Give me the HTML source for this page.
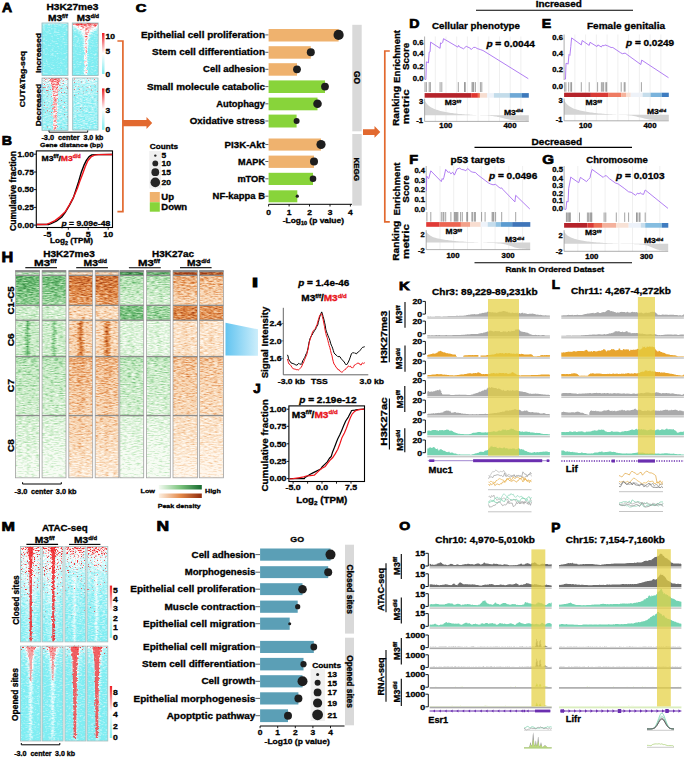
<!DOCTYPE html>
<html><head><meta charset="utf-8"><style>
html,body{margin:0;padding:0;background:#fff;}
svg{display:block;}
text{font-family:"Liberation Sans",sans-serif;font-weight:bold;stroke:#000;stroke-width:0.3px;}
</style></head><body>
<svg width="685" height="758" viewBox="0 0 685 758">
<defs>
<filter id="fRC" x="0" y="0" width="1" height="1" color-interpolation-filters="sRGB">
 <feTurbulence type="fractalNoise" baseFrequency="0.35 0.9" numOctaves="2" seed="3" result="n"/>
 <feColorMatrix in="n" type="matrix" values="1 0 0 0 0 1 0 0 0 0 1 0 0 0 0 0 0 0 0 1" result="ng"/>
 <feComposite in="SourceGraphic" in2="ng" operator="arithmetic" k1="0" k2="1" k3="0.9" k4="-0.45" result="v"/>
 <feComponentTransfer in="v">
  <feFuncR type="table" tableValues="0.51 1 0.94"/>
  <feFuncG type="table" tableValues="0.92 1 0.13"/>
  <feFuncB type="table" tableValues="0.94 1 0.15"/>
 </feComponentTransfer>
 <feGaussianBlur stdDeviation="0.45"/>
 <feComposite in2="SourceGraphic" operator="in"/>
</filter>
<filter id="fRCa" x="0" y="0" width="1" height="1" color-interpolation-filters="sRGB">
 <feTurbulence type="fractalNoise" baseFrequency="0.35 0.9" numOctaves="2" seed="4" result="n"/>
 <feColorMatrix in="n" type="matrix" values="1 0 0 0 0 1 0 0 0 0 1 0 0 0 0 0 0 0 0 1" result="ng"/>
 <feComposite in="SourceGraphic" in2="ng" operator="arithmetic" k1="0" k2="1" k3="0.75" k4="-0.41" result="v"/>
 <feComponentTransfer in="v">
  <feFuncR type="table" tableValues="0.50 1 0.94"/>
  <feFuncG type="table" tableValues="0.93 1 0.13"/>
  <feFuncB type="table" tableValues="0.95 1 0.15"/>
 </feComponentTransfer>
 <feGaussianBlur stdDeviation="0.45"/>
 <feComposite in2="SourceGraphic" operator="in"/>
</filter>
<filter id="fG" x="0" y="0" width="1" height="1" color-interpolation-filters="sRGB">
 <feTurbulence type="fractalNoise" baseFrequency="0.22 0.9" numOctaves="2" seed="5" result="n"/>
 <feColorMatrix in="n" type="matrix" values="1 0 0 0 0 1 0 0 0 0 1 0 0 0 0 0 0 0 0 1" result="ng"/>
 <feComposite in="SourceGraphic" in2="ng" operator="arithmetic" k1="0" k2="1" k3="0.9" k4="-0.45" result="v"/>
 <feComponentTransfer in="v">
  <feFuncR type="table" tableValues="0.97 0.76 0.42 0.14"/>
  <feFuncG type="table" tableValues="0.99 0.91 0.73 0.47"/>
  <feFuncB type="table" tableValues="0.96 0.75 0.45 0.20"/>
 </feComponentTransfer>
 <feGaussianBlur stdDeviation="0.3"/>
 <feComposite in2="SourceGraphic" operator="in"/>
</filter>
<filter id="fO" x="0" y="0" width="1" height="1" color-interpolation-filters="sRGB">
 <feTurbulence type="fractalNoise" baseFrequency="0.22 0.9" numOctaves="2" seed="9" result="n"/>
 <feColorMatrix in="n" type="matrix" values="1 0 0 0 0 1 0 0 0 0 1 0 0 0 0 0 0 0 0 1" result="ng"/>
 <feComposite in="SourceGraphic" in2="ng" operator="arithmetic" k1="0" k2="1" k3="0.9" k4="-0.45" result="v"/>
 <feComponentTransfer in="v">
  <feFuncR type="table" tableValues="1.0 0.97 0.87 0.62"/>
  <feFuncG type="table" tableValues="0.97 0.83 0.52 0.22"/>
  <feFuncB type="table" tableValues="0.93 0.69 0.26 0.06"/>
 </feComponentTransfer>
 <feGaussianBlur stdDeviation="0.3"/>
 <feComposite in2="SourceGraphic" operator="in"/>
</filter>
<filter id="blur1"><feGaussianBlur stdDeviation="1"/></filter>
<filter id="spk" x="0" y="0" width="1" height="1" color-interpolation-filters="sRGB">
 <feTurbulence type="fractalNoise" baseFrequency="0.7 0.95" numOctaves="1" seed="21" result="n"/>
 <feColorMatrix in="n" type="matrix" values="1 0 0 0 0 1 0 0 0 0 1 0 0 0 0 0 0 0 0 1" result="ng"/>
 <feComposite in="SourceGraphic" in2="ng" operator="arithmetic" k1="0" k2="1" k3="1.6" k4="-0.8" result="v"/>
 <feColorMatrix in="v" type="matrix" values="0 0 0 0 0.93 0 0 0 0 0.2 0 0 0 0 0.22 5 0 0 0 -3.3"/>
 <feGaussianBlur stdDeviation="0.3"/>
 <feComposite in2="SourceGraphic" operator="in"/>
</filter>
<filter id="rag" x="-0.2" y="-0.05" width="1.4" height="1.1" color-interpolation-filters="sRGB">
 <feTurbulence type="fractalNoise" baseFrequency="0.7 0.5" numOctaves="1" seed="11" result="t"/>
 <feDisplacementMap in="SourceGraphic" in2="t" scale="3.5" xChannelSelector="R" yChannelSelector="G" result="d"/>
 <feGaussianBlur in="d" stdDeviation="0.35"/>
</filter>
<filter id="blur2"><feGaussianBlur stdDeviation="2"/></filter>
<linearGradient id="cbRC" x1="0" y1="0" x2="0" y2="1"><stop offset="0" stop-color="#ee1c22"/><stop offset="0.5" stop-color="#ffffff"/><stop offset="1" stop-color="#80ebef"/></linearGradient>
<linearGradient id="cbG" x1="0" y1="0" x2="1" y2="0"><stop offset="0" stop-color="#f4fbf2"/><stop offset="0.5" stop-color="#7cc47e"/><stop offset="1" stop-color="#16692e"/></linearGradient>
<linearGradient id="cbO" x1="0" y1="0" x2="1" y2="0"><stop offset="0" stop-color="#fdf0e2"/><stop offset="0.5" stop-color="#e48a4a"/><stop offset="1" stop-color="#8e2a0c"/></linearGradient>
</defs>
<text transform="translate(1.90 12.05) scale(1.076 1)" x="0" y="0" font-size="13.04" style="stroke-width:0.75px">A</text>
<text transform="translate(1.72 145.25) scale(1.047 1)" x="0" y="0" font-size="13.62" style="stroke-width:0.75px">B</text>
<text transform="translate(135.66 12.33) scale(1.269 1)" x="0" y="0" font-size="11.55" style="stroke-width:0.75px">C</text>
<text transform="translate(409.33 27.85) scale(1.135 1)" x="0" y="0" font-size="12.46" style="stroke-width:0.75px">D</text>
<text transform="translate(541.73 28.35) scale(1.098 1)" x="0" y="0" font-size="12.90" style="stroke-width:0.75px">E</text>
<text transform="translate(409.31 164.05) scale(1.100 1)" x="0" y="0" font-size="13.19" style="stroke-width:0.75px">F</text>
<text transform="translate(542.25 164.02) scale(1.129 1)" x="0" y="0" font-size="13.38" style="stroke-width:0.75px">G</text>
<text transform="translate(1.59 262.35) scale(1.134 1)" x="0" y="0" font-size="14.35" style="stroke-width:0.75px">H</text>
<text transform="translate(251.63 286.95) scale(1.740 1)" x="0" y="0" font-size="13.48" style="stroke-width:0.75px">I</text>
<text transform="translate(253.15 393.12) scale(1.060 1)" x="0" y="0" font-size="12.71" style="stroke-width:0.75px">J</text>
<text transform="translate(399.08 289.65) scale(1.317 1)" x="0" y="0" font-size="11.30" style="stroke-width:0.75px">K</text>
<text transform="translate(551.78 289.45) scale(1.039 1)" x="0" y="0" font-size="12.90" style="stroke-width:0.75px">L</text>
<text transform="translate(1.60 530.85) scale(1.211 1)" x="0" y="0" font-size="13.33" style="stroke-width:0.75px">M</text>
<text transform="translate(156.52 530.85) scale(1.255 1)" x="0" y="0" font-size="13.91" style="stroke-width:0.75px">N</text>
<text transform="translate(399.19 529.73) scale(1.192 1)" x="0" y="0" font-size="11.83" style="stroke-width:0.75px">O</text>
<text transform="translate(551.36 532.25) scale(1.111 1)" x="0" y="0" font-size="12.32" style="stroke-width:0.75px">P</text>
<text x="265.0" y="38.0" font-size="8.70" text-anchor="end" fill="#000" textLength="124.0" lengthAdjust="spacingAndGlyphs">Epithelial cell proliferation</text>
<line x1="265.3" y1="34.9" x2="268.6" y2="34.9" stroke="#333" stroke-width="0.8"/>
<rect x="268.6" y="29.0" width="70.0" height="12.5" fill="#efb26e"/>
<circle cx="338.6" cy="34.9" r="5.1" fill="#1e1e1e"/>
<text x="265.0" y="55.4" font-size="8.70" text-anchor="end" fill="#000" textLength="113.0" lengthAdjust="spacingAndGlyphs">Stem cell differentiation</text>
<line x1="265.3" y1="52.3" x2="268.6" y2="52.3" stroke="#333" stroke-width="0.8"/>
<rect x="268.6" y="46.2" width="42.2" height="12.5" fill="#efb26e"/>
<circle cx="310.8" cy="52.3" r="4.0" fill="#1e1e1e"/>
<text x="265.0" y="72.4" font-size="8.70" text-anchor="end" fill="#000" textLength="61.9" lengthAdjust="spacingAndGlyphs">Cell adhesion</text>
<line x1="265.3" y1="69.3" x2="268.6" y2="69.3" stroke="#333" stroke-width="0.8"/>
<rect x="268.6" y="63.2" width="28.4" height="12.5" fill="#efb26e"/>
<circle cx="297.0" cy="69.3" r="3.9" fill="#1e1e1e"/>
<text x="265.0" y="89.7" font-size="8.70" text-anchor="end" fill="#000" textLength="118.1" lengthAdjust="spacingAndGlyphs">Small molecule catabolic</text>
<line x1="265.3" y1="86.6" x2="268.6" y2="86.6" stroke="#333" stroke-width="0.8"/>
<rect x="268.6" y="80.4" width="56.4" height="12.6" fill="#88d43a"/>
<circle cx="325.0" cy="86.6" r="3.9" fill="#1e1e1e"/>
<text x="265.0" y="106.9" font-size="8.70" text-anchor="end" fill="#000" textLength="48.8" lengthAdjust="spacingAndGlyphs">Autophagy</text>
<line x1="265.3" y1="103.8" x2="268.6" y2="103.8" stroke="#333" stroke-width="0.8"/>
<rect x="268.6" y="97.6" width="48.9" height="12.7" fill="#88d43a"/>
<circle cx="317.5" cy="103.8" r="4.3" fill="#1e1e1e"/>
<text x="265.0" y="124.1" font-size="8.70" text-anchor="end" fill="#000" textLength="75.2" lengthAdjust="spacingAndGlyphs">Oxidative stress</text>
<line x1="265.3" y1="121.0" x2="268.6" y2="121.0" stroke="#333" stroke-width="0.8"/>
<rect x="268.6" y="114.6" width="28.0" height="12.9" fill="#88d43a"/>
<circle cx="296.6" cy="121.0" r="3.0" fill="#1e1e1e"/>
<text x="265.0" y="147.6" font-size="8.70" text-anchor="end" fill="#000" textLength="40.4" lengthAdjust="spacingAndGlyphs">PI3K-Akt</text>
<line x1="265.3" y1="144.5" x2="268.6" y2="144.5" stroke="#333" stroke-width="0.8"/>
<rect x="268.6" y="138.5" width="52.4" height="12.1" fill="#efb26e"/>
<circle cx="321.0" cy="144.5" r="4.6" fill="#1e1e1e"/>
<text x="265.0" y="164.6" font-size="8.70" text-anchor="end" fill="#000" textLength="26.9" lengthAdjust="spacingAndGlyphs">MAPK</text>
<line x1="265.3" y1="161.5" x2="268.6" y2="161.5" stroke="#333" stroke-width="0.8"/>
<rect x="268.6" y="155.6" width="45.4" height="12.3" fill="#efb26e"/>
<circle cx="314.0" cy="161.5" r="4.0" fill="#1e1e1e"/>
<text x="265.0" y="181.9" font-size="8.70" text-anchor="end" fill="#000" textLength="27.6" lengthAdjust="spacingAndGlyphs">mTOR</text>
<line x1="265.3" y1="178.8" x2="268.6" y2="178.8" stroke="#333" stroke-width="0.8"/>
<rect x="268.6" y="172.8" width="44.4" height="12.2" fill="#88d43a"/>
<circle cx="313.0" cy="178.8" r="3.3" fill="#1e1e1e"/>
<text x="265.0" y="199.3" font-size="8.70" text-anchor="end" fill="#000" textLength="52.4" lengthAdjust="spacingAndGlyphs">NF-kappa B</text>
<line x1="265.3" y1="196.2" x2="268.6" y2="196.2" stroke="#333" stroke-width="0.8"/>
<rect x="268.6" y="190.3" width="28.7" height="12.0" fill="#88d43a"/>
<circle cx="297.3" cy="196.2" r="1.6" fill="#1e1e1e"/>
<rect x="352.3" y="24.8" width="9.4" height="106.5" fill="#d9d9d9"/>
<rect x="352.3" y="134.0" width="9.4" height="71.6" fill="#d9d9d9"/>
<text x="356.8" y="80.7" font-size="8.50" text-anchor="middle" fill="#000" textLength="13.2" lengthAdjust="spacingAndGlyphs" transform="rotate(90 356.8 77.6)">GO</text>
<text x="356.8" y="172.1" font-size="8.00" text-anchor="middle" fill="#000" textLength="23.6" lengthAdjust="spacingAndGlyphs" transform="rotate(90 356.8 169.2)">KEGG</text>
<line x1="268.6" y1="204.3" x2="352.0" y2="204.3" stroke="#000" stroke-width="1"/>
<line x1="268.6" y1="204.3" x2="268.6" y2="206.5" stroke="#000" stroke-width="0.9"/>
<text x="268.6" y="215.1" font-size="7.39" text-anchor="middle" fill="#000" textLength="4.7" lengthAdjust="spacingAndGlyphs">0</text>
<line x1="289.1" y1="204.3" x2="289.1" y2="206.5" stroke="#000" stroke-width="0.9"/>
<text x="289.1" y="215.1" font-size="7.39" text-anchor="middle" fill="#000" textLength="4.7" lengthAdjust="spacingAndGlyphs">1</text>
<line x1="309.5" y1="204.3" x2="309.5" y2="206.5" stroke="#000" stroke-width="0.9"/>
<text x="309.5" y="215.1" font-size="7.39" text-anchor="middle" fill="#000" textLength="4.7" lengthAdjust="spacingAndGlyphs">2</text>
<line x1="330.0" y1="204.3" x2="330.0" y2="206.5" stroke="#000" stroke-width="0.9"/>
<text x="330.0" y="215.1" font-size="7.39" text-anchor="middle" fill="#000" textLength="4.7" lengthAdjust="spacingAndGlyphs">3</text>
<line x1="350.4" y1="204.3" x2="350.4" y2="206.5" stroke="#000" stroke-width="0.9"/>
<text x="350.4" y="215.1" font-size="7.39" text-anchor="middle" fill="#000" textLength="4.7" lengthAdjust="spacingAndGlyphs">4</text>
<text x="282.7" y="222.8" font-size="7.22" text-anchor="start" textLength="61.3" lengthAdjust="spacingAndGlyphs">-Log<tspan font-size="4.69" dy="1.80">10</tspan><tspan dy="-1.80"> (p value)</tspan></text>
<text x="149.8" y="149.1" font-size="7.13" text-anchor="start" fill="#000" textLength="28.2" lengthAdjust="spacingAndGlyphs">Counts</text>
<rect x="149.3" y="151.0" width="11.7" height="37.5" fill="#f0f0f0"/>
<circle cx="155.3" cy="155.6" r="1.2" fill="#262626"/>
<text x="161.6" y="158.3" font-size="7.39" text-anchor="start" fill="#000" textLength="4.7" lengthAdjust="spacingAndGlyphs">5</text>
<circle cx="155.3" cy="163.4" r="2.9" fill="#262626"/>
<text x="161.6" y="166.1" font-size="7.39" text-anchor="start" fill="#000" textLength="9.5" lengthAdjust="spacingAndGlyphs">10</text>
<circle cx="155.3" cy="172.2" r="3.9" fill="#262626"/>
<text x="161.6" y="174.9" font-size="7.39" text-anchor="start" fill="#000" textLength="9.5" lengthAdjust="spacingAndGlyphs">15</text>
<circle cx="155.3" cy="182.4" r="4.8" fill="#262626"/>
<text x="161.6" y="185.1" font-size="7.39" text-anchor="start" fill="#000" textLength="9.5" lengthAdjust="spacingAndGlyphs">20</text>
<rect x="149.8" y="192.0" width="10.0" height="10.0" fill="#efb26e"/>
<text x="161.3" y="200.3" font-size="8.26" text-anchor="start" fill="#000" textLength="12.7" lengthAdjust="spacingAndGlyphs">Up</text>
<rect x="149.8" y="202.2" width="10.0" height="9.5" fill="#88d43a"/>
<text x="161.3" y="210.2" font-size="8.26" text-anchor="start" fill="#000" textLength="25.9" lengthAdjust="spacingAndGlyphs">Down</text>
<text x="255.3" y="557.7" font-size="8.70" text-anchor="end" fill="#000" textLength="63.7" lengthAdjust="spacingAndGlyphs">Cell adhesion</text>
<line x1="255.4" y1="554.6" x2="260.1" y2="554.6" stroke="#333" stroke-width="0.8"/>
<rect x="260.1" y="548.5" width="70.4" height="12.2" fill="#5b9fb6"/>
<circle cx="330.5" cy="554.6" r="5.0" fill="#1e1e1e"/>
<text x="255.3" y="575.3" font-size="8.70" text-anchor="end" fill="#000" textLength="70.6" lengthAdjust="spacingAndGlyphs">Morphogenesis</text>
<line x1="255.4" y1="572.2" x2="260.1" y2="572.2" stroke="#333" stroke-width="0.8"/>
<rect x="260.1" y="566.2" width="68.1" height="11.9" fill="#5b9fb6"/>
<circle cx="328.2" cy="572.2" r="4.0" fill="#1e1e1e"/>
<text x="255.3" y="592.3" font-size="8.70" text-anchor="end" fill="#000" textLength="125.0" lengthAdjust="spacingAndGlyphs">Epithelial cell proliferation</text>
<line x1="255.4" y1="589.2" x2="260.1" y2="589.2" stroke="#333" stroke-width="0.8"/>
<rect x="260.1" y="583.2" width="42.4" height="11.9" fill="#5b9fb6"/>
<circle cx="302.5" cy="589.2" r="4.3" fill="#1e1e1e"/>
<text x="255.3" y="609.8" font-size="8.70" text-anchor="end" fill="#000" textLength="90.8" lengthAdjust="spacingAndGlyphs">Muscle contraction</text>
<line x1="255.4" y1="606.7" x2="260.1" y2="606.7" stroke="#333" stroke-width="0.8"/>
<rect x="260.1" y="600.6" width="37.6" height="12.2" fill="#5b9fb6"/>
<circle cx="297.7" cy="606.7" r="2.6" fill="#1e1e1e"/>
<text x="255.3" y="626.8" font-size="8.70" text-anchor="end" fill="#000" textLength="112.2" lengthAdjust="spacingAndGlyphs">Epithelial cell migration</text>
<line x1="255.4" y1="623.7" x2="260.1" y2="623.7" stroke="#333" stroke-width="0.8"/>
<rect x="260.1" y="617.6" width="29.6" height="12.2" fill="#5b9fb6"/>
<circle cx="289.7" cy="623.7" r="1.5" fill="#1e1e1e"/>
<text x="255.3" y="650.1" font-size="8.70" text-anchor="end" fill="#000" textLength="112.2" lengthAdjust="spacingAndGlyphs">Epithelial cell migration</text>
<line x1="255.4" y1="647.0" x2="260.1" y2="647.0" stroke="#333" stroke-width="0.8"/>
<rect x="260.1" y="640.9" width="53.7" height="12.1" fill="#5b9fb6"/>
<circle cx="313.8" cy="647.0" r="3.4" fill="#1e1e1e"/>
<text x="255.3" y="667.3" font-size="8.70" text-anchor="end" fill="#000" textLength="113.3" lengthAdjust="spacingAndGlyphs">Stem cell differentiation</text>
<line x1="255.4" y1="664.2" x2="260.1" y2="664.2" stroke="#333" stroke-width="0.8"/>
<rect x="260.1" y="657.9" width="43.4" height="12.5" fill="#5b9fb6"/>
<circle cx="303.5" cy="664.2" r="3.1" fill="#1e1e1e"/>
<text x="255.3" y="684.4" font-size="8.70" text-anchor="end" fill="#000" textLength="53.9" lengthAdjust="spacingAndGlyphs">Cell growth</text>
<line x1="255.4" y1="681.3" x2="260.1" y2="681.3" stroke="#333" stroke-width="0.8"/>
<rect x="260.1" y="675.2" width="42.4" height="12.2" fill="#5b9fb6"/>
<circle cx="302.5" cy="681.3" r="5.0" fill="#1e1e1e"/>
<text x="255.3" y="701.5" font-size="8.70" text-anchor="end" fill="#000" textLength="121.7" lengthAdjust="spacingAndGlyphs">Epithelial morphogenesis</text>
<line x1="255.4" y1="698.4" x2="260.1" y2="698.4" stroke="#333" stroke-width="0.8"/>
<rect x="260.1" y="692.3" width="38.3" height="12.2" fill="#5b9fb6"/>
<circle cx="298.4" cy="698.4" r="4.0" fill="#1e1e1e"/>
<text x="255.3" y="718.8" font-size="8.70" text-anchor="end" fill="#000" textLength="88.6" lengthAdjust="spacingAndGlyphs">Apoptptic pathway</text>
<line x1="255.4" y1="715.7" x2="260.1" y2="715.7" stroke="#333" stroke-width="0.8"/>
<rect x="260.1" y="709.3" width="27.9" height="12.8" fill="#5b9fb6"/>
<circle cx="288.0" cy="715.7" r="4.0" fill="#1e1e1e"/>
<text x="297.2" y="541.7" font-size="7.65" text-anchor="middle" fill="#000" textLength="13.7" lengthAdjust="spacingAndGlyphs">GO</text>
<rect x="345.0" y="544.7" width="9.0" height="88.9" fill="#d9d9d9"/>
<rect x="345.0" y="637.7" width="9.0" height="87.6" fill="#d9d9d9"/>
<text x="349.5" y="592.2" font-size="8.40" text-anchor="middle" fill="#000" textLength="49.5" lengthAdjust="spacingAndGlyphs" transform="rotate(90 349.5 589.2)">Closed sites</text>
<text x="349.5" y="684.5" font-size="8.40" text-anchor="middle" fill="#000" textLength="52.7" lengthAdjust="spacingAndGlyphs" transform="rotate(90 349.5 681.5)">Opened sites</text>
<line x1="260.1" y1="726.0" x2="344.5" y2="726.0" stroke="#000" stroke-width="1"/>
<line x1="260.1" y1="726.0" x2="260.1" y2="728.2" stroke="#000" stroke-width="0.9"/>
<text x="260.1" y="734.5" font-size="7.39" text-anchor="middle" fill="#000" textLength="4.7" lengthAdjust="spacingAndGlyphs">0</text>
<line x1="277.7" y1="726.0" x2="277.7" y2="728.2" stroke="#000" stroke-width="0.9"/>
<text x="277.7" y="734.5" font-size="7.39" text-anchor="middle" fill="#000" textLength="4.7" lengthAdjust="spacingAndGlyphs">1</text>
<line x1="295.3" y1="726.0" x2="295.3" y2="728.2" stroke="#000" stroke-width="0.9"/>
<text x="295.3" y="734.5" font-size="7.39" text-anchor="middle" fill="#000" textLength="4.7" lengthAdjust="spacingAndGlyphs">2</text>
<line x1="312.9" y1="726.0" x2="312.9" y2="728.2" stroke="#000" stroke-width="0.9"/>
<text x="312.9" y="734.5" font-size="7.39" text-anchor="middle" fill="#000" textLength="4.7" lengthAdjust="spacingAndGlyphs">3</text>
<line x1="330.5" y1="726.0" x2="330.5" y2="728.2" stroke="#000" stroke-width="0.9"/>
<text x="330.5" y="734.5" font-size="7.39" text-anchor="middle" fill="#000" textLength="4.7" lengthAdjust="spacingAndGlyphs">4</text>
<text x="264.6" y="743.7" font-size="7.39" text-anchor="start" fill="#000" textLength="65.2" lengthAdjust="spacingAndGlyphs">-Log10 (p value)</text>
<rect x="310.6" y="668.8" width="14.4" height="52.2" fill="#f0f0f0"/>
<text x="312.2" y="667.6" font-size="7.30" text-anchor="start" fill="#000" textLength="28.9" lengthAdjust="spacingAndGlyphs">Counts</text>
<circle cx="317.6" cy="674.6" r="1.5" fill="#1e1e1e"/>
<text x="327.4" y="677.3" font-size="7.39" text-anchor="start" fill="#000" textLength="9.5" lengthAdjust="spacingAndGlyphs">13</text>
<circle cx="317.6" cy="682.8" r="3.0" fill="#1e1e1e"/>
<text x="327.4" y="685.5" font-size="7.39" text-anchor="start" fill="#000" textLength="9.5" lengthAdjust="spacingAndGlyphs">15</text>
<circle cx="317.6" cy="692.4" r="3.9" fill="#1e1e1e"/>
<text x="327.4" y="695.1" font-size="7.39" text-anchor="start" fill="#000" textLength="9.5" lengthAdjust="spacingAndGlyphs">17</text>
<circle cx="317.6" cy="703.0" r="4.6" fill="#1e1e1e"/>
<text x="327.4" y="705.7" font-size="7.39" text-anchor="start" fill="#000" textLength="9.5" lengthAdjust="spacingAndGlyphs">19</text>
<circle cx="317.6" cy="714.8" r="5.4" fill="#1e1e1e"/>
<text x="327.4" y="717.5" font-size="7.39" text-anchor="start" fill="#000" textLength="9.5" lengthAdjust="spacingAndGlyphs">21</text>
<rect x="36.3" y="150.9" width="76.2" height="76.6" fill="none" stroke="#000" stroke-width="1.1"/>
<line x1="34.0" y1="154.2" x2="36.3" y2="154.2" stroke="#000" stroke-width="0.9"/>
<text x="33.8" y="157.0" font-size="7.65" text-anchor="end" fill="#000" textLength="16.2" lengthAdjust="spacingAndGlyphs">1.00</text>
<line x1="34.0" y1="172.0" x2="36.3" y2="172.0" stroke="#000" stroke-width="0.9"/>
<text x="33.8" y="174.8" font-size="7.65" text-anchor="end" fill="#000" textLength="16.2" lengthAdjust="spacingAndGlyphs">0.75</text>
<line x1="34.0" y1="189.6" x2="36.3" y2="189.6" stroke="#000" stroke-width="0.9"/>
<text x="33.8" y="192.4" font-size="7.65" text-anchor="end" fill="#000" textLength="16.2" lengthAdjust="spacingAndGlyphs">0.50</text>
<line x1="34.0" y1="207.4" x2="36.3" y2="207.4" stroke="#000" stroke-width="0.9"/>
<text x="33.8" y="210.2" font-size="7.65" text-anchor="end" fill="#000" textLength="16.2" lengthAdjust="spacingAndGlyphs">0.25</text>
<line x1="34.0" y1="225.1" x2="36.3" y2="225.1" stroke="#000" stroke-width="0.9"/>
<text x="33.8" y="227.9" font-size="7.65" text-anchor="end" fill="#000" textLength="16.2" lengthAdjust="spacingAndGlyphs">0.00</text>
<line x1="47.4" y1="227.5" x2="47.4" y2="229.7" stroke="#000" stroke-width="0.9"/>
<text x="47.4" y="237.0" font-size="7.65" text-anchor="middle" fill="#000" textLength="7.8" lengthAdjust="spacingAndGlyphs">-5</text>
<line x1="68.3" y1="227.5" x2="68.3" y2="229.7" stroke="#000" stroke-width="0.9"/>
<text x="68.3" y="237.0" font-size="7.65" text-anchor="middle" fill="#000" textLength="4.9" lengthAdjust="spacingAndGlyphs">0</text>
<line x1="88.2" y1="227.5" x2="88.2" y2="229.7" stroke="#000" stroke-width="0.9"/>
<text x="88.2" y="237.0" font-size="7.65" text-anchor="middle" fill="#000" textLength="4.9" lengthAdjust="spacingAndGlyphs">5</text>
<line x1="108.2" y1="227.5" x2="108.2" y2="229.7" stroke="#000" stroke-width="0.9"/>
<text x="108.2" y="237.0" font-size="7.65" text-anchor="middle" fill="#000" textLength="9.8" lengthAdjust="spacingAndGlyphs">10</text>
<text x="50.0" y="243.1" font-size="7.22" text-anchor="start" textLength="43.0" lengthAdjust="spacingAndGlyphs">Log<tspan font-size="4.69" dy="1.80">2</tspan><tspan dy="-1.80"> (TPM)</tspan></text>
<text x="12.9" y="194.1" font-size="8.60" text-anchor="middle" fill="#000" textLength="80.0" lengthAdjust="spacingAndGlyphs" transform="rotate(-90 12.9 191.0)">Cumulative fraction</text>
<path d="M36.8,224.5 L48.4,224.5 L51.0,223.6 L56.3,221.2 L61.5,217.3 L65.5,212.0 L69.4,205.4 L73.4,197.6 L76.0,189.7 L78.6,181.8 L81.2,172.6 L83.9,165.4 L86.5,160.1 L89.1,156.6 L91.8,154.9 L95.7,154.6 L112.1,154.5" stroke="#000" stroke-width="1.4" fill="none" stroke-linejoin="round"/>
<path d="M36.8,224.5 L47.1,224.2 L49.7,223.2 L55.0,220.6 L60.2,216.6 L65.5,211.4 L69.4,204.8 L73.4,197.6 L77.3,188.4 L79.9,181.1 L82.6,173.9 L85.2,166.7 L87.8,160.8 L91.1,156.8 L94.4,155.1 L98.3,154.6 L112.1,154.5" stroke="#f0141b" stroke-width="1.4" fill="none" stroke-linejoin="round"/>
<text x="41.6" y="161.0" font-size="7.83" textLength="39.0" lengthAdjust="spacingAndGlyphs">M3<tspan font-size="4.70" dy="-2.97">f/f</tspan><tspan dy="2.97">/</tspan><tspan fill="#e8141b" stroke="#e8141b">M3</tspan><tspan font-size="4.70" dy="-2.97" fill="#e8141b" stroke="#e8141b">d/d</tspan></text>
<text x="61.5" y="225.9" font-size="7.39" text-anchor="start" textLength="48.7" lengthAdjust="spacingAndGlyphs"><tspan font-style="italic">p</tspan> = 9.09e-48</text>
<line x1="283.3" y1="307.8" x2="283.3" y2="374.8" stroke="#555" stroke-width="0.9"/>
<line x1="283.3" y1="374.8" x2="368.3" y2="374.8" stroke="#555" stroke-width="0.9"/>
<line x1="281.3" y1="323.5" x2="283.3" y2="323.5" stroke="#555" stroke-width="0.8"/>
<text x="281.5" y="326.2" font-size="7.48" text-anchor="end" fill="#000" textLength="12.0" lengthAdjust="spacingAndGlyphs">2.4</text>
<line x1="281.3" y1="340.9" x2="283.3" y2="340.9" stroke="#555" stroke-width="0.8"/>
<text x="281.5" y="343.6" font-size="7.48" text-anchor="end" fill="#000" textLength="12.0" lengthAdjust="spacingAndGlyphs">2.0</text>
<line x1="281.3" y1="358.3" x2="283.3" y2="358.3" stroke="#555" stroke-width="0.8"/>
<text x="281.5" y="361.0" font-size="7.48" text-anchor="end" fill="#000" textLength="12.0" lengthAdjust="spacingAndGlyphs">1.6</text>
<text x="277.8" y="383.7" font-size="7.48" text-anchor="start" fill="#000" textLength="27.2" lengthAdjust="spacingAndGlyphs">-3.0 kb</text>
<text x="319.4" y="383.7" font-size="7.48" text-anchor="middle" fill="#000" textLength="16.7" lengthAdjust="spacingAndGlyphs">TSS</text>
<text x="359.6" y="383.7" font-size="7.48" text-anchor="start" fill="#000" textLength="24.4" lengthAdjust="spacingAndGlyphs">3.0 kb</text>
<text x="264.5" y="346.0" font-size="9.70" text-anchor="middle" fill="#000" textLength="71.7" lengthAdjust="spacingAndGlyphs" transform="rotate(-90 264.5 342.5)">Signal Intensity</text>
<text x="298.2" y="286.4" font-size="8.70" text-anchor="start" textLength="51.1" lengthAdjust="spacingAndGlyphs"><tspan font-style="italic">p</tspan> = 1.4e-46</text>
<text x="301.3" y="301.1" font-size="8.70" textLength="45.4" lengthAdjust="spacingAndGlyphs">M3<tspan font-size="5.22" dy="-3.30">f/f</tspan><tspan dy="3.30">/</tspan><tspan fill="#e8141b" stroke="#e8141b">M3</tspan><tspan font-size="5.22" dy="-3.30" fill="#e8141b" stroke="#e8141b">d/d</tspan></text>
<path d="M287.4,354.8 L288.0,356.0 L288.5,358.7 L289.0,359.9 L289.7,361.3 L290.4,361.6 L291.1,363.0 L292.1,363.3 L293.1,363.6 L294.2,364.0 L295.2,364.6 L296.2,365.1 L297.2,365.0 L297.9,364.0 L298.6,363.4 L299.3,363.6 L299.9,364.3 L300.6,364.1 L301.3,364.4 L302.0,363.3 L302.7,360.7 L303.4,359.9 L304.0,358.5 L304.7,357.5 L305.4,355.8 L306.1,353.8 L306.8,353.1 L307.4,350.7 L308.1,347.9 L308.8,343.3 L309.5,340.5 L310.2,338.1 L310.8,337.2 L311.5,335.4 L312.2,335.0 L312.9,333.2 L313.6,332.3 L314.3,330.9 L314.9,330.2 L315.6,329.3 L316.3,327.2 L317.0,326.2 L317.7,325.2 L318.3,322.4 L319.0,319.7 L319.7,317.0 L320.4,314.9 L321.1,313.2 L321.7,311.9 L322.4,313.9 L323.1,316.6 L323.8,319.0 L324.5,322.2 L325.2,325.2 L325.8,329.3 L326.5,331.8 L327.2,333.4 L327.9,335.4 L328.6,337.3 L329.2,338.4 L329.9,340.5 L330.6,343.2 L331.3,345.1 L332.0,346.6 L332.6,348.2 L333.3,350.5 L334.0,352.8 L335.0,354.1 L336.1,355.1 L337.1,355.8 L338.1,356.8 L339.1,356.4 L340.1,356.9 L341.2,358.7 L342.2,359.8 L343.2,360.9 L344.2,362.0 L345.3,363.8 L346.3,365.0 L347.3,363.9 L348.3,362.1 L349.3,359.9 L350.0,357.9 L350.7,356.0 L351.4,353.8 L352.4,352.8 L353.4,352.8 L354.4,352.8 L355.1,353.5 L355.8,353.3 L356.5,353.8 L357.2,352.7 L357.9,352.5 L358.5,351.7 L359.2,351.4 L359.9,350.6 L360.6,349.7 L361.3,348.7 L361.9,348.0 L362.6,347.3 L363.3,347.1 L364.0,347.2 L364.7,346.6" stroke="#000" stroke-width="1.0" fill="none" stroke-linejoin="round"/>
<path d="M287.4,358.9 L288.0,361.2 L288.5,362.9 L289.0,364.0 L290.1,364.6 L291.1,365.9 L292.1,367.7 L293.1,368.6 L294.2,369.0 L295.2,369.1 L296.2,369.7 L297.2,369.5 L298.2,370.1 L299.3,369.3 L300.3,368.2 L301.3,367.1 L302.0,365.8 L302.7,363.9 L303.4,363.0 L304.0,361.2 L304.7,359.4 L305.4,357.9 L306.1,356.1 L306.8,354.5 L307.4,351.7 L308.1,349.0 L308.8,345.0 L309.5,341.5 L310.2,339.4 L310.8,337.1 L311.5,335.4 L312.2,333.0 L312.9,331.3 L313.6,330.3 L314.3,329.6 L314.9,328.7 L315.6,328.2 L316.3,326.0 L317.0,324.7 L317.7,322.1 L318.3,319.9 L319.0,317.7 L319.7,315.4 L320.4,314.5 L321.1,313.8 L321.7,313.9 L322.4,316.8 L323.1,319.6 L323.8,323.1 L324.5,326.6 L325.2,330.6 L325.8,333.4 L326.5,336.0 L327.2,337.7 L327.9,340.5 L328.6,343.4 L329.2,345.7 L329.9,347.7 L330.6,350.7 L331.3,353.7 L332.0,355.8 L332.6,358.9 L333.3,361.7 L334.0,364.0 L335.0,365.2 L336.1,367.4 L337.1,368.1 L338.1,369.8 L339.1,369.7 L340.1,371.2 L340.8,371.9 L341.5,372.1 L342.2,372.2 L342.9,371.5 L343.5,370.9 L344.2,370.1 L344.9,369.4 L345.6,369.4 L346.3,368.1 L347.0,367.4 L347.6,367.2 L348.3,366.1 L349.0,365.9 L349.7,366.6 L350.4,366.1 L351.0,367.3 L351.7,367.4 L352.4,368.1 L353.1,367.2 L353.8,366.6 L354.4,365.0 L355.1,365.0 L355.8,364.3 L356.5,364.0 L357.2,363.3 L357.9,363.1 L358.5,363.0 L359.2,364.0 L359.9,363.9 L360.6,365.0 L361.3,364.9 L361.9,363.3 L362.6,363.0 L363.3,363.6 L364.0,362.7 L364.7,363.0" stroke="#f0141b" stroke-width="1.0" fill="none" stroke-linejoin="round"/>
<rect x="288.9" y="405.9" width="75.6" height="75.6" fill="none" stroke="#000" stroke-width="1.1"/>
<line x1="286.7" y1="409.2" x2="288.9" y2="409.2" stroke="#000" stroke-width="0.9"/>
<text x="286.5" y="412.0" font-size="7.65" text-anchor="end" fill="#000" textLength="17.1" lengthAdjust="spacingAndGlyphs">1.00</text>
<line x1="286.7" y1="426.3" x2="288.9" y2="426.3" stroke="#000" stroke-width="0.9"/>
<text x="286.5" y="429.1" font-size="7.65" text-anchor="end" fill="#000" textLength="17.1" lengthAdjust="spacingAndGlyphs">0.75</text>
<line x1="286.7" y1="443.8" x2="288.9" y2="443.8" stroke="#000" stroke-width="0.9"/>
<text x="286.5" y="446.6" font-size="7.65" text-anchor="end" fill="#000" textLength="17.1" lengthAdjust="spacingAndGlyphs">0.50</text>
<line x1="286.7" y1="461.4" x2="288.9" y2="461.4" stroke="#000" stroke-width="0.9"/>
<text x="286.5" y="464.2" font-size="7.65" text-anchor="end" fill="#000" textLength="17.1" lengthAdjust="spacingAndGlyphs">0.25</text>
<line x1="286.7" y1="478.6" x2="288.9" y2="478.6" stroke="#000" stroke-width="0.9"/>
<text x="286.5" y="481.4" font-size="7.65" text-anchor="end" fill="#000" textLength="17.1" lengthAdjust="spacingAndGlyphs">0.00</text>
<line x1="293.1" y1="481.5" x2="293.1" y2="483.7" stroke="#000" stroke-width="0.9"/>
<line x1="307.6" y1="481.5" x2="307.6" y2="483.7" stroke="#000" stroke-width="0.9"/>
<line x1="322.0" y1="481.5" x2="322.0" y2="483.7" stroke="#000" stroke-width="0.9"/>
<line x1="336.5" y1="481.5" x2="336.5" y2="483.7" stroke="#000" stroke-width="0.9"/>
<line x1="351.0" y1="481.5" x2="351.0" y2="483.7" stroke="#000" stroke-width="0.9"/>
<text x="293.1" y="490.1" font-size="7.65" text-anchor="middle" fill="#000" textLength="15.2" lengthAdjust="spacingAndGlyphs">-5.0</text>
<text x="322.0" y="490.1" font-size="7.65" text-anchor="middle" fill="#000" textLength="12.2" lengthAdjust="spacingAndGlyphs">0.0</text>
<text x="351.0" y="490.1" font-size="7.65" text-anchor="middle" fill="#000" textLength="12.2" lengthAdjust="spacingAndGlyphs">7.5</text>
<text x="296.2" y="502.7" font-size="8.52" text-anchor="start" textLength="51.1" lengthAdjust="spacingAndGlyphs">Log<tspan font-size="5.54" dy="2.13">2</tspan><tspan dy="-2.13"> (TPM)</tspan></text>
<text x="264.5" y="449.0" font-size="9.90" text-anchor="middle" fill="#000" textLength="92.4" lengthAdjust="spacingAndGlyphs" transform="rotate(-90 264.5 445.4)">Cumulative fraction</text>
<text x="299.3" y="402.5" font-size="8.70" text-anchor="start" textLength="57.2" lengthAdjust="spacingAndGlyphs"><tspan font-style="italic">p</tspan> = 2.19e-12</text>
<text x="291.8" y="417.5" font-size="8.70" textLength="45.8" lengthAdjust="spacingAndGlyphs">M3<tspan font-size="5.22" dy="-3.30">f/f</tspan><tspan dy="3.30">/</tspan><tspan fill="#e8141b" stroke="#e8141b">M3</tspan><tspan font-size="5.22" dy="-3.30" fill="#e8141b" stroke="#e8141b">d/d</tspan></text>
<path d="M289.5,478.6 L304.3,478.6 L305.0,477.5 L307.6,476.0 L310.2,474.2 L312.9,472.9 L315.5,471.6 L318.1,470.3 L320.7,469.0 L322.0,467.0 L324.7,464.4 L327.3,461.8 L329.3,458.5 L331.2,456.5 L332.6,451.9 L334.5,447.3 L336.5,442.0 L337.8,438.8 L339.8,434.8 L341.8,430.2 L343.7,425.6 L345.7,421.0 L348.3,417.1 L351.0,411.8 L351.6,410.5 L354.9,410.2 L357.5,409.6 L364.1,409.2" stroke="#000" stroke-width="1.2" fill="none" stroke-linejoin="round"/>
<path d="M289.5,478.8 L293.1,478.6 L298.4,477.8 L303.7,476.9 L306.3,476.0 L310.2,475.6 L314.2,475.2 L316.8,472.9 L319.4,470.3 L322.0,468.3 L325.3,466.4 L327.3,463.7 L329.9,460.4 L332.6,457.8 L335.2,453.9 L337.8,449.3 L339.8,444.0 L341.8,438.1 L344.4,432.9 L346.4,428.3 L348.3,423.0 L350.3,417.7 L352.3,413.8 L354.2,411.8 L356.2,410.5 L358.8,409.6 L364.1,409.2" stroke="#f0141b" stroke-width="1.2" fill="none" stroke-linejoin="round"/>
<line x1="435.3" y1="36.5" x2="435.3" y2="121.4" stroke="#e4e4e4" stroke-width="0.6"/>
<line x1="446.0" y1="36.5" x2="446.0" y2="121.4" stroke="#e4e4e4" stroke-width="0.6"/>
<line x1="456.7" y1="36.5" x2="456.7" y2="121.4" stroke="#e4e4e4" stroke-width="0.6"/>
<line x1="467.4" y1="36.5" x2="467.4" y2="121.4" stroke="#e4e4e4" stroke-width="0.6"/>
<line x1="478.1" y1="36.5" x2="478.1" y2="121.4" stroke="#e4e4e4" stroke-width="0.6"/>
<line x1="488.8" y1="36.5" x2="488.8" y2="121.4" stroke="#e4e4e4" stroke-width="0.6"/>
<line x1="499.5" y1="36.5" x2="499.5" y2="121.4" stroke="#e4e4e4" stroke-width="0.6"/>
<line x1="510.2" y1="36.5" x2="510.2" y2="121.4" stroke="#e4e4e4" stroke-width="0.6"/>
<line x1="520.9" y1="36.5" x2="520.9" y2="121.4" stroke="#e4e4e4" stroke-width="0.6"/>
<line x1="424.6" y1="36.5" x2="424.6" y2="79.5" stroke="#999" stroke-width="0.8"/>
<text x="423.4" y="44.5" font-size="6.61" text-anchor="end" fill="#000" textLength="10.6" lengthAdjust="spacingAndGlyphs">0.6</text>
<text x="423.4" y="56.4" font-size="6.61" text-anchor="end" fill="#000" textLength="10.6" lengthAdjust="spacingAndGlyphs">0.4</text>
<text x="423.4" y="68.6" font-size="6.61" text-anchor="end" fill="#000" textLength="10.6" lengthAdjust="spacingAndGlyphs">0.2</text>
<text x="423.4" y="81.0" font-size="6.61" text-anchor="end" fill="#000" textLength="10.6" lengthAdjust="spacingAndGlyphs">0.0</text>
<path d="M425.0,79.5 L425.9,79.5 L426.4,61.9 L427.6,62.2 L428.4,63.1 L429.2,52.1 L430.1,51.8 L430.6,42.1 L440.1,48.3 L440.5,42.9 L441.8,43.4 L442.7,42.4 L443.5,38.7 L457.8,47.1 L458.6,45.4 L459.4,46.8 L463.6,48.8 L466.2,46.3 L470.4,48.3 L471.2,49.6 L473.4,47.4 L475.4,47.4 L477.1,48.5 L480.4,49.6 L483.0,50.5 L528.3,78.7" stroke="#a86ff0" stroke-width="0.9" fill="none" stroke-linejoin="round"/>
<line x1="425.0" y1="82.1" x2="425.0" y2="92.0" stroke="#3a3a3a" stroke-width="0.55" stroke-opacity="0.85"/>
<line x1="426.4" y1="82.1" x2="426.4" y2="92.0" stroke="#3a3a3a" stroke-width="0.55" stroke-opacity="0.85"/>
<line x1="429.2" y1="82.1" x2="429.2" y2="92.0" stroke="#3a3a3a" stroke-width="0.55" stroke-opacity="0.85"/>
<line x1="430.4" y1="82.1" x2="430.4" y2="92.0" stroke="#3a3a3a" stroke-width="0.55" stroke-opacity="0.85"/>
<line x1="440.1" y1="82.1" x2="440.1" y2="92.0" stroke="#3a3a3a" stroke-width="0.55" stroke-opacity="0.85"/>
<line x1="441.8" y1="82.1" x2="441.8" y2="92.0" stroke="#3a3a3a" stroke-width="0.55" stroke-opacity="0.85"/>
<line x1="458.3" y1="82.1" x2="458.3" y2="92.0" stroke="#3a3a3a" stroke-width="0.55" stroke-opacity="0.85"/>
<line x1="464.5" y1="82.1" x2="464.5" y2="92.0" stroke="#3a3a3a" stroke-width="0.55" stroke-opacity="0.85"/>
<line x1="465.3" y1="82.1" x2="465.3" y2="92.0" stroke="#3a3a3a" stroke-width="0.55" stroke-opacity="0.85"/>
<line x1="472.0" y1="82.1" x2="472.0" y2="92.0" stroke="#3a3a3a" stroke-width="0.55" stroke-opacity="0.85"/>
<line x1="472.9" y1="82.1" x2="472.9" y2="92.0" stroke="#3a3a3a" stroke-width="0.55" stroke-opacity="0.85"/>
<line x1="473.7" y1="82.1" x2="473.7" y2="92.0" stroke="#3a3a3a" stroke-width="0.55" stroke-opacity="0.85"/>
<line x1="475.4" y1="82.1" x2="475.4" y2="92.0" stroke="#3a3a3a" stroke-width="0.55" stroke-opacity="0.85"/>
<line x1="480.4" y1="82.1" x2="480.4" y2="92.0" stroke="#3a3a3a" stroke-width="0.55" stroke-opacity="0.85"/>
<line x1="481.8" y1="82.1" x2="481.8" y2="92.0" stroke="#3a3a3a" stroke-width="0.55" stroke-opacity="0.85"/>
<rect x="424.6" y="93.1" width="46.6" height="4.6" fill="#b5232a"/>
<rect x="471.2" y="93.1" width="6.7" height="4.6" fill="#e0352f"/>
<rect x="477.9" y="93.1" width="2.0" height="4.6" fill="#ee6a4a"/>
<rect x="479.9" y="93.1" width="7.3" height="4.6" fill="#f7ddd0"/>
<rect x="487.1" y="93.1" width="6.8" height="4.6" fill="#eef3fa"/>
<rect x="493.9" y="93.1" width="16.0" height="4.6" fill="#c3dcea"/>
<rect x="509.8" y="93.1" width="12.2" height="4.6" fill="#6fa9d6"/>
<rect x="522.0" y="93.1" width="6.8" height="4.6" fill="#3c78bb"/>
<path d="M424.6,115.3 L424.6,100.2 L425.9,102.5 L427.2,104.2 L428.5,105.5 L429.8,106.6 L431.2,107.4 L432.5,108.1 L433.8,108.7 L435.1,109.3 L436.4,109.7 L437.7,110.1 L439.0,110.5 L440.3,110.9 L441.6,111.2 L442.9,111.5 L444.2,111.7 L445.6,112.0 L446.9,112.2 L448.2,112.5 L449.5,112.7 L450.8,112.9 L452.1,113.1 L453.4,113.3 L454.7,113.4 L456.0,113.6 L457.4,113.7 L458.7,113.9 L460.0,114.0 L461.3,114.1 L462.6,114.2 L463.9,114.3 L465.2,114.4 L466.5,114.5 L467.8,114.6 L469.1,114.6 L470.4,114.7 L471.8,114.8 L473.1,114.9 L474.4,115.0 L475.7,115.1 L477.0,115.3 L478.3,115.3 L479.6,115.3 L480.9,115.4 L482.2,115.4 L483.5,115.5 L484.8,115.5 L486.1,115.6 L487.4,115.6 L488.7,115.7 L489.9,115.8 L491.2,115.9 L492.5,116.0 L493.8,116.2 L495.1,116.4 L496.4,116.6 L497.7,116.9 L499.0,117.1 L500.3,117.4 L501.6,117.8 L502.9,118.1 L504.2,118.4 L505.5,118.8 L506.8,119.1 L508.1,119.3 L509.4,119.6 L510.7,119.8 L512.0,120.0 L513.3,120.2 L514.6,120.3 L515.8,120.4 L517.1,120.5 L518.4,120.6 L519.7,120.6 L521.0,120.7 L522.3,120.7 L523.6,120.8 L524.9,120.8 L526.2,120.9 L527.5,120.9 L528.8,120.9 L528.8,115.3Z" fill="#d4d4d4"/>
<line x1="424.6" y1="98.7" x2="424.6" y2="121.4" stroke="#999" stroke-width="0.8"/>
<line x1="424.6" y1="121.4" x2="528.8" y2="121.4" stroke="#999" stroke-width="0.8"/>
<text x="423.1" y="104.3" font-size="6.61" text-anchor="end" fill="#000" textLength="4.2" lengthAdjust="spacingAndGlyphs">3</text>
<text x="423.1" y="122.6" font-size="6.61" text-anchor="end" fill="#000" textLength="6.8" lengthAdjust="spacingAndGlyphs">-1</text>
<text x="445.8" y="128.4" font-size="6.78" text-anchor="middle" fill="#000" textLength="13.0" lengthAdjust="spacingAndGlyphs">100</text>
<text x="510.0" y="128.4" font-size="6.78" text-anchor="middle" fill="#000" textLength="13.0" lengthAdjust="spacingAndGlyphs">400</text>
<text x="444.8" y="105.3" font-size="7.30" text-anchor="start" fill="#000" textLength="16.4" lengthAdjust="spacingAndGlyphs">M3<tspan font-size="4.24" dy="-2.34" fill="#000">f/f</tspan></text>
<text x="503.9" y="114.6" font-size="7.30" text-anchor="start" fill="#000" textLength="19.2" lengthAdjust="spacingAndGlyphs">M3<tspan font-size="4.24" dy="-2.34" fill="#000">d/d</tspan></text>
<text x="432.0" y="29.1" font-size="8.70" text-anchor="start" fill="#000" textLength="88.0" lengthAdjust="spacingAndGlyphs">Cellular phenotype</text>
<text x="486.4" y="47.2" font-size="8.70" text-anchor="start" textLength="48.6" lengthAdjust="spacingAndGlyphs"><tspan font-style="italic">p</tspan> = 0.0044</text>
<line x1="574.9" y1="34.5" x2="574.9" y2="120.8" stroke="#e4e4e4" stroke-width="0.6"/>
<line x1="585.6" y1="34.5" x2="585.6" y2="120.8" stroke="#e4e4e4" stroke-width="0.6"/>
<line x1="596.4" y1="34.5" x2="596.4" y2="120.8" stroke="#e4e4e4" stroke-width="0.6"/>
<line x1="607.1" y1="34.5" x2="607.1" y2="120.8" stroke="#e4e4e4" stroke-width="0.6"/>
<line x1="617.9" y1="34.5" x2="617.9" y2="120.8" stroke="#e4e4e4" stroke-width="0.6"/>
<line x1="628.6" y1="34.5" x2="628.6" y2="120.8" stroke="#e4e4e4" stroke-width="0.6"/>
<line x1="639.4" y1="34.5" x2="639.4" y2="120.8" stroke="#e4e4e4" stroke-width="0.6"/>
<line x1="650.1" y1="34.5" x2="650.1" y2="120.8" stroke="#e4e4e4" stroke-width="0.6"/>
<line x1="660.9" y1="34.5" x2="660.9" y2="120.8" stroke="#e4e4e4" stroke-width="0.6"/>
<line x1="564.1" y1="34.5" x2="564.1" y2="80.0" stroke="#999" stroke-width="0.8"/>
<text x="562.9" y="40.3" font-size="6.61" text-anchor="end" fill="#000" textLength="10.6" lengthAdjust="spacingAndGlyphs">0.6</text>
<text x="562.9" y="56.1" font-size="6.61" text-anchor="end" fill="#000" textLength="10.6" lengthAdjust="spacingAndGlyphs">0.4</text>
<text x="562.9" y="72.3" font-size="6.61" text-anchor="end" fill="#000" textLength="10.6" lengthAdjust="spacingAndGlyphs">0.2</text>
<text x="562.9" y="88.8" font-size="6.61" text-anchor="end" fill="#000" textLength="10.6" lengthAdjust="spacingAndGlyphs">0.0</text>
<path d="M564.6,79.1 L565.5,79.1 L566.0,63.3 L567.3,63.6 L568.1,64.2 L569.0,54.5 L569.9,55.4 L570.8,46.6 L571.6,37.9 L581.3,44.9 L582.2,40.5 L589.2,45.4 L590.0,42.3 L597.0,46.6 L597.9,44.9 L601.4,47.0 L602.3,45.4 L604.1,45.8 L604.9,44.9 L607.6,45.8 L609.3,46.6 L611.1,47.5 L612.8,47.5 L620.7,52.8 L622.4,53.7 L625.1,53.1 L640.8,64.5 L641.7,60.1 L668.5,77.7" stroke="#a86ff0" stroke-width="0.9" fill="none" stroke-linejoin="round"/>
<line x1="564.6" y1="82.2" x2="564.6" y2="91.7" stroke="#3a3a3a" stroke-width="0.55" stroke-opacity="0.85"/>
<line x1="565.9" y1="82.2" x2="565.9" y2="91.7" stroke="#3a3a3a" stroke-width="0.55" stroke-opacity="0.85"/>
<line x1="568.7" y1="82.2" x2="568.7" y2="91.7" stroke="#3a3a3a" stroke-width="0.55" stroke-opacity="0.85"/>
<line x1="570.8" y1="82.2" x2="570.8" y2="91.7" stroke="#3a3a3a" stroke-width="0.55" stroke-opacity="0.85"/>
<line x1="571.6" y1="82.2" x2="571.6" y2="91.7" stroke="#3a3a3a" stroke-width="0.55" stroke-opacity="0.85"/>
<line x1="581.3" y1="82.2" x2="581.3" y2="91.7" stroke="#3a3a3a" stroke-width="0.55" stroke-opacity="0.85"/>
<line x1="589.2" y1="82.2" x2="589.2" y2="91.7" stroke="#3a3a3a" stroke-width="0.55" stroke-opacity="0.85"/>
<line x1="597.6" y1="82.2" x2="597.6" y2="91.7" stroke="#3a3a3a" stroke-width="0.55" stroke-opacity="0.85"/>
<line x1="601.4" y1="82.2" x2="601.4" y2="91.7" stroke="#3a3a3a" stroke-width="0.55" stroke-opacity="0.85"/>
<line x1="602.7" y1="82.2" x2="602.7" y2="91.7" stroke="#3a3a3a" stroke-width="0.55" stroke-opacity="0.85"/>
<line x1="603.7" y1="82.2" x2="603.7" y2="91.7" stroke="#3a3a3a" stroke-width="0.55" stroke-opacity="0.85"/>
<line x1="605.8" y1="82.2" x2="605.8" y2="91.7" stroke="#3a3a3a" stroke-width="0.55" stroke-opacity="0.85"/>
<line x1="606.7" y1="82.2" x2="606.7" y2="91.7" stroke="#3a3a3a" stroke-width="0.55" stroke-opacity="0.85"/>
<line x1="621.2" y1="82.2" x2="621.2" y2="91.7" stroke="#3a3a3a" stroke-width="0.55" stroke-opacity="0.85"/>
<line x1="624.2" y1="82.2" x2="624.2" y2="91.7" stroke="#3a3a3a" stroke-width="0.55" stroke-opacity="0.85"/>
<line x1="625.1" y1="82.2" x2="625.1" y2="91.7" stroke="#3a3a3a" stroke-width="0.55" stroke-opacity="0.85"/>
<line x1="641.4" y1="82.2" x2="641.4" y2="91.7" stroke="#3a3a3a" stroke-width="0.55" stroke-opacity="0.85"/>
<rect x="564.1" y="92.7" width="26.8" height="4.3" fill="#b5232a"/>
<rect x="590.9" y="92.7" width="17.3" height="4.3" fill="#d93a35"/>
<rect x="608.1" y="92.7" width="13.2" height="4.3" fill="#ef7b62"/>
<rect x="621.2" y="92.7" width="4.8" height="4.3" fill="#f6b39c"/>
<rect x="626.0" y="92.7" width="4.8" height="4.3" fill="#f9e0d4"/>
<rect x="630.7" y="92.7" width="11.9" height="4.3" fill="#eef2f8"/>
<rect x="642.6" y="92.7" width="7.9" height="4.3" fill="#c6ddeb"/>
<rect x="650.5" y="92.7" width="11.4" height="4.3" fill="#7ab3dc"/>
<rect x="661.9" y="92.7" width="6.9" height="4.3" fill="#3e7cc0"/>
<path d="M564.1,114.8 L564.1,100.0 L565.4,102.2 L566.7,103.9 L568.1,105.2 L569.4,106.2 L570.7,107.1 L572.0,107.8 L573.4,108.4 L574.7,108.9 L576.0,109.3 L577.3,109.7 L578.6,110.1 L580.0,110.4 L581.3,110.8 L582.6,111.0 L583.9,111.3 L585.3,111.6 L586.6,111.8 L587.9,112.0 L589.2,112.2 L590.5,112.4 L591.9,112.6 L593.2,112.8 L594.5,113.0 L595.8,113.1 L597.2,113.3 L598.5,113.4 L599.8,113.5 L601.1,113.6 L602.5,113.7 L603.8,113.8 L605.1,113.9 L606.4,114.0 L607.7,114.1 L609.1,114.2 L610.4,114.2 L611.7,114.3 L613.0,114.4 L614.4,114.5 L615.7,114.6 L617.0,114.8 L618.3,114.8 L619.6,114.9 L620.9,114.9 L622.2,114.9 L623.5,115.0 L624.8,115.1 L626.1,115.1 L627.4,115.2 L628.7,115.3 L630.0,115.5 L631.2,115.6 L632.5,115.8 L633.8,116.0 L635.1,116.3 L636.4,116.6 L637.7,116.9 L639.0,117.2 L640.3,117.5 L641.6,117.8 L642.9,118.1 L644.2,118.4 L645.5,118.7 L646.8,119.0 L648.1,119.2 L649.4,119.4 L650.7,119.5 L652.0,119.7 L653.3,119.8 L654.6,119.9 L655.8,119.9 L657.1,120.0 L658.4,120.1 L659.7,120.1 L661.0,120.1 L662.3,120.2 L663.6,120.2 L664.9,120.2 L666.2,120.3 L667.5,120.3 L668.8,120.3 L668.8,114.8Z" fill="#d4d4d4"/>
<line x1="564.1" y1="98.5" x2="564.1" y2="120.8" stroke="#999" stroke-width="0.8"/>
<line x1="564.1" y1="120.8" x2="668.8" y2="120.8" stroke="#999" stroke-width="0.8"/>
<text x="562.6" y="103.3" font-size="6.61" text-anchor="end" fill="#000" textLength="4.2" lengthAdjust="spacingAndGlyphs">3</text>
<text x="562.6" y="122.2" font-size="6.61" text-anchor="end" fill="#000" textLength="6.8" lengthAdjust="spacingAndGlyphs">-1</text>
<text x="585.5" y="127.9" font-size="6.78" text-anchor="middle" fill="#000" textLength="13.0" lengthAdjust="spacingAndGlyphs">100</text>
<text x="650.0" y="127.9" font-size="6.78" text-anchor="middle" fill="#000" textLength="13.0" lengthAdjust="spacingAndGlyphs">400</text>
<text x="585.5" y="105.0" font-size="7.30" text-anchor="start" fill="#000" textLength="16.4" lengthAdjust="spacingAndGlyphs">M3<tspan font-size="4.24" dy="-2.34" fill="#000">f/f</tspan></text>
<text x="647.0" y="113.9" font-size="7.30" text-anchor="start" fill="#000" textLength="19.2" lengthAdjust="spacingAndGlyphs">M3<tspan font-size="4.24" dy="-2.34" fill="#000">d/d</tspan></text>
<text x="587.0" y="28.5" font-size="8.70" text-anchor="start" fill="#000" textLength="78.0" lengthAdjust="spacingAndGlyphs">Female genitalia</text>
<text x="626.0" y="46.2" font-size="8.70" text-anchor="start" textLength="48.1" lengthAdjust="spacingAndGlyphs"><tspan font-style="italic">p</tspan> = 0.0249</text>
<line x1="440.0" y1="166.0" x2="440.0" y2="249.6" stroke="#e4e4e4" stroke-width="0.6"/>
<line x1="453.7" y1="166.0" x2="453.7" y2="249.6" stroke="#e4e4e4" stroke-width="0.6"/>
<line x1="467.5" y1="166.0" x2="467.5" y2="249.6" stroke="#e4e4e4" stroke-width="0.6"/>
<line x1="481.3" y1="166.0" x2="481.3" y2="249.6" stroke="#e4e4e4" stroke-width="0.6"/>
<line x1="495.1" y1="166.0" x2="495.1" y2="249.6" stroke="#e4e4e4" stroke-width="0.6"/>
<line x1="508.8" y1="166.0" x2="508.8" y2="249.6" stroke="#e4e4e4" stroke-width="0.6"/>
<line x1="522.6" y1="166.0" x2="522.6" y2="249.6" stroke="#e4e4e4" stroke-width="0.6"/>
<line x1="426.2" y1="166.0" x2="426.2" y2="210.0" stroke="#999" stroke-width="0.8"/>
<text x="425.0" y="173.2" font-size="6.61" text-anchor="end" fill="#000" textLength="10.6" lengthAdjust="spacingAndGlyphs">0.4</text>
<text x="425.0" y="182.8" font-size="6.61" text-anchor="end" fill="#000" textLength="10.6" lengthAdjust="spacingAndGlyphs">0.3</text>
<text x="425.0" y="192.4" font-size="6.61" text-anchor="end" fill="#000" textLength="10.6" lengthAdjust="spacingAndGlyphs">0.2</text>
<text x="425.0" y="202.1" font-size="6.61" text-anchor="end" fill="#000" textLength="10.6" lengthAdjust="spacingAndGlyphs">0.1</text>
<text x="425.0" y="211.7" font-size="6.61" text-anchor="end" fill="#000" textLength="10.6" lengthAdjust="spacingAndGlyphs">0.0</text>
<path d="M426.4,190.9 L426.7,176.0 L427.6,177.8 L428.7,178.6 L430.8,170.8 L441.3,181.6 L442.2,178.6 L443.0,179.5 L443.9,177.4 L445.7,169.4 L448.3,172.5 L449.2,171.6 L450.9,173.9 L452.7,172.2 L454.4,175.1 L457.0,169.0 L459.7,168.1 L461.4,169.4 L464.1,169.9 L465.8,170.8 L467.6,168.5 L471.1,171.6 L472.8,172.2 L475.4,172.5 L478.1,175.1 L485.1,180.4 L488.6,183.0 L490.3,183.9 L493.0,184.8 L495.6,184.4 L499.1,187.4 L500.8,188.3 L501.7,187.9 L502.6,189.2 L514.9,201.9 L515.7,195.3 L529.8,209.0" stroke="#a86ff0" stroke-width="0.9" fill="none" stroke-linejoin="round"/>
<line x1="426.9" y1="212.0" x2="426.9" y2="221.6" stroke="#3a3a3a" stroke-width="0.55" stroke-opacity="0.85"/>
<line x1="430.8" y1="212.0" x2="430.8" y2="221.6" stroke="#3a3a3a" stroke-width="0.55" stroke-opacity="0.85"/>
<line x1="441.3" y1="212.0" x2="441.3" y2="221.6" stroke="#3a3a3a" stroke-width="0.55" stroke-opacity="0.85"/>
<line x1="443.0" y1="212.0" x2="443.0" y2="221.6" stroke="#3a3a3a" stroke-width="0.55" stroke-opacity="0.85"/>
<line x1="443.9" y1="212.0" x2="443.9" y2="221.6" stroke="#3a3a3a" stroke-width="0.55" stroke-opacity="0.85"/>
<line x1="445.7" y1="212.0" x2="445.7" y2="221.6" stroke="#3a3a3a" stroke-width="0.55" stroke-opacity="0.85"/>
<line x1="450.9" y1="212.0" x2="450.9" y2="221.6" stroke="#3a3a3a" stroke-width="0.55" stroke-opacity="0.85"/>
<line x1="454.4" y1="212.0" x2="454.4" y2="221.6" stroke="#3a3a3a" stroke-width="0.55" stroke-opacity="0.85"/>
<line x1="455.3" y1="212.0" x2="455.3" y2="221.6" stroke="#3a3a3a" stroke-width="0.55" stroke-opacity="0.85"/>
<line x1="456.2" y1="212.0" x2="456.2" y2="221.6" stroke="#3a3a3a" stroke-width="0.55" stroke-opacity="0.85"/>
<line x1="457.0" y1="212.0" x2="457.0" y2="221.6" stroke="#3a3a3a" stroke-width="0.55" stroke-opacity="0.85"/>
<line x1="457.9" y1="212.0" x2="457.9" y2="221.6" stroke="#3a3a3a" stroke-width="0.55" stroke-opacity="0.85"/>
<line x1="460.6" y1="212.0" x2="460.6" y2="221.6" stroke="#3a3a3a" stroke-width="0.55" stroke-opacity="0.85"/>
<line x1="462.3" y1="212.0" x2="462.3" y2="221.6" stroke="#3a3a3a" stroke-width="0.55" stroke-opacity="0.85"/>
<line x1="466.7" y1="212.0" x2="466.7" y2="221.6" stroke="#3a3a3a" stroke-width="0.55" stroke-opacity="0.85"/>
<line x1="467.6" y1="212.0" x2="467.6" y2="221.6" stroke="#3a3a3a" stroke-width="0.55" stroke-opacity="0.85"/>
<line x1="471.9" y1="212.0" x2="471.9" y2="221.6" stroke="#3a3a3a" stroke-width="0.55" stroke-opacity="0.85"/>
<line x1="472.8" y1="212.0" x2="472.8" y2="221.6" stroke="#3a3a3a" stroke-width="0.55" stroke-opacity="0.85"/>
<line x1="474.6" y1="212.0" x2="474.6" y2="221.6" stroke="#3a3a3a" stroke-width="0.55" stroke-opacity="0.85"/>
<line x1="475.4" y1="212.0" x2="475.4" y2="221.6" stroke="#3a3a3a" stroke-width="0.55" stroke-opacity="0.85"/>
<line x1="481.6" y1="212.0" x2="481.6" y2="221.6" stroke="#3a3a3a" stroke-width="0.55" stroke-opacity="0.85"/>
<line x1="485.1" y1="212.0" x2="485.1" y2="221.6" stroke="#3a3a3a" stroke-width="0.55" stroke-opacity="0.85"/>
<line x1="492.1" y1="212.0" x2="492.1" y2="221.6" stroke="#3a3a3a" stroke-width="0.55" stroke-opacity="0.85"/>
<line x1="493.0" y1="212.0" x2="493.0" y2="221.6" stroke="#3a3a3a" stroke-width="0.55" stroke-opacity="0.85"/>
<line x1="493.8" y1="212.0" x2="493.8" y2="221.6" stroke="#3a3a3a" stroke-width="0.55" stroke-opacity="0.85"/>
<line x1="495.6" y1="212.0" x2="495.6" y2="221.6" stroke="#3a3a3a" stroke-width="0.55" stroke-opacity="0.85"/>
<line x1="501.7" y1="212.0" x2="501.7" y2="221.6" stroke="#3a3a3a" stroke-width="0.55" stroke-opacity="0.85"/>
<line x1="515.7" y1="212.0" x2="515.7" y2="221.6" stroke="#3a3a3a" stroke-width="0.55" stroke-opacity="0.85"/>
<rect x="426.2" y="222.1" width="13.4" height="4.7" fill="#e03a36"/>
<rect x="439.5" y="222.1" width="21.4" height="4.7" fill="#ec6450"/>
<rect x="460.9" y="222.1" width="9.4" height="4.7" fill="#f2a08a"/>
<rect x="470.2" y="222.1" width="10.6" height="4.7" fill="#f8ddd0"/>
<rect x="480.7" y="222.1" width="7.0" height="4.7" fill="#eef3fa"/>
<rect x="487.7" y="222.1" width="8.0" height="4.7" fill="#c4dcec"/>
<rect x="495.6" y="222.1" width="5.2" height="4.7" fill="#91c2e2"/>
<rect x="500.8" y="222.1" width="11.5" height="4.7" fill="#5b9bd0"/>
<rect x="512.2" y="222.1" width="18.1" height="4.7" fill="#3f75b9"/>
<path d="M426.2,242.5 L426.2,231.7 L427.5,233.3 L428.8,234.6 L430.1,235.5 L431.5,236.3 L432.8,236.9 L434.1,237.4 L435.4,237.8 L436.7,238.2 L438.0,238.5 L439.4,238.8 L440.7,239.1 L442.0,239.3 L443.3,239.5 L444.6,239.8 L445.9,240.0 L447.2,240.1 L448.6,240.3 L449.9,240.5 L451.2,240.6 L452.5,240.8 L453.8,240.9 L455.1,241.0 L456.4,241.2 L457.8,241.3 L459.1,241.4 L460.4,241.5 L461.7,241.6 L463.0,241.6 L464.3,241.7 L465.6,241.8 L467.0,241.9 L468.3,241.9 L469.6,242.0 L470.9,242.0 L472.2,242.1 L473.5,242.1 L474.9,242.2 L476.2,242.3 L477.5,242.3 L478.8,242.5 L480.1,242.5 L481.4,242.6 L482.7,242.6 L483.9,242.7 L485.2,242.8 L486.5,242.8 L487.8,242.9 L489.1,242.9 L490.4,243.0 L491.7,243.0 L492.9,243.1 L494.2,243.1 L495.5,243.2 L496.8,243.3 L498.1,243.4 L499.4,243.5 L500.6,243.6 L501.9,243.8 L503.2,244.0 L504.5,244.2 L505.8,244.5 L507.1,244.9 L508.4,245.3 L509.6,245.7 L510.9,246.1 L512.2,246.6 L513.5,247.0 L514.8,247.4 L516.1,247.7 L517.4,248.0 L518.6,248.2 L519.9,248.4 L521.2,248.5 L522.5,248.6 L523.8,248.7 L525.1,248.8 L526.3,248.9 L527.6,249.0 L528.9,249.0 L530.2,249.1 L530.2,242.5Z" fill="#d4d4d4"/>
<line x1="426.2" y1="230.2" x2="426.2" y2="249.6" stroke="#999" stroke-width="0.8"/>
<line x1="426.2" y1="249.6" x2="530.2" y2="249.6" stroke="#999" stroke-width="0.8"/>
<text x="424.7" y="236.6" font-size="6.61" text-anchor="end" fill="#000" textLength="4.2" lengthAdjust="spacingAndGlyphs">2</text>
<text x="424.7" y="252.7" font-size="6.61" text-anchor="end" fill="#000" textLength="6.8" lengthAdjust="spacingAndGlyphs">-2</text>
<text x="453.0" y="258.0" font-size="6.78" text-anchor="middle" fill="#000" textLength="13.0" lengthAdjust="spacingAndGlyphs">100</text>
<text x="508.1" y="258.0" font-size="6.78" text-anchor="middle" fill="#000" textLength="13.0" lengthAdjust="spacingAndGlyphs">300</text>
<text x="445.6" y="234.3" font-size="7.30" text-anchor="start" fill="#000" textLength="16.4" lengthAdjust="spacingAndGlyphs">M3<tspan font-size="4.24" dy="-2.34" fill="#000">f/f</tspan></text>
<text x="505.0" y="242.2" font-size="7.30" text-anchor="start" fill="#000" textLength="19.2" lengthAdjust="spacingAndGlyphs">M3<tspan font-size="4.24" dy="-2.34" fill="#000">d/d</tspan></text>
<text x="450.6" y="162.8" font-size="8.70" text-anchor="start" fill="#000" textLength="54.4" lengthAdjust="spacingAndGlyphs">p53 targets</text>
<text x="489.0" y="178.7" font-size="8.70" text-anchor="start" textLength="48.3" lengthAdjust="spacingAndGlyphs"><tspan font-style="italic">p</tspan> = 0.0496</text>
<line x1="577.8" y1="166.0" x2="577.8" y2="251.3" stroke="#e4e4e4" stroke-width="0.6"/>
<line x1="591.4" y1="166.0" x2="591.4" y2="251.3" stroke="#e4e4e4" stroke-width="0.6"/>
<line x1="605.1" y1="166.0" x2="605.1" y2="251.3" stroke="#e4e4e4" stroke-width="0.6"/>
<line x1="618.8" y1="166.0" x2="618.8" y2="251.3" stroke="#e4e4e4" stroke-width="0.6"/>
<line x1="632.5" y1="166.0" x2="632.5" y2="251.3" stroke="#e4e4e4" stroke-width="0.6"/>
<line x1="646.1" y1="166.0" x2="646.1" y2="251.3" stroke="#e4e4e4" stroke-width="0.6"/>
<line x1="659.8" y1="166.0" x2="659.8" y2="251.3" stroke="#e4e4e4" stroke-width="0.6"/>
<line x1="564.1" y1="166.0" x2="564.1" y2="209.5" stroke="#999" stroke-width="0.8"/>
<text x="562.9" y="172.3" font-size="6.61" text-anchor="end" fill="#000" textLength="10.6" lengthAdjust="spacingAndGlyphs">0.5</text>
<text x="562.9" y="180.5" font-size="6.61" text-anchor="end" fill="#000" textLength="10.6" lengthAdjust="spacingAndGlyphs">0.4</text>
<text x="562.9" y="188.1" font-size="6.61" text-anchor="end" fill="#000" textLength="10.6" lengthAdjust="spacingAndGlyphs">0.3</text>
<text x="562.9" y="195.6" font-size="6.61" text-anchor="end" fill="#000" textLength="10.6" lengthAdjust="spacingAndGlyphs">0.2</text>
<text x="562.9" y="203.3" font-size="6.61" text-anchor="end" fill="#000" textLength="10.6" lengthAdjust="spacingAndGlyphs">0.1</text>
<text x="562.9" y="210.8" font-size="6.61" text-anchor="end" fill="#000" textLength="10.6" lengthAdjust="spacingAndGlyphs">0.0</text>
<path d="M564.6,209.3 L566.0,209.3 L566.7,201.4 L568.1,201.9 L568.7,188.3 L569.9,182.1 L570.8,176.9 L571.6,177.8 L578.7,182.7 L580.4,177.4 L582.2,178.6 L586.5,181.6 L588.3,179.5 L590.0,177.8 L590.9,173.4 L592.1,169.4 L603.2,177.4 L604.9,175.7 L606.7,176.0 L609.3,178.6 L615.4,183.0 L618.1,183.9 L624.2,188.3 L628.6,191.8 L631.2,192.3 L635.6,195.3 L636.5,194.4 L637.3,193.2 L639.1,193.9 L640.0,192.7 L641.7,193.9 L643.5,194.4 L645.2,190.0 L668.0,208.4" stroke="#a86ff0" stroke-width="0.9" fill="none" stroke-linejoin="round"/>
<line x1="566.4" y1="212.5" x2="566.4" y2="221.9" stroke="#3a3a3a" stroke-width="0.55" stroke-opacity="0.85"/>
<line x1="567.3" y1="212.5" x2="567.3" y2="221.9" stroke="#3a3a3a" stroke-width="0.55" stroke-opacity="0.85"/>
<line x1="568.7" y1="212.5" x2="568.7" y2="221.9" stroke="#3a3a3a" stroke-width="0.55" stroke-opacity="0.85"/>
<line x1="569.4" y1="212.5" x2="569.4" y2="221.9" stroke="#3a3a3a" stroke-width="0.55" stroke-opacity="0.85"/>
<line x1="570.4" y1="212.5" x2="570.4" y2="221.9" stroke="#3a3a3a" stroke-width="0.55" stroke-opacity="0.85"/>
<line x1="579.5" y1="212.5" x2="579.5" y2="221.9" stroke="#3a3a3a" stroke-width="0.55" stroke-opacity="0.85"/>
<line x1="587.4" y1="212.5" x2="587.4" y2="221.9" stroke="#3a3a3a" stroke-width="0.55" stroke-opacity="0.85"/>
<line x1="588.6" y1="212.5" x2="588.6" y2="221.9" stroke="#3a3a3a" stroke-width="0.55" stroke-opacity="0.85"/>
<line x1="590.0" y1="212.5" x2="590.0" y2="221.9" stroke="#3a3a3a" stroke-width="0.55" stroke-opacity="0.85"/>
<line x1="590.9" y1="212.5" x2="590.9" y2="221.9" stroke="#3a3a3a" stroke-width="0.55" stroke-opacity="0.85"/>
<line x1="591.8" y1="212.5" x2="591.8" y2="221.9" stroke="#3a3a3a" stroke-width="0.55" stroke-opacity="0.85"/>
<line x1="604.1" y1="212.5" x2="604.1" y2="221.9" stroke="#3a3a3a" stroke-width="0.55" stroke-opacity="0.85"/>
<line x1="605.8" y1="212.5" x2="605.8" y2="221.9" stroke="#3a3a3a" stroke-width="0.55" stroke-opacity="0.85"/>
<line x1="616.3" y1="212.5" x2="616.3" y2="221.9" stroke="#3a3a3a" stroke-width="0.55" stroke-opacity="0.85"/>
<line x1="624.7" y1="212.5" x2="624.7" y2="221.9" stroke="#3a3a3a" stroke-width="0.55" stroke-opacity="0.85"/>
<line x1="628.6" y1="212.5" x2="628.6" y2="221.9" stroke="#3a3a3a" stroke-width="0.55" stroke-opacity="0.85"/>
<line x1="636.5" y1="212.5" x2="636.5" y2="221.9" stroke="#3a3a3a" stroke-width="0.55" stroke-opacity="0.85"/>
<line x1="637.3" y1="212.5" x2="637.3" y2="221.9" stroke="#3a3a3a" stroke-width="0.55" stroke-opacity="0.85"/>
<line x1="639.1" y1="212.5" x2="639.1" y2="221.9" stroke="#3a3a3a" stroke-width="0.55" stroke-opacity="0.85"/>
<line x1="640.0" y1="212.5" x2="640.0" y2="221.9" stroke="#3a3a3a" stroke-width="0.55" stroke-opacity="0.85"/>
<line x1="645.2" y1="212.5" x2="645.2" y2="221.9" stroke="#3a3a3a" stroke-width="0.55" stroke-opacity="0.85"/>
<rect x="564.1" y="223.0" width="23.3" height="4.7" fill="#b5232a"/>
<rect x="587.4" y="223.0" width="6.5" height="4.7" fill="#d93a35"/>
<rect x="593.9" y="223.0" width="8.2" height="4.7" fill="#ec6f55"/>
<rect x="602.0" y="223.0" width="14.1" height="4.7" fill="#f4b19c"/>
<rect x="616.0" y="223.0" width="12.7" height="4.7" fill="#f8e2d6"/>
<rect x="628.6" y="223.0" width="12.2" height="4.7" fill="#edf2fa"/>
<rect x="640.8" y="223.0" width="4.5" height="4.7" fill="#c7ddec"/>
<rect x="645.2" y="223.0" width="16.7" height="4.7" fill="#85bde0"/>
<rect x="661.9" y="223.0" width="6.4" height="4.7" fill="#3f7cc0"/>
<path d="M564.1,243.8 L564.1,231.7 L565.5,233.5 L566.8,234.9 L568.2,236.0 L569.6,236.8 L570.9,237.5 L572.3,238.1 L573.7,238.5 L575.0,239.0 L576.4,239.3 L577.8,239.7 L579.1,240.0 L580.5,240.2 L581.9,240.5 L583.2,240.7 L584.6,240.9 L586.0,241.2 L587.3,241.4 L588.7,241.5 L590.1,241.7 L591.5,241.9 L592.8,242.0 L594.2,242.2 L595.6,242.3 L596.9,242.4 L598.3,242.5 L599.7,242.6 L601.0,242.7 L602.4,242.8 L603.8,242.9 L605.1,243.0 L606.5,243.1 L607.9,243.2 L609.2,243.2 L610.6,243.3 L612.0,243.3 L613.3,243.4 L614.7,243.5 L616.1,243.5 L617.4,243.6 L618.8,243.8 L620.0,243.8 L621.3,243.9 L622.5,243.9 L623.7,243.9 L625.0,243.9 L626.2,244.0 L627.4,244.0 L628.7,244.0 L629.9,244.0 L631.1,244.1 L632.4,244.1 L633.6,244.1 L634.9,244.2 L636.1,244.2 L637.3,244.3 L638.6,244.3 L639.8,244.4 L641.0,244.5 L642.3,244.6 L643.5,244.8 L644.7,245.0 L646.0,245.2 L647.2,245.5 L648.4,245.9 L649.7,246.4 L650.9,246.9 L652.1,247.4 L653.4,248.0 L654.6,248.5 L655.9,249.0 L657.1,249.4 L658.3,249.7 L659.6,250.0 L660.8,250.2 L662.0,250.4 L663.3,250.5 L664.5,250.6 L665.7,250.7 L667.0,250.7 L668.2,250.8 L668.2,243.8Z" fill="#d4d4d4"/>
<line x1="564.1" y1="230.2" x2="564.1" y2="251.3" stroke="#999" stroke-width="0.8"/>
<line x1="564.1" y1="251.3" x2="668.2" y2="251.3" stroke="#999" stroke-width="0.8"/>
<text x="562.6" y="238.2" font-size="6.61" text-anchor="end" fill="#000" textLength="4.2" lengthAdjust="spacingAndGlyphs">2</text>
<text x="562.6" y="253.9" font-size="6.61" text-anchor="end" fill="#000" textLength="6.8" lengthAdjust="spacingAndGlyphs">-2</text>
<text x="591.8" y="258.7" font-size="6.78" text-anchor="middle" fill="#000" textLength="13.0" lengthAdjust="spacingAndGlyphs">100</text>
<text x="646.5" y="258.7" font-size="6.78" text-anchor="middle" fill="#000" textLength="13.0" lengthAdjust="spacingAndGlyphs">300</text>
<text x="585.0" y="235.3" font-size="7.30" text-anchor="start" fill="#000" textLength="16.4" lengthAdjust="spacingAndGlyphs">M3<tspan font-size="4.24" dy="-2.34" fill="#000">f/f</tspan></text>
<text x="644.0" y="243.3" font-size="7.30" text-anchor="start" fill="#000" textLength="19.2" lengthAdjust="spacingAndGlyphs">M3<tspan font-size="4.24" dy="-2.34" fill="#000">d/d</tspan></text>
<text x="586.3" y="162.6" font-size="8.70" text-anchor="start" fill="#000" textLength="61.4" lengthAdjust="spacingAndGlyphs">Chromosome</text>
<text x="616.0" y="179.4" font-size="8.70" text-anchor="start" textLength="48.6" lengthAdjust="spacingAndGlyphs"><tspan font-style="italic">p</tspan> = 0.0103</text>
<text x="396.2" y="59.9" font-size="9.80" text-anchor="middle" fill="#000" textLength="53.0" lengthAdjust="spacingAndGlyphs" transform="rotate(-90 396.2 56.4)">Enrichment</text>
<text x="405.8" y="59.9" font-size="9.80" text-anchor="middle" fill="#000" textLength="27.3" lengthAdjust="spacingAndGlyphs" transform="rotate(-90 405.8 56.4)">Score</text>
<text x="396.2" y="192.5" font-size="9.80" text-anchor="middle" fill="#000" textLength="53.0" lengthAdjust="spacingAndGlyphs" transform="rotate(-90 396.2 189.0)">Enrichment</text>
<text x="405.8" y="192.5" font-size="9.80" text-anchor="middle" fill="#000" textLength="27.3" lengthAdjust="spacingAndGlyphs" transform="rotate(-90 405.8 189.0)">Score</text>
<text x="395.9" y="109.5" font-size="9.80" text-anchor="middle" fill="#000" textLength="40.0" lengthAdjust="spacingAndGlyphs" transform="rotate(-90 395.9 106.0)">Ranking</text>
<text x="405.8" y="110.3" font-size="9.80" text-anchor="middle" fill="#000" textLength="34.8" lengthAdjust="spacingAndGlyphs" transform="rotate(-90 405.8 106.8)">metric</text>
<text x="395.9" y="244.2" font-size="9.80" text-anchor="middle" fill="#000" textLength="40.0" lengthAdjust="spacingAndGlyphs" transform="rotate(-90 395.9 240.7)">Ranking</text>
<text x="405.8" y="245.0" font-size="9.80" text-anchor="middle" fill="#000" textLength="34.8" lengthAdjust="spacingAndGlyphs" transform="rotate(-90 405.8 241.5)">metric</text>
<text x="558.8" y="7.4" font-size="8.70" text-anchor="middle" fill="#000" textLength="46.3" lengthAdjust="spacingAndGlyphs">Increased</text>
<line x1="476.0" y1="10.2" x2="633.0" y2="10.2" stroke="#000" stroke-width="1.1"/>
<text x="556.9" y="144.5" font-size="8.70" text-anchor="middle" fill="#000" textLength="50.6" lengthAdjust="spacingAndGlyphs">Decreased</text>
<line x1="474.5" y1="147.4" x2="632.0" y2="147.4" stroke="#000" stroke-width="1.1"/>
<line x1="474.5" y1="262.8" x2="632.0" y2="262.8" stroke="#000" stroke-width="1.1"/>
<text x="554.8" y="271.7" font-size="7.48" text-anchor="middle" fill="#000" textLength="98.8" lengthAdjust="spacingAndGlyphs">Rank in Ordered Dataset</text>
<path d="M389.8,51 L384.8,51 L384.8,221.8 L389.8,221.8" stroke="#e2692f" stroke-width="1.7" fill="none"/>
<path d="M117.4,41 L122.9,41 L122.9,211.7 L117.4,211.7" stroke="#e2692f" stroke-width="1.7" fill="none"/>
<path d="M122.9,120.0 L146.5,120.0 L146.5,117.0 L152.2,122.9 L146.5,129.1 L146.5,126.2 L122.9,126.2Z" fill="#e2692f"/>
<path d="M363.0,129.2 L374.5,129.2 L374.5,126.1 L380.3,131.9 L374.5,137.8 L374.5,134.9 L363.0,134.9Z" fill="#e2692f"/>
<path d="M427.3,316.7 L427.3,316.3 L428.0,316.3 L428.0,316.3 L428.7,316.3 L428.7,316.4 L429.4,316.4 L429.4,316.4 L430.1,316.4 L430.1,316.3 L430.8,316.3 L430.8,316.4 L431.5,316.4 L431.5,316.4 L432.2,316.4 L432.2,316.4 L432.9,316.4 L432.9,316.4 L433.6,316.4 L433.6,316.4 L434.3,316.4 L434.3,316.4 L435.0,316.4 L435.0,316.3 L435.7,316.3 L435.7,316.3 L436.4,316.3 L436.4,316.3 L437.1,316.3 L437.1,316.3 L437.8,316.3 L437.8,316.3 L438.5,316.3 L438.5,316.3 L439.2,316.3 L439.2,316.3 L439.9,316.3 L439.9,316.3 L440.6,316.3 L440.6,316.4 L441.3,316.4 L441.3,316.4 L442.0,316.4 L442.0,316.4 L442.7,316.4 L442.7,316.3 L443.4,316.3 L443.4,316.3 L444.1,316.3 L444.1,316.2 L444.8,316.2 L444.8,316.2 L445.5,316.2 L445.5,316.2 L446.2,316.2 L446.2,316.2 L446.9,316.2 L446.9,316.2 L447.6,316.2 L447.6,316.1 L448.3,316.1 L448.3,316.1 L449.0,316.1 L449.0,316.1 L449.7,316.1 L449.7,316.1 L450.4,316.1 L450.4,316.0 L451.1,316.0 L451.1,316.0 L451.8,316.0 L451.8,315.9 L452.5,315.9 L452.5,315.9 L453.2,315.9 L453.2,315.9 L453.9,315.9 L453.9,316.0 L454.6,316.0 L454.6,316.0 L455.3,316.0 L455.3,315.9 L456.0,315.9 L456.0,315.8 L456.7,315.8 L456.7,315.8 L457.4,315.8 L457.4,315.8 L458.1,315.8 L458.1,315.9 L458.8,315.9 L458.8,315.8 L459.5,315.8 L459.5,315.8 L460.2,315.8 L460.2,315.8 L460.9,315.8 L460.9,315.7 L461.6,315.7 L461.6,315.7 L462.3,315.7 L462.3,315.7 L463.0,315.7 L463.0,315.7 L463.7,315.7 L463.7,315.6 L464.4,315.6 L464.4,315.5 L465.1,315.5 L465.1,315.4 L465.8,315.4 L465.8,315.3 L466.5,315.3 L466.5,315.1 L467.2,315.1 L467.2,314.9 L467.9,314.9 L467.9,314.7 L468.6,314.7 L468.6,314.7 L469.3,314.7 L469.3,314.8 L470.0,314.8 L470.0,314.6 L470.7,314.6 L470.7,314.6 L471.4,314.6 L471.4,314.3 L472.1,314.3 L472.1,314.3 L472.8,314.3 L472.8,314.2 L473.5,314.2 L473.5,314.2 L474.2,314.2 L474.2,314.1 L474.9,314.1 L474.9,314.2 L475.6,314.2 L475.6,314.4 L476.3,314.4 L476.3,314.2 L477.0,314.2 L477.0,314.2 L477.7,314.2 L477.7,314.2 L478.4,314.2 L478.4,313.9 L479.1,313.9 L479.1,313.4 L479.8,313.4 L479.8,313.4 L480.5,313.4 L480.5,313.4 L481.2,313.4 L481.2,313.2 L481.9,313.2 L481.9,312.9 L482.6,312.9 L482.6,312.7 L483.3,312.7 L483.3,312.9 L484.0,312.9 L484.0,312.8 L484.7,312.8 L484.7,312.4 L485.4,312.4 L485.4,312.6 L486.1,312.6 L486.1,312.4 L486.8,312.4 L486.8,311.9 L487.5,311.9 L487.5,311.4 L488.2,311.4 L488.2,311.7 L488.9,311.7 L488.9,311.9 L489.6,311.9 L489.6,312.0 L490.3,312.0 L490.3,312.3 L491.0,312.3 L491.0,312.2 L491.7,312.2 L491.7,312.4 L492.4,312.4 L492.4,312.1 L493.1,312.1 L493.1,312.4 L493.8,312.4 L493.8,312.5 L494.5,312.5 L494.5,312.5 L495.2,312.5 L495.2,312.4 L495.9,312.4 L495.9,313.0 L496.6,313.0 L496.6,312.5 L497.3,312.5 L497.3,312.4 L498.0,312.4 L498.0,312.2 L498.7,312.2 L498.7,311.8 L499.4,311.8 L499.4,311.8 L500.1,311.8 L500.1,311.7 L500.8,311.7 L500.8,311.8 L501.5,311.8 L501.5,311.5 L502.2,311.5 L502.2,311.2 L502.9,311.2 L502.9,310.9 L503.6,310.9 L503.6,311.0 L504.3,311.0 L504.3,311.3 L505.0,311.3 L505.0,311.2 L505.7,311.2 L505.7,311.7 L506.4,311.7 L506.4,311.7 L507.1,311.7 L507.1,311.8 L507.8,311.8 L507.8,312.5 L508.5,312.5 L508.5,312.4 L509.2,312.4 L509.2,312.6 L509.9,312.6 L509.9,312.8 L510.6,312.8 L510.6,313.2 L511.3,313.2 L511.3,312.8 L512.0,312.8 L512.0,312.4 L512.7,312.4 L512.7,312.7 L513.4,312.7 L513.4,312.9 L514.1,312.9 L514.1,313.0 L514.8,313.0 L514.8,313.1 L515.5,313.1 L515.5,312.8 L516.2,312.8 L516.2,313.0 L516.9,313.0 L516.9,312.6 L517.6,312.6 L517.6,313.2 L518.3,313.2 L518.3,313.6 L519.0,313.6 L519.0,313.1 L519.7,313.1 L519.7,313.2 L520.4,313.2 L520.4,313.6 L521.1,313.6 L521.1,312.9 L521.8,312.9 L521.8,312.8 L522.5,312.8 L522.5,312.8 L523.2,312.8 L523.2,313.5 L523.9,313.5 L523.9,313.3 L524.6,313.3 L524.6,313.3 L525.3,313.3 L525.3,313.4 L526.0,313.4 L526.0,313.5 L526.7,313.5 L526.7,313.9 L527.4,313.9 L527.4,314.1 L528.1,314.1 L528.1,313.9 L528.8,313.9 L528.8,313.7 L529.5,313.7 L529.5,313.7 L530.2,313.7 L530.2,313.7 L530.9,313.7 L530.9,313.7 L531.6,313.7 L531.6,313.8 L532.3,313.8 L532.3,313.5 L533.0,313.5 L533.0,313.7 L533.7,313.7 L533.7,314.1 L534.4,314.1 L534.4,314.1 L535.1,314.1 L535.1,314.3 L535.8,314.3 L535.8,314.5 L536.5,314.5 L536.5,314.7 L537.2,314.7 L537.2,314.6 L537.9,314.6 L537.9,314.7 L538.6,314.7 L538.6,314.8 L539.3,314.8 L539.3,314.9 L540.0,314.9 L540.0,314.8 L540.7,314.8 L540.7,314.9 L541.4,314.9 L541.4,315.0 L542.1,315.0 L542.1,315.2 L542.8,315.2 L542.8,315.4 L543.5,315.4 L543.5,315.2 L544.2,315.2 L544.2,315.4 L544.9,315.4 L544.9,315.3 L545.6,315.3 L545.6,315.3 L546.3,315.3 L546.3,315.4 L547.0,315.4 L547.0,315.4 L547.7,315.4 L547.7,315.5 L548.4,315.5 L548.4,315.5 L549.1,315.5 L549.1,315.6 L549.8,315.6 L549.8,315.8 L549.9,315.8 L549.9,316.7Z" fill="#a9a9aa"/>
<rect x="427.3" y="317.2" width="122.6" height="1.6" fill="#c9c9c9"/>
<path d="M427.3,336.4 L427.3,335.3 L428.0,335.3 L428.0,335.3 L428.7,335.3 L428.7,335.2 L429.4,335.2 L429.4,335.3 L430.1,335.3 L430.1,335.4 L430.8,335.4 L430.8,335.3 L431.5,335.3 L431.5,335.3 L432.2,335.3 L432.2,335.2 L432.9,335.2 L432.9,335.3 L433.6,335.3 L433.6,335.4 L434.3,335.4 L434.3,335.3 L435.0,335.3 L435.0,335.3 L435.7,335.3 L435.7,335.1 L436.4,335.1 L436.4,335.1 L437.1,335.1 L437.1,335.2 L437.8,335.2 L437.8,335.2 L438.5,335.2 L438.5,335.0 L439.2,335.0 L439.2,335.1 L439.9,335.1 L439.9,335.2 L440.6,335.2 L440.6,335.3 L441.3,335.3 L441.3,335.3 L442.0,335.3 L442.0,335.3 L442.7,335.3 L442.7,335.3 L443.4,335.3 L443.4,335.3 L444.1,335.3 L444.1,335.3 L444.8,335.3 L444.8,335.2 L445.5,335.2 L445.5,335.1 L446.2,335.1 L446.2,335.1 L446.9,335.1 L446.9,335.3 L447.6,335.3 L447.6,335.2 L448.3,335.2 L448.3,335.3 L449.0,335.3 L449.0,335.3 L449.7,335.3 L449.7,335.3 L450.4,335.3 L450.4,335.3 L451.1,335.3 L451.1,335.3 L451.8,335.3 L451.8,335.2 L452.5,335.2 L452.5,334.9 L453.2,334.9 L453.2,334.9 L453.9,334.9 L453.9,334.9 L454.6,334.9 L454.6,335.0 L455.3,335.0 L455.3,335.0 L456.0,335.0 L456.0,335.0 L456.7,335.0 L456.7,335.0 L457.4,335.0 L457.4,334.9 L458.1,334.9 L458.1,334.9 L458.8,334.9 L458.8,335.0 L459.5,335.0 L459.5,334.9 L460.2,334.9 L460.2,335.0 L460.9,335.0 L460.9,334.8 L461.6,334.8 L461.6,334.9 L462.3,334.9 L462.3,334.8 L463.0,334.8 L463.0,334.8 L463.7,334.8 L463.7,334.7 L464.4,334.7 L464.4,334.7 L465.1,334.7 L465.1,334.6 L465.8,334.6 L465.8,334.6 L466.5,334.6 L466.5,334.4 L467.2,334.4 L467.2,334.3 L467.9,334.3 L467.9,334.3 L468.6,334.3 L468.6,334.4 L469.3,334.4 L469.3,334.3 L470.0,334.3 L470.0,334.2 L470.7,334.2 L470.7,334.0 L471.4,334.0 L471.4,334.1 L472.1,334.1 L472.1,334.0 L472.8,334.0 L472.8,333.9 L473.5,333.9 L473.5,333.9 L474.2,333.9 L474.2,333.9 L474.9,333.9 L474.9,333.9 L475.6,333.9 L475.6,333.9 L476.3,333.9 L476.3,334.1 L477.0,334.1 L477.0,334.0 L477.7,334.0 L477.7,333.9 L478.4,333.9 L478.4,333.6 L479.1,333.6 L479.1,333.4 L479.8,333.4 L479.8,333.3 L480.5,333.3 L480.5,333.2 L481.2,333.2 L481.2,333.1 L481.9,333.1 L481.9,333.2 L482.6,333.2 L482.6,332.9 L483.3,332.9 L483.3,332.5 L484.0,332.5 L484.0,332.5 L484.7,332.5 L484.7,332.6 L485.4,332.6 L485.4,332.0 L486.1,332.0 L486.1,331.9 L486.8,331.9 L486.8,331.6 L487.5,331.6 L487.5,331.4 L488.2,331.4 L488.2,331.7 L488.9,331.7 L488.9,330.9 L489.6,330.9 L489.6,330.4 L490.3,330.4 L490.3,330.7 L491.0,330.7 L491.0,330.7 L491.7,330.7 L491.7,330.9 L492.4,330.9 L492.4,331.3 L493.1,331.3 L493.1,331.5 L493.8,331.5 L493.8,331.4 L494.5,331.4 L494.5,331.1 L495.2,331.1 L495.2,331.0 L495.9,331.0 L495.9,331.2 L496.6,331.2 L496.6,330.9 L497.3,330.9 L497.3,331.3 L498.0,331.3 L498.0,331.2 L498.7,331.2 L498.7,331.0 L499.4,331.0 L499.4,331.2 L500.1,331.2 L500.1,331.9 L500.8,331.9 L500.8,332.1 L501.5,332.1 L501.5,331.9 L502.2,331.9 L502.2,331.7 L502.9,331.7 L502.9,331.2 L503.6,331.2 L503.6,331.6 L504.3,331.6 L504.3,331.6 L505.0,331.6 L505.0,331.4 L505.7,331.4 L505.7,331.5 L506.4,331.5 L506.4,332.3 L507.1,332.3 L507.1,331.9 L507.8,331.9 L507.8,331.1 L508.5,331.1 L508.5,331.0 L509.2,331.0 L509.2,331.4 L509.9,331.4 L509.9,331.6 L510.6,331.6 L510.6,331.5 L511.3,331.5 L511.3,330.8 L512.0,330.8 L512.0,330.9 L512.7,330.9 L512.7,331.0 L513.4,331.0 L513.4,330.7 L514.1,330.7 L514.1,331.0 L514.8,331.0 L514.8,329.8 L515.5,329.8 L515.5,329.6 L516.2,329.6 L516.2,329.4 L516.9,329.4 L516.9,329.4 L517.6,329.4 L517.6,329.2 L518.3,329.2 L518.3,329.4 L519.0,329.4 L519.0,329.8 L519.7,329.8 L519.7,330.8 L520.4,330.8 L520.4,331.3 L521.1,331.3 L521.1,331.6 L521.8,331.6 L521.8,331.8 L522.5,331.8 L522.5,331.7 L523.2,331.7 L523.2,332.0 L523.9,332.0 L523.9,331.9 L524.6,331.9 L524.6,332.1 L525.3,332.1 L525.3,332.4 L526.0,332.4 L526.0,332.6 L526.7,332.6 L526.7,332.7 L527.4,332.7 L527.4,332.7 L528.1,332.7 L528.1,333.2 L528.8,333.2 L528.8,333.6 L529.5,333.6 L529.5,334.2 L530.2,334.2 L530.2,334.3 L530.9,334.3 L530.9,334.5 L531.6,334.5 L531.6,334.8 L532.3,334.8 L532.3,334.9 L533.0,334.9 L533.0,335.0 L533.7,335.0 L533.7,335.0 L534.4,335.0 L534.4,335.0 L535.1,335.0 L535.1,334.8 L535.8,334.8 L535.8,334.9 L536.5,334.9 L536.5,335.0 L537.2,335.0 L537.2,335.2 L537.9,335.2 L537.9,335.1 L538.6,335.1 L538.6,335.1 L539.3,335.1 L539.3,335.3 L540.0,335.3 L540.0,335.2 L540.7,335.2 L540.7,335.4 L541.4,335.4 L541.4,335.1 L542.1,335.1 L542.1,335.0 L542.8,335.0 L542.8,335.1 L543.5,335.1 L543.5,335.1 L544.2,335.1 L544.2,335.3 L544.9,335.3 L544.9,335.4 L545.6,335.4 L545.6,335.5 L546.3,335.5 L546.3,335.4 L547.0,335.4 L547.0,335.6 L547.7,335.6 L547.7,335.6 L548.4,335.6 L548.4,335.5 L549.1,335.5 L549.1,335.4 L549.8,335.4 L549.8,335.5 L549.9,335.5 L549.9,336.4Z" fill="#a9a9aa"/>
<rect x="427.3" y="336.9" width="122.6" height="1.6" fill="#c9c9c9"/>
<path d="M427.3,356.7 L427.3,355.0 L428.0,355.0 L428.0,354.8 L428.7,354.8 L428.7,354.6 L429.4,354.6 L429.4,354.5 L430.1,354.5 L430.1,354.2 L430.8,354.2 L430.8,354.0 L431.5,354.0 L431.5,354.0 L432.2,354.0 L432.2,353.5 L432.9,353.5 L432.9,353.5 L433.6,353.5 L433.6,353.6 L434.3,353.6 L434.3,353.7 L435.0,353.7 L435.0,353.6 L435.7,353.6 L435.7,353.2 L436.4,353.2 L436.4,352.8 L437.1,352.8 L437.1,352.4 L437.8,352.4 L437.8,351.8 L438.5,351.8 L438.5,351.3 L439.2,351.3 L439.2,351.2 L439.9,351.2 L439.9,350.8 L440.6,350.8 L440.6,351.0 L441.3,351.0 L441.3,351.6 L442.0,351.6 L442.0,351.7 L442.7,351.7 L442.7,352.1 L443.4,352.1 L443.4,352.4 L444.1,352.4 L444.1,352.2 L444.8,352.2 L444.8,352.4 L445.5,352.4 L445.5,352.9 L446.2,352.9 L446.2,353.2 L446.9,353.2 L446.9,353.0 L447.6,353.0 L447.6,353.4 L448.3,353.4 L448.3,353.5 L449.0,353.5 L449.0,353.6 L449.7,353.6 L449.7,353.7 L450.4,353.7 L450.4,353.8 L451.1,353.8 L451.1,354.0 L451.8,354.0 L451.8,354.3 L452.5,354.3 L452.5,354.4 L453.2,354.4 L453.2,354.5 L453.9,354.5 L453.9,354.5 L454.6,354.5 L454.6,354.4 L455.3,354.4 L455.3,354.7 L456.0,354.7 L456.0,356.0 L456.7,356.0 L456.7,356.7 L457.4,356.7 L457.4,356.7 L458.1,356.7 L458.1,356.7 L458.8,356.7 L458.8,356.7 L459.5,356.7 L459.5,356.7 L460.2,356.7 L460.2,356.7 L460.9,356.7 L460.9,356.7 L461.6,356.7 L461.6,356.7 L462.3,356.7 L462.3,356.7 L463.0,356.7 L463.0,356.3 L463.7,356.3 L463.7,355.2 L464.4,355.2 L464.4,355.4 L465.1,355.4 L465.1,355.3 L465.8,355.3 L465.8,355.2 L466.5,355.2 L466.5,355.3 L467.2,355.3 L467.2,355.2 L467.9,355.2 L467.9,355.1 L468.6,355.1 L468.6,355.2 L469.3,355.2 L469.3,355.1 L470.0,355.1 L470.0,355.1 L470.7,355.1 L470.7,355.2 L471.4,355.2 L471.4,355.1 L472.1,355.1 L472.1,355.1 L472.8,355.1 L472.8,355.0 L473.5,355.0 L473.5,355.2 L474.2,355.2 L474.2,355.1 L474.9,355.1 L474.9,355.0 L475.6,355.0 L475.6,355.0 L476.3,355.0 L476.3,355.0 L477.0,355.0 L477.0,354.9 L477.7,354.9 L477.7,354.9 L478.4,354.9 L478.4,356.7 L479.1,356.7 L479.1,356.7 L479.8,356.7 L479.8,356.7 L480.5,356.7 L480.5,355.6 L481.2,355.6 L481.2,355.5 L481.9,355.5 L481.9,355.5 L482.6,355.5 L482.6,355.4 L483.3,355.4 L483.3,355.6 L484.0,355.6 L484.0,355.5 L484.7,355.5 L484.7,355.6 L485.4,355.6 L485.4,355.5 L486.1,355.5 L486.1,355.3 L486.8,355.3 L486.8,355.1 L487.5,355.1 L487.5,355.1 L488.2,355.1 L488.2,355.0 L488.9,355.0 L488.9,354.9 L489.6,354.9 L489.6,355.1 L490.3,355.1 L490.3,354.8 L491.0,354.8 L491.0,354.7 L491.7,354.7 L491.7,354.6 L492.4,354.6 L492.4,354.6 L493.1,354.6 L493.1,354.5 L493.8,354.5 L493.8,354.4 L494.5,354.4 L494.5,354.0 L495.2,354.0 L495.2,353.9 L495.9,353.9 L495.9,353.2 L496.6,353.2 L496.6,353.4 L497.3,353.4 L497.3,353.4 L498.0,353.4 L498.0,353.4 L498.7,353.4 L498.7,353.5 L499.4,353.5 L499.4,353.1 L500.1,353.1 L500.1,353.0 L500.8,353.0 L500.8,353.2 L501.5,353.2 L501.5,353.2 L502.2,353.2 L502.2,353.0 L502.9,353.0 L502.9,353.4 L503.6,353.4 L503.6,353.4 L504.3,353.4 L504.3,353.4 L505.0,353.4 L505.0,352.9 L505.7,352.9 L505.7,353.0 L506.4,353.0 L506.4,353.2 L507.1,353.2 L507.1,353.4 L507.8,353.4 L507.8,353.0 L508.5,353.0 L508.5,353.3 L509.2,353.3 L509.2,352.9 L509.9,352.9 L509.9,353.4 L510.6,353.4 L510.6,353.5 L511.3,353.5 L511.3,353.6 L512.0,353.6 L512.0,353.7 L512.7,353.7 L512.7,353.7 L513.4,353.7 L513.4,353.6 L514.1,353.6 L514.1,353.7 L514.8,353.7 L514.8,354.0 L515.5,354.0 L515.5,353.7 L516.2,353.7 L516.2,353.4 L516.9,353.4 L516.9,353.7 L517.6,353.7 L517.6,353.6 L518.3,353.6 L518.3,354.2 L519.0,354.2 L519.0,353.9 L519.7,353.9 L519.7,354.1 L520.4,354.1 L520.4,354.2 L521.1,354.2 L521.1,353.7 L521.8,353.7 L521.8,354.0 L522.5,354.0 L522.5,354.0 L523.2,354.0 L523.2,354.2 L523.9,354.2 L523.9,354.5 L524.6,354.5 L524.6,354.6 L525.3,354.6 L525.3,354.5 L526.0,354.5 L526.0,354.6 L526.7,354.6 L526.7,354.6 L527.4,354.6 L527.4,354.4 L528.1,354.4 L528.1,354.4 L528.8,354.4 L528.8,354.6 L529.5,354.6 L529.5,354.3 L530.2,354.3 L530.2,354.3 L530.9,354.3 L530.9,354.2 L531.6,354.2 L531.6,354.7 L532.3,354.7 L532.3,355.2 L533.0,355.2 L533.0,356.0 L533.7,356.0 L533.7,356.2 L534.4,356.2 L534.4,356.2 L535.1,356.2 L535.1,356.2 L535.8,356.2 L535.8,356.2 L536.5,356.2 L536.5,356.2 L537.2,356.2 L537.2,356.1 L537.9,356.1 L537.9,356.1 L538.6,356.1 L538.6,356.1 L539.3,356.1 L539.3,356.0 L540.0,356.0 L540.0,355.6 L540.7,355.6 L540.7,355.2 L541.4,355.2 L541.4,355.1 L542.1,355.1 L542.1,355.1 L542.8,355.1 L542.8,355.2 L543.5,355.2 L543.5,355.2 L544.2,355.2 L544.2,355.1 L544.9,355.1 L544.9,355.2 L545.6,355.2 L545.6,355.1 L546.3,355.1 L546.3,355.1 L547.0,355.1 L547.0,355.1 L547.7,355.1 L547.7,355.2 L548.4,355.2 L548.4,355.0 L549.1,355.0 L549.1,355.1 L549.8,355.1 L549.8,355.2 L549.9,355.2 L549.9,356.7Z" fill="#e8a52e"/>
<rect x="427.3" y="357.2" width="122.6" height="1.6" fill="#c9c9c9"/>
<path d="M427.3,376.4 L427.3,375.3 L428.0,375.3 L428.0,375.1 L428.7,375.1 L428.7,375.1 L429.4,375.1 L429.4,375.1 L430.1,375.1 L430.1,375.0 L430.8,375.0 L430.8,374.8 L431.5,374.8 L431.5,374.7 L432.2,374.7 L432.2,374.5 L432.9,374.5 L432.9,374.5 L433.6,374.5 L433.6,374.5 L434.3,374.5 L434.3,374.5 L435.0,374.5 L435.0,374.4 L435.7,374.4 L435.7,374.3 L436.4,374.3 L436.4,374.1 L437.1,374.1 L437.1,374.0 L437.8,374.0 L437.8,374.3 L438.5,374.3 L438.5,374.2 L439.2,374.2 L439.2,374.3 L439.9,374.3 L439.9,374.2 L440.6,374.2 L440.6,374.1 L441.3,374.1 L441.3,374.2 L442.0,374.2 L442.0,374.5 L442.7,374.5 L442.7,374.5 L443.4,374.5 L443.4,374.7 L444.1,374.7 L444.1,374.6 L444.8,374.6 L444.8,374.7 L445.5,374.7 L445.5,374.8 L446.2,374.8 L446.2,374.7 L446.9,374.7 L446.9,375.0 L447.6,375.0 L447.6,375.0 L448.3,375.0 L448.3,375.1 L449.0,375.1 L449.0,375.2 L449.7,375.2 L449.7,375.3 L450.4,375.3 L450.4,375.2 L451.1,375.2 L451.1,375.3 L451.8,375.3 L451.8,375.3 L452.5,375.3 L452.5,375.3 L453.2,375.3 L453.2,375.5 L453.9,375.5 L453.9,375.4 L454.6,375.4 L454.6,375.3 L455.3,375.3 L455.3,375.3 L456.0,375.3 L456.0,375.3 L456.7,375.3 L456.7,375.1 L457.4,375.1 L457.4,374.9 L458.1,374.9 L458.1,374.9 L458.8,374.9 L458.8,374.8 L459.5,374.8 L459.5,374.7 L460.2,374.7 L460.2,374.5 L460.9,374.5 L460.9,374.5 L461.6,374.5 L461.6,374.3 L462.3,374.3 L462.3,374.4 L463.0,374.4 L463.0,374.4 L463.7,374.4 L463.7,374.2 L464.4,374.2 L464.4,374.0 L465.1,374.0 L465.1,374.0 L465.8,374.0 L465.8,373.9 L466.5,373.9 L466.5,373.8 L467.2,373.8 L467.2,373.6 L467.9,373.6 L467.9,373.4 L468.6,373.4 L468.6,373.3 L469.3,373.3 L469.3,373.2 L470.0,373.2 L470.0,373.3 L470.7,373.3 L470.7,373.3 L471.4,373.3 L471.4,373.7 L472.1,373.7 L472.1,373.4 L472.8,373.4 L472.8,373.2 L473.5,373.2 L473.5,372.9 L474.2,372.9 L474.2,373.2 L474.9,373.2 L474.9,373.1 L475.6,373.1 L475.6,373.0 L476.3,373.0 L476.3,373.2 L477.0,373.2 L477.0,372.7 L477.7,372.7 L477.7,372.2 L478.4,372.2 L478.4,372.6 L479.1,372.6 L479.1,372.8 L479.8,372.8 L479.8,372.9 L480.5,372.9 L480.5,373.6 L481.2,373.6 L481.2,373.9 L481.9,373.9 L481.9,374.2 L482.6,374.2 L482.6,373.9 L483.3,373.9 L483.3,374.1 L484.0,374.1 L484.0,374.2 L484.7,374.2 L484.7,374.1 L485.4,374.1 L485.4,373.9 L486.1,373.9 L486.1,374.1 L486.8,374.1 L486.8,374.1 L487.5,374.1 L487.5,374.2 L488.2,374.2 L488.2,373.8 L488.9,373.8 L488.9,373.9 L489.6,373.9 L489.6,373.7 L490.3,373.7 L490.3,373.5 L491.0,373.5 L491.0,373.2 L491.7,373.2 L491.7,373.2 L492.4,373.2 L492.4,373.2 L493.1,373.2 L493.1,373.0 L493.8,373.0 L493.8,373.1 L494.5,373.1 L494.5,373.4 L495.2,373.4 L495.2,373.5 L495.9,373.5 L495.9,373.3 L496.6,373.3 L496.6,373.3 L497.3,373.3 L497.3,373.4 L498.0,373.4 L498.0,373.4 L498.7,373.4 L498.7,372.8 L499.4,372.8 L499.4,373.0 L500.1,373.0 L500.1,373.0 L500.8,373.0 L500.8,373.0 L501.5,373.0 L501.5,373.2 L502.2,373.2 L502.2,373.0 L502.9,373.0 L502.9,373.0 L503.6,373.0 L503.6,373.0 L504.3,373.0 L504.3,373.4 L505.0,373.4 L505.0,373.2 L505.7,373.2 L505.7,373.1 L506.4,373.1 L506.4,373.2 L507.1,373.2 L507.1,373.8 L507.8,373.8 L507.8,373.7 L508.5,373.7 L508.5,373.9 L509.2,373.9 L509.2,373.6 L509.9,373.6 L509.9,373.4 L510.6,373.4 L510.6,373.2 L511.3,373.2 L511.3,372.6 L512.0,372.6 L512.0,372.3 L512.7,372.3 L512.7,372.1 L513.4,372.1 L513.4,372.9 L514.1,372.9 L514.1,373.3 L514.8,373.3 L514.8,373.5 L515.5,373.5 L515.5,373.9 L516.2,373.9 L516.2,374.5 L516.9,374.5 L516.9,374.7 L517.6,374.7 L517.6,375.0 L518.3,375.0 L518.3,375.1 L519.0,375.1 L519.0,375.2 L519.7,375.2 L519.7,375.4 L520.4,375.4 L520.4,375.4 L521.1,375.4 L521.1,375.3 L521.8,375.3 L521.8,375.3 L522.5,375.3 L522.5,375.2 L523.2,375.2 L523.2,375.2 L523.9,375.2 L523.9,375.2 L524.6,375.2 L524.6,375.2 L525.3,375.2 L525.3,375.2 L526.0,375.2 L526.0,375.2 L526.7,375.2 L526.7,375.3 L527.4,375.3 L527.4,375.3 L528.1,375.3 L528.1,375.3 L528.8,375.3 L528.8,375.2 L529.5,375.2 L529.5,375.2 L530.2,375.2 L530.2,375.2 L530.9,375.2 L530.9,375.1 L531.6,375.1 L531.6,375.1 L532.3,375.1 L532.3,375.1 L533.0,375.1 L533.0,375.1 L533.7,375.1 L533.7,375.1 L534.4,375.1 L534.4,375.0 L535.1,375.0 L535.1,374.9 L535.8,374.9 L535.8,374.9 L536.5,374.9 L536.5,375.0 L537.2,375.0 L537.2,374.9 L537.9,374.9 L537.9,374.7 L538.6,374.7 L538.6,374.9 L539.3,374.9 L539.3,374.8 L540.0,374.8 L540.0,374.7 L540.7,374.7 L540.7,374.6 L541.4,374.6 L541.4,374.5 L542.1,374.5 L542.1,374.6 L542.8,374.6 L542.8,374.5 L543.5,374.5 L543.5,374.5 L544.2,374.5 L544.2,374.6 L544.9,374.6 L544.9,374.5 L545.6,374.5 L545.6,374.5 L546.3,374.5 L546.3,374.5 L547.0,374.5 L547.0,374.5 L547.7,374.5 L547.7,374.6 L548.4,374.6 L548.4,374.6 L549.1,374.6 L549.1,374.7 L549.8,374.7 L549.8,374.4 L549.9,374.4 L549.9,376.4Z" fill="#e8a52e"/>
<rect x="427.3" y="376.9" width="122.6" height="1.6" fill="#c9c9c9"/>
<path d="M427.3,395.9 L427.3,391.4 L428.0,391.4 L428.0,391.1 L428.7,391.1 L428.7,391.5 L429.4,391.5 L429.4,392.0 L430.1,392.0 L430.1,391.8 L430.8,391.8 L430.8,391.4 L431.5,391.4 L431.5,391.4 L432.2,391.4 L432.2,391.7 L432.9,391.7 L432.9,391.6 L433.6,391.6 L433.6,391.0 L434.3,391.0 L434.3,391.3 L435.0,391.3 L435.0,390.8 L435.7,390.8 L435.7,390.6 L436.4,390.6 L436.4,390.4 L437.1,390.4 L437.1,390.1 L437.8,390.1 L437.8,390.3 L438.5,390.3 L438.5,390.3 L439.2,390.3 L439.2,389.6 L439.9,389.6 L439.9,389.8 L440.6,389.8 L440.6,391.0 L441.3,391.0 L441.3,392.9 L442.0,392.9 L442.0,394.3 L442.7,394.3 L442.7,394.4 L443.4,394.4 L443.4,394.4 L444.1,394.4 L444.1,394.4 L444.8,394.4 L444.8,394.4 L445.5,394.4 L445.5,394.5 L446.2,394.5 L446.2,394.5 L446.9,394.5 L446.9,394.5 L447.6,394.5 L447.6,394.6 L448.3,394.6 L448.3,394.6 L449.0,394.6 L449.0,394.6 L449.7,394.6 L449.7,394.8 L450.4,394.8 L450.4,394.9 L451.1,394.9 L451.1,394.9 L451.8,394.9 L451.8,394.9 L452.5,394.9 L452.5,394.9 L453.2,394.9 L453.2,394.9 L453.9,394.9 L453.9,394.9 L454.6,394.9 L454.6,394.8 L455.3,394.8 L455.3,394.7 L456.0,394.7 L456.0,394.8 L456.7,394.8 L456.7,394.8 L457.4,394.8 L457.4,394.7 L458.1,394.7 L458.1,394.7 L458.8,394.7 L458.8,394.6 L459.5,394.6 L459.5,394.7 L460.2,394.7 L460.2,394.7 L460.9,394.7 L460.9,394.7 L461.6,394.7 L461.6,394.7 L462.3,394.7 L462.3,394.7 L463.0,394.7 L463.0,394.7 L463.7,394.7 L463.7,394.7 L464.4,394.7 L464.4,394.8 L465.1,394.8 L465.1,394.8 L465.8,394.8 L465.8,394.8 L466.5,394.8 L466.5,394.9 L467.2,394.9 L467.2,394.9 L467.9,394.9 L467.9,394.9 L468.6,394.9 L468.6,394.9 L469.3,394.9 L469.3,394.9 L470.0,394.9 L470.0,394.9 L470.7,394.9 L470.7,394.8 L471.4,394.8 L471.4,394.6 L472.1,394.6 L472.1,394.5 L472.8,394.5 L472.8,394.2 L473.5,394.2 L473.5,393.7 L474.2,393.7 L474.2,393.8 L474.9,393.8 L474.9,393.5 L475.6,393.5 L475.6,393.2 L476.3,393.2 L476.3,393.0 L477.0,393.0 L477.0,393.0 L477.7,393.0 L477.7,392.4 L478.4,392.4 L478.4,392.2 L479.1,392.2 L479.1,391.7 L479.8,391.7 L479.8,391.7 L480.5,391.7 L480.5,391.7 L481.2,391.7 L481.2,391.1 L481.9,391.1 L481.9,390.8 L482.6,390.8 L482.6,390.6 L483.3,390.6 L483.3,390.4 L484.0,390.4 L484.0,389.8 L484.7,389.8 L484.7,389.8 L485.4,389.8 L485.4,389.8 L486.1,389.8 L486.1,389.4 L486.8,389.4 L486.8,388.5 L487.5,388.5 L487.5,387.8 L488.2,387.8 L488.2,387.8 L488.9,387.8 L488.9,387.3 L489.6,387.3 L489.6,387.6 L490.3,387.6 L490.3,388.0 L491.0,388.0 L491.0,387.0 L491.7,387.0 L491.7,387.6 L492.4,387.6 L492.4,387.6 L493.1,387.6 L493.1,387.7 L493.8,387.7 L493.8,387.9 L494.5,387.9 L494.5,388.1 L495.2,388.1 L495.2,388.1 L495.9,388.1 L495.9,388.1 L496.6,388.1 L496.6,388.7 L497.3,388.7 L497.3,388.9 L498.0,388.9 L498.0,388.5 L498.7,388.5 L498.7,388.5 L499.4,388.5 L499.4,389.0 L500.1,389.0 L500.1,389.2 L500.8,389.2 L500.8,389.8 L501.5,389.8 L501.5,390.3 L502.2,390.3 L502.2,390.5 L502.9,390.5 L502.9,389.8 L503.6,389.8 L503.6,390.2 L504.3,390.2 L504.3,390.9 L505.0,390.9 L505.0,390.8 L505.7,390.8 L505.7,391.0 L506.4,391.0 L506.4,390.6 L507.1,390.6 L507.1,390.1 L507.8,390.1 L507.8,390.3 L508.5,390.3 L508.5,390.4 L509.2,390.4 L509.2,390.7 L509.9,390.7 L509.9,390.3 L510.6,390.3 L510.6,390.7 L511.3,390.7 L511.3,390.7 L512.0,390.7 L512.0,390.0 L512.7,390.0 L512.7,390.5 L513.4,390.5 L513.4,390.5 L514.1,390.5 L514.1,390.7 L514.8,390.7 L514.8,390.6 L515.5,390.6 L515.5,390.6 L516.2,390.6 L516.2,390.3 L516.9,390.3 L516.9,390.3 L517.6,390.3 L517.6,390.4 L518.3,390.4 L518.3,391.0 L519.0,391.0 L519.0,390.9 L519.7,390.9 L519.7,391.5 L520.4,391.5 L520.4,391.3 L521.1,391.3 L521.1,391.5 L521.8,391.5 L521.8,391.4 L522.5,391.4 L522.5,391.7 L523.2,391.7 L523.2,391.9 L523.9,391.9 L523.9,392.0 L524.6,392.0 L524.6,392.1 L525.3,392.1 L525.3,392.3 L526.0,392.3 L526.0,392.6 L526.7,392.6 L526.7,392.8 L527.4,392.8 L527.4,393.0 L528.1,393.0 L528.1,393.3 L528.8,393.3 L528.8,393.5 L529.5,393.5 L529.5,393.8 L530.2,393.8 L530.2,393.5 L530.9,393.5 L530.9,393.7 L531.6,393.7 L531.6,393.9 L532.3,393.9 L532.3,393.8 L533.0,393.8 L533.0,393.8 L533.7,393.8 L533.7,393.8 L534.4,393.8 L534.4,393.7 L535.1,393.7 L535.1,393.6 L535.8,393.6 L535.8,393.8 L536.5,393.8 L536.5,393.7 L537.2,393.7 L537.2,393.8 L537.9,393.8 L537.9,393.8 L538.6,393.8 L538.6,394.0 L539.3,394.0 L539.3,393.9 L540.0,393.9 L540.0,393.9 L540.7,393.9 L540.7,394.3 L541.4,394.3 L541.4,394.2 L542.1,394.2 L542.1,394.2 L542.8,394.2 L542.8,394.4 L543.5,394.4 L543.5,394.4 L544.2,394.4 L544.2,394.5 L544.9,394.5 L544.9,394.6 L545.6,394.6 L545.6,394.7 L546.3,394.7 L546.3,394.7 L547.0,394.7 L547.0,394.7 L547.7,394.7 L547.7,394.8 L548.4,394.8 L548.4,394.8 L549.1,394.8 L549.1,395.0 L549.8,395.0 L549.8,395.0 L549.9,395.0 L549.9,395.9Z" fill="#a9a9aa"/>
<rect x="427.3" y="396.4" width="122.6" height="1.6" fill="#c9c9c9"/>
<path d="M427.3,415.4 L427.3,413.9 L428.0,413.9 L428.0,413.8 L428.7,413.8 L428.7,413.8 L429.4,413.8 L429.4,413.8 L430.1,413.8 L430.1,413.7 L430.8,413.7 L430.8,413.6 L431.5,413.6 L431.5,413.4 L432.2,413.4 L432.2,413.5 L432.9,413.5 L432.9,413.1 L433.6,413.1 L433.6,413.5 L434.3,413.5 L434.3,413.4 L435.0,413.4 L435.0,413.2 L435.7,413.2 L435.7,413.1 L436.4,413.1 L436.4,413.2 L437.1,413.2 L437.1,413.1 L437.8,413.1 L437.8,412.9 L438.5,412.9 L438.5,412.7 L439.2,412.7 L439.2,412.9 L439.9,412.9 L439.9,412.8 L440.6,412.8 L440.6,412.8 L441.3,412.8 L441.3,412.5 L442.0,412.5 L442.0,412.6 L442.7,412.6 L442.7,412.2 L443.4,412.2 L443.4,411.6 L444.1,411.6 L444.1,411.3 L444.8,411.3 L444.8,410.9 L445.5,410.9 L445.5,410.8 L446.2,410.8 L446.2,410.5 L446.9,410.5 L446.9,410.7 L447.6,410.7 L447.6,410.5 L448.3,410.5 L448.3,410.7 L449.0,410.7 L449.0,411.2 L449.7,411.2 L449.7,410.7 L450.4,410.7 L450.4,411.8 L451.1,411.8 L451.1,412.7 L451.8,412.7 L451.8,412.7 L452.5,412.7 L452.5,412.5 L453.2,412.5 L453.2,412.5 L453.9,412.5 L453.9,412.3 L454.6,412.3 L454.6,412.0 L455.3,412.0 L455.3,412.3 L456.0,412.3 L456.0,412.7 L456.7,412.7 L456.7,412.8 L457.4,412.8 L457.4,412.7 L458.1,412.7 L458.1,412.7 L458.8,412.7 L458.8,412.9 L459.5,412.9 L459.5,413.0 L460.2,413.0 L460.2,413.1 L460.9,413.1 L460.9,413.4 L461.6,413.4 L461.6,413.4 L462.3,413.4 L462.3,413.6 L463.0,413.6 L463.0,413.7 L463.7,413.7 L463.7,413.8 L464.4,413.8 L464.4,413.8 L465.1,413.8 L465.1,413.8 L465.8,413.8 L465.8,413.9 L466.5,413.9 L466.5,414.0 L467.2,414.0 L467.2,414.0 L467.9,414.0 L467.9,414.1 L468.6,414.1 L468.6,414.3 L469.3,414.3 L469.3,414.2 L470.0,414.2 L470.0,414.2 L470.7,414.2 L470.7,414.2 L471.4,414.2 L471.4,414.2 L472.1,414.2 L472.1,414.1 L472.8,414.1 L472.8,414.2 L473.5,414.2 L473.5,414.2 L474.2,414.2 L474.2,414.2 L474.9,414.2 L474.9,414.2 L475.6,414.2 L475.6,414.2 L476.3,414.2 L476.3,414.1 L477.0,414.1 L477.0,414.2 L477.7,414.2 L477.7,414.2 L478.4,414.2 L478.4,414.2 L479.1,414.2 L479.1,414.0 L479.8,414.0 L479.8,413.9 L480.5,413.9 L480.5,413.9 L481.2,413.9 L481.2,413.9 L481.9,413.9 L481.9,414.0 L482.6,414.0 L482.6,414.0 L483.3,414.0 L483.3,414.0 L484.0,414.0 L484.0,414.0 L484.7,414.0 L484.7,413.8 L485.4,413.8 L485.4,413.7 L486.1,413.7 L486.1,413.9 L486.8,413.9 L486.8,413.9 L487.5,413.9 L487.5,413.9 L488.2,413.9 L488.2,413.9 L488.9,413.9 L488.9,413.8 L489.6,413.8 L489.6,413.8 L490.3,413.8 L490.3,413.6 L491.0,413.6 L491.0,413.5 L491.7,413.5 L491.7,413.5 L492.4,413.5 L492.4,413.2 L493.1,413.2 L493.1,413.2 L493.8,413.2 L493.8,413.0 L494.5,413.0 L494.5,413.0 L495.2,413.0 L495.2,413.1 L495.9,413.1 L495.9,413.0 L496.6,413.0 L496.6,413.0 L497.3,413.0 L497.3,412.6 L498.0,412.6 L498.0,412.8 L498.7,412.8 L498.7,412.3 L499.4,412.3 L499.4,412.5 L500.1,412.5 L500.1,412.0 L500.8,412.0 L500.8,411.9 L501.5,411.9 L501.5,411.9 L502.2,411.9 L502.2,411.6 L502.9,411.6 L502.9,411.7 L503.6,411.7 L503.6,411.5 L504.3,411.5 L504.3,411.4 L505.0,411.4 L505.0,410.5 L505.7,410.5 L505.7,410.9 L506.4,410.9 L506.4,410.3 L507.1,410.3 L507.1,410.4 L507.8,410.4 L507.8,410.7 L508.5,410.7 L508.5,410.7 L509.2,410.7 L509.2,410.2 L509.9,410.2 L509.9,410.3 L510.6,410.3 L510.6,410.5 L511.3,410.5 L511.3,410.1 L512.0,410.1 L512.0,410.0 L512.7,410.0 L512.7,409.5 L513.4,409.5 L513.4,409.9 L514.1,409.9 L514.1,409.3 L514.8,409.3 L514.8,409.0 L515.5,409.0 L515.5,409.5 L516.2,409.5 L516.2,409.8 L516.9,409.8 L516.9,409.7 L517.6,409.7 L517.6,409.9 L518.3,409.9 L518.3,409.8 L519.0,409.8 L519.0,409.7 L519.7,409.7 L519.7,410.0 L520.4,410.0 L520.4,410.5 L521.1,410.5 L521.1,411.3 L521.8,411.3 L521.8,411.1 L522.5,411.1 L522.5,411.5 L523.2,411.5 L523.2,411.0 L523.9,411.0 L523.9,410.6 L524.6,410.6 L524.6,410.7 L525.3,410.7 L525.3,410.7 L526.0,410.7 L526.0,410.6 L526.7,410.6 L526.7,410.6 L527.4,410.6 L527.4,411.2 L528.1,411.2 L528.1,411.7 L528.8,411.7 L528.8,411.9 L529.5,411.9 L529.5,411.9 L530.2,411.9 L530.2,412.2 L530.9,412.2 L530.9,412.2 L531.6,412.2 L531.6,411.9 L532.3,411.9 L532.3,412.1 L533.0,412.1 L533.0,412.2 L533.7,412.2 L533.7,412.5 L534.4,412.5 L534.4,412.6 L535.1,412.6 L535.1,412.5 L535.8,412.5 L535.8,412.4 L536.5,412.4 L536.5,412.5 L537.2,412.5 L537.2,412.8 L537.9,412.8 L537.9,412.6 L538.6,412.6 L538.6,413.1 L539.3,413.1 L539.3,413.2 L540.0,413.2 L540.0,413.4 L540.7,413.4 L540.7,413.4 L541.4,413.4 L541.4,413.4 L542.1,413.4 L542.1,413.5 L542.8,413.5 L542.8,413.2 L543.5,413.2 L543.5,413.1 L544.2,413.1 L544.2,413.3 L544.9,413.3 L544.9,413.5 L545.6,413.5 L545.6,413.9 L546.3,413.9 L546.3,413.9 L547.0,413.9 L547.0,413.9 L547.7,413.9 L547.7,414.0 L548.4,414.0 L548.4,414.1 L549.1,414.1 L549.1,414.2 L549.8,414.2 L549.8,414.4 L549.9,414.4 L549.9,415.4Z" fill="#a9a9aa"/>
<rect x="427.3" y="415.9" width="122.6" height="1.6" fill="#c9c9c9"/>
<path d="M427.3,435.3 L427.3,430.8 L428.0,430.8 L428.0,430.4 L428.7,430.4 L428.7,430.7 L429.4,430.7 L429.4,430.5 L430.1,430.5 L430.1,430.9 L430.8,430.9 L430.8,430.5 L431.5,430.5 L431.5,430.5 L432.2,430.5 L432.2,430.0 L432.9,430.0 L432.9,429.9 L433.6,429.9 L433.6,430.0 L434.3,430.0 L434.3,430.1 L435.0,430.1 L435.0,430.0 L435.7,430.0 L435.7,430.1 L436.4,430.1 L436.4,430.4 L437.1,430.4 L437.1,430.2 L437.8,430.2 L437.8,431.0 L438.5,431.0 L438.5,430.8 L439.2,430.8 L439.2,430.0 L439.9,430.0 L439.9,429.9 L440.6,429.9 L440.6,430.4 L441.3,430.4 L441.3,430.0 L442.0,430.0 L442.0,429.9 L442.7,429.9 L442.7,430.2 L443.4,430.2 L443.4,430.4 L444.1,430.4 L444.1,430.2 L444.8,430.2 L444.8,429.9 L445.5,429.9 L445.5,430.0 L446.2,430.0 L446.2,429.4 L446.9,429.4 L446.9,429.8 L447.6,429.8 L447.6,429.5 L448.3,429.5 L448.3,430.1 L449.0,430.1 L449.0,430.7 L449.7,430.7 L449.7,430.6 L450.4,430.6 L450.4,430.7 L451.1,430.7 L451.1,430.4 L451.8,430.4 L451.8,430.9 L452.5,430.9 L452.5,431.2 L453.2,431.2 L453.2,431.9 L453.9,431.9 L453.9,432.2 L454.6,432.2 L454.6,432.4 L455.3,432.4 L455.3,432.8 L456.0,432.8 L456.0,433.0 L456.7,433.0 L456.7,433.3 L457.4,433.3 L457.4,433.6 L458.1,433.6 L458.1,433.7 L458.8,433.7 L458.8,433.8 L459.5,433.8 L459.5,433.8 L460.2,433.8 L460.2,433.9 L460.9,433.9 L460.9,433.9 L461.6,433.9 L461.6,434.0 L462.3,434.0 L462.3,434.0 L463.0,434.0 L463.0,434.1 L463.7,434.1 L463.7,434.2 L464.4,434.2 L464.4,434.3 L465.1,434.3 L465.1,434.2 L465.8,434.2 L465.8,434.2 L466.5,434.2 L466.5,434.3 L467.2,434.3 L467.2,434.2 L467.9,434.2 L467.9,434.3 L468.6,434.3 L468.6,434.3 L469.3,434.3 L469.3,434.1 L470.0,434.1 L470.0,434.0 L470.7,434.0 L470.7,433.8 L471.4,433.8 L471.4,433.4 L472.1,433.4 L472.1,433.0 L472.8,433.0 L472.8,432.8 L473.5,432.8 L473.5,432.8 L474.2,432.8 L474.2,432.8 L474.9,432.8 L474.9,432.7 L475.6,432.7 L475.6,432.5 L476.3,432.5 L476.3,432.4 L477.0,432.4 L477.0,432.3 L477.7,432.3 L477.7,432.0 L478.4,432.0 L478.4,432.0 L479.1,432.0 L479.1,432.0 L479.8,432.0 L479.8,432.1 L480.5,432.1 L480.5,432.2 L481.2,432.2 L481.2,432.6 L481.9,432.6 L481.9,432.5 L482.6,432.5 L482.6,432.5 L483.3,432.5 L483.3,432.5 L484.0,432.5 L484.0,432.5 L484.7,432.5 L484.7,432.3 L485.4,432.3 L485.4,432.2 L486.1,432.2 L486.1,432.6 L486.8,432.6 L486.8,432.5 L487.5,432.5 L487.5,432.2 L488.2,432.2 L488.2,432.0 L488.9,432.0 L488.9,431.9 L489.6,431.9 L489.6,431.8 L490.3,431.8 L490.3,432.0 L491.0,432.0 L491.0,431.8 L491.7,431.8 L491.7,431.7 L492.4,431.7 L492.4,431.5 L493.1,431.5 L493.1,431.3 L493.8,431.3 L493.8,431.2 L494.5,431.2 L494.5,431.4 L495.2,431.4 L495.2,431.8 L495.9,431.8 L495.9,431.7 L496.6,431.7 L496.6,431.4 L497.3,431.4 L497.3,431.2 L498.0,431.2 L498.0,430.7 L498.7,430.7 L498.7,430.5 L499.4,430.5 L499.4,430.4 L500.1,430.4 L500.1,430.9 L500.8,430.9 L500.8,430.5 L501.5,430.5 L501.5,430.4 L502.2,430.4 L502.2,429.6 L502.9,429.6 L502.9,429.5 L503.6,429.5 L503.6,429.8 L504.3,429.8 L504.3,429.8 L505.0,429.8 L505.0,429.6 L505.7,429.6 L505.7,429.9 L506.4,429.9 L506.4,430.4 L507.1,430.4 L507.1,430.0 L507.8,430.0 L507.8,430.1 L508.5,430.1 L508.5,430.0 L509.2,430.0 L509.2,429.5 L509.9,429.5 L509.9,429.2 L510.6,429.2 L510.6,428.6 L511.3,428.6 L511.3,428.7 L512.0,428.7 L512.0,428.9 L512.7,428.9 L512.7,428.8 L513.4,428.8 L513.4,429.2 L514.1,429.2 L514.1,429.9 L514.8,429.9 L514.8,430.1 L515.5,430.1 L515.5,430.7 L516.2,430.7 L516.2,430.6 L516.9,430.6 L516.9,431.1 L517.6,431.1 L517.6,431.2 L518.3,431.2 L518.3,430.9 L519.0,430.9 L519.0,430.9 L519.7,430.9 L519.7,431.3 L520.4,431.3 L520.4,431.7 L521.1,431.7 L521.1,431.8 L521.8,431.8 L521.8,431.5 L522.5,431.5 L522.5,431.4 L523.2,431.4 L523.2,431.9 L523.9,431.9 L523.9,431.7 L524.6,431.7 L524.6,431.7 L525.3,431.7 L525.3,431.6 L526.0,431.6 L526.0,431.4 L526.7,431.4 L526.7,431.8 L527.4,431.8 L527.4,431.8 L528.1,431.8 L528.1,431.9 L528.8,431.9 L528.8,431.8 L529.5,431.8 L529.5,432.0 L530.2,432.0 L530.2,432.4 L530.9,432.4 L530.9,432.5 L531.6,432.5 L531.6,432.3 L532.3,432.3 L532.3,432.5 L533.0,432.5 L533.0,432.6 L533.7,432.6 L533.7,432.7 L534.4,432.7 L534.4,432.8 L535.1,432.8 L535.1,432.9 L535.8,432.9 L535.8,433.0 L536.5,433.0 L536.5,432.8 L537.2,432.8 L537.2,433.0 L537.9,433.0 L537.9,433.1 L538.6,433.1 L538.6,433.0 L539.3,433.0 L539.3,433.0 L540.0,433.0 L540.0,433.3 L540.7,433.3 L540.7,433.5 L541.4,433.5 L541.4,433.7 L542.1,433.7 L542.1,433.7 L542.8,433.7 L542.8,434.0 L543.5,434.0 L543.5,434.1 L544.2,434.1 L544.2,434.1 L544.9,434.1 L544.9,434.0 L545.6,434.0 L545.6,434.1 L546.3,434.1 L546.3,434.1 L547.0,434.1 L547.0,434.1 L547.7,434.1 L547.7,434.2 L548.4,434.2 L548.4,434.2 L549.1,434.2 L549.1,434.2 L549.8,434.2 L549.8,434.5 L549.9,434.5 L549.9,435.3Z" fill="#74d3b2"/>
<rect x="427.3" y="435.8" width="122.6" height="1.6" fill="#c9c9c9"/>
<path d="M427.3,455.3 L427.3,448.6 L428.0,448.6 L428.0,448.4 L428.7,448.4 L428.7,447.7 L429.4,447.7 L429.4,447.6 L430.1,447.6 L430.1,447.3 L430.8,447.3 L430.8,448.0 L431.5,448.0 L431.5,447.8 L432.2,447.8 L432.2,447.7 L432.9,447.7 L432.9,447.0 L433.6,447.0 L433.6,447.3 L434.3,447.3 L434.3,447.6 L435.0,447.6 L435.0,448.3 L435.7,448.3 L435.7,449.0 L436.4,449.0 L436.4,449.1 L437.1,449.1 L437.1,448.6 L437.8,448.6 L437.8,449.7 L438.5,449.7 L438.5,450.8 L439.2,450.8 L439.2,449.8 L439.9,449.8 L439.9,449.3 L440.6,449.3 L440.6,449.3 L441.3,449.3 L441.3,449.5 L442.0,449.5 L442.0,450.0 L442.7,450.0 L442.7,450.3 L443.4,450.3 L443.4,450.9 L444.1,450.9 L444.1,450.8 L444.8,450.8 L444.8,451.0 L445.5,451.0 L445.5,451.7 L446.2,451.7 L446.2,451.9 L446.9,451.9 L446.9,452.0 L447.6,452.0 L447.6,452.2 L448.3,452.2 L448.3,451.8 L449.0,451.8 L449.0,451.8 L449.7,451.8 L449.7,452.7 L450.4,452.7 L450.4,452.7 L451.1,452.7 L451.1,452.6 L451.8,452.6 L451.8,452.6 L452.5,452.6 L452.5,452.8 L453.2,452.8 L453.2,453.3 L453.9,453.3 L453.9,453.4 L454.6,453.4 L454.6,453.6 L455.3,453.6 L455.3,453.6 L456.0,453.6 L456.0,453.8 L456.7,453.8 L456.7,454.2 L457.4,454.2 L457.4,454.2 L458.1,454.2 L458.1,454.4 L458.8,454.4 L458.8,454.3 L459.5,454.3 L459.5,454.3 L460.2,454.3 L460.2,454.4 L460.9,454.4 L460.9,454.6 L461.6,454.6 L461.6,454.6 L462.3,454.6 L462.3,454.6 L463.0,454.6 L463.0,454.6 L463.7,454.6 L463.7,454.6 L464.4,454.6 L464.4,454.5 L465.1,454.5 L465.1,454.5 L465.8,454.5 L465.8,454.5 L466.5,454.5 L466.5,454.6 L467.2,454.6 L467.2,454.6 L467.9,454.6 L467.9,454.6 L468.6,454.6 L468.6,454.6 L469.3,454.6 L469.3,454.6 L470.0,454.6 L470.0,454.7 L470.7,454.7 L470.7,454.7 L471.4,454.7 L471.4,454.4 L472.1,454.4 L472.1,454.3 L472.8,454.3 L472.8,454.2 L473.5,454.2 L473.5,453.9 L474.2,453.9 L474.2,453.7 L474.9,453.7 L474.9,453.6 L475.6,453.6 L475.6,453.3 L476.3,453.3 L476.3,453.2 L477.0,453.2 L477.0,452.9 L477.7,452.9 L477.7,452.7 L478.4,452.7 L478.4,452.7 L479.1,452.7 L479.1,452.1 L479.8,452.1 L479.8,451.8 L480.5,451.8 L480.5,451.7 L481.2,451.7 L481.2,451.7 L481.9,451.7 L481.9,451.9 L482.6,451.9 L482.6,451.8 L483.3,451.8 L483.3,451.9 L484.0,451.9 L484.0,451.3 L484.7,451.3 L484.7,450.7 L485.4,450.7 L485.4,450.6 L486.1,450.6 L486.1,450.6 L486.8,450.6 L486.8,450.2 L487.5,450.2 L487.5,450.0 L488.2,450.0 L488.2,449.1 L488.9,449.1 L488.9,448.3 L489.6,448.3 L489.6,447.4 L490.3,447.4 L490.3,446.5 L491.0,446.5 L491.0,446.5 L491.7,446.5 L491.7,445.7 L492.4,445.7 L492.4,447.1 L493.1,447.1 L493.1,446.9 L493.8,446.9 L493.8,447.0 L494.5,447.0 L494.5,446.8 L495.2,446.8 L495.2,446.9 L495.9,446.9 L495.9,446.8 L496.6,446.8 L496.6,447.9 L497.3,447.9 L497.3,448.0 L498.0,448.0 L498.0,448.2 L498.7,448.2 L498.7,447.8 L499.4,447.8 L499.4,447.6 L500.1,447.6 L500.1,447.8 L500.8,447.8 L500.8,448.0 L501.5,448.0 L501.5,448.3 L502.2,448.3 L502.2,448.2 L502.9,448.2 L502.9,447.8 L503.6,447.8 L503.6,447.4 L504.3,447.4 L504.3,447.6 L505.0,447.6 L505.0,448.2 L505.7,448.2 L505.7,448.5 L506.4,448.5 L506.4,448.0 L507.1,448.0 L507.1,448.5 L507.8,448.5 L507.8,448.6 L508.5,448.6 L508.5,449.6 L509.2,449.6 L509.2,448.8 L509.9,448.8 L509.9,448.6 L510.6,448.6 L510.6,448.9 L511.3,448.9 L511.3,448.8 L512.0,448.8 L512.0,448.4 L512.7,448.4 L512.7,448.5 L513.4,448.5 L513.4,448.4 L514.1,448.4 L514.1,448.4 L514.8,448.4 L514.8,449.0 L515.5,449.0 L515.5,449.7 L516.2,449.7 L516.2,449.0 L516.9,449.0 L516.9,449.2 L517.6,449.2 L517.6,448.6 L518.3,448.6 L518.3,448.1 L519.0,448.1 L519.0,448.6 L519.7,448.6 L519.7,449.1 L520.4,449.1 L520.4,449.5 L521.1,449.5 L521.1,449.0 L521.8,449.0 L521.8,449.3 L522.5,449.3 L522.5,449.7 L523.2,449.7 L523.2,449.6 L523.9,449.6 L523.9,450.3 L524.6,450.3 L524.6,450.7 L525.3,450.7 L525.3,451.0 L526.0,451.0 L526.0,451.1 L526.7,451.1 L526.7,451.6 L527.4,451.6 L527.4,451.9 L528.1,451.9 L528.1,451.9 L528.8,451.9 L528.8,452.2 L529.5,452.2 L529.5,452.5 L530.2,452.5 L530.2,452.5 L530.9,452.5 L530.9,452.8 L531.6,452.8 L531.6,452.8 L532.3,452.8 L532.3,452.5 L533.0,452.5 L533.0,452.5 L533.7,452.5 L533.7,452.1 L534.4,452.1 L534.4,452.1 L535.1,452.1 L535.1,452.4 L535.8,452.4 L535.8,452.3 L536.5,452.3 L536.5,452.2 L537.2,452.2 L537.2,452.0 L537.9,452.0 L537.9,452.3 L538.6,452.3 L538.6,452.3 L539.3,452.3 L539.3,452.0 L540.0,452.0 L540.0,451.9 L540.7,451.9 L540.7,451.7 L541.4,451.7 L541.4,451.9 L542.1,451.9 L542.1,451.7 L542.8,451.7 L542.8,451.7 L543.5,451.7 L543.5,451.4 L544.2,451.4 L544.2,451.7 L544.9,451.7 L544.9,451.4 L545.6,451.4 L545.6,451.4 L546.3,451.4 L546.3,451.4 L547.0,451.4 L547.0,451.6 L547.7,451.6 L547.7,451.9 L548.4,451.9 L548.4,452.1 L549.1,452.1 L549.1,451.9 L549.8,451.9 L549.8,452.0 L549.9,452.0 L549.9,455.3Z" fill="#74d3b2"/>
<rect x="427.3" y="455.8" width="122.6" height="1.6" fill="#c9c9c9"/>
<path d="M561.3,316.7 L561.3,315.5 L562.0,315.5 L562.0,315.4 L562.7,315.4 L562.7,315.3 L563.4,315.3 L563.4,315.3 L564.1,315.3 L564.1,315.2 L564.8,315.2 L564.8,315.2 L565.5,315.2 L565.5,315.3 L566.2,315.3 L566.2,315.2 L566.9,315.2 L566.9,315.1 L567.6,315.1 L567.6,315.1 L568.3,315.1 L568.3,314.8 L569.0,314.8 L569.0,314.9 L569.7,314.9 L569.7,315.0 L570.4,315.0 L570.4,315.0 L571.1,315.0 L571.1,314.9 L571.8,314.9 L571.8,314.8 L572.5,314.8 L572.5,315.0 L573.2,315.0 L573.2,315.2 L573.9,315.2 L573.9,315.0 L574.6,315.0 L574.6,315.0 L575.3,315.0 L575.3,315.0 L576.0,315.0 L576.0,315.0 L576.7,315.0 L576.7,314.8 L577.4,314.8 L577.4,314.8 L578.1,314.8 L578.1,314.9 L578.8,314.9 L578.8,315.1 L579.5,315.1 L579.5,315.1 L580.2,315.1 L580.2,315.0 L580.9,315.0 L580.9,315.1 L581.6,315.1 L581.6,315.1 L582.3,315.1 L582.3,314.8 L583.0,314.8 L583.0,314.5 L583.7,314.5 L583.7,314.5 L584.4,314.5 L584.4,314.0 L585.1,314.0 L585.1,313.9 L585.8,313.9 L585.8,313.9 L586.5,313.9 L586.5,313.7 L587.2,313.7 L587.2,313.6 L587.9,313.6 L587.9,313.7 L588.6,313.7 L588.6,313.3 L589.3,313.3 L589.3,313.5 L590.0,313.5 L590.0,313.2 L590.7,313.2 L590.7,313.3 L591.4,313.3 L591.4,313.0 L592.1,313.0 L592.1,312.9 L592.8,312.9 L592.8,312.7 L593.5,312.7 L593.5,313.2 L594.2,313.2 L594.2,313.2 L594.9,313.2 L594.9,312.9 L595.6,312.9 L595.6,313.0 L596.3,313.0 L596.3,312.5 L597.0,312.5 L597.0,312.3 L597.7,312.3 L597.7,312.2 L598.4,312.2 L598.4,312.4 L599.1,312.4 L599.1,313.1 L599.8,313.1 L599.8,312.9 L600.5,312.9 L600.5,312.9 L601.2,312.9 L601.2,312.4 L601.9,312.4 L601.9,312.2 L602.6,312.2 L602.6,312.3 L603.3,312.3 L603.3,312.1 L604.0,312.1 L604.0,312.3 L604.7,312.3 L604.7,312.1 L605.4,312.1 L605.4,311.6 L606.1,311.6 L606.1,311.0 L606.8,311.0 L606.8,310.2 L607.5,310.2 L607.5,310.3 L608.2,310.3 L608.2,310.0 L608.9,310.0 L608.9,310.1 L609.6,310.1 L609.6,310.8 L610.3,310.8 L610.3,311.2 L611.0,311.2 L611.0,311.1 L611.7,311.1 L611.7,311.3 L612.4,311.3 L612.4,311.6 L613.1,311.6 L613.1,311.4 L613.8,311.4 L613.8,311.9 L614.5,311.9 L614.5,312.0 L615.2,312.0 L615.2,312.3 L615.9,312.3 L615.9,312.8 L616.6,312.8 L616.6,312.7 L617.3,312.7 L617.3,312.3 L618.0,312.3 L618.0,312.5 L618.7,312.5 L618.7,312.7 L619.4,312.7 L619.4,312.3 L620.1,312.3 L620.1,312.1 L620.8,312.1 L620.8,312.0 L621.5,312.0 L621.5,311.8 L622.2,311.8 L622.2,311.9 L622.9,311.9 L622.9,312.0 L623.6,312.0 L623.6,311.9 L624.3,311.9 L624.3,312.0 L625.0,312.0 L625.0,312.5 L625.7,312.5 L625.7,312.2 L626.4,312.2 L626.4,312.2 L627.1,312.2 L627.1,311.8 L627.8,311.8 L627.8,312.0 L628.5,312.0 L628.5,312.7 L629.2,312.7 L629.2,312.6 L629.9,312.6 L629.9,312.7 L630.6,312.7 L630.6,312.2 L631.3,312.2 L631.3,312.0 L632.0,312.0 L632.0,311.8 L632.7,311.8 L632.7,312.1 L633.4,312.1 L633.4,312.2 L634.1,312.2 L634.1,311.9 L634.8,311.9 L634.8,312.3 L635.5,312.3 L635.5,312.3 L636.2,312.3 L636.2,312.1 L636.9,312.1 L636.9,312.4 L637.6,312.4 L637.6,312.5 L638.3,312.5 L638.3,313.2 L639.0,313.2 L639.0,312.7 L639.7,312.7 L639.7,313.0 L640.4,313.0 L640.4,312.6 L641.1,312.6 L641.1,312.5 L641.8,312.5 L641.8,312.9 L642.5,312.9 L642.5,313.2 L643.2,313.2 L643.2,313.4 L643.9,313.4 L643.9,313.3 L644.6,313.3 L644.6,312.8 L645.3,312.8 L645.3,312.8 L646.0,312.8 L646.0,312.6 L646.7,312.6 L646.7,313.0 L647.4,313.0 L647.4,312.7 L648.1,312.7 L648.1,312.7 L648.8,312.7 L648.8,312.7 L649.5,312.7 L649.5,312.5 L650.2,312.5 L650.2,312.0 L650.9,312.0 L650.9,311.9 L651.6,311.9 L651.6,311.7 L652.3,311.7 L652.3,311.8 L653.0,311.8 L653.0,311.9 L653.7,311.9 L653.7,311.8 L654.4,311.8 L654.4,311.7 L655.1,311.7 L655.1,312.4 L655.8,312.4 L655.8,313.0 L656.5,313.0 L656.5,313.7 L657.2,313.7 L657.2,314.4 L657.9,314.4 L657.9,314.7 L658.6,314.7 L658.6,314.9 L659.3,314.9 L659.3,314.8 L660.0,314.8 L660.0,314.9 L660.7,314.9 L660.7,314.9 L661.4,314.9 L661.4,314.7 L662.1,314.7 L662.1,314.6 L662.8,314.6 L662.8,314.6 L663.5,314.6 L663.5,314.7 L664.2,314.7 L664.2,314.8 L664.9,314.8 L664.9,314.7 L665.6,314.7 L665.6,314.6 L666.3,314.6 L666.3,314.7 L667.0,314.7 L667.0,314.8 L667.7,314.8 L667.7,314.8 L668.4,314.8 L668.4,314.9 L669.1,314.9 L669.1,314.8 L669.8,314.8 L669.8,314.7 L670.5,314.7 L670.5,314.8 L671.2,314.8 L671.2,314.7 L671.9,314.7 L671.9,314.8 L672.6,314.8 L672.6,314.8 L673.3,314.8 L673.3,314.7 L674.0,314.7 L674.0,315.0 L674.7,315.0 L674.7,315.0 L675.4,315.0 L675.4,315.1 L676.1,315.1 L676.1,315.1 L676.8,315.1 L676.8,315.1 L677.5,315.1 L677.5,315.2 L678.2,315.2 L678.2,315.4 L678.9,315.4 L678.9,315.2 L679.6,315.2 L679.6,315.2 L680.3,315.2 L680.3,315.3 L681.0,315.3 L681.0,315.4 L681.7,315.4 L681.7,315.5 L682.4,315.5 L682.4,315.0 L683.1,315.0 L683.1,314.4 L683.8,314.4 L683.8,314.1 L683.9,314.1 L683.9,316.7Z" fill="#a9a9aa"/>
<rect x="561.3" y="317.2" width="122.6" height="1.6" fill="#c9c9c9"/>
<path d="M561.3,336.4 L561.3,335.7 L562.0,335.7 L562.0,335.7 L562.7,335.7 L562.7,335.8 L563.4,335.8 L563.4,335.7 L564.1,335.7 L564.1,335.7 L564.8,335.7 L564.8,335.7 L565.5,335.7 L565.5,335.7 L566.2,335.7 L566.2,335.6 L566.9,335.6 L566.9,335.6 L567.6,335.6 L567.6,335.5 L568.3,335.5 L568.3,335.6 L569.0,335.6 L569.0,335.6 L569.7,335.6 L569.7,335.6 L570.4,335.6 L570.4,335.6 L571.1,335.6 L571.1,335.8 L571.8,335.8 L571.8,335.6 L572.5,335.6 L572.5,335.6 L573.2,335.6 L573.2,335.6 L573.9,335.6 L573.9,335.5 L574.6,335.5 L574.6,335.6 L575.3,335.6 L575.3,335.5 L576.0,335.5 L576.0,335.5 L576.7,335.5 L576.7,335.6 L577.4,335.6 L577.4,335.5 L578.1,335.5 L578.1,335.5 L578.8,335.5 L578.8,335.4 L579.5,335.4 L579.5,335.5 L580.2,335.5 L580.2,335.5 L580.9,335.5 L580.9,335.3 L581.6,335.3 L581.6,335.3 L582.3,335.3 L582.3,335.3 L583.0,335.3 L583.0,335.2 L583.7,335.2 L583.7,335.1 L584.4,335.1 L584.4,335.2 L585.1,335.2 L585.1,335.0 L585.8,335.0 L585.8,335.0 L586.5,335.0 L586.5,334.9 L587.2,334.9 L587.2,334.9 L587.9,334.9 L587.9,334.9 L588.6,334.9 L588.6,334.7 L589.3,334.7 L589.3,334.7 L590.0,334.7 L590.0,334.7 L590.7,334.7 L590.7,334.7 L591.4,334.7 L591.4,334.8 L592.1,334.8 L592.1,334.6 L592.8,334.6 L592.8,334.6 L593.5,334.6 L593.5,334.6 L594.2,334.6 L594.2,334.5 L594.9,334.5 L594.9,334.6 L595.6,334.6 L595.6,334.8 L596.3,334.8 L596.3,334.4 L597.0,334.4 L597.0,334.5 L597.7,334.5 L597.7,334.2 L598.4,334.2 L598.4,334.3 L599.1,334.3 L599.1,334.3 L599.8,334.3 L599.8,334.3 L600.5,334.3 L600.5,334.4 L601.2,334.4 L601.2,334.5 L601.9,334.5 L601.9,334.5 L602.6,334.5 L602.6,334.5 L603.3,334.5 L603.3,334.3 L604.0,334.3 L604.0,334.0 L604.7,334.0 L604.7,334.2 L605.4,334.2 L605.4,334.4 L606.1,334.4 L606.1,334.2 L606.8,334.2 L606.8,334.1 L607.5,334.1 L607.5,333.9 L608.2,333.9 L608.2,333.8 L608.9,333.8 L608.9,333.5 L609.6,333.5 L609.6,333.3 L610.3,333.3 L610.3,333.4 L611.0,333.4 L611.0,333.0 L611.7,333.0 L611.7,333.2 L612.4,333.2 L612.4,332.7 L613.1,332.7 L613.1,332.5 L613.8,332.5 L613.8,332.3 L614.5,332.3 L614.5,331.6 L615.2,331.6 L615.2,331.2 L615.9,331.2 L615.9,331.2 L616.6,331.2 L616.6,331.3 L617.3,331.3 L617.3,331.6 L618.0,331.6 L618.0,331.3 L618.7,331.3 L618.7,331.2 L619.4,331.2 L619.4,331.6 L620.1,331.6 L620.1,332.1 L620.8,332.1 L620.8,332.0 L621.5,332.0 L621.5,332.0 L622.2,332.0 L622.2,331.6 L622.9,331.6 L622.9,332.0 L623.6,332.0 L623.6,332.2 L624.3,332.2 L624.3,331.9 L625.0,331.9 L625.0,331.8 L625.7,331.8 L625.7,331.4 L626.4,331.4 L626.4,331.1 L627.1,331.1 L627.1,331.5 L627.8,331.5 L627.8,332.4 L628.5,332.4 L628.5,332.3 L629.2,332.3 L629.2,332.6 L629.9,332.6 L629.9,332.5 L630.6,332.5 L630.6,333.3 L631.3,333.3 L631.3,333.2 L632.0,333.2 L632.0,333.1 L632.7,333.1 L632.7,333.2 L633.4,333.2 L633.4,333.1 L634.1,333.1 L634.1,333.1 L634.8,333.1 L634.8,333.2 L635.5,333.2 L635.5,333.0 L636.2,333.0 L636.2,333.0 L636.9,333.0 L636.9,333.0 L637.6,333.0 L637.6,333.2 L638.3,333.2 L638.3,333.4 L639.0,333.4 L639.0,333.4 L639.7,333.4 L639.7,333.5 L640.4,333.5 L640.4,333.7 L641.1,333.7 L641.1,333.7 L641.8,333.7 L641.8,333.6 L642.5,333.6 L642.5,333.7 L643.2,333.7 L643.2,334.0 L643.9,334.0 L643.9,333.9 L644.6,333.9 L644.6,334.0 L645.3,334.0 L645.3,334.3 L646.0,334.3 L646.0,334.3 L646.7,334.3 L646.7,334.4 L647.4,334.4 L647.4,334.3 L648.1,334.3 L648.1,334.3 L648.8,334.3 L648.8,334.2 L649.5,334.2 L649.5,334.0 L650.2,334.0 L650.2,333.9 L650.9,333.9 L650.9,334.0 L651.6,334.0 L651.6,334.4 L652.3,334.4 L652.3,334.4 L653.0,334.4 L653.0,334.5 L653.7,334.5 L653.7,334.3 L654.4,334.3 L654.4,334.1 L655.1,334.1 L655.1,334.3 L655.8,334.3 L655.8,334.5 L656.5,334.5 L656.5,334.7 L657.2,334.7 L657.2,335.0 L657.9,335.0 L657.9,335.2 L658.6,335.2 L658.6,335.1 L659.3,335.1 L659.3,335.1 L660.0,335.1 L660.0,335.2 L660.7,335.2 L660.7,335.1 L661.4,335.1 L661.4,334.9 L662.1,334.9 L662.1,334.9 L662.8,334.9 L662.8,335.0 L663.5,335.0 L663.5,334.8 L664.2,334.8 L664.2,334.7 L664.9,334.7 L664.9,334.6 L665.6,334.6 L665.6,334.7 L666.3,334.7 L666.3,334.6 L667.0,334.6 L667.0,334.4 L667.7,334.4 L667.7,334.5 L668.4,334.5 L668.4,334.5 L669.1,334.5 L669.1,334.5 L669.8,334.5 L669.8,334.6 L670.5,334.6 L670.5,334.6 L671.2,334.6 L671.2,334.5 L671.9,334.5 L671.9,334.7 L672.6,334.7 L672.6,334.5 L673.3,334.5 L673.3,334.7 L674.0,334.7 L674.0,334.5 L674.7,334.5 L674.7,334.5 L675.4,334.5 L675.4,334.5 L676.1,334.5 L676.1,334.6 L676.8,334.6 L676.8,334.7 L677.5,334.7 L677.5,335.0 L678.2,335.0 L678.2,334.9 L678.9,334.9 L678.9,334.8 L679.6,334.8 L679.6,334.7 L680.3,334.7 L680.3,334.6 L681.0,334.6 L681.0,334.6 L681.7,334.6 L681.7,334.6 L682.4,334.6 L682.4,334.5 L683.1,334.5 L683.1,334.5 L683.8,334.5 L683.8,334.6 L683.9,334.6 L683.9,336.4Z" fill="#a9a9aa"/>
<rect x="561.3" y="336.9" width="122.6" height="1.6" fill="#c9c9c9"/>
<path d="M561.3,356.7 L561.3,352.6 L562.0,352.6 L562.0,352.5 L562.7,352.5 L562.7,352.7 L563.4,352.7 L563.4,352.1 L564.1,352.1 L564.1,352.5 L564.8,352.5 L564.8,352.5 L565.5,352.5 L565.5,352.1 L566.2,352.1 L566.2,351.9 L566.9,351.9 L566.9,351.8 L567.6,351.8 L567.6,352.1 L568.3,352.1 L568.3,351.5 L569.0,351.5 L569.0,351.8 L569.7,351.8 L569.7,351.8 L570.4,351.8 L570.4,351.8 L571.1,351.8 L571.1,351.8 L571.8,351.8 L571.8,351.9 L572.5,351.9 L572.5,351.3 L573.2,351.3 L573.2,351.3 L573.9,351.3 L573.9,351.0 L574.6,351.0 L574.6,351.6 L575.3,351.6 L575.3,351.4 L576.0,351.4 L576.0,351.4 L576.7,351.4 L576.7,351.2 L577.4,351.2 L577.4,351.1 L578.1,351.1 L578.1,350.9 L578.8,350.9 L578.8,351.0 L579.5,351.0 L579.5,351.0 L580.2,351.0 L580.2,351.0 L580.9,351.0 L580.9,350.9 L581.6,350.9 L581.6,350.9 L582.3,350.9 L582.3,351.1 L583.0,351.1 L583.0,350.9 L583.7,350.9 L583.7,351.2 L584.4,351.2 L584.4,350.4 L585.1,350.4 L585.1,350.2 L585.8,350.2 L585.8,349.8 L586.5,349.8 L586.5,350.1 L587.2,350.1 L587.2,350.8 L587.9,350.8 L587.9,351.4 L588.6,351.4 L588.6,351.5 L589.3,351.5 L589.3,351.6 L590.0,351.6 L590.0,351.5 L590.7,351.5 L590.7,351.5 L591.4,351.5 L591.4,351.1 L592.1,351.1 L592.1,351.9 L592.8,351.9 L592.8,351.0 L593.5,351.0 L593.5,351.0 L594.2,351.0 L594.2,350.9 L594.9,350.9 L594.9,351.5 L595.6,351.5 L595.6,351.2 L596.3,351.2 L596.3,351.6 L597.0,351.6 L597.0,351.2 L597.7,351.2 L597.7,350.9 L598.4,350.9 L598.4,350.8 L599.1,350.8 L599.1,350.8 L599.8,350.8 L599.8,350.8 L600.5,350.8 L600.5,350.9 L601.2,350.9 L601.2,350.3 L601.9,350.3 L601.9,350.2 L602.6,350.2 L602.6,350.1 L603.3,350.1 L603.3,349.0 L604.0,349.0 L604.0,349.2 L604.7,349.2 L604.7,349.7 L605.4,349.7 L605.4,350.6 L606.1,350.6 L606.1,351.4 L606.8,351.4 L606.8,350.9 L607.5,350.9 L607.5,350.1 L608.2,350.1 L608.2,350.4 L608.9,350.4 L608.9,350.6 L609.6,350.6 L609.6,350.3 L610.3,350.3 L610.3,349.9 L611.0,349.9 L611.0,349.2 L611.7,349.2 L611.7,349.1 L612.4,349.1 L612.4,349.4 L613.1,349.4 L613.1,349.0 L613.8,349.0 L613.8,349.5 L614.5,349.5 L614.5,350.1 L615.2,350.1 L615.2,350.4 L615.9,350.4 L615.9,350.3 L616.6,350.3 L616.6,350.2 L617.3,350.2 L617.3,350.0 L618.0,350.0 L618.0,349.8 L618.7,349.8 L618.7,348.5 L619.4,348.5 L619.4,348.5 L620.1,348.5 L620.1,349.7 L620.8,349.7 L620.8,350.3 L621.5,350.3 L621.5,350.0 L622.2,350.0 L622.2,350.2 L622.9,350.2 L622.9,349.0 L623.6,349.0 L623.6,349.3 L624.3,349.3 L624.3,349.5 L625.0,349.5 L625.0,349.4 L625.7,349.4 L625.7,349.6 L626.4,349.6 L626.4,349.3 L627.1,349.3 L627.1,349.5 L627.8,349.5 L627.8,349.3 L628.5,349.3 L628.5,349.7 L629.2,349.7 L629.2,350.9 L629.9,350.9 L629.9,350.3 L630.6,350.3 L630.6,349.4 L631.3,349.4 L631.3,349.9 L632.0,349.9 L632.0,350.1 L632.7,350.1 L632.7,349.6 L633.4,349.6 L633.4,349.8 L634.1,349.8 L634.1,349.7 L634.8,349.7 L634.8,349.8 L635.5,349.8 L635.5,349.5 L636.2,349.5 L636.2,349.6 L636.9,349.6 L636.9,348.7 L637.6,348.7 L637.6,349.0 L638.3,349.0 L638.3,349.1 L639.0,349.1 L639.0,349.7 L639.7,349.7 L639.7,349.3 L640.4,349.3 L640.4,349.5 L641.1,349.5 L641.1,348.8 L641.8,348.8 L641.8,348.2 L642.5,348.2 L642.5,346.6 L643.2,346.6 L643.2,347.2 L643.9,347.2 L643.9,347.0 L644.6,347.0 L644.6,346.4 L645.3,346.4 L645.3,347.9 L646.0,347.9 L646.0,347.4 L646.7,347.4 L646.7,346.4 L647.4,346.4 L647.4,346.7 L648.1,346.7 L648.1,347.0 L648.8,347.0 L648.8,346.5 L649.5,346.5 L649.5,346.6 L650.2,346.6 L650.2,346.8 L650.9,346.8 L650.9,346.5 L651.6,346.5 L651.6,347.3 L652.3,347.3 L652.3,346.4 L653.0,346.4 L653.0,347.0 L653.7,347.0 L653.7,347.2 L654.4,347.2 L654.4,347.6 L655.1,347.6 L655.1,349.2 L655.8,349.2 L655.8,350.2 L656.5,350.2 L656.5,350.8 L657.2,350.8 L657.2,351.4 L657.9,351.4 L657.9,351.5 L658.6,351.5 L658.6,350.8 L659.3,350.8 L659.3,351.0 L660.0,351.0 L660.0,351.5 L660.7,351.5 L660.7,352.0 L661.4,352.0 L661.4,351.9 L662.1,351.9 L662.1,352.5 L662.8,352.5 L662.8,352.8 L663.5,352.8 L663.5,352.7 L664.2,352.7 L664.2,353.1 L664.9,353.1 L664.9,353.4 L665.6,353.4 L665.6,353.7 L666.3,353.7 L666.3,354.2 L667.0,354.2 L667.0,354.3 L667.7,354.3 L667.7,354.3 L668.4,354.3 L668.4,354.4 L669.1,354.4 L669.1,354.5 L669.8,354.5 L669.8,354.9 L670.5,354.9 L670.5,355.0 L671.2,355.0 L671.2,354.9 L671.9,354.9 L671.9,355.1 L672.6,355.1 L672.6,355.2 L673.3,355.2 L673.3,355.2 L674.0,355.2 L674.0,355.2 L674.7,355.2 L674.7,355.3 L675.4,355.3 L675.4,355.4 L676.1,355.4 L676.1,355.7 L676.8,355.7 L676.8,356.0 L677.5,356.0 L677.5,356.2 L678.2,356.2 L678.2,356.2 L678.9,356.2 L678.9,356.2 L679.6,356.2 L679.6,356.2 L680.3,356.2 L680.3,356.2 L681.0,356.2 L681.0,356.2 L681.7,356.2 L681.7,356.2 L682.4,356.2 L682.4,356.2 L683.1,356.2 L683.1,356.2 L683.8,356.2 L683.8,356.2 L683.9,356.2 L683.9,356.7Z" fill="#e8a52e"/>
<rect x="561.3" y="357.2" width="122.6" height="1.6" fill="#c9c9c9"/>
<path d="M561.3,376.4 L561.3,374.0 L562.0,374.0 L562.0,374.0 L562.7,374.0 L562.7,373.9 L563.4,373.9 L563.4,373.9 L564.1,373.9 L564.1,374.0 L564.8,374.0 L564.8,374.2 L565.5,374.2 L565.5,373.9 L566.2,373.9 L566.2,373.9 L566.9,373.9 L566.9,373.9 L567.6,373.9 L567.6,374.0 L568.3,374.0 L568.3,374.3 L569.0,374.3 L569.0,374.1 L569.7,374.1 L569.7,374.1 L570.4,374.1 L570.4,374.0 L571.1,374.0 L571.1,373.5 L571.8,373.5 L571.8,373.6 L572.5,373.6 L572.5,373.5 L573.2,373.5 L573.2,373.3 L573.9,373.3 L573.9,373.3 L574.6,373.3 L574.6,373.3 L575.3,373.3 L575.3,373.5 L576.0,373.5 L576.0,373.6 L576.7,373.6 L576.7,373.9 L577.4,373.9 L577.4,374.3 L578.1,374.3 L578.1,374.9 L578.8,374.9 L578.8,375.8 L579.5,375.8 L579.5,375.8 L580.2,375.8 L580.2,375.8 L580.9,375.8 L580.9,375.7 L581.6,375.7 L581.6,375.6 L582.3,375.6 L582.3,375.7 L583.0,375.7 L583.0,375.7 L583.7,375.7 L583.7,375.6 L584.4,375.6 L584.4,375.7 L585.1,375.7 L585.1,375.7 L585.8,375.7 L585.8,375.7 L586.5,375.7 L586.5,375.7 L587.2,375.7 L587.2,375.7 L587.9,375.7 L587.9,375.3 L588.6,375.3 L588.6,374.6 L589.3,374.6 L589.3,374.0 L590.0,374.0 L590.0,373.5 L590.7,373.5 L590.7,373.5 L591.4,373.5 L591.4,373.5 L592.1,373.5 L592.1,373.2 L592.8,373.2 L592.8,373.3 L593.5,373.3 L593.5,373.4 L594.2,373.4 L594.2,373.7 L594.9,373.7 L594.9,373.7 L595.6,373.7 L595.6,373.6 L596.3,373.6 L596.3,373.6 L597.0,373.6 L597.0,373.5 L597.7,373.5 L597.7,373.5 L598.4,373.5 L598.4,373.5 L599.1,373.5 L599.1,373.5 L599.8,373.5 L599.8,373.5 L600.5,373.5 L600.5,373.7 L601.2,373.7 L601.2,373.8 L601.9,373.8 L601.9,374.0 L602.6,374.0 L602.6,373.9 L603.3,373.9 L603.3,374.1 L604.0,374.1 L604.0,374.1 L604.7,374.1 L604.7,374.0 L605.4,374.0 L605.4,373.9 L606.1,373.9 L606.1,374.0 L606.8,374.0 L606.8,373.9 L607.5,373.9 L607.5,373.8 L608.2,373.8 L608.2,373.9 L608.9,373.9 L608.9,373.8 L609.6,373.8 L609.6,373.8 L610.3,373.8 L610.3,373.9 L611.0,373.9 L611.0,373.9 L611.7,373.9 L611.7,374.0 L612.4,374.0 L612.4,373.5 L613.1,373.5 L613.1,373.6 L613.8,373.6 L613.8,373.7 L614.5,373.7 L614.5,373.9 L615.2,373.9 L615.2,373.8 L615.9,373.8 L615.9,373.7 L616.6,373.7 L616.6,373.6 L617.3,373.6 L617.3,373.8 L618.0,373.8 L618.0,373.9 L618.7,373.9 L618.7,374.0 L619.4,374.0 L619.4,373.8 L620.1,373.8 L620.1,373.9 L620.8,373.9 L620.8,373.8 L621.5,373.8 L621.5,373.4 L622.2,373.4 L622.2,373.7 L622.9,373.7 L622.9,373.7 L623.6,373.7 L623.6,373.6 L624.3,373.6 L624.3,373.9 L625.0,373.9 L625.0,373.6 L625.7,373.6 L625.7,373.6 L626.4,373.6 L626.4,373.5 L627.1,373.5 L627.1,373.3 L627.8,373.3 L627.8,373.1 L628.5,373.1 L628.5,373.3 L629.2,373.3 L629.2,373.4 L629.9,373.4 L629.9,373.6 L630.6,373.6 L630.6,373.8 L631.3,373.8 L631.3,373.3 L632.0,373.3 L632.0,373.4 L632.7,373.4 L632.7,373.7 L633.4,373.7 L633.4,373.5 L634.1,373.5 L634.1,373.1 L634.8,373.1 L634.8,373.3 L635.5,373.3 L635.5,373.3 L636.2,373.3 L636.2,373.4 L636.9,373.4 L636.9,373.5 L637.6,373.5 L637.6,373.1 L638.3,373.1 L638.3,373.0 L639.0,373.0 L639.0,372.9 L639.7,372.9 L639.7,372.4 L640.4,372.4 L640.4,372.0 L641.1,372.0 L641.1,371.9 L641.8,371.9 L641.8,371.5 L642.5,371.5 L642.5,371.7 L643.2,371.7 L643.2,371.7 L643.9,371.7 L643.9,371.4 L644.6,371.4 L644.6,370.8 L645.3,370.8 L645.3,370.3 L646.0,370.3 L646.0,370.4 L646.7,370.4 L646.7,370.6 L647.4,370.6 L647.4,371.2 L648.1,371.2 L648.1,370.9 L648.8,370.9 L648.8,371.1 L649.5,371.1 L649.5,370.5 L650.2,370.5 L650.2,370.7 L650.9,370.7 L650.9,371.5 L651.6,371.5 L651.6,371.2 L652.3,371.2 L652.3,371.2 L653.0,371.2 L653.0,371.5 L653.7,371.5 L653.7,371.4 L654.4,371.4 L654.4,371.5 L655.1,371.5 L655.1,371.4 L655.8,371.4 L655.8,372.0 L656.5,372.0 L656.5,372.0 L657.2,372.0 L657.2,371.9 L657.9,371.9 L657.9,372.3 L658.6,372.3 L658.6,371.9 L659.3,371.9 L659.3,372.1 L660.0,372.1 L660.0,372.7 L660.7,372.7 L660.7,372.3 L661.4,372.3 L661.4,372.5 L662.1,372.5 L662.1,372.5 L662.8,372.5 L662.8,372.7 L663.5,372.7 L663.5,372.3 L664.2,372.3 L664.2,372.5 L664.9,372.5 L664.9,372.8 L665.6,372.8 L665.6,373.1 L666.3,373.1 L666.3,373.0 L667.0,373.0 L667.0,373.0 L667.7,373.0 L667.7,373.3 L668.4,373.3 L668.4,373.3 L669.1,373.3 L669.1,373.6 L669.8,373.6 L669.8,373.7 L670.5,373.7 L670.5,373.7 L671.2,373.7 L671.2,373.8 L671.9,373.8 L671.9,373.9 L672.6,373.9 L672.6,374.1 L673.3,374.1 L673.3,374.3 L674.0,374.3 L674.0,374.4 L674.7,374.4 L674.7,374.5 L675.4,374.5 L675.4,374.8 L676.1,374.8 L676.1,375.0 L676.8,375.0 L676.8,375.0 L677.5,375.0 L677.5,375.1 L678.2,375.1 L678.2,375.2 L678.9,375.2 L678.9,375.2 L679.6,375.2 L679.6,375.3 L680.3,375.3 L680.3,375.5 L681.0,375.5 L681.0,375.6 L681.7,375.6 L681.7,375.7 L682.4,375.7 L682.4,375.3 L683.1,375.3 L683.1,374.8 L683.8,374.8 L683.8,374.5 L683.9,374.5 L683.9,376.4Z" fill="#e8a52e"/>
<rect x="561.3" y="376.9" width="122.6" height="1.6" fill="#c9c9c9"/>
<path d="M561.3,395.9 L561.3,393.4 L562.0,393.4 L562.0,393.3 L562.7,393.3 L562.7,393.1 L563.4,393.1 L563.4,393.1 L564.1,393.1 L564.1,392.9 L564.8,392.9 L564.8,393.0 L565.5,393.0 L565.5,393.0 L566.2,393.0 L566.2,393.0 L566.9,393.0 L566.9,392.9 L567.6,392.9 L567.6,393.2 L568.3,393.2 L568.3,392.9 L569.0,392.9 L569.0,393.0 L569.7,393.0 L569.7,392.9 L570.4,392.9 L570.4,392.9 L571.1,392.9 L571.1,393.2 L571.8,393.2 L571.8,393.4 L572.5,393.4 L572.5,393.3 L573.2,393.3 L573.2,393.4 L573.9,393.4 L573.9,393.5 L574.6,393.5 L574.6,393.6 L575.3,393.6 L575.3,393.5 L576.0,393.5 L576.0,393.6 L576.7,393.6 L576.7,393.9 L577.4,393.9 L577.4,393.9 L578.1,393.9 L578.1,393.8 L578.8,393.8 L578.8,393.8 L579.5,393.8 L579.5,393.6 L580.2,393.6 L580.2,393.8 L580.9,393.8 L580.9,393.8 L581.6,393.8 L581.6,393.6 L582.3,393.6 L582.3,393.6 L583.0,393.6 L583.0,393.5 L583.7,393.5 L583.7,393.4 L584.4,393.4 L584.4,393.4 L585.1,393.4 L585.1,393.3 L585.8,393.3 L585.8,393.5 L586.5,393.5 L586.5,393.2 L587.2,393.2 L587.2,393.3 L587.9,393.3 L587.9,393.3 L588.6,393.3 L588.6,393.2 L589.3,393.2 L589.3,393.1 L590.0,393.1 L590.0,393.1 L590.7,393.1 L590.7,393.3 L591.4,393.3 L591.4,393.5 L592.1,393.5 L592.1,393.3 L592.8,393.3 L592.8,393.2 L593.5,393.2 L593.5,393.0 L594.2,393.0 L594.2,392.9 L594.9,392.9 L594.9,393.1 L595.6,393.1 L595.6,393.1 L596.3,393.1 L596.3,392.8 L597.0,392.8 L597.0,393.0 L597.7,393.0 L597.7,393.2 L598.4,393.2 L598.4,392.9 L599.1,392.9 L599.1,393.0 L599.8,393.0 L599.8,392.9 L600.5,392.9 L600.5,393.2 L601.2,393.2 L601.2,393.4 L601.9,393.4 L601.9,393.3 L602.6,393.3 L602.6,393.3 L603.3,393.3 L603.3,393.2 L604.0,393.2 L604.0,393.1 L604.7,393.1 L604.7,393.1 L605.4,393.1 L605.4,393.4 L606.1,393.4 L606.1,393.2 L606.8,393.2 L606.8,393.1 L607.5,393.1 L607.5,393.1 L608.2,393.1 L608.2,393.2 L608.9,393.2 L608.9,393.6 L609.6,393.6 L609.6,393.5 L610.3,393.5 L610.3,393.3 L611.0,393.3 L611.0,393.5 L611.7,393.5 L611.7,393.4 L612.4,393.4 L612.4,393.5 L613.1,393.5 L613.1,393.3 L613.8,393.3 L613.8,393.0 L614.5,393.0 L614.5,393.2 L615.2,393.2 L615.2,393.3 L615.9,393.3 L615.9,393.5 L616.6,393.5 L616.6,393.3 L617.3,393.3 L617.3,393.2 L618.0,393.2 L618.0,393.3 L618.7,393.3 L618.7,393.3 L619.4,393.3 L619.4,393.5 L620.1,393.5 L620.1,393.6 L620.8,393.6 L620.8,393.5 L621.5,393.5 L621.5,393.7 L622.2,393.7 L622.2,393.6 L622.9,393.6 L622.9,393.6 L623.6,393.6 L623.6,393.3 L624.3,393.3 L624.3,393.4 L625.0,393.4 L625.0,393.8 L625.7,393.8 L625.7,393.7 L626.4,393.7 L626.4,393.6 L627.1,393.6 L627.1,393.6 L627.8,393.6 L627.8,393.7 L628.5,393.7 L628.5,393.6 L629.2,393.6 L629.2,393.8 L629.9,393.8 L629.9,393.9 L630.6,393.9 L630.6,393.7 L631.3,393.7 L631.3,393.9 L632.0,393.9 L632.0,393.7 L632.7,393.7 L632.7,393.5 L633.4,393.5 L633.4,393.5 L634.1,393.5 L634.1,393.6 L634.8,393.6 L634.8,393.7 L635.5,393.7 L635.5,393.9 L636.2,393.9 L636.2,393.8 L636.9,393.8 L636.9,393.7 L637.6,393.7 L637.6,393.6 L638.3,393.6 L638.3,393.3 L639.0,393.3 L639.0,393.4 L639.7,393.4 L639.7,393.2 L640.4,393.2 L640.4,393.1 L641.1,393.1 L641.1,393.1 L641.8,393.1 L641.8,393.1 L642.5,393.1 L642.5,393.2 L643.2,393.2 L643.2,393.2 L643.9,393.2 L643.9,393.1 L644.6,393.1 L644.6,393.0 L645.3,393.0 L645.3,392.5 L646.0,392.5 L646.0,392.5 L646.7,392.5 L646.7,392.5 L647.4,392.5 L647.4,392.5 L648.1,392.5 L648.1,392.6 L648.8,392.6 L648.8,392.7 L649.5,392.7 L649.5,392.8 L650.2,392.8 L650.2,393.1 L650.9,393.1 L650.9,393.2 L651.6,393.2 L651.6,392.9 L652.3,392.9 L652.3,393.1 L653.0,393.1 L653.0,393.0 L653.7,393.0 L653.7,393.0 L654.4,393.0 L654.4,392.9 L655.1,392.9 L655.1,392.5 L655.8,392.5 L655.8,392.3 L656.5,392.3 L656.5,392.3 L657.2,392.3 L657.2,392.5 L657.9,392.5 L657.9,392.6 L658.6,392.6 L658.6,392.8 L659.3,392.8 L659.3,392.9 L660.0,392.9 L660.0,393.0 L660.7,393.0 L660.7,393.4 L661.4,393.4 L661.4,393.4 L662.1,393.4 L662.1,392.9 L662.8,392.9 L662.8,393.3 L663.5,393.3 L663.5,393.1 L664.2,393.1 L664.2,393.3 L664.9,393.3 L664.9,393.2 L665.6,393.2 L665.6,392.9 L666.3,392.9 L666.3,393.0 L667.0,393.0 L667.0,393.2 L667.7,393.2 L667.7,393.3 L668.4,393.3 L668.4,393.3 L669.1,393.3 L669.1,393.2 L669.8,393.2 L669.8,393.7 L670.5,393.7 L670.5,393.4 L671.2,393.4 L671.2,393.4 L671.9,393.4 L671.9,393.2 L672.6,393.2 L672.6,393.5 L673.3,393.5 L673.3,393.6 L674.0,393.6 L674.0,393.7 L674.7,393.7 L674.7,393.9 L675.4,393.9 L675.4,393.9 L676.1,393.9 L676.1,394.1 L676.8,394.1 L676.8,394.2 L677.5,394.2 L677.5,394.2 L678.2,394.2 L678.2,394.2 L678.9,394.2 L678.9,394.3 L679.6,394.3 L679.6,394.4 L680.3,394.4 L680.3,394.6 L681.0,394.6 L681.0,394.8 L681.7,394.8 L681.7,394.9 L682.4,394.9 L682.4,394.4 L683.1,394.4 L683.1,393.9 L683.8,393.9 L683.8,393.4 L683.9,393.4 L683.9,395.9Z" fill="#a9a9aa"/>
<rect x="561.3" y="396.4" width="122.6" height="1.6" fill="#c9c9c9"/>
<path d="M561.3,415.4 L561.3,412.2 L562.0,412.2 L562.0,412.1 L562.7,412.1 L562.7,411.9 L563.4,411.9 L563.4,411.5 L564.1,411.5 L564.1,412.0 L564.8,412.0 L564.8,412.1 L565.5,412.1 L565.5,412.3 L566.2,412.3 L566.2,412.3 L566.9,412.3 L566.9,412.3 L567.6,412.3 L567.6,412.5 L568.3,412.5 L568.3,412.4 L569.0,412.4 L569.0,412.6 L569.7,412.6 L569.7,412.4 L570.4,412.4 L570.4,412.5 L571.1,412.5 L571.1,412.3 L571.8,412.3 L571.8,412.2 L572.5,412.2 L572.5,412.2 L573.2,412.2 L573.2,412.3 L573.9,412.3 L573.9,412.4 L574.6,412.4 L574.6,412.6 L575.3,412.6 L575.3,412.1 L576.0,412.1 L576.0,412.0 L576.7,412.0 L576.7,411.6 L577.4,411.6 L577.4,411.7 L578.1,411.7 L578.1,411.7 L578.8,411.7 L578.8,411.9 L579.5,411.9 L579.5,412.2 L580.2,412.2 L580.2,412.7 L580.9,412.7 L580.9,412.7 L581.6,412.7 L581.6,412.7 L582.3,412.7 L582.3,412.8 L583.0,412.8 L583.0,412.9 L583.7,412.9 L583.7,413.4 L584.4,413.4 L584.4,413.9 L585.1,413.9 L585.1,414.0 L585.8,414.0 L585.8,414.1 L586.5,414.1 L586.5,414.4 L587.2,414.4 L587.2,414.6 L587.9,414.6 L587.9,414.8 L588.6,414.8 L588.6,414.9 L589.3,414.9 L589.3,412.3 L590.0,412.3 L590.0,410.9 L590.7,410.9 L590.7,410.6 L591.4,410.6 L591.4,410.4 L592.1,410.4 L592.1,410.9 L592.8,410.9 L592.8,410.7 L593.5,410.7 L593.5,411.0 L594.2,411.0 L594.2,411.0 L594.9,411.0 L594.9,410.8 L595.6,410.8 L595.6,410.8 L596.3,410.8 L596.3,411.3 L597.0,411.3 L597.0,411.1 L597.7,411.1 L597.7,411.5 L598.4,411.5 L598.4,411.1 L599.1,411.1 L599.1,411.6 L599.8,411.6 L599.8,411.6 L600.5,411.6 L600.5,411.5 L601.2,411.5 L601.2,411.6 L601.9,411.6 L601.9,411.3 L602.6,411.3 L602.6,411.1 L603.3,411.1 L603.3,410.5 L604.0,410.5 L604.0,410.4 L604.7,410.4 L604.7,410.2 L605.4,410.2 L605.4,410.7 L606.1,410.7 L606.1,410.4 L606.8,410.4 L606.8,410.2 L607.5,410.2 L607.5,409.9 L608.2,409.9 L608.2,409.7 L608.9,409.7 L608.9,410.2 L609.6,410.2 L609.6,410.8 L610.3,410.8 L610.3,411.0 L611.0,411.0 L611.0,411.1 L611.7,411.1 L611.7,410.6 L612.4,410.6 L612.4,411.2 L613.1,411.2 L613.1,411.1 L613.8,411.1 L613.8,410.7 L614.5,410.7 L614.5,410.7 L615.2,410.7 L615.2,411.2 L615.9,411.2 L615.9,411.3 L616.6,411.3 L616.6,411.0 L617.3,411.0 L617.3,410.7 L618.0,410.7 L618.0,410.7 L618.7,410.7 L618.7,410.6 L619.4,410.6 L619.4,410.2 L620.1,410.2 L620.1,410.4 L620.8,410.4 L620.8,409.8 L621.5,409.8 L621.5,410.3 L622.2,410.3 L622.2,409.8 L622.9,409.8 L622.9,410.5 L623.6,410.5 L623.6,410.1 L624.3,410.1 L624.3,410.2 L625.0,410.2 L625.0,410.8 L625.7,410.8 L625.7,410.7 L626.4,410.7 L626.4,410.5 L627.1,410.5 L627.1,410.3 L627.8,410.3 L627.8,410.3 L628.5,410.3 L628.5,410.4 L629.2,410.4 L629.2,410.5 L629.9,410.5 L629.9,410.4 L630.6,410.4 L630.6,410.0 L631.3,410.0 L631.3,409.9 L632.0,409.9 L632.0,409.8 L632.7,409.8 L632.7,409.9 L633.4,409.9 L633.4,409.5 L634.1,409.5 L634.1,408.9 L634.8,408.9 L634.8,408.4 L635.5,408.4 L635.5,409.3 L636.2,409.3 L636.2,409.8 L636.9,409.8 L636.9,410.2 L637.6,410.2 L637.6,410.3 L638.3,410.3 L638.3,409.6 L639.0,409.6 L639.0,409.8 L639.7,409.8 L639.7,409.8 L640.4,409.8 L640.4,410.0 L641.1,410.0 L641.1,410.6 L641.8,410.6 L641.8,410.9 L642.5,410.9 L642.5,410.9 L643.2,410.9 L643.2,411.0 L643.9,411.0 L643.9,410.8 L644.6,410.8 L644.6,410.8 L645.3,410.8 L645.3,410.7 L646.0,410.7 L646.0,411.1 L646.7,411.1 L646.7,410.5 L647.4,410.5 L647.4,410.2 L648.1,410.2 L648.1,410.4 L648.8,410.4 L648.8,410.5 L649.5,410.5 L649.5,410.7 L650.2,410.7 L650.2,411.3 L650.9,411.3 L650.9,410.8 L651.6,410.8 L651.6,410.8 L652.3,410.8 L652.3,410.3 L653.0,410.3 L653.0,409.7 L653.7,409.7 L653.7,410.3 L654.4,410.3 L654.4,410.7 L655.1,410.7 L655.1,410.4 L655.8,410.4 L655.8,410.6 L656.5,410.6 L656.5,410.8 L657.2,410.8 L657.2,410.8 L657.9,410.8 L657.9,410.6 L658.6,410.6 L658.6,411.0 L659.3,411.0 L659.3,410.8 L660.0,410.8 L660.0,410.4 L660.7,410.4 L660.7,410.6 L661.4,410.6 L661.4,410.7 L662.1,410.7 L662.1,410.5 L662.8,410.5 L662.8,410.2 L663.5,410.2 L663.5,410.0 L664.2,410.0 L664.2,410.0 L664.9,410.0 L664.9,409.6 L665.6,409.6 L665.6,410.1 L666.3,410.1 L666.3,409.7 L667.0,409.7 L667.0,409.7 L667.7,409.7 L667.7,410.1 L668.4,410.1 L668.4,410.7 L669.1,410.7 L669.1,410.2 L669.8,410.2 L669.8,410.2 L670.5,410.2 L670.5,410.2 L671.2,410.2 L671.2,409.8 L671.9,409.8 L671.9,410.2 L672.6,410.2 L672.6,410.1 L673.3,410.1 L673.3,410.0 L674.0,410.0 L674.0,409.7 L674.7,409.7 L674.7,409.9 L675.4,409.9 L675.4,409.5 L676.1,409.5 L676.1,410.0 L676.8,410.0 L676.8,410.3 L677.5,410.3 L677.5,410.6 L678.2,410.6 L678.2,411.0 L678.9,411.0 L678.9,410.5 L679.6,410.5 L679.6,410.5 L680.3,410.5 L680.3,410.6 L681.0,410.6 L681.0,410.7 L681.7,410.7 L681.7,410.7 L682.4,410.7 L682.4,411.2 L683.1,411.2 L683.1,411.3 L683.8,411.3 L683.8,411.1 L683.9,411.1 L683.9,415.4Z" fill="#a9a9aa"/>
<rect x="561.3" y="415.9" width="122.6" height="1.6" fill="#c9c9c9"/>
<path d="M561.3,435.3 L561.3,432.0 L562.0,432.0 L562.0,432.1 L562.7,432.1 L562.7,432.0 L563.4,432.0 L563.4,431.9 L564.1,431.9 L564.1,431.9 L564.8,431.9 L564.8,432.2 L565.5,432.2 L565.5,432.1 L566.2,432.1 L566.2,432.1 L566.9,432.1 L566.9,432.1 L567.6,432.1 L567.6,432.0 L568.3,432.0 L568.3,431.9 L569.0,431.9 L569.0,431.6 L569.7,431.6 L569.7,431.5 L570.4,431.5 L570.4,431.5 L571.1,431.5 L571.1,431.8 L571.8,431.8 L571.8,432.0 L572.5,432.0 L572.5,431.9 L573.2,431.9 L573.2,431.5 L573.9,431.5 L573.9,431.5 L574.6,431.5 L574.6,431.6 L575.3,431.6 L575.3,431.5 L576.0,431.5 L576.0,431.9 L576.7,431.9 L576.7,431.9 L577.4,431.9 L577.4,431.7 L578.1,431.7 L578.1,431.5 L578.8,431.5 L578.8,431.5 L579.5,431.5 L579.5,431.5 L580.2,431.5 L580.2,431.4 L580.9,431.4 L580.9,431.3 L581.6,431.3 L581.6,431.6 L582.3,431.6 L582.3,431.4 L583.0,431.4 L583.0,431.8 L583.7,431.8 L583.7,432.3 L584.4,432.3 L584.4,432.3 L585.1,432.3 L585.1,432.3 L585.8,432.3 L585.8,431.8 L586.5,431.8 L586.5,431.6 L587.2,431.6 L587.2,431.8 L587.9,431.8 L587.9,431.5 L588.6,431.5 L588.6,431.7 L589.3,431.7 L589.3,431.6 L590.0,431.6 L590.0,431.6 L590.7,431.6 L590.7,431.4 L591.4,431.4 L591.4,431.0 L592.1,431.0 L592.1,430.8 L592.8,430.8 L592.8,430.7 L593.5,430.7 L593.5,430.4 L594.2,430.4 L594.2,430.3 L594.9,430.3 L594.9,430.5 L595.6,430.5 L595.6,430.6 L596.3,430.6 L596.3,430.7 L597.0,430.7 L597.0,430.4 L597.7,430.4 L597.7,430.3 L598.4,430.3 L598.4,429.5 L599.1,429.5 L599.1,429.8 L599.8,429.8 L599.8,430.1 L600.5,430.1 L600.5,429.7 L601.2,429.7 L601.2,429.4 L601.9,429.4 L601.9,429.7 L602.6,429.7 L602.6,429.8 L603.3,429.8 L603.3,429.8 L604.0,429.8 L604.0,430.3 L604.7,430.3 L604.7,431.1 L605.4,431.1 L605.4,431.5 L606.1,431.5 L606.1,431.5 L606.8,431.5 L606.8,432.1 L607.5,432.1 L607.5,432.1 L608.2,432.1 L608.2,432.0 L608.9,432.0 L608.9,432.1 L609.6,432.1 L609.6,431.9 L610.3,431.9 L610.3,431.7 L611.0,431.7 L611.0,431.3 L611.7,431.3 L611.7,431.3 L612.4,431.3 L612.4,431.5 L613.1,431.5 L613.1,431.7 L613.8,431.7 L613.8,431.9 L614.5,431.9 L614.5,431.6 L615.2,431.6 L615.2,431.8 L615.9,431.8 L615.9,431.8 L616.6,431.8 L616.6,431.6 L617.3,431.6 L617.3,431.7 L618.0,431.7 L618.0,431.8 L618.7,431.8 L618.7,432.1 L619.4,432.1 L619.4,432.2 L620.1,432.2 L620.1,432.2 L620.8,432.2 L620.8,431.9 L621.5,431.9 L621.5,431.5 L622.2,431.5 L622.2,431.5 L622.9,431.5 L622.9,431.4 L623.6,431.4 L623.6,431.4 L624.3,431.4 L624.3,431.1 L625.0,431.1 L625.0,431.0 L625.7,431.0 L625.7,431.0 L626.4,431.0 L626.4,431.3 L627.1,431.3 L627.1,431.1 L627.8,431.1 L627.8,430.9 L628.5,430.9 L628.5,430.5 L629.2,430.5 L629.2,430.5 L629.9,430.5 L629.9,429.9 L630.6,429.9 L630.6,430.0 L631.3,430.0 L631.3,429.6 L632.0,429.6 L632.0,429.6 L632.7,429.6 L632.7,429.8 L633.4,429.8 L633.4,430.1 L634.1,430.1 L634.1,430.0 L634.8,430.0 L634.8,429.4 L635.5,429.4 L635.5,429.0 L636.2,429.0 L636.2,428.8 L636.9,428.8 L636.9,429.7 L637.6,429.7 L637.6,429.2 L638.3,429.2 L638.3,429.0 L639.0,429.0 L639.0,429.3 L639.7,429.3 L639.7,429.6 L640.4,429.6 L640.4,429.6 L641.1,429.6 L641.1,428.9 L641.8,428.9 L641.8,429.5 L642.5,429.5 L642.5,429.7 L643.2,429.7 L643.2,429.2 L643.9,429.2 L643.9,429.5 L644.6,429.5 L644.6,429.7 L645.3,429.7 L645.3,429.7 L646.0,429.7 L646.0,430.2 L646.7,430.2 L646.7,430.1 L647.4,430.1 L647.4,430.5 L648.1,430.5 L648.1,430.1 L648.8,430.1 L648.8,430.1 L649.5,430.1 L649.5,429.4 L650.2,429.4 L650.2,429.5 L650.9,429.5 L650.9,429.3 L651.6,429.3 L651.6,430.0 L652.3,430.0 L652.3,430.1 L653.0,430.1 L653.0,430.1 L653.7,430.1 L653.7,429.7 L654.4,429.7 L654.4,430.4 L655.1,430.4 L655.1,430.2 L655.8,430.2 L655.8,430.0 L656.5,430.0 L656.5,429.6 L657.2,429.6 L657.2,429.4 L657.9,429.4 L657.9,429.5 L658.6,429.5 L658.6,429.8 L659.3,429.8 L659.3,430.2 L660.0,430.2 L660.0,430.0 L660.7,430.0 L660.7,430.0 L661.4,430.0 L661.4,429.1 L662.1,429.1 L662.1,429.4 L662.8,429.4 L662.8,429.3 L663.5,429.3 L663.5,429.9 L664.2,429.9 L664.2,429.8 L664.9,429.8 L664.9,429.6 L665.6,429.6 L665.6,429.1 L666.3,429.1 L666.3,428.5 L667.0,428.5 L667.0,428.7 L667.7,428.7 L667.7,429.4 L668.4,429.4 L668.4,429.2 L669.1,429.2 L669.1,429.2 L669.8,429.2 L669.8,429.1 L670.5,429.1 L670.5,429.5 L671.2,429.5 L671.2,429.2 L671.9,429.2 L671.9,429.4 L672.6,429.4 L672.6,429.3 L673.3,429.3 L673.3,429.3 L674.0,429.3 L674.0,429.9 L674.7,429.9 L674.7,430.6 L675.4,430.6 L675.4,430.8 L676.1,430.8 L676.1,431.6 L676.8,431.6 L676.8,432.4 L677.5,432.4 L677.5,432.8 L678.2,432.8 L678.2,432.5 L678.9,432.5 L678.9,432.3 L679.6,432.3 L679.6,432.1 L680.3,432.1 L680.3,431.8 L681.0,431.8 L681.0,431.8 L681.7,431.8 L681.7,432.1 L682.4,432.1 L682.4,431.8 L683.1,431.8 L683.1,431.5 L683.8,431.5 L683.8,431.5 L683.9,431.5 L683.9,435.3Z" fill="#74d3b2"/>
<rect x="561.3" y="435.8" width="122.6" height="1.6" fill="#c9c9c9"/>
<path d="M561.3,455.3 L561.3,450.5 L562.0,450.5 L562.0,450.6 L562.7,450.6 L562.7,450.6 L563.4,450.6 L563.4,450.5 L564.1,450.5 L564.1,450.9 L564.8,450.9 L564.8,451.5 L565.5,451.5 L565.5,451.7 L566.2,451.7 L566.2,451.6 L566.9,451.6 L566.9,451.3 L567.6,451.3 L567.6,451.4 L568.3,451.4 L568.3,451.8 L569.0,451.8 L569.0,451.4 L569.7,451.4 L569.7,451.9 L570.4,451.9 L570.4,452.0 L571.1,452.0 L571.1,452.1 L571.8,452.1 L571.8,452.0 L572.5,452.0 L572.5,451.8 L573.2,451.8 L573.2,452.2 L573.9,452.2 L573.9,452.2 L574.6,452.2 L574.6,452.2 L575.3,452.2 L575.3,452.4 L576.0,452.4 L576.0,452.5 L576.7,452.5 L576.7,452.4 L577.4,452.4 L577.4,452.7 L578.1,452.7 L578.1,452.9 L578.8,452.9 L578.8,452.9 L579.5,452.9 L579.5,452.9 L580.2,452.9 L580.2,452.9 L580.9,452.9 L580.9,452.6 L581.6,452.6 L581.6,452.6 L582.3,452.6 L582.3,452.7 L583.0,452.7 L583.0,452.9 L583.7,452.9 L583.7,452.9 L584.4,452.9 L584.4,453.1 L585.1,453.1 L585.1,453.0 L585.8,453.0 L585.8,453.0 L586.5,453.0 L586.5,453.4 L587.2,453.4 L587.2,453.6 L587.9,453.6 L587.9,453.6 L588.6,453.6 L588.6,453.6 L589.3,453.6 L589.3,453.6 L590.0,453.6 L590.0,453.6 L590.7,453.6 L590.7,453.4 L591.4,453.4 L591.4,453.3 L592.1,453.3 L592.1,453.4 L592.8,453.4 L592.8,453.3 L593.5,453.3 L593.5,453.0 L594.2,453.0 L594.2,452.6 L594.9,452.6 L594.9,452.5 L595.6,452.5 L595.6,452.5 L596.3,452.5 L596.3,452.6 L597.0,452.6 L597.0,452.6 L597.7,452.6 L597.7,452.4 L598.4,452.4 L598.4,452.1 L599.1,452.1 L599.1,451.8 L599.8,451.8 L599.8,451.9 L600.5,451.9 L600.5,451.7 L601.2,451.7 L601.2,451.6 L601.9,451.6 L601.9,451.6 L602.6,451.6 L602.6,452.2 L603.3,452.2 L603.3,452.2 L604.0,452.2 L604.0,452.2 L604.7,452.2 L604.7,451.9 L605.4,451.9 L605.4,452.0 L606.1,452.0 L606.1,451.9 L606.8,451.9 L606.8,451.9 L607.5,451.9 L607.5,451.7 L608.2,451.7 L608.2,451.7 L608.9,451.7 L608.9,451.6 L609.6,451.6 L609.6,451.5 L610.3,451.5 L610.3,451.6 L611.0,451.6 L611.0,451.7 L611.7,451.7 L611.7,451.9 L612.4,451.9 L612.4,452.1 L613.1,452.1 L613.1,451.8 L613.8,451.8 L613.8,452.1 L614.5,452.1 L614.5,452.1 L615.2,452.1 L615.2,452.3 L615.9,452.3 L615.9,452.5 L616.6,452.5 L616.6,453.1 L617.3,453.1 L617.3,452.8 L618.0,452.8 L618.0,453.0 L618.7,453.0 L618.7,453.2 L619.4,453.2 L619.4,452.9 L620.1,452.9 L620.1,453.3 L620.8,453.3 L620.8,453.3 L621.5,453.3 L621.5,453.4 L622.2,453.4 L622.2,453.6 L622.9,453.6 L622.9,453.5 L623.6,453.5 L623.6,453.6 L624.3,453.6 L624.3,453.5 L625.0,453.5 L625.0,453.6 L625.7,453.6 L625.7,453.5 L626.4,453.5 L626.4,453.3 L627.1,453.3 L627.1,453.5 L627.8,453.5 L627.8,453.4 L628.5,453.4 L628.5,453.4 L629.2,453.4 L629.2,453.4 L629.9,453.4 L629.9,453.6 L630.6,453.6 L630.6,453.6 L631.3,453.6 L631.3,453.5 L632.0,453.5 L632.0,453.3 L632.7,453.3 L632.7,453.2 L633.4,453.2 L633.4,453.0 L634.1,453.0 L634.1,452.9 L634.8,452.9 L634.8,453.0 L635.5,453.0 L635.5,452.7 L636.2,452.7 L636.2,452.8 L636.9,452.8 L636.9,452.6 L637.6,452.6 L637.6,452.6 L638.3,452.6 L638.3,452.6 L639.0,452.6 L639.0,452.5 L639.7,452.5 L639.7,453.0 L640.4,453.0 L640.4,452.6 L641.1,452.6 L641.1,452.7 L641.8,452.7 L641.8,452.6 L642.5,452.6 L642.5,452.7 L643.2,452.7 L643.2,452.8 L643.9,452.8 L643.9,453.0 L644.6,453.0 L644.6,453.1 L645.3,453.1 L645.3,453.4 L646.0,453.4 L646.0,453.4 L646.7,453.4 L646.7,453.1 L647.4,453.1 L647.4,453.4 L648.1,453.4 L648.1,453.5 L648.8,453.5 L648.8,453.5 L649.5,453.5 L649.5,453.3 L650.2,453.3 L650.2,453.2 L650.9,453.2 L650.9,453.2 L651.6,453.2 L651.6,453.3 L652.3,453.3 L652.3,453.3 L653.0,453.3 L653.0,453.5 L653.7,453.5 L653.7,453.5 L654.4,453.5 L654.4,453.6 L655.1,453.6 L655.1,453.6 L655.8,453.6 L655.8,453.6 L656.5,453.6 L656.5,453.7 L657.2,453.7 L657.2,453.6 L657.9,453.6 L657.9,453.6 L658.6,453.6 L658.6,453.5 L659.3,453.5 L659.3,453.7 L660.0,453.7 L660.0,453.7 L660.7,453.7 L660.7,453.7 L661.4,453.7 L661.4,453.6 L662.1,453.6 L662.1,453.6 L662.8,453.6 L662.8,453.4 L663.5,453.4 L663.5,453.5 L664.2,453.5 L664.2,453.3 L664.9,453.3 L664.9,453.2 L665.6,453.2 L665.6,453.2 L666.3,453.2 L666.3,453.3 L667.0,453.3 L667.0,453.3 L667.7,453.3 L667.7,453.4 L668.4,453.4 L668.4,453.5 L669.1,453.5 L669.1,453.6 L669.8,453.6 L669.8,453.7 L670.5,453.7 L670.5,453.7 L671.2,453.7 L671.2,453.7 L671.9,453.7 L671.9,453.8 L672.6,453.8 L672.6,453.7 L673.3,453.7 L673.3,453.6 L674.0,453.6 L674.0,453.7 L674.7,453.7 L674.7,454.0 L675.4,454.0 L675.4,454.0 L676.1,454.0 L676.1,454.1 L676.8,454.1 L676.8,454.2 L677.5,454.2 L677.5,454.3 L678.2,454.3 L678.2,454.3 L678.9,454.3 L678.9,454.3 L679.6,454.3 L679.6,454.1 L680.3,454.1 L680.3,454.3 L681.0,454.3 L681.0,454.5 L681.7,454.5 L681.7,454.5 L682.4,454.5 L682.4,454.6 L683.1,454.6 L683.1,454.5 L683.8,454.5 L683.8,454.6 L683.9,454.6 L683.9,455.3Z" fill="#74d3b2"/>
<rect x="561.3" y="455.8" width="122.6" height="1.6" fill="#c9c9c9"/>
<path d="M422.6,301.4 L425.4,301.4 L425.4,314.1 L422.6,314.1" stroke="#000" stroke-width="0.9" fill="none"/>
<text x="422.2" y="304.2" font-size="7.65" text-anchor="end" fill="#000" textLength="9.8" lengthAdjust="spacingAndGlyphs">20</text>
<text x="422.2" y="316.9" font-size="7.65" text-anchor="end" fill="#000" textLength="4.9" lengthAdjust="spacingAndGlyphs">0</text>
<path d="M422.6,321.1 L425.4,321.1 L425.4,333.8 L422.6,333.8" stroke="#000" stroke-width="0.9" fill="none"/>
<text x="422.2" y="323.9" font-size="7.65" text-anchor="end" fill="#000" textLength="9.8" lengthAdjust="spacingAndGlyphs">20</text>
<text x="422.2" y="336.6" font-size="7.65" text-anchor="end" fill="#000" textLength="4.9" lengthAdjust="spacingAndGlyphs">0</text>
<path d="M422.6,341.4 L425.4,341.4 L425.4,354.1 L422.6,354.1" stroke="#000" stroke-width="0.9" fill="none"/>
<text x="422.2" y="344.2" font-size="7.65" text-anchor="end" fill="#000" textLength="9.8" lengthAdjust="spacingAndGlyphs">20</text>
<text x="422.2" y="356.9" font-size="7.65" text-anchor="end" fill="#000" textLength="4.9" lengthAdjust="spacingAndGlyphs">0</text>
<path d="M422.6,361.1 L425.4,361.1 L425.4,373.8 L422.6,373.8" stroke="#000" stroke-width="0.9" fill="none"/>
<text x="422.2" y="363.9" font-size="7.65" text-anchor="end" fill="#000" textLength="9.8" lengthAdjust="spacingAndGlyphs">20</text>
<text x="422.2" y="376.6" font-size="7.65" text-anchor="end" fill="#000" textLength="4.9" lengthAdjust="spacingAndGlyphs">0</text>
<path d="M422.6,380.6 L425.4,380.6 L425.4,393.3 L422.6,393.3" stroke="#000" stroke-width="0.9" fill="none"/>
<text x="422.2" y="383.4" font-size="7.65" text-anchor="end" fill="#000" textLength="9.8" lengthAdjust="spacingAndGlyphs">20</text>
<text x="422.2" y="396.1" font-size="7.65" text-anchor="end" fill="#000" textLength="4.9" lengthAdjust="spacingAndGlyphs">0</text>
<path d="M422.6,400.1 L425.4,400.1 L425.4,412.8 L422.6,412.8" stroke="#000" stroke-width="0.9" fill="none"/>
<text x="422.2" y="402.9" font-size="7.65" text-anchor="end" fill="#000" textLength="9.8" lengthAdjust="spacingAndGlyphs">20</text>
<text x="422.2" y="415.6" font-size="7.65" text-anchor="end" fill="#000" textLength="4.9" lengthAdjust="spacingAndGlyphs">0</text>
<path d="M422.6,420.0 L425.4,420.0 L425.4,432.7 L422.6,432.7" stroke="#000" stroke-width="0.9" fill="none"/>
<text x="422.2" y="422.8" font-size="7.65" text-anchor="end" fill="#000" textLength="9.8" lengthAdjust="spacingAndGlyphs">20</text>
<text x="422.2" y="435.5" font-size="7.65" text-anchor="end" fill="#000" textLength="4.9" lengthAdjust="spacingAndGlyphs">0</text>
<path d="M422.6,440.0 L425.4,440.0 L425.4,452.7 L422.6,452.7" stroke="#000" stroke-width="0.9" fill="none"/>
<text x="422.2" y="442.8" font-size="7.65" text-anchor="end" fill="#000" textLength="9.8" lengthAdjust="spacingAndGlyphs">20</text>
<text x="422.2" y="455.5" font-size="7.65" text-anchor="end" fill="#000" textLength="4.9" lengthAdjust="spacingAndGlyphs">0</text>
<rect x="488.0" y="299.0" width="31.0" height="156.7" fill="#e4d040" fill-opacity="0.72"/>
<rect x="637.9" y="297.0" width="17.1" height="157.5" fill="#e4d040" fill-opacity="0.72"/>
<text x="432.0" y="294.9" font-size="8.70" text-anchor="start" fill="#000" textLength="105.6" lengthAdjust="spacingAndGlyphs">Chr3: 89,229-89,231kb</text>
<text x="571.1" y="294.3" font-size="8.70" text-anchor="start" fill="#000" textLength="99.7" lengthAdjust="spacingAndGlyphs">Chr11: 4,267-4,272kb</text>
<text x="383.8" y="340.3" font-size="9.20" text-anchor="middle" fill="#000" textLength="52.6" lengthAdjust="spacingAndGlyphs" transform="rotate(-90 383.8 337.0)">H3K27me3</text>
<line x1="389.3" y1="310.4" x2="389.3" y2="362.3" stroke="#000" stroke-width="1.1"/>
<text x="383.7" y="424.8" font-size="9.20" text-anchor="middle" fill="#000" textLength="48.4" lengthAdjust="spacingAndGlyphs" transform="rotate(-90 383.7 421.5)">H3K27ac</text>
<line x1="389.4" y1="398.5" x2="389.4" y2="449.4" stroke="#000" stroke-width="1.1"/>
<text x="399.2" y="317.8" font-size="9.20" text-anchor="middle" fill="#000" transform="rotate(-90 399.2 314.5)" textLength="18.0" lengthAdjust="spacingAndGlyphs">M3<tspan font-size="5.34" dy="-2.94" fill="#000">f/f</tspan></text>
<line x1="405.0" y1="302.0" x2="405.0" y2="327.7" stroke="#000" stroke-width="1.1"/>
<text x="399.2" y="361.9" font-size="9.20" text-anchor="middle" fill="#000" transform="rotate(-90 399.2 358.6)" textLength="21.1" lengthAdjust="spacingAndGlyphs">M3<tspan font-size="5.34" dy="-2.94" fill="#000">d/d</tspan></text>
<line x1="405.0" y1="345.5" x2="405.0" y2="371.8" stroke="#000" stroke-width="1.1"/>
<text x="399.2" y="402.5" font-size="9.20" text-anchor="middle" fill="#000" transform="rotate(-90 399.2 399.2)" textLength="18.0" lengthAdjust="spacingAndGlyphs">M3<tspan font-size="5.34" dy="-2.94" fill="#000">f/f</tspan></text>
<line x1="404.8" y1="386.0" x2="404.8" y2="412.0" stroke="#000" stroke-width="1.1"/>
<text x="399.2" y="443.5" font-size="9.20" text-anchor="middle" fill="#000" transform="rotate(-90 399.2 440.2)" textLength="21.1" lengthAdjust="spacingAndGlyphs">M3<tspan font-size="5.34" dy="-2.94" fill="#000">d/d</tspan></text>
<line x1="404.8" y1="428.3" x2="404.8" y2="452.3" stroke="#000" stroke-width="1.1"/>
<line x1="427.8" y1="460.7" x2="549.8" y2="460.7" stroke="#a187d0" stroke-width="1.0"/>
<rect x="429.2" y="459.4" width="5.1" height="2.6" fill="#6b2fb0"/>
<rect x="473.1" y="459.2" width="69.1" height="3.0" fill="#6b2fb0"/>
<rect x="546.7" y="459.4" width="2.6" height="2.6" fill="#6b2fb0"/>
<text x="428.6" y="472.9" font-size="8.70" text-anchor="start" fill="#000" textLength="24.1" lengthAdjust="spacingAndGlyphs">Muc1</text>
<line x1="561.3" y1="461" x2="683.9" y2="461" stroke="#6b2fb0" stroke-width="1.6" stroke-dasharray="1.2 1.3"/>
<rect x="611.6" y="459.5" width="3.4" height="3.0" fill="#6b2fb0"/>
<rect x="638.0" y="459.4" width="17.0" height="3.2" fill="#6b2fb0"/>
<text x="565.7" y="471.8" font-size="8.70" text-anchor="start" fill="#000" textLength="12.0" lengthAdjust="spacingAndGlyphs">Lif</text>
<path d="M488.5,475.5 L489.6,476.2 L490.6,474.7 L491.7,472.9 L492.8,471.4 L493.9,472.0 L494.9,470.9 L496.0,469.8 L497.1,471.1 L498.2,471.7 L499.2,472.5 L500.3,471.2 L501.4,471.6 L502.5,471.9 L503.6,470.3 L504.6,472.1 L505.7,472.9 L506.8,475.9 L507.9,474.9 L508.9,474.1 L510.0,475.5 L511.1,475.2 L512.1,476.0 L513.2,475.0 L514.3,475.3 L515.4,476.6 L516.5,476.9 L517.5,476.5 L518.6,474.9 L519.7,476.0 L520.8,476.1 L521.8,476.9 L522.9,476.7 L524.0,477.6 L525.0,476.6 L526.1,476.3 L527.2,476.7 L528.3,474.6 L529.4,474.2 L530.4,473.8 L531.5,476.4" stroke="#b8b8b8" stroke-width="0.7" fill="none" stroke-linejoin="round"/>
<path d="M488.5,478.8 L489.6,476.7 L490.6,477.0 L491.7,476.9 L492.8,477.7 L493.9,475.4 L494.9,475.5 L496.0,475.2 L497.1,474.7 L498.2,474.8 L499.2,475.2 L500.3,475.7 L501.4,475.3 L502.5,476.6 L503.6,476.2 L504.6,472.8 L505.7,476.3 L506.8,476.2 L507.9,475.7 L508.9,476.6 L510.0,477.0 L511.1,477.0 L512.1,475.8 L513.2,476.5 L514.3,474.7 L515.4,477.3 L516.5,475.4 L517.5,475.6 L518.6,475.9 L519.7,476.3 L520.8,475.9 L521.8,476.5 L522.9,471.8 L524.0,473.5 L525.0,474.2 L526.1,474.2 L527.2,476.5 L528.3,474.6 L529.4,474.7 L530.4,472.4 L531.5,473.9" stroke="#9a9a9a" stroke-width="0.7" fill="none" stroke-linejoin="round"/>
<path d="M488.5,484.1 L489.6,485.5 L490.6,483.5 L491.7,484.7 L492.8,483.8 L493.9,483.3 L494.9,485.6 L496.0,484.6 L497.1,483.8 L498.2,484.3 L499.2,484.9 L500.3,483.8 L501.4,484.0 L502.5,482.1 L503.6,481.9 L504.6,481.6 L505.7,480.4 L506.8,479.5 L507.9,478.8 L508.9,480.1 L510.0,480.8 L511.1,480.9 L512.1,481.4 L513.2,479.9 L514.3,480.6 L515.4,481.3 L516.5,482.2 L517.5,480.7 L518.6,480.4 L519.7,478.3 L520.8,479.0 L521.8,477.3 L522.9,477.3 L524.0,480.3 L525.0,477.7 L526.1,480.0 L527.2,480.6 L528.3,480.0 L529.4,480.6 L530.4,480.9 L531.5,481.7" stroke="#e0a238" stroke-width="0.7" fill="none" stroke-linejoin="round"/>
<path d="M488.5,482.0 L489.6,482.4 L490.6,481.3 L491.7,481.6 L492.8,482.4 L493.9,482.0 L494.9,483.1 L496.0,480.7 L497.1,480.5 L498.2,479.4 L499.2,478.6 L500.3,478.9 L501.4,479.5 L502.5,479.9 L503.6,480.2 L504.6,482.4 L505.7,481.8 L506.8,478.5 L507.9,479.0 L508.9,478.3 L510.0,478.0 L511.1,480.1 L512.1,479.3 L513.2,476.8 L514.3,478.3 L515.4,478.4 L516.5,477.4 L517.5,477.3 L518.6,477.7 L519.7,478.6 L520.8,478.7 L521.8,479.4 L522.9,482.0 L524.0,480.2 L525.0,479.4 L526.1,479.7 L527.2,481.6 L528.3,480.5 L529.4,482.7 L530.4,480.6 L531.5,479.9" stroke="#e8b048" stroke-width="0.7" fill="none" stroke-linejoin="round"/>
<line x1="488.0" y1="489.7" x2="531.5" y2="489.7" stroke="#bdbdbd" stroke-width="0.9"/>
<path d="M488.5,496.6 L489.6,496.0 L490.6,498.0 L491.7,495.4 L492.8,496.8 L493.9,495.0 L494.9,498.2 L496.0,498.7 L497.1,500.4 L498.2,499.1 L499.2,499.6 L500.3,499.0 L501.4,498.3 L502.5,499.0 L503.6,497.8 L504.6,498.2 L505.7,499.8 L506.8,499.9 L507.9,499.4 L508.9,502.3 L510.0,501.3 L511.1,500.0 L512.1,500.4 L513.2,499.8 L514.3,499.7 L515.4,499.7 L516.5,502.6 L517.5,501.7 L518.6,501.5 L519.7,502.1 L520.8,504.0 L521.8,502.3 L522.9,501.1 L524.0,504.2 L525.0,501.1 L526.1,500.9 L527.2,502.1 L528.3,504.7 L529.4,502.2 L530.4,499.2 L531.5,501.4" stroke="#b0b0b0" stroke-width="0.7" fill="none" stroke-linejoin="round"/>
<path d="M488.5,503.6 L489.6,500.6 L490.6,500.0 L491.7,500.4 L492.8,502.0 L493.9,500.7 L494.9,497.9 L496.0,498.5 L497.1,496.8 L498.2,498.6 L499.2,497.6 L500.3,499.3 L501.4,497.6 L502.5,495.6 L503.6,493.9 L504.6,494.3 L505.7,495.3 L506.8,496.7 L507.9,496.2 L508.9,494.7 L510.0,495.4 L511.1,493.5 L512.1,494.9 L513.2,494.1 L514.3,496.5 L515.4,497.2 L516.5,496.9 L517.5,495.3 L518.6,496.5 L519.7,497.1 L520.8,496.4 L521.8,496.3 L522.9,498.7 L524.0,498.1 L525.0,499.1 L526.1,501.0 L527.2,498.8 L528.3,501.9 L529.4,502.8 L530.4,501.5 L531.5,500.9" stroke="#8fd8bc" stroke-width="0.7" fill="none" stroke-linejoin="round"/>
<path d="M488.5,501.7 L489.6,502.4 L490.6,501.8 L491.7,501.3 L492.8,500.3 L493.9,500.6 L494.9,502.3 L496.0,502.2 L497.1,502.9 L498.2,502.3 L499.2,502.1 L500.3,501.6 L501.4,499.2 L502.5,500.9 L503.6,501.3 L504.6,501.5 L505.7,498.8 L506.8,497.4 L507.9,497.7 L508.9,498.3 L510.0,499.5 L511.1,499.6 L512.1,500.3 L513.2,499.2 L514.3,499.7 L515.4,500.0 L516.5,498.9 L517.5,501.1 L518.6,500.8 L519.7,501.3 L520.8,499.4 L521.8,498.2 L522.9,498.0 L524.0,498.2 L525.0,499.1 L526.1,499.0 L527.2,498.1 L528.3,497.0 L529.4,496.9 L530.4,498.9 L531.5,497.4" stroke="#74cfa8" stroke-width="0.7" fill="none" stroke-linejoin="round"/>
<path d="M488.5,504.4 L489.6,507.2 L490.6,506.8 L491.7,506.7 L492.8,506.0 L493.9,505.3 L494.9,505.3 L496.0,504.4 L497.1,503.2 L498.2,502.3 L499.2,501.5 L500.3,502.9 L501.4,503.9 L502.5,505.7 L503.6,505.2 L504.6,504.7 L505.7,504.9 L506.8,504.1 L507.9,501.4 L508.9,503.6 L510.0,502.9 L511.1,503.3 L512.1,502.9 L513.2,506.5 L514.3,506.2 L515.4,505.1 L516.5,502.6 L517.5,503.8 L518.6,502.2 L519.7,503.9 L520.8,501.4 L521.8,502.0 L522.9,503.4 L524.0,501.9 L525.0,502.4 L526.1,502.6 L527.2,503.7 L528.3,502.4 L529.4,503.2 L530.4,505.3 L531.5,501.9" stroke="#999" stroke-width="0.7" fill="none" stroke-linejoin="round"/>
<line x1="488.0" y1="511.8" x2="531.5" y2="511.8" stroke="#bdbdbd" stroke-width="0.9"/>
<path d="M619.0,475.5 L620.5,476.2 L621.9,477.0 L623.4,475.3 L624.9,473.3 L626.3,473.6 L627.8,474.1 L629.3,475.0 L630.7,472.5 L632.2,471.0 L633.7,472.5 L635.1,472.9 L636.6,474.3 L638.1,474.3 L639.5,473.0 L641.0,472.2 L642.5,475.2 L643.9,473.4 L645.4,472.0 L646.9,471.0 L648.3,472.1 L649.8,472.9 L651.3,472.9 L652.7,473.5 L654.2,474.4 L655.7,475.6 L657.1,483.0 L658.6,482.8 L660.1,480.7 L661.5,482.8 L663.0,481.6" stroke="#e0a238" stroke-width="0.7" fill="none" stroke-linejoin="round"/>
<path d="M619.0,481.3 L620.5,482.1 L621.9,481.8 L623.4,481.2 L624.9,482.5 L626.3,482.0 L627.8,481.2 L629.3,483.2 L630.7,481.3 L632.2,479.4 L633.7,478.2 L635.1,478.5 L636.6,480.1 L638.1,481.1 L639.5,481.9 L641.0,483.2 L642.5,483.6 L643.9,482.6 L645.4,483.0 L646.9,482.5 L648.3,480.8 L649.8,481.7 L651.3,481.4 L652.7,481.0 L654.2,483.5 L655.7,483.5 L657.1,482.1 L658.6,482.0 L660.1,485.0 L661.5,483.6 L663.0,484.2" stroke="#e8b048" stroke-width="0.7" fill="none" stroke-linejoin="round"/>
<path d="M619.0,482.9 L620.5,484.8 L621.9,483.1 L623.4,481.0 L624.9,482.5 L626.3,483.8 L627.8,484.1 L629.3,484.5 L630.7,484.0 L632.2,483.2 L633.7,482.7 L635.1,483.1 L636.6,483.1 L638.1,484.7 L639.5,485.2 L641.0,483.3 L642.5,484.7 L643.9,484.5 L645.4,485.9 L646.9,487.0 L648.3,486.5 L649.8,483.5 L651.3,484.9 L652.7,483.0 L654.2,485.9 L655.7,484.6 L657.1,484.6 L658.6,487.1 L660.1,484.0 L661.5,484.7 L663.0,483.7" stroke="#999" stroke-width="0.7" fill="none" stroke-linejoin="round"/>
<path d="M619.0,486.5 L620.5,486.7 L621.9,484.0 L623.4,481.8 L624.9,482.9 L626.3,484.4 L627.8,484.1 L629.3,482.3 L630.7,482.5 L632.2,485.0 L633.7,482.8 L635.1,484.7 L636.6,485.1 L638.1,485.2 L639.5,485.7 L641.0,484.5 L642.5,484.4 L643.9,486.8 L645.4,485.5 L646.9,484.8 L648.3,483.4 L649.8,483.9 L651.3,485.7 L652.7,487.2 L654.2,487.3 L655.7,487.4 L657.1,487.4 L658.6,487.1 L660.1,487.8 L661.5,486.7 L663.0,487.6" stroke="#666" stroke-width="0.7" fill="none" stroke-linejoin="round"/>
<line x1="619.0" y1="491.7" x2="663.0" y2="491.7" stroke="#bdbdbd" stroke-width="0.9"/>
<path d="M619.0,503.1 L620.5,502.7 L621.9,502.4 L623.4,501.7 L624.9,501.8 L626.3,501.7 L627.8,502.5 L629.3,501.1 L630.7,503.4 L632.2,499.9 L633.7,500.9 L635.1,502.1 L636.6,502.0 L638.1,501.6 L639.5,502.1 L641.0,503.2 L642.5,504.3 L643.9,502.7 L645.4,503.5 L646.9,503.3 L648.3,504.7 L649.8,504.1 L651.3,504.4 L652.7,505.4 L654.2,504.7 L655.7,504.7 L657.1,503.7 L658.6,503.6 L660.1,502.0 L661.5,501.9 L663.0,502.0" stroke="#74cfa8" stroke-width="0.7" fill="none" stroke-linejoin="round"/>
<path d="M619.0,504.4 L620.5,505.5 L621.9,504.7 L623.4,505.5 L624.9,504.6 L626.3,505.8 L627.8,505.7 L629.3,507.0 L630.7,507.1 L632.2,506.6 L633.7,506.1 L635.1,506.4 L636.6,506.2 L638.1,505.4 L639.5,506.1 L641.0,504.1 L642.5,504.9 L643.9,507.0 L645.4,506.7 L646.9,505.0 L648.3,506.0 L649.8,505.8 L651.3,505.0 L652.7,504.5 L654.2,504.8 L655.7,505.4 L657.1,504.9 L658.6,506.1 L660.1,504.7 L661.5,505.2 L663.0,503.4" stroke="#8fd8bc" stroke-width="0.7" fill="none" stroke-linejoin="round"/>
<path d="M619.0,504.1 L620.5,504.6 L621.9,505.7 L623.4,505.4 L624.9,505.6 L626.3,504.3 L627.8,504.7 L629.3,504.8 L630.7,505.9 L632.2,505.8 L633.7,505.7 L635.1,505.0 L636.6,504.5 L638.1,505.0 L639.5,506.4 L641.0,504.3 L642.5,502.6 L643.9,505.7 L645.4,507.0 L646.9,506.8 L648.3,506.5 L649.8,505.7 L651.3,505.3 L652.7,504.4 L654.2,505.5 L655.7,505.3 L657.1,503.8 L658.6,504.2 L660.1,504.4 L661.5,504.4 L663.0,506.6" stroke="#888" stroke-width="0.7" fill="none" stroke-linejoin="round"/>
<path d="M619.0,504.0 L620.5,504.8 L621.9,503.9 L623.4,504.2 L624.9,502.9 L626.3,503.3 L627.8,502.5 L629.3,503.1 L630.7,503.3 L632.2,504.0 L633.7,503.5 L635.1,502.8 L636.6,502.5 L638.1,501.8 L639.5,503.9 L641.0,502.3 L642.5,502.9 L643.9,503.8 L645.4,503.6 L646.9,502.5 L648.3,503.4 L649.8,504.6 L651.3,505.1 L652.7,503.2 L654.2,503.5 L655.7,504.2 L657.1,506.0 L658.6,504.8 L660.1,504.4 L661.5,505.2 L663.0,503.3" stroke="#aaa" stroke-width="0.7" fill="none" stroke-linejoin="round"/>
<line x1="619.0" y1="511.5" x2="663.0" y2="511.5" stroke="#bdbdbd" stroke-width="0.9"/>
<text x="435.2" y="543.3" font-size="8.70" text-anchor="start" fill="#000" textLength="99.8" lengthAdjust="spacingAndGlyphs">Chr10: 4,970-5,010kb</text>
<text x="565.8" y="542.7" font-size="8.70" text-anchor="start" fill="#000" textLength="99.1" lengthAdjust="spacingAndGlyphs">Chr15: 7,154-7,160kb</text>
<path d="M429.6,566.4 L429.6,563.7 L430.3,563.7 L430.3,564.0 L431.0,564.0 L431.0,564.7 L431.7,564.7 L431.7,564.5 L432.4,564.5 L432.4,564.5 L433.1,564.5 L433.1,564.8 L433.8,564.8 L433.8,565.0 L434.5,565.0 L434.5,564.6 L435.2,564.6 L435.2,564.5 L435.9,564.5 L435.9,564.5 L436.6,564.5 L436.6,563.8 L437.3,563.8 L437.3,563.5 L438.0,563.5 L438.0,563.3 L438.7,563.3 L438.7,563.2 L439.4,563.2 L439.4,562.7 L440.1,562.7 L440.1,562.3 L440.8,562.3 L440.8,562.7 L441.5,562.7 L441.5,563.1 L442.2,563.1 L442.2,563.9 L442.9,563.9 L442.9,564.2 L443.6,564.2 L443.6,564.5 L444.3,564.5 L444.3,564.7 L445.0,564.7 L445.0,564.6 L445.7,564.6 L445.7,564.8 L446.4,564.8 L446.4,565.0 L447.1,565.0 L447.1,565.2 L447.8,565.2 L447.8,565.1 L448.5,565.1 L448.5,564.8 L449.2,564.8 L449.2,564.4 L449.9,564.4 L449.9,564.0 L450.6,564.0 L450.6,563.7 L451.3,563.7 L451.3,563.9 L452.0,563.9 L452.0,564.1 L452.7,564.1 L452.7,564.5 L453.4,564.5 L453.4,564.9 L454.1,564.9 L454.1,565.0 L454.8,565.0 L454.8,564.9 L455.5,564.9 L455.5,564.9 L456.2,564.9 L456.2,564.6 L456.9,564.6 L456.9,564.3 L457.6,564.3 L457.6,564.6 L458.3,564.6 L458.3,564.7 L459.0,564.7 L459.0,564.9 L459.7,564.9 L459.7,564.9 L460.4,564.9 L460.4,565.0 L461.1,565.0 L461.1,565.1 L461.8,565.1 L461.8,564.8 L462.5,564.8 L462.5,564.4 L463.2,564.4 L463.2,564.5 L463.9,564.5 L463.9,564.3 L464.6,564.3 L464.6,564.2 L465.3,564.2 L465.3,564.0 L466.0,564.0 L466.0,564.2 L466.7,564.2 L466.7,563.9 L467.4,563.9 L467.4,563.8 L468.1,563.8 L468.1,563.7 L468.8,563.7 L468.8,564.0 L469.5,564.0 L469.5,564.1 L470.2,564.1 L470.2,564.2 L470.9,564.2 L470.9,564.3 L471.6,564.3 L471.6,563.9 L472.3,563.9 L472.3,564.3 L473.0,564.3 L473.0,564.6 L473.7,564.6 L473.7,564.6 L474.4,564.6 L474.4,564.4 L475.1,564.4 L475.1,564.0 L475.8,564.0 L475.8,563.9 L476.5,563.9 L476.5,563.5 L477.2,563.5 L477.2,563.5 L477.9,563.5 L477.9,563.5 L478.6,563.5 L478.6,563.6 L479.3,563.6 L479.3,564.0 L480.0,564.0 L480.0,564.5 L480.7,564.5 L480.7,564.5 L481.4,564.5 L481.4,564.2 L482.1,564.2 L482.1,564.0 L482.8,564.0 L482.8,563.4 L483.5,563.4 L483.5,562.7 L484.2,562.7 L484.2,562.6 L484.9,562.6 L484.9,563.3 L485.6,563.3 L485.6,563.4 L486.3,563.4 L486.3,563.6 L487.0,563.6 L487.0,563.4 L487.7,563.4 L487.7,563.8 L488.4,563.8 L488.4,563.8 L489.1,563.8 L489.1,563.9 L489.8,563.9 L489.8,564.0 L490.5,564.0 L490.5,564.3 L491.2,564.3 L491.2,564.2 L491.9,564.2 L491.9,564.5 L492.6,564.5 L492.6,564.1 L493.3,564.1 L493.3,563.5 L494.0,563.5 L494.0,563.7 L494.7,563.7 L494.7,563.8 L495.4,563.8 L495.4,564.0 L496.1,564.0 L496.1,563.8 L496.8,563.8 L496.8,564.1 L497.5,564.1 L497.5,564.1 L498.2,564.1 L498.2,564.5 L498.9,564.5 L498.9,564.6 L499.6,564.6 L499.6,564.4 L500.3,564.4 L500.3,564.4 L501.0,564.4 L501.0,564.7 L501.7,564.7 L501.7,564.7 L502.4,564.7 L502.4,564.9 L503.1,564.9 L503.1,564.6 L503.8,564.6 L503.8,564.4 L504.5,564.4 L504.5,564.1 L505.2,564.1 L505.2,564.6 L505.9,564.6 L505.9,564.6 L506.6,564.6 L506.6,564.5 L507.3,564.5 L507.3,564.7 L508.0,564.7 L508.0,565.0 L508.7,565.0 L508.7,565.1 L509.4,565.1 L509.4,565.4 L510.1,565.4 L510.1,565.2 L510.8,565.2 L510.8,565.2 L511.5,565.2 L511.5,565.3 L512.2,565.3 L512.2,565.3 L512.9,565.3 L512.9,565.3 L513.6,565.3 L513.6,565.1 L514.3,565.1 L514.3,565.2 L515.0,565.2 L515.0,565.0 L515.7,565.0 L515.7,565.2 L516.4,565.2 L516.4,565.0 L517.1,565.0 L517.1,565.0 L517.8,565.0 L517.8,564.6 L518.5,564.6 L518.5,564.4 L519.2,564.4 L519.2,564.2 L519.9,564.2 L519.9,563.9 L520.6,563.9 L520.6,563.5 L521.3,563.5 L521.3,563.7 L522.0,563.7 L522.0,564.5 L522.7,564.5 L522.7,564.5 L523.4,564.5 L523.4,564.4 L524.1,564.4 L524.1,564.4 L524.8,564.4 L524.8,564.0 L525.5,564.0 L525.5,563.6 L526.2,563.6 L526.2,563.5 L526.9,563.5 L526.9,563.1 L527.6,563.1 L527.6,563.4 L528.3,563.4 L528.3,563.4 L529.0,563.4 L529.0,563.7 L529.7,563.7 L529.7,564.1 L530.4,564.1 L530.4,564.4 L531.1,564.4 L531.1,563.6 L531.8,563.6 L531.8,563.2 L532.5,563.2 L532.5,562.8 L533.2,562.8 L533.2,562.9 L533.9,562.9 L533.9,562.5 L534.6,562.5 L534.6,562.3 L535.3,562.3 L535.3,562.9 L536.0,562.9 L536.0,563.2 L536.7,563.2 L536.7,564.0 L537.4,564.0 L537.4,564.4 L538.1,564.4 L538.1,564.5 L538.8,564.5 L538.8,564.7 L539.5,564.7 L539.5,564.7 L540.2,564.7 L540.2,564.3 L540.9,564.3 L540.9,564.0 L541.6,564.0 L541.6,563.8 L542.3,563.8 L542.3,563.7 L543.0,563.7 L543.0,564.1 L543.7,564.1 L543.7,563.8 L544.4,563.8 L544.4,563.7 L545.1,563.7 L545.1,563.9 L545.8,563.9 L545.8,563.9 L546.5,563.9 L546.5,564.1 L547.2,564.1 L547.2,564.0 L547.9,564.0 L547.9,564.4 L548.6,564.4 L548.6,564.5 L549.3,564.5 L549.3,564.4 L550.0,564.4 L550.0,564.4 L550.7,564.4 L550.7,564.2 L551.4,564.2 L551.4,564.3 L551.7,564.3 L551.7,566.4Z" fill="#6e6e6e"/>
<rect x="429.6" y="566.9" width="122.1" height="1.6" fill="#c9c9c9"/>
<path d="M429.6,586.9 L429.6,584.6 L430.3,584.6 L430.3,584.3 L431.0,584.3 L431.0,584.3 L431.7,584.3 L431.7,584.4 L432.4,584.4 L432.4,584.4 L433.1,584.4 L433.1,584.7 L433.8,584.7 L433.8,584.4 L434.5,584.4 L434.5,584.7 L435.2,584.7 L435.2,584.9 L435.9,584.9 L435.9,584.6 L436.6,584.6 L436.6,584.8 L437.3,584.8 L437.3,585.0 L438.0,585.0 L438.0,585.1 L438.7,585.1 L438.7,585.3 L439.4,585.3 L439.4,585.2 L440.1,585.2 L440.1,585.1 L440.8,585.1 L440.8,585.1 L441.5,585.1 L441.5,585.0 L442.2,585.0 L442.2,584.8 L442.9,584.8 L442.9,584.8 L443.6,584.8 L443.6,584.8 L444.3,584.8 L444.3,584.5 L445.0,584.5 L445.0,584.2 L445.7,584.2 L445.7,584.3 L446.4,584.3 L446.4,584.4 L447.1,584.4 L447.1,584.5 L447.8,584.5 L447.8,584.7 L448.5,584.7 L448.5,585.0 L449.2,585.0 L449.2,585.1 L449.9,585.1 L449.9,585.1 L450.6,585.1 L450.6,585.3 L451.3,585.3 L451.3,585.1 L452.0,585.1 L452.0,584.4 L452.7,584.4 L452.7,584.0 L453.4,584.0 L453.4,583.5 L454.1,583.5 L454.1,583.7 L454.8,583.7 L454.8,584.4 L455.5,584.4 L455.5,584.9 L456.2,584.9 L456.2,585.1 L456.9,585.1 L456.9,585.2 L457.6,585.2 L457.6,584.2 L458.3,584.2 L458.3,583.5 L459.0,583.5 L459.0,582.7 L459.7,582.7 L459.7,582.4 L460.4,582.4 L460.4,582.4 L461.1,582.4 L461.1,582.9 L461.8,582.9 L461.8,583.5 L462.5,583.5 L462.5,583.9 L463.2,583.9 L463.2,584.2 L463.9,584.2 L463.9,584.5 L464.6,584.5 L464.6,584.0 L465.3,584.0 L465.3,584.3 L466.0,584.3 L466.0,584.3 L466.7,584.3 L466.7,584.2 L467.4,584.2 L467.4,584.2 L468.1,584.2 L468.1,584.5 L468.8,584.5 L468.8,584.2 L469.5,584.2 L469.5,584.6 L470.2,584.6 L470.2,584.6 L470.9,584.6 L470.9,584.5 L471.6,584.5 L471.6,584.4 L472.3,584.4 L472.3,584.2 L473.0,584.2 L473.0,584.5 L473.7,584.5 L473.7,584.5 L474.4,584.5 L474.4,584.6 L475.1,584.6 L475.1,584.7 L475.8,584.7 L475.8,584.9 L476.5,584.9 L476.5,585.0 L477.2,585.0 L477.2,585.1 L477.9,585.1 L477.9,585.1 L478.6,585.1 L478.6,585.5 L479.3,585.5 L479.3,585.6 L480.0,585.6 L480.0,585.6 L480.7,585.6 L480.7,585.7 L481.4,585.7 L481.4,585.5 L482.1,585.5 L482.1,585.3 L482.8,585.3 L482.8,585.0 L483.5,585.0 L483.5,584.9 L484.2,584.9 L484.2,584.7 L484.9,584.7 L484.9,584.4 L485.6,584.4 L485.6,584.8 L486.3,584.8 L486.3,584.7 L487.0,584.7 L487.0,584.6 L487.7,584.6 L487.7,584.8 L488.4,584.8 L488.4,584.5 L489.1,584.5 L489.1,584.1 L489.8,584.1 L489.8,584.3 L490.5,584.3 L490.5,584.2 L491.2,584.2 L491.2,584.1 L491.9,584.1 L491.9,584.2 L492.6,584.2 L492.6,584.3 L493.3,584.3 L493.3,584.8 L494.0,584.8 L494.0,585.1 L494.7,585.1 L494.7,585.2 L495.4,585.2 L495.4,585.0 L496.1,585.0 L496.1,584.9 L496.8,584.9 L496.8,584.9 L497.5,584.9 L497.5,585.0 L498.2,585.0 L498.2,584.9 L498.9,584.9 L498.9,585.0 L499.6,585.0 L499.6,584.5 L500.3,584.5 L500.3,584.4 L501.0,584.4 L501.0,584.5 L501.7,584.5 L501.7,585.0 L502.4,585.0 L502.4,584.8 L503.1,584.8 L503.1,584.8 L503.8,584.8 L503.8,585.0 L504.5,585.0 L504.5,585.2 L505.2,585.2 L505.2,585.3 L505.9,585.3 L505.9,585.1 L506.6,585.1 L506.6,585.0 L507.3,585.0 L507.3,584.6 L508.0,584.6 L508.0,584.6 L508.7,584.6 L508.7,584.3 L509.4,584.3 L509.4,584.2 L510.1,584.2 L510.1,584.2 L510.8,584.2 L510.8,584.4 L511.5,584.4 L511.5,584.4 L512.2,584.4 L512.2,584.5 L512.9,584.5 L512.9,584.5 L513.6,584.5 L513.6,584.1 L514.3,584.1 L514.3,583.9 L515.0,583.9 L515.0,583.5 L515.7,583.5 L515.7,583.5 L516.4,583.5 L516.4,583.4 L517.1,583.4 L517.1,584.1 L517.8,584.1 L517.8,584.3 L518.5,584.3 L518.5,585.2 L519.2,585.2 L519.2,585.3 L519.9,585.3 L519.9,585.0 L520.6,585.0 L520.6,584.8 L521.3,584.8 L521.3,584.8 L522.0,584.8 L522.0,585.0 L522.7,585.0 L522.7,584.6 L523.4,584.6 L523.4,584.3 L524.1,584.3 L524.1,584.3 L524.8,584.3 L524.8,584.0 L525.5,584.0 L525.5,583.7 L526.2,583.7 L526.2,583.1 L526.9,583.1 L526.9,583.3 L527.6,583.3 L527.6,583.6 L528.3,583.6 L528.3,583.4 L529.0,583.4 L529.0,583.7 L529.7,583.7 L529.7,583.9 L530.4,583.9 L530.4,584.3 L531.1,584.3 L531.1,584.3 L531.8,584.3 L531.8,584.4 L532.5,584.4 L532.5,584.4 L533.2,584.4 L533.2,584.7 L533.9,584.7 L533.9,584.1 L534.6,584.1 L534.6,584.5 L535.3,584.5 L535.3,584.2 L536.0,584.2 L536.0,584.3 L536.7,584.3 L536.7,584.5 L537.4,584.5 L537.4,584.7 L538.1,584.7 L538.1,584.8 L538.8,584.8 L538.8,585.1 L539.5,585.1 L539.5,584.9 L540.2,584.9 L540.2,585.1 L540.9,585.1 L540.9,585.3 L541.6,585.3 L541.6,585.5 L542.3,585.5 L542.3,585.5 L543.0,585.5 L543.0,585.5 L543.7,585.5 L543.7,585.2 L544.4,585.2 L544.4,585.1 L545.1,585.1 L545.1,585.0 L545.8,585.0 L545.8,584.6 L546.5,584.6 L546.5,584.8 L547.2,584.8 L547.2,584.9 L547.9,584.9 L547.9,585.0 L548.6,585.0 L548.6,585.1 L549.3,585.1 L549.3,585.2 L550.0,585.2 L550.0,585.3 L550.7,585.3 L550.7,585.5 L551.4,585.5 L551.4,585.5 L551.7,585.5 L551.7,586.9Z" fill="#6e6e6e"/>
<rect x="429.6" y="587.4" width="122.1" height="1.6" fill="#c9c9c9"/>
<path d="M429.6,606.8 L429.6,604.5 L430.3,604.5 L430.3,604.2 L431.0,604.2 L431.0,604.1 L431.7,604.1 L431.7,604.2 L432.4,604.2 L432.4,604.2 L433.1,604.2 L433.1,604.2 L433.8,604.2 L433.8,603.9 L434.5,603.9 L434.5,604.2 L435.2,604.2 L435.2,603.7 L435.9,603.7 L435.9,603.7 L436.6,603.7 L436.6,604.1 L437.3,604.1 L437.3,604.0 L438.0,604.0 L438.0,604.1 L438.7,604.1 L438.7,604.4 L439.4,604.4 L439.4,604.5 L440.1,604.5 L440.1,604.5 L440.8,604.5 L440.8,604.6 L441.5,604.6 L441.5,604.6 L442.2,604.6 L442.2,604.6 L442.9,604.6 L442.9,604.5 L443.6,604.5 L443.6,604.6 L444.3,604.6 L444.3,604.4 L445.0,604.4 L445.0,604.1 L445.7,604.1 L445.7,604.0 L446.4,604.0 L446.4,603.8 L447.1,603.8 L447.1,603.5 L447.8,603.5 L447.8,603.3 L448.5,603.3 L448.5,603.3 L449.2,603.3 L449.2,603.3 L449.9,603.3 L449.9,603.6 L450.6,603.6 L450.6,603.4 L451.3,603.4 L451.3,603.6 L452.0,603.6 L452.0,603.6 L452.7,603.6 L452.7,604.1 L453.4,604.1 L453.4,604.7 L454.1,604.7 L454.1,604.8 L454.8,604.8 L454.8,604.5 L455.5,604.5 L455.5,604.5 L456.2,604.5 L456.2,604.1 L456.9,604.1 L456.9,603.9 L457.6,603.9 L457.6,603.5 L458.3,603.5 L458.3,603.9 L459.0,603.9 L459.0,603.9 L459.7,603.9 L459.7,604.3 L460.4,604.3 L460.4,604.8 L461.1,604.8 L461.1,605.2 L461.8,605.2 L461.8,604.8 L462.5,604.8 L462.5,604.4 L463.2,604.4 L463.2,604.7 L463.9,604.7 L463.9,604.4 L464.6,604.4 L464.6,604.2 L465.3,604.2 L465.3,604.2 L466.0,604.2 L466.0,604.6 L466.7,604.6 L466.7,604.0 L467.4,604.0 L467.4,604.1 L468.1,604.1 L468.1,604.2 L468.8,604.2 L468.8,604.0 L469.5,604.0 L469.5,604.5 L470.2,604.5 L470.2,604.6 L470.9,604.6 L470.9,604.7 L471.6,604.7 L471.6,604.9 L472.3,604.9 L472.3,604.6 L473.0,604.6 L473.0,604.9 L473.7,604.9 L473.7,605.0 L474.4,605.0 L474.4,605.0 L475.1,605.0 L475.1,605.1 L475.8,605.1 L475.8,605.2 L476.5,605.2 L476.5,605.1 L477.2,605.1 L477.2,605.2 L477.9,605.2 L477.9,604.7 L478.6,604.7 L478.6,604.8 L479.3,604.8 L479.3,604.5 L480.0,604.5 L480.0,604.0 L480.7,604.0 L480.7,603.1 L481.4,603.1 L481.4,602.5 L482.1,602.5 L482.1,601.4 L482.8,601.4 L482.8,600.8 L483.5,600.8 L483.5,601.1 L484.2,601.1 L484.2,600.6 L484.9,600.6 L484.9,600.5 L485.6,600.5 L485.6,601.8 L486.3,601.8 L486.3,602.8 L487.0,602.8 L487.0,603.3 L487.7,603.3 L487.7,603.7 L488.4,603.7 L488.4,603.8 L489.1,603.8 L489.1,604.2 L489.8,604.2 L489.8,604.3 L490.5,604.3 L490.5,604.3 L491.2,604.3 L491.2,604.6 L491.9,604.6 L491.9,604.8 L492.6,604.8 L492.6,604.8 L493.3,604.8 L493.3,604.0 L494.0,604.0 L494.0,603.5 L494.7,603.5 L494.7,602.8 L495.4,602.8 L495.4,602.6 L496.1,602.6 L496.1,603.5 L496.8,603.5 L496.8,603.8 L497.5,603.8 L497.5,604.1 L498.2,604.1 L498.2,604.1 L498.9,604.1 L498.9,604.7 L499.6,604.7 L499.6,604.4 L500.3,604.4 L500.3,604.4 L501.0,604.4 L501.0,604.1 L501.7,604.1 L501.7,603.4 L502.4,603.4 L502.4,603.2 L503.1,603.2 L503.1,603.1 L503.8,603.1 L503.8,603.0 L504.5,603.0 L504.5,602.9 L505.2,602.9 L505.2,603.0 L505.9,603.0 L505.9,603.4 L506.6,603.4 L506.6,603.9 L507.3,603.9 L507.3,604.2 L508.0,604.2 L508.0,604.2 L508.7,604.2 L508.7,604.6 L509.4,604.6 L509.4,604.8 L510.1,604.8 L510.1,604.7 L510.8,604.7 L510.8,604.5 L511.5,604.5 L511.5,604.2 L512.2,604.2 L512.2,604.1 L512.9,604.1 L512.9,604.3 L513.6,604.3 L513.6,604.1 L514.3,604.1 L514.3,604.3 L515.0,604.3 L515.0,604.1 L515.7,604.1 L515.7,604.8 L516.4,604.8 L516.4,605.0 L517.1,605.0 L517.1,604.8 L517.8,604.8 L517.8,604.9 L518.5,604.9 L518.5,604.9 L519.2,604.9 L519.2,605.0 L519.9,605.0 L519.9,605.1 L520.6,605.1 L520.6,605.0 L521.3,605.0 L521.3,605.0 L522.0,605.0 L522.0,604.7 L522.7,604.7 L522.7,604.5 L523.4,604.5 L523.4,604.4 L524.1,604.4 L524.1,603.6 L524.8,603.6 L524.8,602.3 L525.5,602.3 L525.5,602.1 L526.2,602.1 L526.2,602.7 L526.9,602.7 L526.9,602.4 L527.6,602.4 L527.6,602.7 L528.3,602.7 L528.3,603.3 L529.0,603.3 L529.0,603.2 L529.7,603.2 L529.7,603.6 L530.4,603.6 L530.4,603.5 L531.1,603.5 L531.1,603.7 L531.8,603.7 L531.8,604.0 L532.5,604.0 L532.5,604.1 L533.2,604.1 L533.2,604.3 L533.9,604.3 L533.9,604.3 L534.6,604.3 L534.6,604.6 L535.3,604.6 L535.3,604.2 L536.0,604.2 L536.0,603.5 L536.7,603.5 L536.7,603.4 L537.4,603.4 L537.4,602.6 L538.1,602.6 L538.1,602.6 L538.8,602.6 L538.8,602.4 L539.5,602.4 L539.5,603.0 L540.2,603.0 L540.2,603.2 L540.9,603.2 L540.9,603.1 L541.6,603.1 L541.6,603.6 L542.3,603.6 L542.3,603.8 L543.0,603.8 L543.0,604.3 L543.7,604.3 L543.7,604.5 L544.4,604.5 L544.4,604.8 L545.1,604.8 L545.1,605.1 L545.8,605.1 L545.8,605.1 L546.5,605.1 L546.5,604.8 L547.2,604.8 L547.2,604.1 L547.9,604.1 L547.9,603.6 L548.6,603.6 L548.6,603.3 L549.3,603.3 L549.3,603.0 L550.0,603.0 L550.0,603.4 L550.7,603.4 L550.7,602.7 L551.4,602.7 L551.4,602.5 L551.7,602.5 L551.7,606.8Z" fill="#74d3b2"/>
<rect x="429.6" y="607.3" width="122.1" height="1.6" fill="#c9c9c9"/>
<path d="M429.6,626.7 L429.6,624.8 L430.3,624.8 L430.3,624.5 L431.0,624.5 L431.0,624.7 L431.7,624.7 L431.7,624.6 L432.4,624.6 L432.4,624.6 L433.1,624.6 L433.1,624.4 L433.8,624.4 L433.8,624.0 L434.5,624.0 L434.5,623.7 L435.2,623.7 L435.2,623.8 L435.9,623.8 L435.9,624.4 L436.6,624.4 L436.6,624.6 L437.3,624.6 L437.3,625.1 L438.0,625.1 L438.0,625.2 L438.7,625.2 L438.7,625.3 L439.4,625.3 L439.4,625.1 L440.1,625.1 L440.1,624.6 L440.8,624.6 L440.8,624.8 L441.5,624.8 L441.5,624.6 L442.2,624.6 L442.2,624.4 L442.9,624.4 L442.9,624.2 L443.6,624.2 L443.6,623.5 L444.3,623.5 L444.3,623.1 L445.0,623.1 L445.0,622.8 L445.7,622.8 L445.7,622.1 L446.4,622.1 L446.4,622.3 L447.1,622.3 L447.1,622.9 L447.8,622.9 L447.8,622.4 L448.5,622.4 L448.5,622.8 L449.2,622.8 L449.2,622.7 L449.9,622.7 L449.9,622.9 L450.6,622.9 L450.6,623.1 L451.3,623.1 L451.3,623.4 L452.0,623.4 L452.0,623.6 L452.7,623.6 L452.7,623.5 L453.4,623.5 L453.4,623.5 L454.1,623.5 L454.1,623.7 L454.8,623.7 L454.8,623.8 L455.5,623.8 L455.5,623.6 L456.2,623.6 L456.2,623.7 L456.9,623.7 L456.9,623.7 L457.6,623.7 L457.6,623.4 L458.3,623.4 L458.3,623.5 L459.0,623.5 L459.0,623.7 L459.7,623.7 L459.7,624.4 L460.4,624.4 L460.4,624.6 L461.1,624.6 L461.1,624.7 L461.8,624.7 L461.8,624.7 L462.5,624.7 L462.5,624.0 L463.2,624.0 L463.2,623.8 L463.9,623.8 L463.9,623.5 L464.6,623.5 L464.6,623.1 L465.3,623.1 L465.3,622.8 L466.0,622.8 L466.0,622.8 L466.7,622.8 L466.7,622.7 L467.4,622.7 L467.4,623.6 L468.1,623.6 L468.1,623.5 L468.8,623.5 L468.8,623.1 L469.5,623.1 L469.5,623.6 L470.2,623.6 L470.2,624.1 L470.9,624.1 L470.9,624.6 L471.6,624.6 L471.6,624.5 L472.3,624.5 L472.3,624.4 L473.0,624.4 L473.0,624.0 L473.7,624.0 L473.7,624.1 L474.4,624.1 L474.4,623.9 L475.1,623.9 L475.1,623.6 L475.8,623.6 L475.8,624.0 L476.5,624.0 L476.5,624.2 L477.2,624.2 L477.2,624.2 L477.9,624.2 L477.9,624.6 L478.6,624.6 L478.6,624.8 L479.3,624.8 L479.3,624.4 L480.0,624.4 L480.0,624.5 L480.7,624.5 L480.7,623.6 L481.4,623.6 L481.4,623.4 L482.1,623.4 L482.1,623.3 L482.8,623.3 L482.8,623.4 L483.5,623.4 L483.5,623.9 L484.2,623.9 L484.2,623.7 L484.9,623.7 L484.9,623.3 L485.6,623.3 L485.6,623.1 L486.3,623.1 L486.3,623.1 L487.0,623.1 L487.0,622.9 L487.7,622.9 L487.7,623.5 L488.4,623.5 L488.4,624.0 L489.1,624.0 L489.1,623.5 L489.8,623.5 L489.8,623.3 L490.5,623.3 L490.5,623.4 L491.2,623.4 L491.2,623.3 L491.9,623.3 L491.9,623.0 L492.6,623.0 L492.6,623.2 L493.3,623.2 L493.3,623.8 L494.0,623.8 L494.0,623.8 L494.7,623.8 L494.7,623.6 L495.4,623.6 L495.4,624.3 L496.1,624.3 L496.1,624.7 L496.8,624.7 L496.8,624.7 L497.5,624.7 L497.5,624.4 L498.2,624.4 L498.2,624.1 L498.9,624.1 L498.9,623.4 L499.6,623.4 L499.6,622.9 L500.3,622.9 L500.3,623.3 L501.0,623.3 L501.0,623.4 L501.7,623.4 L501.7,623.4 L502.4,623.4 L502.4,623.4 L503.1,623.4 L503.1,623.9 L503.8,623.9 L503.8,623.8 L504.5,623.8 L504.5,623.6 L505.2,623.6 L505.2,623.9 L505.9,623.9 L505.9,624.1 L506.6,624.1 L506.6,624.2 L507.3,624.2 L507.3,624.0 L508.0,624.0 L508.0,624.0 L508.7,624.0 L508.7,623.7 L509.4,623.7 L509.4,623.4 L510.1,623.4 L510.1,623.2 L510.8,623.2 L510.8,623.5 L511.5,623.5 L511.5,623.5 L512.2,623.5 L512.2,623.9 L512.9,623.9 L512.9,624.1 L513.6,624.1 L513.6,624.6 L514.3,624.6 L514.3,625.0 L515.0,625.0 L515.0,625.0 L515.7,625.0 L515.7,624.0 L516.4,624.0 L516.4,623.4 L517.1,623.4 L517.1,623.2 L517.8,623.2 L517.8,622.7 L518.5,622.7 L518.5,622.4 L519.2,622.4 L519.2,622.1 L519.9,622.1 L519.9,622.5 L520.6,622.5 L520.6,623.0 L521.3,623.0 L521.3,623.2 L522.0,623.2 L522.0,623.6 L522.7,623.6 L522.7,623.3 L523.4,623.3 L523.4,623.9 L524.1,623.9 L524.1,624.1 L524.8,624.1 L524.8,624.0 L525.5,624.0 L525.5,623.9 L526.2,623.9 L526.2,623.5 L526.9,623.5 L526.9,623.6 L527.6,623.6 L527.6,623.2 L528.3,623.2 L528.3,623.3 L529.0,623.3 L529.0,623.2 L529.7,623.2 L529.7,623.5 L530.4,623.5 L530.4,623.7 L531.1,623.7 L531.1,624.1 L531.8,624.1 L531.8,623.8 L532.5,623.8 L532.5,623.8 L533.2,623.8 L533.2,624.2 L533.9,624.2 L533.9,624.3 L534.6,624.3 L534.6,624.3 L535.3,624.3 L535.3,623.9 L536.0,623.9 L536.0,623.7 L536.7,623.7 L536.7,624.1 L537.4,624.1 L537.4,624.2 L538.1,624.2 L538.1,624.3 L538.8,624.3 L538.8,624.4 L539.5,624.4 L539.5,624.5 L540.2,624.5 L540.2,624.0 L540.9,624.0 L540.9,623.2 L541.6,623.2 L541.6,622.7 L542.3,622.7 L542.3,623.0 L543.0,623.0 L543.0,623.4 L543.7,623.4 L543.7,624.0 L544.4,624.0 L544.4,624.6 L545.1,624.6 L545.1,624.5 L545.8,624.5 L545.8,624.0 L546.5,624.0 L546.5,623.5 L547.2,623.5 L547.2,623.2 L547.9,623.2 L547.9,623.0 L548.6,623.0 L548.6,623.3 L549.3,623.3 L549.3,623.0 L550.0,623.0 L550.0,623.2 L550.7,623.2 L550.7,623.7 L551.4,623.7 L551.4,624.1 L551.7,624.1 L551.7,626.7Z" fill="#74d3b2"/>
<rect x="429.6" y="627.2" width="122.1" height="1.6" fill="#c9c9c9"/>
<path d="M429.6,647.0 L429.6,646.9 L430.2,646.9 L430.2,646.8 L430.8,646.8 L430.8,646.8 L431.4,646.8 L431.4,646.9 L432.0,646.9 L432.0,646.8 L432.6,646.8 L432.6,646.9 L433.2,646.9 L433.2,646.8 L433.8,646.8 L433.8,646.8 L434.4,646.8 L434.4,646.9 L435.0,646.9 L435.0,646.8 L435.6,646.8 L435.6,646.8 L436.2,646.8 L436.2,646.9 L436.8,646.9 L436.8,646.9 L437.4,646.9 L437.4,646.9 L438.0,646.9 L438.0,646.9 L438.6,646.9 L438.6,646.8 L439.2,646.8 L439.2,646.8 L439.8,646.8 L439.8,646.8 L440.4,646.8 L440.4,646.8 L441.0,646.8 L441.0,646.8 L441.6,646.8 L441.6,646.8 L442.2,646.8 L442.2,646.8 L442.8,646.8 L442.8,646.8 L443.4,646.8 L443.4,646.8 L444.0,646.8 L444.0,646.8 L444.6,646.8 L444.6,646.8 L445.2,646.8 L445.2,646.8 L445.8,646.8 L445.8,646.6 L446.4,646.6 L446.4,646.9 L447.0,646.9 L447.0,646.9 L447.6,646.9 L447.6,646.9 L448.2,646.9 L448.2,646.8 L448.8,646.8 L448.8,646.8 L449.4,646.8 L449.4,646.7 L450.0,646.7 L450.0,646.8 L450.6,646.8 L450.6,646.9 L451.2,646.9 L451.2,646.7 L451.8,646.7 L451.8,646.4 L452.4,646.4 L452.4,646.9 L453.0,646.9 L453.0,646.5 L453.6,646.5 L453.6,646.8 L454.2,646.8 L454.2,646.9 L454.8,646.9 L454.8,646.5 L455.4,646.5 L455.4,646.7 L456.0,646.7 L456.0,646.9 L456.6,646.9 L456.6,646.8 L457.2,646.8 L457.2,646.8 L457.8,646.8 L457.8,646.9 L458.4,646.9 L458.4,646.5 L459.0,646.5 L459.0,646.8 L459.6,646.8 L459.6,646.8 L460.2,646.8 L460.2,646.8 L460.8,646.8 L460.8,646.9 L461.4,646.9 L461.4,646.8 L462.0,646.8 L462.0,646.8 L462.6,646.8 L462.6,646.9 L463.2,646.9 L463.2,646.9 L463.8,646.9 L463.8,646.9 L464.4,646.9 L464.4,646.8 L465.0,646.8 L465.0,646.9 L465.6,646.9 L465.6,646.8 L466.2,646.8 L466.2,646.8 L466.8,646.8 L466.8,646.7 L467.4,646.7 L467.4,646.9 L468.0,646.9 L468.0,646.9 L468.6,646.9 L468.6,646.9 L469.2,646.9 L469.2,646.9 L469.8,646.9 L469.8,646.8 L470.4,646.8 L470.4,646.9 L471.0,646.9 L471.0,646.7 L471.6,646.7 L471.6,646.8 L472.2,646.8 L472.2,646.8 L472.8,646.8 L472.8,646.5 L473.4,646.5 L473.4,646.8 L474.0,646.8 L474.0,646.9 L474.6,646.9 L474.6,646.8 L475.2,646.8 L475.2,646.9 L475.8,646.9 L475.8,646.9 L476.4,646.9 L476.4,646.9 L477.0,646.9 L477.0,646.9 L477.6,646.9 L477.6,646.8 L478.2,646.8 L478.2,646.9 L478.8,646.9 L478.8,646.8 L479.4,646.8 L479.4,646.9 L480.0,646.9 L480.0,646.8 L480.6,646.8 L480.6,646.8 L481.2,646.8 L481.2,646.8 L481.8,646.8 L481.8,646.9 L482.4,646.9 L482.4,646.8 L483.0,646.8 L483.0,646.8 L483.6,646.8 L483.6,646.9 L484.2,646.9 L484.2,646.8 L484.8,646.8 L484.8,646.8 L485.4,646.8 L485.4,646.9 L486.0,646.9 L486.0,646.9 L486.6,646.9 L486.6,646.8 L487.2,646.8 L487.2,646.8 L487.8,646.8 L487.8,646.8 L488.4,646.8 L488.4,646.9 L489.0,646.9 L489.0,646.9 L489.6,646.9 L489.6,646.8 L490.2,646.8 L490.2,646.8 L490.8,646.8 L490.8,646.9 L491.4,646.9 L491.4,646.8 L492.0,646.8 L492.0,646.9 L492.6,646.9 L492.6,646.8 L493.2,646.8 L493.2,646.8 L493.8,646.8 L493.8,646.9 L494.4,646.9 L494.4,646.8 L495.0,646.8 L495.0,646.8 L495.6,646.8 L495.6,646.8 L496.2,646.8 L496.2,646.8 L496.8,646.8 L496.8,646.8 L497.4,646.8 L497.4,646.8 L498.0,646.8 L498.0,646.9 L498.6,646.9 L498.6,646.8 L499.2,646.8 L499.2,646.8 L499.8,646.8 L499.8,646.9 L500.4,646.9 L500.4,646.9 L501.0,646.9 L501.0,646.8 L501.6,646.8 L501.6,646.9 L502.2,646.9 L502.2,646.8 L502.8,646.8 L502.8,646.8 L503.4,646.8 L503.4,646.9 L504.0,646.9 L504.0,646.9 L504.6,646.9 L504.6,646.8 L505.2,646.8 L505.2,646.8 L505.8,646.8 L505.8,646.9 L506.4,646.9 L506.4,646.9 L507.0,646.9 L507.0,646.8 L507.6,646.8 L507.6,646.8 L508.2,646.8 L508.2,646.9 L508.8,646.9 L508.8,646.8 L509.4,646.8 L509.4,646.8 L510.0,646.8 L510.0,646.9 L510.6,646.9 L510.6,646.8 L511.2,646.8 L511.2,646.8 L511.8,646.8 L511.8,646.9 L512.4,646.9 L512.4,646.9 L513.0,646.9 L513.0,646.9 L513.6,646.9 L513.6,646.5 L514.2,646.5 L514.2,646.8 L514.8,646.8 L514.8,646.9 L515.4,646.9 L515.4,646.9 L516.0,646.9 L516.0,646.9 L516.6,646.9 L516.6,646.8 L517.2,646.8 L517.2,646.9 L517.8,646.9 L517.8,646.9 L518.4,646.9 L518.4,646.9 L519.0,646.9 L519.0,646.8 L519.6,646.8 L519.6,646.8 L520.2,646.8 L520.2,646.8 L520.8,646.8 L520.8,646.8 L521.4,646.8 L521.4,646.8 L522.0,646.8 L522.0,646.6 L522.6,646.6 L522.6,646.8 L523.2,646.8 L523.2,646.9 L523.8,646.9 L523.8,646.8 L524.4,646.8 L524.4,646.9 L525.0,646.9 L525.0,646.9 L525.6,646.9 L525.6,646.8 L526.2,646.8 L526.2,646.7 L526.8,646.7 L526.8,646.8 L527.4,646.8 L527.4,646.9 L528.0,646.9 L528.0,646.9 L528.6,646.9 L528.6,646.8 L529.2,646.8 L529.2,646.8 L529.8,646.8 L529.8,646.8 L530.4,646.8 L530.4,646.8 L531.0,646.8 L531.0,646.9 L531.6,646.9 L531.6,646.8 L532.2,646.8 L532.2,646.8 L532.8,646.8 L532.8,646.6 L533.4,646.6 L533.4,646.8 L534.0,646.8 L534.0,646.8 L534.6,646.8 L534.6,646.8 L535.2,646.8 L535.2,645.9 L535.8,645.9 L535.8,642.5 L536.4,642.5 L536.4,639.0 L537.0,639.0 L537.0,641.0 L537.6,641.0 L537.6,645.1 L538.2,645.1 L538.2,646.5 L538.8,646.5 L538.8,645.3 L539.4,645.3 L539.4,641.3 L540.0,641.3 L540.0,640.1 L540.6,640.1 L540.6,644.2 L541.2,644.2 L541.2,646.6 L541.8,646.6 L541.8,646.8 L542.4,646.8 L542.4,646.9 L543.0,646.9 L543.0,646.6 L543.6,646.6 L543.6,646.4 L544.2,646.4 L544.2,645.9 L544.8,645.9 L544.8,645.6 L545.4,645.6 L545.4,645.7 L546.0,645.7 L546.0,646.1 L546.6,646.1 L546.6,646.5 L547.2,646.5 L547.2,646.7 L547.8,646.7 L547.8,646.9 L548.4,646.9 L548.4,646.9 L549.0,646.9 L549.0,646.9 L549.6,646.9 L549.6,646.9 L550.2,646.9 L550.2,646.9 L550.8,646.9 L550.8,646.8 L551.4,646.8 L551.4,646.9 L551.7,646.9 L551.7,647.0Z" fill="#8a8a8a"/>
<rect x="429.6" y="647.5" width="122.1" height="1.6" fill="#aaaaaa"/>
<path d="M429.6,666.8 L429.6,666.7 L430.2,666.7 L430.2,666.7 L430.8,666.7 L430.8,666.6 L431.4,666.6 L431.4,666.7 L432.0,666.7 L432.0,666.7 L432.6,666.7 L432.6,666.6 L433.2,666.6 L433.2,666.6 L433.8,666.6 L433.8,666.6 L434.4,666.6 L434.4,666.6 L435.0,666.6 L435.0,666.7 L435.6,666.7 L435.6,666.7 L436.2,666.7 L436.2,666.6 L436.8,666.6 L436.8,666.7 L437.4,666.7 L437.4,666.7 L438.0,666.7 L438.0,666.7 L438.6,666.7 L438.6,666.6 L439.2,666.6 L439.2,666.6 L439.8,666.6 L439.8,666.7 L440.4,666.7 L440.4,666.6 L441.0,666.6 L441.0,666.6 L441.6,666.6 L441.6,666.7 L442.2,666.7 L442.2,666.7 L442.8,666.7 L442.8,666.7 L443.4,666.7 L443.4,666.6 L444.0,666.6 L444.0,666.6 L444.6,666.6 L444.6,666.6 L445.2,666.6 L445.2,666.6 L445.8,666.6 L445.8,666.7 L446.4,666.7 L446.4,666.6 L447.0,666.6 L447.0,666.6 L447.6,666.6 L447.6,666.5 L448.2,666.5 L448.2,666.6 L448.8,666.6 L448.8,666.6 L449.4,666.6 L449.4,666.7 L450.0,666.7 L450.0,666.6 L450.6,666.6 L450.6,666.7 L451.2,666.7 L451.2,666.6 L451.8,666.6 L451.8,666.6 L452.4,666.6 L452.4,666.6 L453.0,666.6 L453.0,666.7 L453.6,666.7 L453.6,666.7 L454.2,666.7 L454.2,666.6 L454.8,666.6 L454.8,666.3 L455.4,666.3 L455.4,666.6 L456.0,666.6 L456.0,666.7 L456.6,666.7 L456.6,666.4 L457.2,666.4 L457.2,666.7 L457.8,666.7 L457.8,666.6 L458.4,666.6 L458.4,666.6 L459.0,666.6 L459.0,666.6 L459.6,666.6 L459.6,666.7 L460.2,666.7 L460.2,666.7 L460.8,666.7 L460.8,666.6 L461.4,666.6 L461.4,666.6 L462.0,666.6 L462.0,666.7 L462.6,666.7 L462.6,666.6 L463.2,666.6 L463.2,666.6 L463.8,666.6 L463.8,666.7 L464.4,666.7 L464.4,666.6 L465.0,666.6 L465.0,666.7 L465.6,666.7 L465.6,666.6 L466.2,666.6 L466.2,666.7 L466.8,666.7 L466.8,666.7 L467.4,666.7 L467.4,666.6 L468.0,666.6 L468.0,666.7 L468.6,666.7 L468.6,666.6 L469.2,666.6 L469.2,666.6 L469.8,666.6 L469.8,666.7 L470.4,666.7 L470.4,666.7 L471.0,666.7 L471.0,666.7 L471.6,666.7 L471.6,666.6 L472.2,666.6 L472.2,666.7 L472.8,666.7 L472.8,666.7 L473.4,666.7 L473.4,666.6 L474.0,666.6 L474.0,666.7 L474.6,666.7 L474.6,666.7 L475.2,666.7 L475.2,666.6 L475.8,666.6 L475.8,666.7 L476.4,666.7 L476.4,666.6 L477.0,666.6 L477.0,666.7 L477.6,666.7 L477.6,666.7 L478.2,666.7 L478.2,666.5 L478.8,666.5 L478.8,666.7 L479.4,666.7 L479.4,666.6 L480.0,666.6 L480.0,666.7 L480.6,666.7 L480.6,666.6 L481.2,666.6 L481.2,666.7 L481.8,666.7 L481.8,666.7 L482.4,666.7 L482.4,666.6 L483.0,666.6 L483.0,666.3 L483.6,666.3 L483.6,666.6 L484.2,666.6 L484.2,666.7 L484.8,666.7 L484.8,666.7 L485.4,666.7 L485.4,666.7 L486.0,666.7 L486.0,666.6 L486.6,666.6 L486.6,666.6 L487.2,666.6 L487.2,666.6 L487.8,666.6 L487.8,666.7 L488.4,666.7 L488.4,666.6 L489.0,666.6 L489.0,666.7 L489.6,666.7 L489.6,666.6 L490.2,666.6 L490.2,666.6 L490.8,666.6 L490.8,666.2 L491.4,666.2 L491.4,666.6 L492.0,666.6 L492.0,666.7 L492.6,666.7 L492.6,666.6 L493.2,666.6 L493.2,666.7 L493.8,666.7 L493.8,666.6 L494.4,666.6 L494.4,666.6 L495.0,666.6 L495.0,666.7 L495.6,666.7 L495.6,666.7 L496.2,666.7 L496.2,666.6 L496.8,666.6 L496.8,666.7 L497.4,666.7 L497.4,666.6 L498.0,666.6 L498.0,666.5 L498.6,666.5 L498.6,666.7 L499.2,666.7 L499.2,666.6 L499.8,666.6 L499.8,666.6 L500.4,666.6 L500.4,666.6 L501.0,666.6 L501.0,666.7 L501.6,666.7 L501.6,666.6 L502.2,666.6 L502.2,666.7 L502.8,666.7 L502.8,666.6 L503.4,666.6 L503.4,666.7 L504.0,666.7 L504.0,666.7 L504.6,666.7 L504.6,666.7 L505.2,666.7 L505.2,666.6 L505.8,666.6 L505.8,666.6 L506.4,666.6 L506.4,666.7 L507.0,666.7 L507.0,666.6 L507.6,666.6 L507.6,666.6 L508.2,666.6 L508.2,666.7 L508.8,666.7 L508.8,666.6 L509.4,666.6 L509.4,666.5 L510.0,666.5 L510.0,666.7 L510.6,666.7 L510.6,666.7 L511.2,666.7 L511.2,666.7 L511.8,666.7 L511.8,666.6 L512.4,666.6 L512.4,666.7 L513.0,666.7 L513.0,666.7 L513.6,666.7 L513.6,666.6 L514.2,666.6 L514.2,666.7 L514.8,666.7 L514.8,666.7 L515.4,666.7 L515.4,666.7 L516.0,666.7 L516.0,666.7 L516.6,666.7 L516.6,666.7 L517.2,666.7 L517.2,666.7 L517.8,666.7 L517.8,666.7 L518.4,666.7 L518.4,666.7 L519.0,666.7 L519.0,666.6 L519.6,666.6 L519.6,666.6 L520.2,666.6 L520.2,666.7 L520.8,666.7 L520.8,666.4 L521.4,666.4 L521.4,666.7 L522.0,666.7 L522.0,666.6 L522.6,666.6 L522.6,666.6 L523.2,666.6 L523.2,666.7 L523.8,666.7 L523.8,666.7 L524.4,666.7 L524.4,666.6 L525.0,666.6 L525.0,666.6 L525.6,666.6 L525.6,666.7 L526.2,666.7 L526.2,666.6 L526.8,666.6 L526.8,666.6 L527.4,666.6 L527.4,666.6 L528.0,666.6 L528.0,666.6 L528.6,666.6 L528.6,666.6 L529.2,666.6 L529.2,666.7 L529.8,666.7 L529.8,666.6 L530.4,666.6 L530.4,666.6 L531.0,666.6 L531.0,666.6 L531.6,666.6 L531.6,666.5 L532.2,666.5 L532.2,666.6 L532.8,666.6 L532.8,666.7 L533.4,666.7 L533.4,666.3 L534.0,666.3 L534.0,666.6 L534.6,666.6 L534.6,666.5 L535.2,666.5 L535.2,665.7 L535.8,665.7 L535.8,662.2 L536.4,662.2 L536.4,658.8 L537.0,658.8 L537.0,660.8 L537.6,660.8 L537.6,664.9 L538.2,664.9 L538.2,666.3 L538.8,666.3 L538.8,665.1 L539.4,665.1 L539.4,660.6 L540.0,660.6 L540.0,659.8 L540.6,659.8 L540.6,664.0 L541.2,664.0 L541.2,666.3 L541.8,666.3 L541.8,666.6 L542.4,666.6 L542.4,666.5 L543.0,666.5 L543.0,666.4 L543.6,666.4 L543.6,666.1 L544.2,666.1 L544.2,665.8 L544.8,665.8 L544.8,665.4 L545.4,665.4 L545.4,665.6 L546.0,665.6 L546.0,665.9 L546.6,665.9 L546.6,666.3 L547.2,666.3 L547.2,666.6 L547.8,666.6 L547.8,666.7 L548.4,666.7 L548.4,666.7 L549.0,666.7 L549.0,666.7 L549.6,666.7 L549.6,666.7 L550.2,666.7 L550.2,666.7 L550.8,666.7 L550.8,666.5 L551.4,666.5 L551.4,666.7 L551.7,666.7 L551.7,666.8Z" fill="#8a8a8a"/>
<rect x="429.6" y="667.3" width="122.1" height="1.6" fill="#aaaaaa"/>
<path d="M429.6,686.6 L429.6,686.4 L430.2,686.4 L430.2,686.5 L430.8,686.5 L430.8,686.4 L431.4,686.4 L431.4,686.5 L432.0,686.5 L432.0,686.5 L432.6,686.5 L432.6,686.5 L433.2,686.5 L433.2,686.4 L433.8,686.4 L433.8,686.4 L434.4,686.4 L434.4,686.5 L435.0,686.5 L435.0,686.5 L435.6,686.5 L435.6,686.3 L436.2,686.3 L436.2,686.5 L436.8,686.5 L436.8,686.4 L437.4,686.4 L437.4,686.5 L438.0,686.5 L438.0,686.4 L438.6,686.4 L438.6,686.5 L439.2,686.5 L439.2,686.5 L439.8,686.5 L439.8,686.5 L440.4,686.5 L440.4,686.5 L441.0,686.5 L441.0,686.5 L441.6,686.5 L441.6,686.5 L442.2,686.5 L442.2,686.5 L442.8,686.5 L442.8,686.4 L443.4,686.4 L443.4,686.5 L444.0,686.5 L444.0,686.5 L444.6,686.5 L444.6,686.5 L445.2,686.5 L445.2,686.4 L445.8,686.4 L445.8,686.5 L446.4,686.5 L446.4,686.5 L447.0,686.5 L447.0,686.4 L447.6,686.4 L447.6,686.5 L448.2,686.5 L448.2,686.4 L448.8,686.4 L448.8,686.4 L449.4,686.4 L449.4,686.4 L450.0,686.4 L450.0,686.4 L450.6,686.4 L450.6,686.4 L451.2,686.4 L451.2,686.4 L451.8,686.4 L451.8,686.5 L452.4,686.5 L452.4,686.4 L453.0,686.4 L453.0,686.4 L453.6,686.4 L453.6,686.4 L454.2,686.4 L454.2,686.4 L454.8,686.4 L454.8,686.4 L455.4,686.4 L455.4,686.2 L456.0,686.2 L456.0,686.4 L456.6,686.4 L456.6,686.5 L457.2,686.5 L457.2,686.4 L457.8,686.4 L457.8,686.5 L458.4,686.5 L458.4,686.5 L459.0,686.5 L459.0,686.4 L459.6,686.4 L459.6,686.4 L460.2,686.4 L460.2,686.4 L460.8,686.4 L460.8,686.2 L461.4,686.2 L461.4,686.4 L462.0,686.4 L462.0,686.3 L462.6,686.3 L462.6,686.4 L463.2,686.4 L463.2,686.4 L463.8,686.4 L463.8,686.4 L464.4,686.4 L464.4,686.5 L465.0,686.5 L465.0,686.4 L465.6,686.4 L465.6,686.5 L466.2,686.5 L466.2,686.5 L466.8,686.5 L466.8,686.4 L467.4,686.4 L467.4,686.5 L468.0,686.5 L468.0,686.4 L468.6,686.4 L468.6,686.4 L469.2,686.4 L469.2,686.5 L469.8,686.5 L469.8,686.4 L470.4,686.4 L470.4,686.4 L471.0,686.4 L471.0,686.4 L471.6,686.4 L471.6,686.5 L472.2,686.5 L472.2,686.5 L472.8,686.5 L472.8,686.4 L473.4,686.4 L473.4,686.5 L474.0,686.5 L474.0,686.4 L474.6,686.4 L474.6,686.5 L475.2,686.5 L475.2,686.4 L475.8,686.4 L475.8,686.5 L476.4,686.5 L476.4,686.5 L477.0,686.5 L477.0,686.5 L477.6,686.5 L477.6,686.4 L478.2,686.4 L478.2,686.5 L478.8,686.5 L478.8,686.4 L479.4,686.4 L479.4,686.4 L480.0,686.4 L480.0,686.5 L480.6,686.5 L480.6,686.4 L481.2,686.4 L481.2,686.5 L481.8,686.5 L481.8,686.4 L482.4,686.4 L482.4,686.4 L483.0,686.4 L483.0,686.5 L483.6,686.5 L483.6,686.5 L484.2,686.5 L484.2,686.5 L484.8,686.5 L484.8,686.4 L485.4,686.4 L485.4,686.4 L486.0,686.4 L486.0,686.4 L486.6,686.4 L486.6,686.5 L487.2,686.5 L487.2,686.4 L487.8,686.4 L487.8,686.4 L488.4,686.4 L488.4,686.4 L489.0,686.4 L489.0,686.4 L489.6,686.4 L489.6,686.4 L490.2,686.4 L490.2,686.4 L490.8,686.4 L490.8,686.5 L491.4,686.5 L491.4,686.5 L492.0,686.5 L492.0,686.4 L492.6,686.4 L492.6,686.5 L493.2,686.5 L493.2,686.4 L493.8,686.4 L493.8,686.5 L494.4,686.5 L494.4,686.5 L495.0,686.5 L495.0,686.4 L495.6,686.4 L495.6,686.5 L496.2,686.5 L496.2,686.4 L496.8,686.4 L496.8,686.5 L497.4,686.5 L497.4,686.4 L498.0,686.4 L498.0,686.5 L498.6,686.5 L498.6,686.5 L499.2,686.5 L499.2,686.5 L499.8,686.5 L499.8,686.4 L500.4,686.4 L500.4,686.5 L501.0,686.5 L501.0,686.5 L501.6,686.5 L501.6,686.5 L502.2,686.5 L502.2,686.4 L502.8,686.4 L502.8,686.5 L503.4,686.5 L503.4,686.5 L504.0,686.5 L504.0,686.4 L504.6,686.4 L504.6,686.5 L505.2,686.5 L505.2,686.4 L505.8,686.4 L505.8,686.5 L506.4,686.5 L506.4,686.4 L507.0,686.4 L507.0,686.4 L507.6,686.4 L507.6,686.4 L508.2,686.4 L508.2,686.5 L508.8,686.5 L508.8,686.5 L509.4,686.5 L509.4,686.5 L510.0,686.5 L510.0,686.5 L510.6,686.5 L510.6,686.3 L511.2,686.3 L511.2,686.4 L511.8,686.4 L511.8,686.4 L512.4,686.4 L512.4,686.4 L513.0,686.4 L513.0,686.5 L513.6,686.5 L513.6,686.5 L514.2,686.5 L514.2,686.4 L514.8,686.4 L514.8,686.4 L515.4,686.4 L515.4,686.1 L516.0,686.1 L516.0,686.5 L516.6,686.5 L516.6,686.4 L517.2,686.4 L517.2,686.4 L517.8,686.4 L517.8,686.4 L518.4,686.4 L518.4,686.5 L519.0,686.5 L519.0,686.5 L519.6,686.5 L519.6,686.5 L520.2,686.5 L520.2,686.5 L520.8,686.5 L520.8,686.5 L521.4,686.5 L521.4,686.5 L522.0,686.5 L522.0,686.4 L522.6,686.4 L522.6,686.5 L523.2,686.5 L523.2,686.5 L523.8,686.5 L523.8,686.5 L524.4,686.5 L524.4,686.5 L525.0,686.5 L525.0,686.4 L525.6,686.4 L525.6,686.4 L526.2,686.4 L526.2,686.5 L526.8,686.5 L526.8,686.5 L527.4,686.5 L527.4,686.5 L528.0,686.5 L528.0,686.4 L528.6,686.4 L528.6,686.4 L529.2,686.4 L529.2,686.5 L529.8,686.5 L529.8,686.5 L530.4,686.5 L530.4,686.5 L531.0,686.5 L531.0,686.5 L531.6,686.5 L531.6,686.5 L532.2,686.5 L532.2,686.4 L532.8,686.4 L532.8,686.5 L533.4,686.5 L533.4,686.5 L534.0,686.5 L534.0,686.5 L534.6,686.5 L534.6,686.4 L535.2,686.4 L535.2,686.1 L535.8,686.1 L535.8,684.9 L536.4,684.9 L536.4,683.5 L537.0,683.5 L537.0,684.2 L537.6,684.2 L537.6,685.8 L538.2,685.8 L538.2,686.3 L538.8,686.3 L538.8,685.8 L539.4,685.8 L539.4,684.3 L540.0,684.3 L540.0,683.9 L540.6,683.9 L540.6,685.5 L541.2,685.5 L541.2,686.4 L541.8,686.4 L541.8,686.5 L542.4,686.5 L542.4,686.5 L543.0,686.5 L543.0,686.0 L543.6,686.0 L543.6,686.2 L544.2,686.2 L544.2,686.0 L544.8,686.0 L544.8,685.9 L545.4,685.9 L545.4,685.9 L546.0,685.9 L546.0,686.1 L546.6,686.1 L546.6,686.3 L547.2,686.3 L547.2,686.3 L547.8,686.3 L547.8,686.4 L548.4,686.4 L548.4,686.4 L549.0,686.4 L549.0,686.5 L549.6,686.5 L549.6,686.5 L550.2,686.5 L550.2,686.4 L550.8,686.4 L550.8,686.4 L551.4,686.4 L551.4,686.4 L551.7,686.4 L551.7,686.6Z" fill="#b5d86a"/>
<rect x="429.6" y="687.1" width="122.1" height="1.6" fill="#aaaaaa"/>
<path d="M429.6,706.2 L429.6,706.1 L430.2,706.1 L430.2,706.0 L430.8,706.0 L430.8,706.0 L431.4,706.0 L431.4,706.0 L432.0,706.0 L432.0,706.0 L432.6,706.0 L432.6,706.1 L433.2,706.1 L433.2,706.0 L433.8,706.0 L433.8,706.0 L434.4,706.0 L434.4,706.1 L435.0,706.1 L435.0,706.1 L435.6,706.1 L435.6,706.0 L436.2,706.0 L436.2,706.1 L436.8,706.1 L436.8,706.1 L437.4,706.1 L437.4,706.1 L438.0,706.1 L438.0,706.1 L438.6,706.1 L438.6,706.1 L439.2,706.1 L439.2,706.1 L439.8,706.1 L439.8,706.0 L440.4,706.0 L440.4,706.1 L441.0,706.1 L441.0,706.1 L441.6,706.1 L441.6,706.1 L442.2,706.1 L442.2,706.1 L442.8,706.1 L442.8,706.1 L443.4,706.1 L443.4,706.1 L444.0,706.1 L444.0,706.1 L444.6,706.1 L444.6,706.0 L445.2,706.0 L445.2,706.1 L445.8,706.1 L445.8,706.1 L446.4,706.1 L446.4,706.0 L447.0,706.0 L447.0,706.0 L447.6,706.0 L447.6,706.0 L448.2,706.0 L448.2,706.0 L448.8,706.0 L448.8,706.0 L449.4,706.0 L449.4,706.0 L450.0,706.0 L450.0,706.0 L450.6,706.0 L450.6,706.0 L451.2,706.0 L451.2,706.1 L451.8,706.1 L451.8,705.7 L452.4,705.7 L452.4,706.0 L453.0,706.0 L453.0,706.1 L453.6,706.1 L453.6,706.1 L454.2,706.1 L454.2,706.0 L454.8,706.0 L454.8,706.1 L455.4,706.1 L455.4,706.0 L456.0,706.0 L456.0,706.0 L456.6,706.0 L456.6,706.1 L457.2,706.1 L457.2,706.0 L457.8,706.0 L457.8,706.0 L458.4,706.0 L458.4,706.0 L459.0,706.0 L459.0,706.1 L459.6,706.1 L459.6,706.1 L460.2,706.1 L460.2,705.7 L460.8,705.7 L460.8,706.1 L461.4,706.1 L461.4,706.1 L462.0,706.1 L462.0,706.1 L462.6,706.1 L462.6,706.1 L463.2,706.1 L463.2,706.1 L463.8,706.1 L463.8,706.1 L464.4,706.1 L464.4,706.0 L465.0,706.0 L465.0,706.0 L465.6,706.0 L465.6,706.0 L466.2,706.0 L466.2,706.1 L466.8,706.1 L466.8,706.0 L467.4,706.0 L467.4,706.0 L468.0,706.0 L468.0,706.1 L468.6,706.1 L468.6,706.0 L469.2,706.0 L469.2,706.1 L469.8,706.1 L469.8,706.0 L470.4,706.0 L470.4,706.0 L471.0,706.0 L471.0,706.0 L471.6,706.0 L471.6,706.1 L472.2,706.1 L472.2,706.1 L472.8,706.1 L472.8,706.1 L473.4,706.1 L473.4,706.1 L474.0,706.1 L474.0,706.1 L474.6,706.1 L474.6,706.1 L475.2,706.1 L475.2,706.0 L475.8,706.0 L475.8,706.0 L476.4,706.0 L476.4,706.0 L477.0,706.0 L477.0,706.1 L477.6,706.1 L477.6,706.0 L478.2,706.0 L478.2,706.1 L478.8,706.1 L478.8,706.0 L479.4,706.0 L479.4,706.1 L480.0,706.1 L480.0,706.0 L480.6,706.0 L480.6,706.0 L481.2,706.0 L481.2,706.1 L481.8,706.1 L481.8,706.1 L482.4,706.1 L482.4,706.1 L483.0,706.1 L483.0,706.1 L483.6,706.1 L483.6,706.0 L484.2,706.0 L484.2,706.1 L484.8,706.1 L484.8,705.6 L485.4,705.6 L485.4,706.1 L486.0,706.1 L486.0,706.1 L486.6,706.1 L486.6,705.8 L487.2,705.8 L487.2,706.0 L487.8,706.0 L487.8,706.0 L488.4,706.0 L488.4,706.0 L489.0,706.0 L489.0,705.9 L489.6,705.9 L489.6,706.0 L490.2,706.0 L490.2,706.0 L490.8,706.0 L490.8,706.0 L491.4,706.0 L491.4,706.0 L492.0,706.0 L492.0,706.0 L492.6,706.0 L492.6,706.0 L493.2,706.0 L493.2,706.1 L493.8,706.1 L493.8,706.0 L494.4,706.0 L494.4,705.9 L495.0,705.9 L495.0,706.0 L495.6,706.0 L495.6,706.1 L496.2,706.1 L496.2,706.0 L496.8,706.0 L496.8,705.9 L497.4,705.9 L497.4,706.0 L498.0,706.0 L498.0,706.1 L498.6,706.1 L498.6,706.0 L499.2,706.0 L499.2,706.1 L499.8,706.1 L499.8,706.1 L500.4,706.1 L500.4,706.0 L501.0,706.0 L501.0,705.9 L501.6,705.9 L501.6,706.0 L502.2,706.0 L502.2,706.1 L502.8,706.1 L502.8,706.0 L503.4,706.0 L503.4,706.1 L504.0,706.1 L504.0,706.1 L504.6,706.1 L504.6,706.0 L505.2,706.0 L505.2,705.8 L505.8,705.8 L505.8,706.0 L506.4,706.0 L506.4,706.0 L507.0,706.0 L507.0,706.1 L507.6,706.1 L507.6,705.9 L508.2,705.9 L508.2,706.0 L508.8,706.0 L508.8,706.0 L509.4,706.0 L509.4,706.0 L510.0,706.0 L510.0,706.1 L510.6,706.1 L510.6,706.0 L511.2,706.0 L511.2,706.0 L511.8,706.0 L511.8,706.0 L512.4,706.0 L512.4,706.0 L513.0,706.0 L513.0,706.1 L513.6,706.1 L513.6,706.1 L514.2,706.1 L514.2,706.0 L514.8,706.0 L514.8,706.0 L515.4,706.0 L515.4,706.0 L516.0,706.0 L516.0,706.1 L516.6,706.1 L516.6,706.0 L517.2,706.0 L517.2,706.0 L517.8,706.0 L517.8,706.0 L518.4,706.0 L518.4,706.0 L519.0,706.0 L519.0,706.0 L519.6,706.0 L519.6,705.9 L520.2,705.9 L520.2,706.0 L520.8,706.0 L520.8,706.1 L521.4,706.1 L521.4,706.0 L522.0,706.0 L522.0,706.0 L522.6,706.0 L522.6,706.1 L523.2,706.1 L523.2,706.0 L523.8,706.0 L523.8,706.0 L524.4,706.0 L524.4,706.1 L525.0,706.1 L525.0,706.0 L525.6,706.0 L525.6,706.0 L526.2,706.0 L526.2,706.1 L526.8,706.1 L526.8,706.1 L527.4,706.1 L527.4,706.0 L528.0,706.0 L528.0,706.0 L528.6,706.0 L528.6,706.1 L529.2,706.1 L529.2,706.0 L529.8,706.0 L529.8,706.0 L530.4,706.0 L530.4,706.1 L531.0,706.1 L531.0,706.0 L531.6,706.0 L531.6,706.0 L532.2,706.0 L532.2,705.8 L532.8,705.8 L532.8,706.1 L533.4,706.1 L533.4,706.1 L534.0,706.1 L534.0,706.1 L534.6,706.1 L534.6,706.0 L535.2,706.0 L535.2,705.7 L535.8,705.7 L535.8,704.4 L536.4,704.4 L536.4,702.7 L537.0,702.7 L537.0,703.8 L537.6,703.8 L537.6,705.4 L538.2,705.4 L538.2,705.9 L538.8,705.9 L538.8,705.4 L539.4,705.4 L539.4,703.9 L540.0,703.9 L540.0,703.5 L540.6,703.5 L540.6,705.1 L541.2,705.1 L541.2,705.9 L541.8,705.9 L541.8,706.0 L542.4,706.0 L542.4,706.0 L543.0,706.0 L543.0,706.0 L543.6,706.0 L543.6,705.9 L544.2,705.9 L544.2,705.6 L544.8,705.6 L544.8,705.5 L545.4,705.5 L545.4,705.5 L546.0,705.5 L546.0,705.7 L546.6,705.7 L546.6,705.7 L547.2,705.7 L547.2,706.0 L547.8,706.0 L547.8,706.0 L548.4,706.0 L548.4,706.0 L549.0,706.0 L549.0,706.0 L549.6,706.0 L549.6,706.0 L550.2,706.0 L550.2,706.1 L550.8,706.1 L550.8,706.1 L551.4,706.1 L551.4,706.0 L551.7,706.0 L551.7,706.2Z" fill="#b5d86a"/>
<rect x="429.6" y="706.7" width="122.1" height="1.6" fill="#aaaaaa"/>
<path d="M559.0,566.4 L559.0,564.9 L559.7,564.9 L559.7,564.9 L560.4,564.9 L560.4,564.7 L561.1,564.7 L561.1,564.5 L561.8,564.5 L561.8,564.4 L562.5,564.4 L562.5,564.4 L563.2,564.4 L563.2,564.3 L563.9,564.3 L563.9,564.2 L564.6,564.2 L564.6,564.1 L565.3,564.1 L565.3,563.9 L566.0,563.9 L566.0,563.8 L566.7,563.8 L566.7,563.6 L567.4,563.6 L567.4,563.3 L568.1,563.3 L568.1,563.1 L568.8,563.1 L568.8,563.3 L569.5,563.3 L569.5,563.2 L570.2,563.2 L570.2,563.1 L570.9,563.1 L570.9,563.2 L571.6,563.2 L571.6,563.2 L572.3,563.2 L572.3,562.8 L573.0,562.8 L573.0,563.4 L573.7,563.4 L573.7,563.6 L574.4,563.6 L574.4,563.7 L575.1,563.7 L575.1,563.7 L575.8,563.7 L575.8,563.7 L576.5,563.7 L576.5,563.8 L577.2,563.8 L577.2,564.2 L577.9,564.2 L577.9,564.5 L578.6,564.5 L578.6,564.6 L579.3,564.6 L579.3,564.4 L580.0,564.4 L580.0,564.3 L580.7,564.3 L580.7,564.5 L581.4,564.5 L581.4,564.2 L582.1,564.2 L582.1,564.2 L582.8,564.2 L582.8,564.0 L583.5,564.0 L583.5,564.1 L584.2,564.1 L584.2,564.2 L584.9,564.2 L584.9,564.1 L585.6,564.1 L585.6,564.1 L586.3,564.1 L586.3,564.0 L587.0,564.0 L587.0,563.9 L587.7,563.9 L587.7,564.0 L588.4,564.0 L588.4,563.9 L589.1,563.9 L589.1,563.9 L589.8,563.9 L589.8,564.1 L590.5,564.1 L590.5,564.0 L591.2,564.0 L591.2,564.0 L591.9,564.0 L591.9,564.0 L592.6,564.0 L592.6,564.1 L593.3,564.1 L593.3,564.2 L594.0,564.2 L594.0,564.3 L594.7,564.3 L594.7,564.5 L595.4,564.5 L595.4,564.6 L596.1,564.6 L596.1,564.6 L596.8,564.6 L596.8,564.6 L597.5,564.6 L597.5,564.7 L598.2,564.7 L598.2,564.7 L598.9,564.7 L598.9,564.8 L599.6,564.8 L599.6,564.9 L600.3,564.9 L600.3,564.9 L601.0,564.9 L601.0,564.7 L601.7,564.7 L601.7,564.6 L602.4,564.6 L602.4,564.5 L603.1,564.5 L603.1,564.4 L603.8,564.4 L603.8,564.2 L604.5,564.2 L604.5,564.3 L605.2,564.3 L605.2,564.2 L605.9,564.2 L605.9,564.1 L606.6,564.1 L606.6,564.0 L607.3,564.0 L607.3,564.1 L608.0,564.1 L608.0,564.0 L608.7,564.0 L608.7,563.9 L609.4,563.9 L609.4,564.0 L610.1,564.0 L610.1,564.0 L610.8,564.0 L610.8,563.8 L611.5,563.8 L611.5,563.7 L612.2,563.7 L612.2,563.8 L612.9,563.8 L612.9,563.8 L613.6,563.8 L613.6,563.6 L614.3,563.6 L614.3,563.6 L615.0,563.6 L615.0,563.6 L615.7,563.6 L615.7,563.6 L616.4,563.6 L616.4,563.6 L617.1,563.6 L617.1,563.5 L617.8,563.5 L617.8,563.5 L618.5,563.5 L618.5,563.5 L619.2,563.5 L619.2,563.5 L619.9,563.5 L619.9,563.6 L620.6,563.6 L620.6,563.6 L621.3,563.6 L621.3,563.5 L622.0,563.5 L622.0,563.6 L622.7,563.6 L622.7,563.5 L623.4,563.5 L623.4,563.6 L624.1,563.6 L624.1,563.6 L624.8,563.6 L624.8,563.6 L625.5,563.6 L625.5,563.3 L626.2,563.3 L626.2,563.3 L626.9,563.3 L626.9,563.1 L627.6,563.1 L627.6,563.2 L628.3,563.2 L628.3,563.0 L629.0,563.0 L629.0,563.1 L629.7,563.1 L629.7,562.9 L630.4,562.9 L630.4,563.0 L631.1,563.0 L631.1,563.1 L631.8,563.1 L631.8,563.0 L632.5,563.0 L632.5,562.9 L633.2,562.9 L633.2,562.9 L633.9,562.9 L633.9,562.7 L634.6,562.7 L634.6,562.6 L635.3,562.6 L635.3,562.9 L636.0,562.9 L636.0,562.7 L636.7,562.7 L636.7,562.4 L637.4,562.4 L637.4,562.2 L638.1,562.2 L638.1,562.4 L638.8,562.4 L638.8,562.5 L639.5,562.5 L639.5,562.5 L640.2,562.5 L640.2,562.5 L640.9,562.5 L640.9,562.4 L641.6,562.4 L641.6,562.3 L642.3,562.3 L642.3,561.9 L643.0,561.9 L643.0,561.7 L643.7,561.7 L643.7,561.0 L644.4,561.0 L644.4,561.0 L645.1,561.0 L645.1,560.8 L645.8,560.8 L645.8,560.8 L646.5,560.8 L646.5,560.8 L647.2,560.8 L647.2,560.9 L647.9,560.9 L647.9,560.5 L648.6,560.5 L648.6,560.2 L649.3,560.2 L649.3,559.9 L650.0,559.9 L650.0,560.1 L650.7,560.1 L650.7,560.2 L651.4,560.2 L651.4,559.6 L652.1,559.6 L652.1,559.1 L652.8,559.1 L652.8,558.6 L653.5,558.6 L653.5,558.1 L654.2,558.1 L654.2,557.3 L654.9,557.3 L654.9,556.9 L655.6,556.9 L655.6,557.0 L656.3,557.0 L656.3,556.7 L657.0,556.7 L657.0,556.6 L657.7,556.6 L657.7,555.8 L658.4,555.8 L658.4,555.9 L659.1,555.9 L659.1,554.7 L659.8,554.7 L659.8,554.1 L660.5,554.1 L660.5,553.5 L661.2,553.5 L661.2,553.9 L661.9,553.9 L661.9,554.5 L662.6,554.5 L662.6,555.5 L663.3,555.5 L663.3,556.0 L664.0,556.0 L664.0,556.7 L664.7,556.7 L664.7,557.4 L665.4,557.4 L665.4,557.9 L666.1,557.9 L666.1,558.3 L666.8,558.3 L666.8,558.6 L667.5,558.6 L667.5,559.2 L668.2,559.2 L668.2,559.8 L668.9,559.8 L668.9,560.1 L669.6,560.1 L669.6,560.9 L670.3,560.9 L670.3,561.7 L671.0,561.7 L671.0,562.6 L671.7,562.6 L671.7,562.8 L672.4,562.8 L672.4,563.1 L673.1,563.1 L673.1,563.5 L673.8,563.5 L673.8,563.5 L674.5,563.5 L674.5,563.5 L675.2,563.5 L675.2,563.4 L675.9,563.4 L675.9,563.4 L676.6,563.4 L676.6,563.4 L677.3,563.4 L677.3,563.6 L678.0,563.6 L678.0,563.5 L678.7,563.5 L678.7,563.6 L679.4,563.6 L679.4,563.7 L680.1,563.7 L680.1,563.6 L680.8,563.6 L680.8,564.0 L681.4,564.0 L681.4,566.4Z" fill="#6e6e6e"/>
<rect x="559.0" y="566.9" width="122.4" height="1.6" fill="#c9c9c9"/>
<path d="M559.0,586.9 L559.0,585.0 L559.7,585.0 L559.7,584.8 L560.4,584.8 L560.4,584.9 L561.1,584.9 L561.1,584.8 L561.8,584.8 L561.8,584.7 L562.5,584.7 L562.5,584.5 L563.2,584.5 L563.2,584.4 L563.9,584.4 L563.9,584.1 L564.6,584.1 L564.6,584.1 L565.3,584.1 L565.3,583.8 L566.0,583.8 L566.0,583.8 L566.7,583.8 L566.7,583.8 L567.4,583.8 L567.4,584.1 L568.1,584.1 L568.1,584.1 L568.8,584.1 L568.8,584.0 L569.5,584.0 L569.5,584.0 L570.2,584.0 L570.2,584.1 L570.9,584.1 L570.9,584.3 L571.6,584.3 L571.6,584.2 L572.3,584.2 L572.3,584.0 L573.0,584.0 L573.0,584.0 L573.7,584.0 L573.7,584.4 L574.4,584.4 L574.4,584.4 L575.1,584.4 L575.1,584.3 L575.8,584.3 L575.8,584.6 L576.5,584.6 L576.5,584.6 L577.2,584.6 L577.2,584.7 L577.9,584.7 L577.9,584.7 L578.6,584.7 L578.6,584.6 L579.3,584.6 L579.3,584.8 L580.0,584.8 L580.0,584.9 L580.7,584.9 L580.7,584.7 L581.4,584.7 L581.4,584.7 L582.1,584.7 L582.1,584.7 L582.8,584.7 L582.8,584.8 L583.5,584.8 L583.5,584.9 L584.2,584.9 L584.2,585.0 L584.9,585.0 L584.9,585.1 L585.6,585.1 L585.6,585.1 L586.3,585.1 L586.3,585.1 L587.0,585.1 L587.0,585.1 L587.7,585.1 L587.7,585.2 L588.4,585.2 L588.4,585.3 L589.1,585.3 L589.1,585.2 L589.8,585.2 L589.8,585.3 L590.5,585.3 L590.5,585.3 L591.2,585.3 L591.2,585.2 L591.9,585.2 L591.9,585.2 L592.6,585.2 L592.6,585.0 L593.3,585.0 L593.3,584.9 L594.0,584.9 L594.0,585.0 L594.7,585.0 L594.7,585.1 L595.4,585.1 L595.4,585.1 L596.1,585.1 L596.1,585.1 L596.8,585.1 L596.8,585.0 L597.5,585.0 L597.5,585.0 L598.2,585.0 L598.2,584.9 L598.9,584.9 L598.9,584.8 L599.6,584.8 L599.6,584.7 L600.3,584.7 L600.3,584.9 L601.0,584.9 L601.0,584.9 L601.7,584.9 L601.7,584.8 L602.4,584.8 L602.4,584.9 L603.1,584.9 L603.1,584.8 L603.8,584.8 L603.8,584.9 L604.5,584.9 L604.5,584.9 L605.2,584.9 L605.2,584.9 L605.9,584.9 L605.9,584.7 L606.6,584.7 L606.6,584.6 L607.3,584.6 L607.3,584.6 L608.0,584.6 L608.0,584.7 L608.7,584.7 L608.7,584.4 L609.4,584.4 L609.4,584.6 L610.1,584.6 L610.1,584.7 L610.8,584.7 L610.8,584.8 L611.5,584.8 L611.5,584.6 L612.2,584.6 L612.2,584.6 L612.9,584.6 L612.9,584.6 L613.6,584.6 L613.6,584.6 L614.3,584.6 L614.3,584.5 L615.0,584.5 L615.0,584.5 L615.7,584.5 L615.7,584.4 L616.4,584.4 L616.4,584.4 L617.1,584.4 L617.1,584.5 L617.8,584.5 L617.8,584.4 L618.5,584.4 L618.5,584.5 L619.2,584.5 L619.2,584.4 L619.9,584.4 L619.9,584.5 L620.6,584.5 L620.6,584.3 L621.3,584.3 L621.3,584.2 L622.0,584.2 L622.0,584.1 L622.7,584.1 L622.7,584.1 L623.4,584.1 L623.4,584.1 L624.1,584.1 L624.1,584.2 L624.8,584.2 L624.8,584.1 L625.5,584.1 L625.5,584.2 L626.2,584.2 L626.2,584.1 L626.9,584.1 L626.9,584.3 L627.6,584.3 L627.6,584.3 L628.3,584.3 L628.3,584.1 L629.0,584.1 L629.0,584.2 L629.7,584.2 L629.7,584.1 L630.4,584.1 L630.4,584.1 L631.1,584.1 L631.1,584.2 L631.8,584.2 L631.8,584.0 L632.5,584.0 L632.5,584.0 L633.2,584.0 L633.2,584.2 L633.9,584.2 L633.9,584.0 L634.6,584.0 L634.6,584.1 L635.3,584.1 L635.3,584.0 L636.0,584.0 L636.0,583.9 L636.7,583.9 L636.7,583.9 L637.4,583.9 L637.4,583.5 L638.1,583.5 L638.1,583.4 L638.8,583.4 L638.8,583.3 L639.5,583.3 L639.5,582.9 L640.2,582.9 L640.2,582.9 L640.9,582.9 L640.9,582.7 L641.6,582.7 L641.6,582.8 L642.3,582.8 L642.3,582.3 L643.0,582.3 L643.0,582.3 L643.7,582.3 L643.7,582.0 L644.4,582.0 L644.4,581.8 L645.1,581.8 L645.1,581.4 L645.8,581.4 L645.8,581.4 L646.5,581.4 L646.5,581.2 L647.2,581.2 L647.2,581.1 L647.9,581.1 L647.9,581.0 L648.6,581.0 L648.6,580.9 L649.3,580.9 L649.3,580.8 L650.0,580.8 L650.0,580.7 L650.7,580.7 L650.7,580.4 L651.4,580.4 L651.4,580.4 L652.1,580.4 L652.1,579.8 L652.8,579.8 L652.8,579.2 L653.5,579.2 L653.5,579.1 L654.2,579.1 L654.2,579.5 L654.9,579.5 L654.9,579.5 L655.6,579.5 L655.6,579.7 L656.3,579.7 L656.3,579.1 L657.0,579.1 L657.0,578.3 L657.7,578.3 L657.7,577.3 L658.4,577.3 L658.4,576.6 L659.1,576.6 L659.1,575.5 L659.8,575.5 L659.8,575.0 L660.5,575.0 L660.5,573.7 L661.2,573.7 L661.2,574.9 L661.9,574.9 L661.9,575.0 L662.6,575.0 L662.6,574.7 L663.3,574.7 L663.3,575.9 L664.0,575.9 L664.0,576.2 L664.7,576.2 L664.7,577.0 L665.4,577.0 L665.4,578.1 L666.1,578.1 L666.1,579.2 L666.8,579.2 L666.8,580.0 L667.5,580.0 L667.5,580.7 L668.2,580.7 L668.2,581.1 L668.9,581.1 L668.9,581.3 L669.6,581.3 L669.6,581.8 L670.3,581.8 L670.3,582.3 L671.0,582.3 L671.0,582.7 L671.7,582.7 L671.7,583.3 L672.4,583.3 L672.4,583.6 L673.1,583.6 L673.1,583.4 L673.8,583.4 L673.8,583.5 L674.5,583.5 L674.5,583.6 L675.2,583.6 L675.2,583.8 L675.9,583.8 L675.9,584.0 L676.6,584.0 L676.6,584.1 L677.3,584.1 L677.3,583.7 L678.0,583.7 L678.0,583.7 L678.7,583.7 L678.7,584.0 L679.4,584.0 L679.4,584.1 L680.1,584.1 L680.1,584.1 L680.8,584.1 L680.8,583.9 L681.4,583.9 L681.4,586.9Z" fill="#6e6e6e"/>
<rect x="559.0" y="587.4" width="122.4" height="1.6" fill="#c9c9c9"/>
<path d="M559.0,606.8 L559.0,604.7 L559.7,604.7 L559.7,604.6 L560.4,604.6 L560.4,604.7 L561.1,604.7 L561.1,604.6 L561.8,604.6 L561.8,604.5 L562.5,604.5 L562.5,604.3 L563.2,604.3 L563.2,604.3 L563.9,604.3 L563.9,604.1 L564.6,604.1 L564.6,604.0 L565.3,604.0 L565.3,604.0 L566.0,604.0 L566.0,603.8 L566.7,603.8 L566.7,603.7 L567.4,603.7 L567.4,603.5 L568.1,603.5 L568.1,603.3 L568.8,603.3 L568.8,603.1 L569.5,603.1 L569.5,602.9 L570.2,602.9 L570.2,602.6 L570.9,602.6 L570.9,603.0 L571.6,603.0 L571.6,603.6 L572.3,603.6 L572.3,603.9 L573.0,603.9 L573.0,604.0 L573.7,604.0 L573.7,604.3 L574.4,604.3 L574.4,604.5 L575.1,604.5 L575.1,604.8 L575.8,604.8 L575.8,604.9 L576.5,604.9 L576.5,605.1 L577.2,605.1 L577.2,605.1 L577.9,605.1 L577.9,605.0 L578.6,605.0 L578.6,605.1 L579.3,605.1 L579.3,605.1 L580.0,605.1 L580.0,605.1 L580.7,605.1 L580.7,605.2 L581.4,605.2 L581.4,605.2 L582.1,605.2 L582.1,605.2 L582.8,605.2 L582.8,605.2 L583.5,605.2 L583.5,605.1 L584.2,605.1 L584.2,605.3 L584.9,605.3 L584.9,605.3 L585.6,605.3 L585.6,605.2 L586.3,605.2 L586.3,605.1 L587.0,605.1 L587.0,605.0 L587.7,605.0 L587.7,605.0 L588.4,605.0 L588.4,604.9 L589.1,604.9 L589.1,604.9 L589.8,604.9 L589.8,604.9 L590.5,604.9 L590.5,604.9 L591.2,604.9 L591.2,604.8 L591.9,604.8 L591.9,604.8 L592.6,604.8 L592.6,604.6 L593.3,604.6 L593.3,604.7 L594.0,604.7 L594.0,604.5 L594.7,604.5 L594.7,604.6 L595.4,604.6 L595.4,604.5 L596.1,604.5 L596.1,604.4 L596.8,604.4 L596.8,604.5 L597.5,604.5 L597.5,604.5 L598.2,604.5 L598.2,604.5 L598.9,604.5 L598.9,604.5 L599.6,604.5 L599.6,604.4 L600.3,604.4 L600.3,604.1 L601.0,604.1 L601.0,603.9 L601.7,603.9 L601.7,603.9 L602.4,603.9 L602.4,603.7 L603.1,603.7 L603.1,603.7 L603.8,603.7 L603.8,603.9 L604.5,603.9 L604.5,603.9 L605.2,603.9 L605.2,604.1 L605.9,604.1 L605.9,604.2 L606.6,604.2 L606.6,604.3 L607.3,604.3 L607.3,604.1 L608.0,604.1 L608.0,604.2 L608.7,604.2 L608.7,604.2 L609.4,604.2 L609.4,604.2 L610.1,604.2 L610.1,604.0 L610.8,604.0 L610.8,604.2 L611.5,604.2 L611.5,604.1 L612.2,604.1 L612.2,604.2 L612.9,604.2 L612.9,604.1 L613.6,604.1 L613.6,604.1 L614.3,604.1 L614.3,604.1 L615.0,604.1 L615.0,604.1 L615.7,604.1 L615.7,604.0 L616.4,604.0 L616.4,604.1 L617.1,604.1 L617.1,604.0 L617.8,604.0 L617.8,604.0 L618.5,604.0 L618.5,604.2 L619.2,604.2 L619.2,604.0 L619.9,604.0 L619.9,603.7 L620.6,603.7 L620.6,603.6 L621.3,603.6 L621.3,603.7 L622.0,603.7 L622.0,603.5 L622.7,603.5 L622.7,603.6 L623.4,603.6 L623.4,603.5 L624.1,603.5 L624.1,603.5 L624.8,603.5 L624.8,603.5 L625.5,603.5 L625.5,603.7 L626.2,603.7 L626.2,603.6 L626.9,603.6 L626.9,603.7 L627.6,603.7 L627.6,603.5 L628.3,603.5 L628.3,603.4 L629.0,603.4 L629.0,603.5 L629.7,603.5 L629.7,603.5 L630.4,603.5 L630.4,603.1 L631.1,603.1 L631.1,603.2 L631.8,603.2 L631.8,603.5 L632.5,603.5 L632.5,603.5 L633.2,603.5 L633.2,602.9 L633.9,602.9 L633.9,602.8 L634.6,602.8 L634.6,603.0 L635.3,603.0 L635.3,602.8 L636.0,602.8 L636.0,602.6 L636.7,602.6 L636.7,602.4 L637.4,602.4 L637.4,602.5 L638.1,602.5 L638.1,602.1 L638.8,602.1 L638.8,601.9 L639.5,601.9 L639.5,602.0 L640.2,602.0 L640.2,601.7 L640.9,601.7 L640.9,601.2 L641.6,601.2 L641.6,601.2 L642.3,601.2 L642.3,600.7 L643.0,600.7 L643.0,600.4 L643.7,600.4 L643.7,599.5 L644.4,599.5 L644.4,599.3 L645.1,599.3 L645.1,599.3 L645.8,599.3 L645.8,598.2 L646.5,598.2 L646.5,597.9 L647.2,597.9 L647.2,598.0 L647.9,598.0 L647.9,596.4 L648.6,596.4 L648.6,595.7 L649.3,595.7 L649.3,595.6 L650.0,595.6 L650.0,596.2 L650.7,596.2 L650.7,596.4 L651.4,596.4 L651.4,595.4 L652.1,595.4 L652.1,595.9 L652.8,595.9 L652.8,595.5 L653.5,595.5 L653.5,595.8 L654.2,595.8 L654.2,595.2 L654.9,595.2 L654.9,595.5 L655.6,595.5 L655.6,595.1 L656.3,595.1 L656.3,593.9 L657.0,593.9 L657.0,592.6 L657.7,592.6 L657.7,591.2 L658.4,591.2 L658.4,591.9 L659.1,591.9 L659.1,591.1 L659.8,591.1 L659.8,590.0 L660.5,590.0 L660.5,588.4 L661.2,588.4 L661.2,589.1 L661.9,589.1 L661.9,590.5 L662.6,590.5 L662.6,591.9 L663.3,591.9 L663.3,593.8 L664.0,593.8 L664.0,593.0 L664.7,593.0 L664.7,594.0 L665.4,594.0 L665.4,594.5 L666.1,594.5 L666.1,594.3 L666.8,594.3 L666.8,595.0 L667.5,595.0 L667.5,595.0 L668.2,595.0 L668.2,596.3 L668.9,596.3 L668.9,596.2 L669.6,596.2 L669.6,596.6 L670.3,596.6 L670.3,597.3 L671.0,597.3 L671.0,597.9 L671.7,597.9 L671.7,598.6 L672.4,598.6 L672.4,598.5 L673.1,598.5 L673.1,598.7 L673.8,598.7 L673.8,599.1 L674.5,599.1 L674.5,599.4 L675.2,599.4 L675.2,600.0 L675.9,600.0 L675.9,600.6 L676.6,600.6 L676.6,601.1 L677.3,601.1 L677.3,600.7 L678.0,600.7 L678.0,601.0 L678.7,601.0 L678.7,601.1 L679.4,601.1 L679.4,601.5 L680.1,601.5 L680.1,601.6 L680.8,601.6 L680.8,601.7 L681.4,601.7 L681.4,606.8Z" fill="#74d3b2"/>
<rect x="559.0" y="607.3" width="122.4" height="1.6" fill="#c9c9c9"/>
<path d="M559.0,626.7 L559.0,624.5 L559.7,624.5 L559.7,624.4 L560.4,624.4 L560.4,624.3 L561.1,624.3 L561.1,624.1 L561.8,624.1 L561.8,624.1 L562.5,624.1 L562.5,624.1 L563.2,624.1 L563.2,624.3 L563.9,624.3 L563.9,624.3 L564.6,624.3 L564.6,624.4 L565.3,624.4 L565.3,624.2 L566.0,624.2 L566.0,624.1 L566.7,624.1 L566.7,624.3 L567.4,624.3 L567.4,624.4 L568.1,624.4 L568.1,624.5 L568.8,624.5 L568.8,624.5 L569.5,624.5 L569.5,624.5 L570.2,624.5 L570.2,624.6 L570.9,624.6 L570.9,624.5 L571.6,624.5 L571.6,624.4 L572.3,624.4 L572.3,624.6 L573.0,624.6 L573.0,624.6 L573.7,624.6 L573.7,624.7 L574.4,624.7 L574.4,624.7 L575.1,624.7 L575.1,624.7 L575.8,624.7 L575.8,624.7 L576.5,624.7 L576.5,624.7 L577.2,624.7 L577.2,624.8 L577.9,624.8 L577.9,624.9 L578.6,624.9 L578.6,624.9 L579.3,624.9 L579.3,625.0 L580.0,625.0 L580.0,624.9 L580.7,624.9 L580.7,625.0 L581.4,625.0 L581.4,624.9 L582.1,624.9 L582.1,624.7 L582.8,624.7 L582.8,624.5 L583.5,624.5 L583.5,624.6 L584.2,624.6 L584.2,624.4 L584.9,624.4 L584.9,624.5 L585.6,624.5 L585.6,624.5 L586.3,624.5 L586.3,624.6 L587.0,624.6 L587.0,624.6 L587.7,624.6 L587.7,624.7 L588.4,624.7 L588.4,624.6 L589.1,624.6 L589.1,624.5 L589.8,624.5 L589.8,624.6 L590.5,624.6 L590.5,624.6 L591.2,624.6 L591.2,624.5 L591.9,624.5 L591.9,624.6 L592.6,624.6 L592.6,624.7 L593.3,624.7 L593.3,624.6 L594.0,624.6 L594.0,624.5 L594.7,624.5 L594.7,624.6 L595.4,624.6 L595.4,624.5 L596.1,624.5 L596.1,624.5 L596.8,624.5 L596.8,624.5 L597.5,624.5 L597.5,624.7 L598.2,624.7 L598.2,624.6 L598.9,624.6 L598.9,624.4 L599.6,624.4 L599.6,624.3 L600.3,624.3 L600.3,624.4 L601.0,624.4 L601.0,624.5 L601.7,624.5 L601.7,624.6 L602.4,624.6 L602.4,624.5 L603.1,624.5 L603.1,624.5 L603.8,624.5 L603.8,624.4 L604.5,624.4 L604.5,624.5 L605.2,624.5 L605.2,624.5 L605.9,624.5 L605.9,624.5 L606.6,624.5 L606.6,624.5 L607.3,624.5 L607.3,624.4 L608.0,624.4 L608.0,624.3 L608.7,624.3 L608.7,624.3 L609.4,624.3 L609.4,624.4 L610.1,624.4 L610.1,624.4 L610.8,624.4 L610.8,624.5 L611.5,624.5 L611.5,624.5 L612.2,624.5 L612.2,624.5 L612.9,624.5 L612.9,624.3 L613.6,624.3 L613.6,624.2 L614.3,624.2 L614.3,624.4 L615.0,624.4 L615.0,624.1 L615.7,624.1 L615.7,624.1 L616.4,624.1 L616.4,624.1 L617.1,624.1 L617.1,624.1 L617.8,624.1 L617.8,624.1 L618.5,624.1 L618.5,624.2 L619.2,624.2 L619.2,624.2 L619.9,624.2 L619.9,624.2 L620.6,624.2 L620.6,624.2 L621.3,624.2 L621.3,624.1 L622.0,624.1 L622.0,624.2 L622.7,624.2 L622.7,624.0 L623.4,624.0 L623.4,624.2 L624.1,624.2 L624.1,624.0 L624.8,624.0 L624.8,624.1 L625.5,624.1 L625.5,623.9 L626.2,623.9 L626.2,623.9 L626.9,623.9 L626.9,623.7 L627.6,623.7 L627.6,623.5 L628.3,623.5 L628.3,623.5 L629.0,623.5 L629.0,623.5 L629.7,623.5 L629.7,623.5 L630.4,623.5 L630.4,623.5 L631.1,623.5 L631.1,623.3 L631.8,623.3 L631.8,623.5 L632.5,623.5 L632.5,623.4 L633.2,623.4 L633.2,623.4 L633.9,623.4 L633.9,623.0 L634.6,623.0 L634.6,622.9 L635.3,622.9 L635.3,622.6 L636.0,622.6 L636.0,622.6 L636.7,622.6 L636.7,622.4 L637.4,622.4 L637.4,622.5 L638.1,622.5 L638.1,622.0 L638.8,622.0 L638.8,622.1 L639.5,622.1 L639.5,622.4 L640.2,622.4 L640.2,621.9 L640.9,621.9 L640.9,621.7 L641.6,621.7 L641.6,621.5 L642.3,621.5 L642.3,621.4 L643.0,621.4 L643.0,621.2 L643.7,621.2 L643.7,621.2 L644.4,621.2 L644.4,621.1 L645.1,621.1 L645.1,620.5 L645.8,620.5 L645.8,620.5 L646.5,620.5 L646.5,620.1 L647.2,620.1 L647.2,619.8 L647.9,619.8 L647.9,619.0 L648.6,619.0 L648.6,618.5 L649.3,618.5 L649.3,618.2 L650.0,618.2 L650.0,617.3 L650.7,617.3 L650.7,616.9 L651.4,616.9 L651.4,616.4 L652.1,616.4 L652.1,615.9 L652.8,615.9 L652.8,615.6 L653.5,615.6 L653.5,615.2 L654.2,615.2 L654.2,615.8 L654.9,615.8 L654.9,614.4 L655.6,614.4 L655.6,613.9 L656.3,613.9 L656.3,613.6 L657.0,613.6 L657.0,612.0 L657.7,612.0 L657.7,611.9 L658.4,611.9 L658.4,612.0 L659.1,612.0 L659.1,612.9 L659.8,612.9 L659.8,613.6 L660.5,613.6 L660.5,613.7 L661.2,613.7 L661.2,614.3 L661.9,614.3 L661.9,615.5 L662.6,615.5 L662.6,616.0 L663.3,616.0 L663.3,615.0 L664.0,615.0 L664.0,615.7 L664.7,615.7 L664.7,616.9 L665.4,616.9 L665.4,617.9 L666.1,617.9 L666.1,617.7 L666.8,617.7 L666.8,618.6 L667.5,618.6 L667.5,618.9 L668.2,618.9 L668.2,619.0 L668.9,619.0 L668.9,619.3 L669.6,619.3 L669.6,619.4 L670.3,619.4 L670.3,619.7 L671.0,619.7 L671.0,619.9 L671.7,619.9 L671.7,620.5 L672.4,620.5 L672.4,621.0 L673.1,621.0 L673.1,621.0 L673.8,621.0 L673.8,621.5 L674.5,621.5 L674.5,621.7 L675.2,621.7 L675.2,621.8 L675.9,621.8 L675.9,622.2 L676.6,622.2 L676.6,622.4 L677.3,622.4 L677.3,622.7 L678.0,622.7 L678.0,622.8 L678.7,622.8 L678.7,623.2 L679.4,623.2 L679.4,623.4 L680.1,623.4 L680.1,623.6 L680.8,623.6 L680.8,623.7 L681.4,623.7 L681.4,626.7Z" fill="#74d3b2"/>
<rect x="559.0" y="627.2" width="122.4" height="1.6" fill="#c9c9c9"/>
<path d="M559.0,647.0 L559.0,646.9 L559.6,646.9 L559.6,646.8 L560.2,646.8 L560.2,646.8 L560.8,646.8 L560.8,646.8 L561.4,646.8 L561.4,646.8 L562.0,646.8 L562.0,646.9 L562.6,646.9 L562.6,646.8 L563.2,646.8 L563.2,646.8 L563.8,646.8 L563.8,646.9 L564.4,646.9 L564.4,646.7 L565.0,646.7 L565.0,646.9 L565.6,646.9 L565.6,646.9 L566.2,646.9 L566.2,646.9 L566.8,646.9 L566.8,646.8 L567.4,646.8 L567.4,646.8 L568.0,646.8 L568.0,646.8 L568.6,646.8 L568.6,646.9 L569.2,646.9 L569.2,646.8 L569.8,646.8 L569.8,646.8 L570.4,646.8 L570.4,646.8 L571.0,646.8 L571.0,646.8 L571.6,646.8 L571.6,646.8 L572.2,646.8 L572.2,646.9 L572.8,646.9 L572.8,646.8 L573.4,646.8 L573.4,646.8 L574.0,646.8 L574.0,646.8 L574.6,646.8 L574.6,646.8 L575.2,646.8 L575.2,646.8 L575.8,646.8 L575.8,646.9 L576.4,646.9 L576.4,646.4 L577.0,646.4 L577.0,646.9 L577.6,646.9 L577.6,646.8 L578.2,646.8 L578.2,646.9 L578.8,646.9 L578.8,646.9 L579.4,646.9 L579.4,646.8 L580.0,646.8 L580.0,646.9 L580.6,646.9 L580.6,646.8 L581.2,646.8 L581.2,646.9 L581.8,646.9 L581.8,646.8 L582.4,646.8 L582.4,646.9 L583.0,646.9 L583.0,646.8 L583.6,646.8 L583.6,646.9 L584.2,646.9 L584.2,646.9 L584.8,646.9 L584.8,646.8 L585.4,646.8 L585.4,646.9 L586.0,646.9 L586.0,646.8 L586.6,646.8 L586.6,646.9 L587.2,646.9 L587.2,646.8 L587.8,646.8 L587.8,646.8 L588.4,646.8 L588.4,646.6 L589.0,646.6 L589.0,646.9 L589.6,646.9 L589.6,646.8 L590.2,646.8 L590.2,646.8 L590.8,646.8 L590.8,646.8 L591.4,646.8 L591.4,646.9 L592.0,646.9 L592.0,646.8 L592.6,646.8 L592.6,646.8 L593.2,646.8 L593.2,646.9 L593.8,646.9 L593.8,646.9 L594.4,646.9 L594.4,646.8 L595.0,646.8 L595.0,646.9 L595.6,646.9 L595.6,646.8 L596.2,646.8 L596.2,646.8 L596.8,646.8 L596.8,646.8 L597.4,646.8 L597.4,646.9 L598.0,646.9 L598.0,646.9 L598.6,646.9 L598.6,646.9 L599.2,646.9 L599.2,646.8 L599.8,646.8 L599.8,646.8 L600.4,646.8 L600.4,646.8 L601.0,646.8 L601.0,646.9 L601.6,646.9 L601.6,646.9 L602.2,646.9 L602.2,646.8 L602.8,646.8 L602.8,646.9 L603.4,646.9 L603.4,646.9 L604.0,646.9 L604.0,646.8 L604.6,646.8 L604.6,646.6 L605.2,646.6 L605.2,646.9 L605.8,646.9 L605.8,646.8 L606.4,646.8 L606.4,646.8 L607.0,646.8 L607.0,646.9 L607.6,646.9 L607.6,646.9 L608.2,646.9 L608.2,646.9 L608.8,646.9 L608.8,646.9 L609.4,646.9 L609.4,646.9 L610.0,646.9 L610.0,646.9 L610.6,646.9 L610.6,646.8 L611.2,646.8 L611.2,646.9 L611.8,646.9 L611.8,646.8 L612.4,646.8 L612.4,646.9 L613.0,646.9 L613.0,646.9 L613.6,646.9 L613.6,646.8 L614.2,646.8 L614.2,646.9 L614.8,646.9 L614.8,646.9 L615.4,646.9 L615.4,646.8 L616.0,646.8 L616.0,646.9 L616.6,646.9 L616.6,646.9 L617.2,646.9 L617.2,646.9 L617.8,646.9 L617.8,646.9 L618.4,646.9 L618.4,646.9 L619.0,646.9 L619.0,646.8 L619.6,646.8 L619.6,646.5 L620.2,646.5 L620.2,646.9 L620.8,646.9 L620.8,646.8 L621.4,646.8 L621.4,646.9 L622.0,646.9 L622.0,646.9 L622.6,646.9 L622.6,646.9 L623.2,646.9 L623.2,646.8 L623.8,646.8 L623.8,646.9 L624.4,646.9 L624.4,646.9 L625.0,646.9 L625.0,646.9 L625.6,646.9 L625.6,646.9 L626.2,646.9 L626.2,646.8 L626.8,646.8 L626.8,646.9 L627.4,646.9 L627.4,646.8 L628.0,646.8 L628.0,646.9 L628.6,646.9 L628.6,646.8 L629.2,646.8 L629.2,646.4 L629.8,646.4 L629.8,646.8 L630.4,646.8 L630.4,646.8 L631.0,646.8 L631.0,646.9 L631.6,646.9 L631.6,646.8 L632.2,646.8 L632.2,646.8 L632.8,646.8 L632.8,646.8 L633.4,646.8 L633.4,646.9 L634.0,646.9 L634.0,646.9 L634.6,646.9 L634.6,646.8 L635.2,646.8 L635.2,646.9 L635.8,646.9 L635.8,646.8 L636.4,646.8 L636.4,646.9 L637.0,646.9 L637.0,646.9 L637.6,646.9 L637.6,646.9 L638.2,646.9 L638.2,646.9 L638.8,646.9 L638.8,646.8 L639.4,646.8 L639.4,646.9 L640.0,646.9 L640.0,646.9 L640.6,646.9 L640.6,646.8 L641.2,646.8 L641.2,646.9 L641.8,646.9 L641.8,646.9 L642.4,646.9 L642.4,646.8 L643.0,646.8 L643.0,646.8 L643.6,646.8 L643.6,646.8 L644.2,646.8 L644.2,646.8 L644.8,646.8 L644.8,646.8 L645.4,646.8 L645.4,646.7 L646.0,646.7 L646.0,646.8 L646.6,646.8 L646.6,646.9 L647.2,646.9 L647.2,646.9 L647.8,646.9 L647.8,646.8 L648.4,646.8 L648.4,646.8 L649.0,646.8 L649.0,646.8 L649.6,646.8 L649.6,646.9 L650.2,646.9 L650.2,646.8 L650.8,646.8 L650.8,646.8 L651.4,646.8 L651.4,646.8 L652.0,646.8 L652.0,646.9 L652.6,646.9 L652.6,646.9 L653.2,646.9 L653.2,646.8 L653.8,646.8 L653.8,646.9 L654.4,646.9 L654.4,646.9 L655.0,646.9 L655.0,646.9 L655.6,646.9 L655.6,646.8 L656.2,646.8 L656.2,646.8 L656.8,646.8 L656.8,646.4 L657.4,646.4 L657.4,646.9 L658.0,646.9 L658.0,646.9 L658.6,646.9 L658.6,646.8 L659.2,646.8 L659.2,646.8 L659.8,646.8 L659.8,646.8 L660.4,646.8 L660.4,646.9 L661.0,646.9 L661.0,646.8 L661.6,646.8 L661.6,646.8 L662.2,646.8 L662.2,646.9 L662.8,646.9 L662.8,646.8 L663.4,646.8 L663.4,646.8 L664.0,646.8 L664.0,646.9 L664.6,646.9 L664.6,646.9 L665.2,646.9 L665.2,646.8 L665.8,646.8 L665.8,646.8 L666.4,646.8 L666.4,646.4 L667.0,646.4 L667.0,646.8 L667.6,646.8 L667.6,646.8 L668.2,646.8 L668.2,646.8 L668.8,646.8 L668.8,646.7 L669.4,646.7 L669.4,646.8 L670.0,646.8 L670.0,646.9 L670.6,646.9 L670.6,646.8 L671.2,646.8 L671.2,646.9 L671.8,646.9 L671.8,646.5 L672.4,646.5 L672.4,646.9 L673.0,646.9 L673.0,646.8 L673.6,646.8 L673.6,646.8 L674.2,646.8 L674.2,646.9 L674.8,646.9 L674.8,646.5 L675.4,646.5 L675.4,646.9 L676.0,646.9 L676.0,646.9 L676.6,646.9 L676.6,646.9 L677.2,646.9 L677.2,646.8 L677.8,646.8 L677.8,646.9 L678.4,646.9 L678.4,646.8 L679.0,646.8 L679.0,646.8 L679.6,646.8 L679.6,646.8 L680.2,646.8 L680.2,646.9 L680.8,646.9 L680.8,646.9 L681.4,646.9 L681.4,647.0Z" fill="#9a9a9a"/>
<rect x="559.0" y="647.5" width="122.4" height="1.6" fill="#a8a8a8"/>
<path d="M559.0,666.8 L559.0,666.7 L559.6,666.7 L559.6,666.6 L560.2,666.6 L560.2,666.6 L560.8,666.6 L560.8,666.6 L561.4,666.6 L561.4,666.6 L562.0,666.6 L562.0,666.7 L562.6,666.7 L562.6,666.3 L563.2,666.3 L563.2,666.6 L563.8,666.6 L563.8,666.7 L564.4,666.7 L564.4,666.6 L565.0,666.6 L565.0,666.7 L565.6,666.7 L565.6,666.7 L566.2,666.7 L566.2,666.7 L566.8,666.7 L566.8,666.7 L567.4,666.7 L567.4,666.7 L568.0,666.7 L568.0,666.6 L568.6,666.6 L568.6,666.6 L569.2,666.6 L569.2,666.6 L569.8,666.6 L569.8,666.7 L570.4,666.7 L570.4,666.7 L571.0,666.7 L571.0,666.6 L571.6,666.6 L571.6,666.6 L572.2,666.6 L572.2,666.7 L572.8,666.7 L572.8,666.4 L573.4,666.4 L573.4,666.7 L574.0,666.7 L574.0,666.6 L574.6,666.6 L574.6,666.6 L575.2,666.6 L575.2,666.4 L575.8,666.4 L575.8,666.6 L576.4,666.6 L576.4,666.6 L577.0,666.6 L577.0,666.6 L577.6,666.6 L577.6,666.4 L578.2,666.4 L578.2,666.7 L578.8,666.7 L578.8,666.6 L579.4,666.6 L579.4,666.6 L580.0,666.6 L580.0,666.7 L580.6,666.7 L580.6,666.6 L581.2,666.6 L581.2,666.7 L581.8,666.7 L581.8,666.7 L582.4,666.7 L582.4,666.6 L583.0,666.6 L583.0,666.7 L583.6,666.7 L583.6,666.2 L584.2,666.2 L584.2,666.6 L584.8,666.6 L584.8,666.7 L585.4,666.7 L585.4,666.7 L586.0,666.7 L586.0,666.7 L586.6,666.7 L586.6,666.7 L587.2,666.7 L587.2,666.7 L587.8,666.7 L587.8,666.6 L588.4,666.6 L588.4,666.2 L589.0,666.2 L589.0,666.7 L589.6,666.7 L589.6,666.7 L590.2,666.7 L590.2,666.7 L590.8,666.7 L590.8,666.6 L591.4,666.6 L591.4,666.7 L592.0,666.7 L592.0,666.6 L592.6,666.6 L592.6,666.7 L593.2,666.7 L593.2,666.7 L593.8,666.7 L593.8,666.7 L594.4,666.7 L594.4,666.7 L595.0,666.7 L595.0,666.7 L595.6,666.7 L595.6,666.6 L596.2,666.6 L596.2,666.7 L596.8,666.7 L596.8,666.6 L597.4,666.6 L597.4,666.7 L598.0,666.7 L598.0,666.6 L598.6,666.6 L598.6,666.6 L599.2,666.6 L599.2,666.6 L599.8,666.6 L599.8,666.6 L600.4,666.6 L600.4,666.6 L601.0,666.6 L601.0,666.7 L601.6,666.7 L601.6,666.7 L602.2,666.7 L602.2,666.7 L602.8,666.7 L602.8,666.6 L603.4,666.6 L603.4,666.6 L604.0,666.6 L604.0,666.6 L604.6,666.6 L604.6,666.7 L605.2,666.7 L605.2,666.6 L605.8,666.6 L605.8,666.6 L606.4,666.6 L606.4,666.6 L607.0,666.6 L607.0,666.7 L607.6,666.7 L607.6,666.6 L608.2,666.6 L608.2,666.6 L608.8,666.6 L608.8,666.6 L609.4,666.6 L609.4,666.7 L610.0,666.7 L610.0,666.7 L610.6,666.7 L610.6,666.6 L611.2,666.6 L611.2,666.7 L611.8,666.7 L611.8,666.7 L612.4,666.7 L612.4,666.6 L613.0,666.6 L613.0,666.6 L613.6,666.6 L613.6,666.6 L614.2,666.6 L614.2,666.7 L614.8,666.7 L614.8,666.7 L615.4,666.7 L615.4,666.7 L616.0,666.7 L616.0,666.6 L616.6,666.6 L616.6,666.7 L617.2,666.7 L617.2,666.6 L617.8,666.6 L617.8,666.7 L618.4,666.7 L618.4,666.6 L619.0,666.6 L619.0,666.6 L619.6,666.6 L619.6,666.6 L620.2,666.6 L620.2,666.7 L620.8,666.7 L620.8,666.6 L621.4,666.6 L621.4,666.7 L622.0,666.7 L622.0,666.6 L622.6,666.6 L622.6,666.7 L623.2,666.7 L623.2,666.6 L623.8,666.6 L623.8,666.6 L624.4,666.6 L624.4,666.6 L625.0,666.6 L625.0,666.7 L625.6,666.7 L625.6,666.7 L626.2,666.7 L626.2,666.6 L626.8,666.6 L626.8,666.7 L627.4,666.7 L627.4,666.6 L628.0,666.6 L628.0,666.7 L628.6,666.7 L628.6,666.6 L629.2,666.6 L629.2,666.7 L629.8,666.7 L629.8,666.6 L630.4,666.6 L630.4,666.7 L631.0,666.7 L631.0,666.6 L631.6,666.6 L631.6,666.7 L632.2,666.7 L632.2,666.6 L632.8,666.6 L632.8,666.6 L633.4,666.6 L633.4,666.7 L634.0,666.7 L634.0,666.7 L634.6,666.7 L634.6,666.6 L635.2,666.6 L635.2,666.7 L635.8,666.7 L635.8,666.7 L636.4,666.7 L636.4,666.3 L637.0,666.3 L637.0,666.6 L637.6,666.6 L637.6,666.7 L638.2,666.7 L638.2,666.6 L638.8,666.6 L638.8,666.6 L639.4,666.6 L639.4,666.7 L640.0,666.7 L640.0,666.7 L640.6,666.7 L640.6,666.6 L641.2,666.6 L641.2,666.7 L641.8,666.7 L641.8,666.6 L642.4,666.6 L642.4,666.6 L643.0,666.6 L643.0,666.7 L643.6,666.7 L643.6,666.5 L644.2,666.5 L644.2,666.7 L644.8,666.7 L644.8,666.6 L645.4,666.6 L645.4,666.7 L646.0,666.7 L646.0,666.7 L646.6,666.7 L646.6,666.6 L647.2,666.6 L647.2,666.6 L647.8,666.6 L647.8,666.6 L648.4,666.6 L648.4,666.6 L649.0,666.6 L649.0,666.7 L649.6,666.7 L649.6,666.7 L650.2,666.7 L650.2,666.6 L650.8,666.6 L650.8,666.7 L651.4,666.7 L651.4,666.6 L652.0,666.6 L652.0,666.6 L652.6,666.6 L652.6,666.7 L653.2,666.7 L653.2,666.6 L653.8,666.6 L653.8,666.7 L654.4,666.7 L654.4,666.7 L655.0,666.7 L655.0,666.7 L655.6,666.7 L655.6,666.7 L656.2,666.7 L656.2,666.6 L656.8,666.6 L656.8,666.7 L657.4,666.7 L657.4,666.6 L658.0,666.6 L658.0,666.7 L658.6,666.7 L658.6,666.6 L659.2,666.6 L659.2,666.6 L659.8,666.6 L659.8,666.6 L660.4,666.6 L660.4,666.7 L661.0,666.7 L661.0,666.5 L661.6,666.5 L661.6,666.7 L662.2,666.7 L662.2,666.6 L662.8,666.6 L662.8,666.6 L663.4,666.6 L663.4,666.6 L664.0,666.6 L664.0,666.6 L664.6,666.6 L664.6,666.7 L665.2,666.7 L665.2,666.6 L665.8,666.6 L665.8,666.6 L666.4,666.6 L666.4,666.7 L667.0,666.7 L667.0,666.7 L667.6,666.7 L667.6,666.7 L668.2,666.7 L668.2,666.7 L668.8,666.7 L668.8,666.6 L669.4,666.6 L669.4,666.6 L670.0,666.6 L670.0,666.7 L670.6,666.7 L670.6,666.6 L671.2,666.6 L671.2,666.7 L671.8,666.7 L671.8,666.6 L672.4,666.6 L672.4,666.6 L673.0,666.6 L673.0,666.7 L673.6,666.7 L673.6,666.6 L674.2,666.6 L674.2,666.7 L674.8,666.7 L674.8,666.4 L675.4,666.4 L675.4,666.6 L676.0,666.6 L676.0,666.7 L676.6,666.7 L676.6,666.6 L677.2,666.6 L677.2,666.6 L677.8,666.6 L677.8,666.7 L678.4,666.7 L678.4,666.7 L679.0,666.7 L679.0,666.7 L679.6,666.7 L679.6,666.6 L680.2,666.6 L680.2,666.7 L680.8,666.7 L680.8,666.2 L681.4,666.2 L681.4,666.8Z" fill="#9a9a9a"/>
<rect x="559.0" y="667.3" width="122.4" height="1.6" fill="#a8a8a8"/>
<path d="M559.0,686.6 L559.0,686.4 L559.6,686.4 L559.6,686.4 L560.2,686.4 L560.2,686.4 L560.8,686.4 L560.8,686.5 L561.4,686.5 L561.4,686.4 L562.0,686.4 L562.0,686.4 L562.6,686.4 L562.6,686.5 L563.2,686.5 L563.2,686.4 L563.8,686.4 L563.8,686.5 L564.4,686.5 L564.4,686.4 L565.0,686.4 L565.0,686.5 L565.6,686.5 L565.6,686.5 L566.2,686.5 L566.2,686.4 L566.8,686.4 L566.8,686.4 L567.4,686.4 L567.4,686.5 L568.0,686.5 L568.0,686.5 L568.6,686.5 L568.6,686.4 L569.2,686.4 L569.2,686.4 L569.8,686.4 L569.8,686.4 L570.4,686.4 L570.4,686.4 L571.0,686.4 L571.0,686.5 L571.6,686.5 L571.6,686.5 L572.2,686.5 L572.2,686.4 L572.8,686.4 L572.8,686.5 L573.4,686.5 L573.4,686.4 L574.0,686.4 L574.0,686.5 L574.6,686.5 L574.6,686.5 L575.2,686.5 L575.2,686.4 L575.8,686.4 L575.8,686.4 L576.4,686.4 L576.4,686.4 L577.0,686.4 L577.0,686.5 L577.6,686.5 L577.6,686.5 L578.2,686.5 L578.2,686.4 L578.8,686.4 L578.8,686.5 L579.4,686.5 L579.4,686.4 L580.0,686.4 L580.0,686.5 L580.6,686.5 L580.6,686.5 L581.2,686.5 L581.2,686.5 L581.8,686.5 L581.8,686.4 L582.4,686.4 L582.4,686.5 L583.0,686.5 L583.0,686.5 L583.6,686.5 L583.6,686.5 L584.2,686.5 L584.2,686.4 L584.8,686.4 L584.8,686.5 L585.4,686.5 L585.4,686.4 L586.0,686.4 L586.0,686.4 L586.6,686.4 L586.6,686.3 L587.2,686.3 L587.2,686.1 L587.8,686.1 L587.8,686.5 L588.4,686.5 L588.4,686.4 L589.0,686.4 L589.0,686.2 L589.6,686.2 L589.6,686.5 L590.2,686.5 L590.2,686.5 L590.8,686.5 L590.8,686.5 L591.4,686.5 L591.4,686.4 L592.0,686.4 L592.0,686.4 L592.6,686.4 L592.6,686.5 L593.2,686.5 L593.2,686.5 L593.8,686.5 L593.8,686.4 L594.4,686.4 L594.4,686.4 L595.0,686.4 L595.0,686.5 L595.6,686.5 L595.6,686.5 L596.2,686.5 L596.2,686.5 L596.8,686.5 L596.8,686.4 L597.4,686.4 L597.4,686.4 L598.0,686.4 L598.0,686.5 L598.6,686.5 L598.6,686.4 L599.2,686.4 L599.2,686.5 L599.8,686.5 L599.8,686.5 L600.4,686.5 L600.4,686.4 L601.0,686.4 L601.0,686.4 L601.6,686.4 L601.6,686.5 L602.2,686.5 L602.2,686.4 L602.8,686.4 L602.8,686.5 L603.4,686.5 L603.4,686.5 L604.0,686.5 L604.0,686.5 L604.6,686.5 L604.6,686.4 L605.2,686.4 L605.2,686.5 L605.8,686.5 L605.8,686.5 L606.4,686.5 L606.4,686.5 L607.0,686.5 L607.0,686.4 L607.6,686.4 L607.6,686.5 L608.2,686.5 L608.2,686.4 L608.8,686.4 L608.8,686.5 L609.4,686.5 L609.4,686.4 L610.0,686.4 L610.0,686.5 L610.6,686.5 L610.6,686.5 L611.2,686.5 L611.2,686.5 L611.8,686.5 L611.8,686.4 L612.4,686.4 L612.4,686.4 L613.0,686.4 L613.0,686.1 L613.6,686.1 L613.6,686.5 L614.2,686.5 L614.2,686.5 L614.8,686.5 L614.8,686.5 L615.4,686.5 L615.4,686.5 L616.0,686.5 L616.0,686.4 L616.6,686.4 L616.6,686.4 L617.2,686.4 L617.2,686.4 L617.8,686.4 L617.8,686.4 L618.4,686.4 L618.4,686.4 L619.0,686.4 L619.0,686.5 L619.6,686.5 L619.6,686.5 L620.2,686.5 L620.2,686.4 L620.8,686.4 L620.8,686.4 L621.4,686.4 L621.4,686.4 L622.0,686.4 L622.0,686.4 L622.6,686.4 L622.6,686.4 L623.2,686.4 L623.2,686.4 L623.8,686.4 L623.8,686.4 L624.4,686.4 L624.4,686.5 L625.0,686.5 L625.0,686.4 L625.6,686.4 L625.6,686.5 L626.2,686.5 L626.2,686.4 L626.8,686.4 L626.8,686.3 L627.4,686.3 L627.4,686.5 L628.0,686.5 L628.0,686.4 L628.6,686.4 L628.6,686.5 L629.2,686.5 L629.2,686.5 L629.8,686.5 L629.8,686.5 L630.4,686.5 L630.4,686.4 L631.0,686.4 L631.0,686.4 L631.6,686.4 L631.6,686.4 L632.2,686.4 L632.2,686.5 L632.8,686.5 L632.8,686.5 L633.4,686.5 L633.4,686.1 L634.0,686.1 L634.0,686.5 L634.6,686.5 L634.6,686.5 L635.2,686.5 L635.2,686.5 L635.8,686.5 L635.8,686.5 L636.4,686.5 L636.4,686.5 L637.0,686.5 L637.0,686.5 L637.6,686.5 L637.6,686.5 L638.2,686.5 L638.2,686.5 L638.8,686.5 L638.8,686.5 L639.4,686.5 L639.4,686.4 L640.0,686.4 L640.0,686.5 L640.6,686.5 L640.6,686.4 L641.2,686.4 L641.2,686.4 L641.8,686.4 L641.8,686.4 L642.4,686.4 L642.4,686.0 L643.0,686.0 L643.0,686.5 L643.6,686.5 L643.6,686.4 L644.2,686.4 L644.2,686.5 L644.8,686.5 L644.8,686.3 L645.4,686.3 L645.4,686.4 L646.0,686.4 L646.0,686.5 L646.6,686.5 L646.6,686.4 L647.2,686.4 L647.2,686.4 L647.8,686.4 L647.8,686.5 L648.4,686.5 L648.4,686.4 L649.0,686.4 L649.0,686.4 L649.6,686.4 L649.6,686.5 L650.2,686.5 L650.2,686.5 L650.8,686.5 L650.8,686.4 L651.4,686.4 L651.4,686.4 L652.0,686.4 L652.0,686.5 L652.6,686.5 L652.6,686.3 L653.2,686.3 L653.2,686.5 L653.8,686.5 L653.8,686.5 L654.4,686.5 L654.4,686.4 L655.0,686.4 L655.0,686.5 L655.6,686.5 L655.6,686.5 L656.2,686.5 L656.2,686.4 L656.8,686.4 L656.8,686.5 L657.4,686.5 L657.4,686.5 L658.0,686.5 L658.0,686.1 L658.6,686.1 L658.6,686.5 L659.2,686.5 L659.2,686.5 L659.8,686.5 L659.8,686.4 L660.4,686.4 L660.4,686.4 L661.0,686.4 L661.0,686.4 L661.6,686.4 L661.6,686.4 L662.2,686.4 L662.2,686.5 L662.8,686.5 L662.8,686.4 L663.4,686.4 L663.4,686.4 L664.0,686.4 L664.0,686.4 L664.6,686.4 L664.6,686.5 L665.2,686.5 L665.2,686.5 L665.8,686.5 L665.8,686.4 L666.4,686.4 L666.4,686.5 L667.0,686.5 L667.0,686.4 L667.6,686.4 L667.6,686.5 L668.2,686.5 L668.2,686.4 L668.8,686.4 L668.8,686.5 L669.4,686.5 L669.4,686.4 L670.0,686.4 L670.0,686.4 L670.6,686.4 L670.6,686.5 L671.2,686.5 L671.2,686.5 L671.8,686.5 L671.8,686.4 L672.4,686.4 L672.4,686.5 L673.0,686.5 L673.0,686.5 L673.6,686.5 L673.6,686.5 L674.2,686.5 L674.2,686.4 L674.8,686.4 L674.8,686.5 L675.4,686.5 L675.4,686.5 L676.0,686.5 L676.0,686.4 L676.6,686.4 L676.6,686.4 L677.2,686.4 L677.2,686.5 L677.8,686.5 L677.8,686.3 L678.4,686.3 L678.4,686.4 L679.0,686.4 L679.0,686.5 L679.6,686.5 L679.6,686.5 L680.2,686.5 L680.2,686.2 L680.8,686.2 L680.8,686.4 L681.4,686.4 L681.4,686.6Z" fill="#cfe6a0"/>
<rect x="559.0" y="687.1" width="122.4" height="1.6" fill="#a8a8a8"/>
<path d="M559.0,706.2 L559.0,706.1 L559.6,706.1 L559.6,706.0 L560.2,706.0 L560.2,706.0 L560.8,706.0 L560.8,706.1 L561.4,706.1 L561.4,706.0 L562.0,706.0 L562.0,706.0 L562.6,706.0 L562.6,706.1 L563.2,706.1 L563.2,706.0 L563.8,706.0 L563.8,706.0 L564.4,706.0 L564.4,706.1 L565.0,706.1 L565.0,706.0 L565.6,706.0 L565.6,706.0 L566.2,706.0 L566.2,706.0 L566.8,706.0 L566.8,706.0 L567.4,706.0 L567.4,706.0 L568.0,706.0 L568.0,706.1 L568.6,706.1 L568.6,706.0 L569.2,706.0 L569.2,706.1 L569.8,706.1 L569.8,706.1 L570.4,706.1 L570.4,706.0 L571.0,706.0 L571.0,706.1 L571.6,706.1 L571.6,706.0 L572.2,706.0 L572.2,706.0 L572.8,706.0 L572.8,706.0 L573.4,706.0 L573.4,706.1 L574.0,706.1 L574.0,706.0 L574.6,706.0 L574.6,706.1 L575.2,706.1 L575.2,706.1 L575.8,706.1 L575.8,706.0 L576.4,706.0 L576.4,706.0 L577.0,706.0 L577.0,706.0 L577.6,706.0 L577.6,706.1 L578.2,706.1 L578.2,706.0 L578.8,706.0 L578.8,706.1 L579.4,706.1 L579.4,706.1 L580.0,706.1 L580.0,706.0 L580.6,706.0 L580.6,706.1 L581.2,706.1 L581.2,706.1 L581.8,706.1 L581.8,706.0 L582.4,706.0 L582.4,706.1 L583.0,706.1 L583.0,706.0 L583.6,706.0 L583.6,706.0 L584.2,706.0 L584.2,706.0 L584.8,706.0 L584.8,706.0 L585.4,706.0 L585.4,706.1 L586.0,706.1 L586.0,706.0 L586.6,706.0 L586.6,706.1 L587.2,706.1 L587.2,706.1 L587.8,706.1 L587.8,706.0 L588.4,706.0 L588.4,706.0 L589.0,706.0 L589.0,706.1 L589.6,706.1 L589.6,706.1 L590.2,706.1 L590.2,706.0 L590.8,706.0 L590.8,706.1 L591.4,706.1 L591.4,706.0 L592.0,706.0 L592.0,706.1 L592.6,706.1 L592.6,706.1 L593.2,706.1 L593.2,706.1 L593.8,706.1 L593.8,706.0 L594.4,706.0 L594.4,706.1 L595.0,706.1 L595.0,706.1 L595.6,706.1 L595.6,706.1 L596.2,706.1 L596.2,706.1 L596.8,706.1 L596.8,706.0 L597.4,706.0 L597.4,706.0 L598.0,706.0 L598.0,706.0 L598.6,706.0 L598.6,706.1 L599.2,706.1 L599.2,706.0 L599.8,706.0 L599.8,705.7 L600.4,705.7 L600.4,706.0 L601.0,706.0 L601.0,706.1 L601.6,706.1 L601.6,706.0 L602.2,706.0 L602.2,706.1 L602.8,706.1 L602.8,705.8 L603.4,705.8 L603.4,706.0 L604.0,706.0 L604.0,706.0 L604.6,706.0 L604.6,706.0 L605.2,706.0 L605.2,706.0 L605.8,706.0 L605.8,706.1 L606.4,706.1 L606.4,706.0 L607.0,706.0 L607.0,706.1 L607.6,706.1 L607.6,706.0 L608.2,706.0 L608.2,706.1 L608.8,706.1 L608.8,706.0 L609.4,706.0 L609.4,706.1 L610.0,706.1 L610.0,706.1 L610.6,706.1 L610.6,706.0 L611.2,706.0 L611.2,706.0 L611.8,706.0 L611.8,706.0 L612.4,706.0 L612.4,706.1 L613.0,706.1 L613.0,706.1 L613.6,706.1 L613.6,706.0 L614.2,706.0 L614.2,706.0 L614.8,706.0 L614.8,706.0 L615.4,706.0 L615.4,705.9 L616.0,705.9 L616.0,706.1 L616.6,706.1 L616.6,706.0 L617.2,706.0 L617.2,706.0 L617.8,706.0 L617.8,706.1 L618.4,706.1 L618.4,706.1 L619.0,706.1 L619.0,706.0 L619.6,706.0 L619.6,706.0 L620.2,706.0 L620.2,706.1 L620.8,706.1 L620.8,706.0 L621.4,706.0 L621.4,706.1 L622.0,706.1 L622.0,706.1 L622.6,706.1 L622.6,706.0 L623.2,706.0 L623.2,706.0 L623.8,706.0 L623.8,706.0 L624.4,706.0 L624.4,706.0 L625.0,706.0 L625.0,706.1 L625.6,706.1 L625.6,706.0 L626.2,706.0 L626.2,706.0 L626.8,706.0 L626.8,706.0 L627.4,706.0 L627.4,706.0 L628.0,706.0 L628.0,706.1 L628.6,706.1 L628.6,705.6 L629.2,705.6 L629.2,706.0 L629.8,706.0 L629.8,706.1 L630.4,706.1 L630.4,706.1 L631.0,706.1 L631.0,706.0 L631.6,706.0 L631.6,705.8 L632.2,705.8 L632.2,706.0 L632.8,706.0 L632.8,705.8 L633.4,705.8 L633.4,706.1 L634.0,706.1 L634.0,706.1 L634.6,706.1 L634.6,706.0 L635.2,706.0 L635.2,706.1 L635.8,706.1 L635.8,706.1 L636.4,706.1 L636.4,706.0 L637.0,706.0 L637.0,706.1 L637.6,706.1 L637.6,706.1 L638.2,706.1 L638.2,706.0 L638.8,706.0 L638.8,706.0 L639.4,706.0 L639.4,706.1 L640.0,706.1 L640.0,706.0 L640.6,706.0 L640.6,706.1 L641.2,706.1 L641.2,706.1 L641.8,706.1 L641.8,706.1 L642.4,706.1 L642.4,706.1 L643.0,706.1 L643.0,706.0 L643.6,706.0 L643.6,706.1 L644.2,706.1 L644.2,706.0 L644.8,706.0 L644.8,706.0 L645.4,706.0 L645.4,706.0 L646.0,706.0 L646.0,706.1 L646.6,706.1 L646.6,706.0 L647.2,706.0 L647.2,706.1 L647.8,706.1 L647.8,706.1 L648.4,706.1 L648.4,706.0 L649.0,706.0 L649.0,706.1 L649.6,706.1 L649.6,706.1 L650.2,706.1 L650.2,706.1 L650.8,706.1 L650.8,706.0 L651.4,706.0 L651.4,706.1 L652.0,706.1 L652.0,706.0 L652.6,706.0 L652.6,706.1 L653.2,706.1 L653.2,706.1 L653.8,706.1 L653.8,706.0 L654.4,706.0 L654.4,706.1 L655.0,706.1 L655.0,706.1 L655.6,706.1 L655.6,706.1 L656.2,706.1 L656.2,706.1 L656.8,706.1 L656.8,706.0 L657.4,706.0 L657.4,706.1 L658.0,706.1 L658.0,706.1 L658.6,706.1 L658.6,706.1 L659.2,706.1 L659.2,706.0 L659.8,706.0 L659.8,706.0 L660.4,706.0 L660.4,705.7 L661.0,705.7 L661.0,706.1 L661.6,706.1 L661.6,705.9 L662.2,705.9 L662.2,706.0 L662.8,706.0 L662.8,706.1 L663.4,706.1 L663.4,706.1 L664.0,706.1 L664.0,706.0 L664.6,706.0 L664.6,706.1 L665.2,706.1 L665.2,706.0 L665.8,706.0 L665.8,706.0 L666.4,706.0 L666.4,706.1 L667.0,706.1 L667.0,706.1 L667.6,706.1 L667.6,706.1 L668.2,706.1 L668.2,706.1 L668.8,706.1 L668.8,706.1 L669.4,706.1 L669.4,706.1 L670.0,706.1 L670.0,706.1 L670.6,706.1 L670.6,706.1 L671.2,706.1 L671.2,706.0 L671.8,706.0 L671.8,706.1 L672.4,706.1 L672.4,706.0 L673.0,706.0 L673.0,706.1 L673.6,706.1 L673.6,706.0 L674.2,706.0 L674.2,706.0 L674.8,706.0 L674.8,706.1 L675.4,706.1 L675.4,706.1 L676.0,706.1 L676.0,705.9 L676.6,705.9 L676.6,706.0 L677.2,706.0 L677.2,706.1 L677.8,706.1 L677.8,706.1 L678.4,706.1 L678.4,706.0 L679.0,706.0 L679.0,706.1 L679.6,706.1 L679.6,706.1 L680.2,706.1 L680.2,706.1 L680.8,706.1 L680.8,706.0 L681.4,706.0 L681.4,706.2Z" fill="#cfe6a0"/>
<rect x="559.0" y="706.7" width="122.4" height="1.6" fill="#dbeec0"/>
<path d="M425.5,553.3 L428.3,553.3 L428.3,566.0 L425.5,566.0" stroke="#000" stroke-width="0.9" fill="none"/>
<text x="425.1" y="556.1" font-size="7.65" text-anchor="end" fill="#000" textLength="9.8" lengthAdjust="spacingAndGlyphs">15</text>
<text x="425.1" y="568.8" font-size="7.65" text-anchor="end" fill="#000" textLength="4.9" lengthAdjust="spacingAndGlyphs">0</text>
<path d="M425.5,573.8 L428.3,573.8 L428.3,586.5 L425.5,586.5" stroke="#000" stroke-width="0.9" fill="none"/>
<text x="425.1" y="576.6" font-size="7.65" text-anchor="end" fill="#000" textLength="9.8" lengthAdjust="spacingAndGlyphs">15</text>
<text x="425.1" y="589.3" font-size="7.65" text-anchor="end" fill="#000" textLength="4.9" lengthAdjust="spacingAndGlyphs">0</text>
<path d="M425.5,593.7 L428.3,593.7 L428.3,606.4 L425.5,606.4" stroke="#000" stroke-width="0.9" fill="none"/>
<text x="425.1" y="596.5" font-size="7.65" text-anchor="end" fill="#000" textLength="9.8" lengthAdjust="spacingAndGlyphs">15</text>
<text x="425.1" y="609.2" font-size="7.65" text-anchor="end" fill="#000" textLength="4.9" lengthAdjust="spacingAndGlyphs">0</text>
<path d="M425.5,613.6 L428.3,613.6 L428.3,626.3 L425.5,626.3" stroke="#000" stroke-width="0.9" fill="none"/>
<text x="425.1" y="616.4" font-size="7.65" text-anchor="end" fill="#000" textLength="9.8" lengthAdjust="spacingAndGlyphs">15</text>
<text x="425.1" y="629.1" font-size="7.65" text-anchor="end" fill="#000" textLength="4.9" lengthAdjust="spacingAndGlyphs">0</text>
<path d="M425.5,635.0 L428.3,635.0 L428.3,647.6 L425.5,647.6" stroke="#000" stroke-width="0.9" fill="none"/>
<text x="425.1" y="637.8" font-size="7.65" text-anchor="end" fill="#000" textLength="19.6" lengthAdjust="spacingAndGlyphs">1000</text>
<text x="425.1" y="650.4" font-size="7.65" text-anchor="end" fill="#000" textLength="4.9" lengthAdjust="spacingAndGlyphs">0</text>
<path d="M425.5,654.8 L428.3,654.8 L428.3,667.4 L425.5,667.4" stroke="#000" stroke-width="0.9" fill="none"/>
<text x="425.1" y="657.6" font-size="7.65" text-anchor="end" fill="#000" textLength="19.6" lengthAdjust="spacingAndGlyphs">1000</text>
<text x="425.1" y="670.2" font-size="7.65" text-anchor="end" fill="#000" textLength="4.9" lengthAdjust="spacingAndGlyphs">0</text>
<path d="M425.5,674.6 L428.3,674.6 L428.3,687.2 L425.5,687.2" stroke="#000" stroke-width="0.9" fill="none"/>
<text x="425.1" y="677.4" font-size="7.65" text-anchor="end" fill="#000" textLength="19.6" lengthAdjust="spacingAndGlyphs">1000</text>
<text x="425.1" y="690.0" font-size="7.65" text-anchor="end" fill="#000" textLength="4.9" lengthAdjust="spacingAndGlyphs">0</text>
<path d="M425.5,694.2 L428.3,694.2 L428.3,706.8 L425.5,706.8" stroke="#000" stroke-width="0.9" fill="none"/>
<text x="425.1" y="697.0" font-size="7.65" text-anchor="end" fill="#000" textLength="19.6" lengthAdjust="spacingAndGlyphs">1000</text>
<text x="425.1" y="709.6" font-size="7.65" text-anchor="end" fill="#000" textLength="4.9" lengthAdjust="spacingAndGlyphs">0</text>
<rect x="531.4" y="549.4" width="13.9" height="157.1" fill="#e4d040" fill-opacity="0.72"/>
<rect x="657.0" y="549.2" width="13.8" height="157.2" fill="#e4d040" fill-opacity="0.72"/>
<text x="380.5" y="592.9" font-size="9.50" text-anchor="middle" fill="#000" textLength="43.0" lengthAdjust="spacingAndGlyphs" transform="rotate(-90 380.5 589.5)">ATAC-seq</text>
<line x1="386.0" y1="563.2" x2="386.0" y2="612.3" stroke="#000" stroke-width="1.1"/>
<text x="380.5" y="679.9" font-size="9.50" text-anchor="middle" fill="#000" textLength="38.1" lengthAdjust="spacingAndGlyphs" transform="rotate(-90 380.5 676.5)">RNA-seq</text>
<line x1="386.0" y1="650.0" x2="386.0" y2="701.8" stroke="#000" stroke-width="1.1"/>
<text x="396.4" y="569.3" font-size="9.20" text-anchor="middle" fill="#000" transform="rotate(-90 396.4 566.0)" textLength="18.0" lengthAdjust="spacingAndGlyphs">M3<tspan font-size="5.34" dy="-2.94" fill="#000">f/f</tspan></text>
<line x1="401.3" y1="554.0" x2="401.3" y2="579.0" stroke="#000" stroke-width="1.1"/>
<text x="396.4" y="613.3" font-size="9.20" text-anchor="middle" fill="#000" transform="rotate(-90 396.4 610.0)" textLength="21.1" lengthAdjust="spacingAndGlyphs">M3<tspan font-size="5.34" dy="-2.94" fill="#000">d/d</tspan></text>
<line x1="401.3" y1="597.6" x2="401.3" y2="623.4" stroke="#000" stroke-width="1.1"/>
<text x="396.4" y="654.3" font-size="9.20" text-anchor="middle" fill="#000" transform="rotate(-90 396.4 651.0)" textLength="18.0" lengthAdjust="spacingAndGlyphs">M3<tspan font-size="5.34" dy="-2.94" fill="#000">f/f</tspan></text>
<line x1="401.3" y1="638.0" x2="401.3" y2="664.4" stroke="#000" stroke-width="1.1"/>
<text x="396.4" y="695.3" font-size="9.20" text-anchor="middle" fill="#000" transform="rotate(-90 396.4 692.0)" textLength="21.1" lengthAdjust="spacingAndGlyphs">M3<tspan font-size="5.34" dy="-2.94" fill="#000">d/d</tspan></text>
<line x1="401.3" y1="678.8" x2="401.3" y2="706.0" stroke="#000" stroke-width="1.1"/>
<line x1="429.6" y1="711.0" x2="550.3" y2="711.0" stroke="#6b2fb0" stroke-width="1.0"/>
<path d="M435.0,709.4 L433.0,711.0 L435.0,712.6Z" fill="#6b2fb0"/>
<path d="M440.9,709.4 L438.9,711.0 L440.9,712.6Z" fill="#6b2fb0"/>
<path d="M446.7,709.4 L444.7,711.0 L446.7,712.6Z" fill="#6b2fb0"/>
<path d="M452.6,709.4 L450.6,711.0 L452.6,712.6Z" fill="#6b2fb0"/>
<path d="M458.4,709.4 L456.4,711.0 L458.4,712.6Z" fill="#6b2fb0"/>
<path d="M464.2,709.4 L462.2,711.0 L464.2,712.6Z" fill="#6b2fb0"/>
<path d="M470.1,709.4 L468.1,711.0 L470.1,712.6Z" fill="#6b2fb0"/>
<path d="M475.9,709.4 L473.9,711.0 L475.9,712.6Z" fill="#6b2fb0"/>
<path d="M481.8,709.4 L479.8,711.0 L481.8,712.6Z" fill="#6b2fb0"/>
<path d="M487.6,709.4 L485.6,711.0 L487.6,712.6Z" fill="#6b2fb0"/>
<path d="M493.5,709.4 L491.5,711.0 L493.5,712.6Z" fill="#6b2fb0"/>
<path d="M499.4,709.4 L497.4,711.0 L499.4,712.6Z" fill="#6b2fb0"/>
<path d="M505.2,709.4 L503.2,711.0 L505.2,712.6Z" fill="#6b2fb0"/>
<path d="M511.1,709.4 L509.1,711.0 L511.1,712.6Z" fill="#6b2fb0"/>
<path d="M516.9,709.4 L514.9,711.0 L516.9,712.6Z" fill="#6b2fb0"/>
<path d="M522.8,709.4 L520.8,711.0 L522.8,712.6Z" fill="#6b2fb0"/>
<path d="M528.6,709.4 L526.6,711.0 L528.6,712.6Z" fill="#6b2fb0"/>
<rect x="535.0" y="709.6" width="15.3" height="2.8" fill="#6b2fb0"/>
<rect x="523.5" y="709.8" width="1.6" height="2.4" fill="#6b2fb0"/>
<text x="428.3" y="723.0" font-size="8.70" text-anchor="start" fill="#000" textLength="19.9" lengthAdjust="spacingAndGlyphs">Esr1</text>
<line x1="560.0" y1="711.0" x2="681.4" y2="711.0" stroke="#6b2fb0" stroke-width="1.0"/>
<path d="M563.0,709.3 L565.2,711.0 L563.0,712.7Z" fill="#6b2fb0"/>
<path d="M568.5,709.3 L570.7,711.0 L568.5,712.7Z" fill="#6b2fb0"/>
<path d="M574.0,709.3 L576.2,711.0 L574.0,712.7Z" fill="#6b2fb0"/>
<path d="M579.5,709.3 L581.7,711.0 L579.5,712.7Z" fill="#6b2fb0"/>
<path d="M585.0,709.3 L587.2,711.0 L585.0,712.7Z" fill="#6b2fb0"/>
<path d="M590.5,709.3 L592.7,711.0 L590.5,712.7Z" fill="#6b2fb0"/>
<path d="M596.0,709.3 L598.2,711.0 L596.0,712.7Z" fill="#6b2fb0"/>
<path d="M601.5,709.3 L603.7,711.0 L601.5,712.7Z" fill="#6b2fb0"/>
<path d="M607.0,709.3 L609.2,711.0 L607.0,712.7Z" fill="#6b2fb0"/>
<path d="M612.5,709.3 L614.7,711.0 L612.5,712.7Z" fill="#6b2fb0"/>
<path d="M618.0,709.3 L620.2,711.0 L618.0,712.7Z" fill="#6b2fb0"/>
<path d="M623.5,709.3 L625.7,711.0 L623.5,712.7Z" fill="#6b2fb0"/>
<path d="M629.0,709.3 L631.2,711.0 L629.0,712.7Z" fill="#6b2fb0"/>
<path d="M634.5,709.3 L636.7,711.0 L634.5,712.7Z" fill="#6b2fb0"/>
<path d="M640.0,709.3 L642.2,711.0 L640.0,712.7Z" fill="#6b2fb0"/>
<path d="M645.5,709.3 L647.7,711.0 L645.5,712.7Z" fill="#6b2fb0"/>
<path d="M651.0,709.3 L653.2,711.0 L651.0,712.7Z" fill="#6b2fb0"/>
<path d="M656.5,709.3 L658.7,711.0 L656.5,712.7Z" fill="#6b2fb0"/>
<path d="M662.0,709.3 L664.2,711.0 L662.0,712.7Z" fill="#6b2fb0"/>
<path d="M667.5,709.3 L669.7,711.0 L667.5,712.7Z" fill="#6b2fb0"/>
<path d="M673.0,709.3 L675.2,711.0 L673.0,712.7Z" fill="#6b2fb0"/>
<path d="M678.5,709.3 L680.7,711.0 L678.5,712.7Z" fill="#6b2fb0"/>
<rect x="560.5" y="709.3" width="3.5" height="3.4" fill="#6b2fb0"/>
<rect x="617.8" y="709.0" width="3.4" height="4.0" fill="#6b2fb0"/>
<rect x="665.3" y="709.0" width="3.4" height="4.0" fill="#6b2fb0"/>
<text x="565.8" y="722.1" font-size="8.70" text-anchor="start" fill="#000" textLength="15.1" lengthAdjust="spacingAndGlyphs">Lifr</text>
<path d="M524.0,727.9 L525.1,728.1 L526.2,727.0 L527.3,726.4 L528.4,726.7 L529.5,727.6 L530.6,727.5 L531.8,726.8 L532.9,726.8 L534.0,727.3 L535.1,728.2 L536.2,728.3 L537.3,728.2 L538.4,728.2 L539.5,728.3 L540.6,727.8 L541.7,727.7 L542.8,727.7 L543.9,728.2 L545.1,727.5 L546.2,727.6 L547.3,726.6 L548.4,727.1 L549.5,727.0 L550.6,726.8 L551.7,727.1" stroke="#74cfa8" stroke-width="0.7" fill="none" stroke-linejoin="round"/>
<path d="M524.0,728.8 L525.1,728.6 L526.2,730.3 L527.3,729.7 L528.4,729.2 L529.5,729.1 L530.6,728.5 L531.8,728.1 L532.9,728.6 L534.0,728.3 L535.1,728.8 L536.2,728.6 L537.3,727.6 L538.4,727.4 L539.5,727.5 L540.6,726.9 L541.7,727.7 L542.8,727.9 L543.9,728.7 L545.1,728.2 L546.2,728.2 L547.3,728.7 L548.4,729.0 L549.5,728.2 L550.6,729.1 L551.7,728.5" stroke="#999" stroke-width="0.7" fill="none" stroke-linejoin="round"/>
<line x1="524.0" y1="730.3" x2="551.7" y2="730.3" stroke="#cfcfcf" stroke-width="0.8"/>
<path d="M524.0,747.8 L524.0,747.2 L524.4,747.2 L524.8,747.2 L525.2,747.2 L525.6,747.2 L526.0,747.2 L526.4,747.2 L526.8,747.2 L527.2,747.2 L527.6,747.2 L528.0,747.2 L528.4,747.2 L528.8,747.1 L529.2,746.8 L529.6,745.8 L530.0,743.8 L530.4,742.3 L530.8,742.8 L531.2,744.8 L531.6,745.8 L532.0,744.5 L532.4,740.4 L532.8,734.9 L533.2,732.2 L533.6,734.9 L534.0,740.4 L534.4,744.5 L534.8,745.7 L535.2,743.7 L535.6,740.7 L536.0,740.7 L536.4,743.8 L536.8,745.8 L537.2,744.8 L537.6,740.9 L538.0,736.9 L538.4,736.9 L538.8,740.9 L539.2,744.9 L539.6,746.5 L540.0,746.1 L540.4,744.3 L540.8,742.5 L541.2,742.5 L541.6,744.3 L542.0,746.1 L542.4,746.9 L542.8,746.9 L543.2,746.7 L543.6,746.4 L544.0,745.9 L544.4,745.5 L544.8,745.2 L545.2,745.2 L545.6,745.5 L546.0,745.9 L546.4,746.4 L546.8,746.7 L547.2,747.0 L547.6,747.1 L548.0,747.2 L548.4,747.2 L548.8,747.2 L549.2,747.2 L549.6,747.2 L550.0,747.2 L550.4,747.2 L550.8,747.2 L551.2,747.2 L551.6,747.2 L551.7,747.8Z" fill="#9a9a9a"/>
<path d="M524.0,747.8 L524.0,747.2 L524.4,747.2 L524.8,747.2 L525.2,747.2 L525.6,747.2 L526.0,747.2 L526.4,747.2 L526.8,747.2 L527.2,747.2 L527.6,747.2 L528.0,747.2 L528.4,747.2 L528.8,747.2 L529.2,747.0 L529.6,746.4 L530.0,745.2 L530.4,744.2 L530.8,744.6 L531.2,745.7 L531.6,746.4 L532.0,745.8 L532.4,743.6 L532.8,740.6 L533.2,739.2 L533.6,740.6 L534.0,743.6 L534.4,745.8 L534.8,746.3 L535.2,745.2 L535.6,743.5 L536.0,743.5 L536.4,745.2 L536.8,746.4 L537.2,745.9 L537.6,743.8 L538.0,741.6 L538.4,741.6 L538.8,743.8 L539.2,745.9 L539.6,746.8 L540.0,746.5 L540.4,745.5 L540.8,744.4 L541.2,744.4 L541.6,745.5 L542.0,746.5 L542.4,747.0 L542.8,747.0 L543.2,746.8 L543.6,746.6 L544.0,746.2 L544.4,745.9 L544.8,745.7 L545.2,745.7 L545.6,745.9 L546.0,746.2 L546.4,746.6 L546.8,746.8 L547.2,747.0 L547.6,747.1 L548.0,747.2 L548.4,747.2 L548.8,747.2 L549.2,747.2 L549.6,747.2 L550.0,747.2 L550.4,747.2 L550.8,747.2 L551.2,747.2 L551.6,747.2 L551.7,747.8Z" fill="#bcdc78"/>
<line x1="524.0" y1="748.2" x2="551.7" y2="748.2" stroke="#a8d070" stroke-width="0.8"/>
<path d="M647.0,729.0 L647.9,729.0 L648.8,729.0 L649.7,729.0 L650.6,728.9 L651.5,728.8 L652.4,728.6 L653.3,728.3 L654.2,727.7 L655.1,726.7 L656.0,725.2 L656.9,723.3 L657.8,721.0 L658.7,718.5 L659.6,716.1 L660.5,714.2 L661.4,713.1 L662.3,713.1 L663.2,714.2 L664.1,716.1 L665.0,718.5 L665.9,721.0 L666.8,723.3 L667.7,725.2 L668.6,726.7 L669.5,727.7 L670.4,728.3 L671.3,728.6 L672.2,728.8 L673.1,728.9 L674.0,729.0" stroke="#74cfa8" stroke-width="0.8" fill="none" stroke-linejoin="round"/>
<path d="M647.0,729.0 L647.9,729.0 L648.8,729.0 L649.7,729.0 L650.6,728.9 L651.5,728.9 L652.4,728.7 L653.3,728.4 L654.2,727.9 L655.1,727.1 L656.0,725.9 L656.9,724.4 L657.8,722.5 L658.7,720.5 L659.6,718.5 L660.5,717.0 L661.4,716.1 L662.3,716.1 L663.2,717.0 L664.1,718.5 L665.0,720.5 L665.9,722.5 L666.8,724.4 L667.7,725.9 L668.6,727.1 L669.5,727.9 L670.4,728.4 L671.3,728.7 L672.2,728.9 L673.1,728.9 L674.0,729.0" stroke="#8fd8bc" stroke-width="0.8" fill="none" stroke-linejoin="round"/>
<path d="M647.0,729.0 L647.9,729.0 L648.8,729.0 L649.7,729.0 L650.6,729.0 L651.5,728.9 L652.4,728.8 L653.3,728.5 L654.2,728.2 L655.1,727.5 L656.0,726.7 L656.9,725.5 L657.8,724.0 L658.7,722.4 L659.6,720.9 L660.5,719.7 L661.4,719.1 L662.3,719.1 L663.2,719.7 L664.1,720.9 L665.0,722.4 L665.9,724.0 L666.8,725.5 L667.7,726.7 L668.6,727.5 L669.5,728.2 L670.4,728.5 L671.3,728.8 L672.2,728.9 L673.1,729.0 L674.0,729.0" stroke="#222" stroke-width="0.8" fill="none" stroke-linejoin="round"/>
<path d="M647.0,729.0 L647.9,729.0 L648.8,729.0 L649.7,729.0 L650.6,728.9 L651.5,728.9 L652.4,728.7 L653.3,728.5 L654.2,728.1 L655.1,727.4 L656.0,726.4 L656.9,725.1 L657.8,723.5 L658.7,721.8 L659.6,720.1 L660.5,718.8 L661.4,718.1 L662.3,718.1 L663.2,718.8 L664.1,720.1 L665.0,721.8 L665.9,723.5 L666.8,725.1 L667.7,726.4 L668.6,727.4 L669.5,728.1 L670.4,728.5 L671.3,728.7 L672.2,728.9 L673.1,728.9 L674.0,729.0" stroke="#777" stroke-width="0.8" fill="none" stroke-linejoin="round"/>
<line x1="647.0" y1="730.3" x2="674.0" y2="730.3" stroke="#bdbdbd" stroke-width="0.8"/>
<path d="M647.0,745.3 L648.4,745.4 L649.7,745.5 L651.0,745.8 L652.4,744.6 L653.8,744.2 L655.1,743.9 L656.5,743.9 L657.8,744.0 L659.1,743.7 L660.5,744.2 L661.9,743.8 L663.2,744.6 L664.5,744.5 L665.9,745.0 L667.2,745.5 L668.6,745.6 L670.0,745.6 L671.3,745.6 L672.6,745.6 L674.0,746.7" stroke="#a8d070" stroke-width="0.7" fill="none" stroke-linejoin="round"/>
<line x1="647.0" y1="747.3" x2="674.0" y2="747.3" stroke="#bdbdbd" stroke-width="0.8"/>
<g filter="url(#fRCa)">
<linearGradient id="g694" x1="0" y1="0" x2="0" y2="1"><stop offset="0.000" stop-color="rgb(102,102,102)"/><stop offset="0.040" stop-color="rgb(31,31,31)"/><stop offset="0.100" stop-color="rgb(15,15,15)"/><stop offset="0.300" stop-color="rgb(10,10,10)"/><stop offset="1.000" stop-color="rgb(8,8,8)"/></linearGradient>
<rect x="42.0" y="23.0" width="26.0" height="52.5" fill="url(#g694)"/>
<linearGradient id="g696" x1="0" y1="0" x2="0" y2="1"><stop offset="0.000" stop-color="rgb(235,235,235)"/><stop offset="0.035" stop-color="rgb(184,184,184)"/><stop offset="0.080" stop-color="rgb(64,64,64)"/><stop offset="0.200" stop-color="rgb(20,20,20)"/><stop offset="0.600" stop-color="rgb(10,10,10)"/><stop offset="1.000" stop-color="rgb(8,8,8)"/></linearGradient>
<rect x="72.3" y="23.0" width="25.9" height="52.5" fill="url(#g696)"/>
<path d="M74.5,24.5 L98.2,24.5 L97,28 L91,33 L88.3,40 L86.9,50 L86.6,75.5 L84.9,75.5 L84.7,50 L83.8,40 L81.5,33 L77,28 Z" fill="#fff" fill-opacity="0.42" filter="url(#blur1)"/>
<path d="M79,24.5 L96,24.5 L90,31 L87.8,37 L85,37 L82.5,31 Z" fill="#fff" fill-opacity="0.3" filter="url(#blur1)"/>
<path d="M84.5,36 L87.5,36 L86.9,75.5 L84.8,75.5 Z" fill="#fff" fill-opacity="0.42" filter="url(#rag)"/>
<linearGradient id="g701" x1="0" y1="0" x2="0" y2="1"><stop offset="0.000" stop-color="rgb(140,140,140)"/><stop offset="0.060" stop-color="rgb(97,97,97)"/><stop offset="0.200" stop-color="rgb(66,66,66)"/><stop offset="0.500" stop-color="rgb(51,51,51)"/><stop offset="1.000" stop-color="rgb(41,41,41)"/></linearGradient>
<rect x="42.0" y="78.0" width="26.0" height="52.3" fill="url(#g701)"/>
<path d="M49,78 L61,78 L58,88 L57.5,100 L57.2,115 L57,130.3 L53,130.3 L53.2,115 L52.8,100 L52,88 Z" fill="#fff" fill-opacity="0.6" filter="url(#rag)"/>
<linearGradient id="g704" x1="0" y1="0" x2="0" y2="1"><stop offset="0.000" stop-color="rgb(115,115,115)"/><stop offset="0.060" stop-color="rgb(76,76,76)"/><stop offset="0.200" stop-color="rgb(56,56,56)"/><stop offset="0.500" stop-color="rgb(46,46,46)"/><stop offset="1.000" stop-color="rgb(38,38,38)"/></linearGradient>
<rect x="72.7" y="78.0" width="25.3" height="52.0" fill="url(#g704)"/>
</g>
<g filter="url(#spk)" opacity="0.7">
<linearGradient id="g708" x1="0" y1="0" x2="0" y2="1"><stop offset="0.000" stop-color="rgb(178,178,178)"/><stop offset="0.100" stop-color="rgb(140,140,140)"/><stop offset="0.500" stop-color="rgb(107,107,107)"/><stop offset="1.000" stop-color="rgb(89,89,89)"/></linearGradient>
<rect x="42.0" y="78.0" width="26.0" height="52.3" fill="url(#g708)"/>
<linearGradient id="g710" x1="0" y1="0" x2="0" y2="1"><stop offset="0.000" stop-color="rgb(153,153,153)"/><stop offset="0.100" stop-color="rgb(115,115,115)"/><stop offset="0.500" stop-color="rgb(89,89,89)"/><stop offset="1.000" stop-color="rgb(76,76,76)"/></linearGradient>
<rect x="72.7" y="78.0" width="25.3" height="52.0" fill="url(#g710)"/>
</g>
<rect x="42.0" y="23.0" width="26.0" height="52.5" fill="none" stroke="#8fb8bb" stroke-width="0.8"/>
<rect x="72.3" y="23.0" width="25.9" height="52.5" fill="none" stroke="#8fb8bb" stroke-width="0.8"/>
<rect x="42.0" y="78.0" width="26.0" height="52.3" fill="none" stroke="#8fb8bb" stroke-width="0.8"/>
<rect x="72.7" y="78.0" width="25.3" height="52.0" fill="none" stroke="#8fb8bb" stroke-width="0.8"/>
<rect x="102.0" y="33.0" width="2.5" height="41.0" fill="url(#cbRC)"/>
<rect x="102.0" y="88.4" width="2.5" height="41.4" fill="url(#cbRC)"/>
<text x="105.5" y="38.7" font-size="7.39" text-anchor="start" fill="#000" textLength="9.5" lengthAdjust="spacingAndGlyphs">10</text>
<text x="105.5" y="53.7" font-size="7.39" text-anchor="start" fill="#000" textLength="4.7" lengthAdjust="spacingAndGlyphs">5</text>
<text x="105.5" y="76.7" font-size="7.39" text-anchor="start" fill="#000" textLength="4.7" lengthAdjust="spacingAndGlyphs">0</text>
<text x="105.5" y="92.7" font-size="7.39" text-anchor="start" fill="#000" textLength="4.7" lengthAdjust="spacingAndGlyphs">6</text>
<text x="105.5" y="113.1" font-size="7.39" text-anchor="start" fill="#000" textLength="4.7" lengthAdjust="spacingAndGlyphs">3</text>
<text x="105.5" y="132.3" font-size="7.39" text-anchor="start" fill="#000" textLength="4.7" lengthAdjust="spacingAndGlyphs">0</text>
<text x="72.4" y="10.1" font-size="8.70" text-anchor="middle" fill="#000" textLength="52.0" lengthAdjust="spacingAndGlyphs">H3K27me3</text>
<text x="48.0" y="20.6" font-size="8.70" text-anchor="start" fill="#000" textLength="19.7" lengthAdjust="spacingAndGlyphs">M3<tspan font-size="5.04" dy="-2.78" fill="#000">f/f</tspan></text>
<text x="76.7" y="20.6" font-size="8.70" text-anchor="start" fill="#000" textLength="22.3" lengthAdjust="spacingAndGlyphs">M3<tspan font-size="5.04" dy="-2.78" fill="#000">d/d</tspan></text>
<text x="22.4" y="82.1" font-size="8.00" text-anchor="middle" fill="#000" textLength="56.2" lengthAdjust="spacingAndGlyphs" transform="rotate(-90 22.4 79.2)">CUT&amp;Tag-seq</text>
<text x="37.8" y="55.9" font-size="8.00" text-anchor="middle" fill="#000" textLength="40.2" lengthAdjust="spacingAndGlyphs" transform="rotate(-90 37.8 53.0)">Increased</text>
<text x="37.8" y="107.9" font-size="8.00" text-anchor="middle" fill="#000" textLength="42.5" lengthAdjust="spacingAndGlyphs" transform="rotate(-90 37.8 105.0)">Decreased</text>
<line x1="49.0" y1="132.2" x2="87.7" y2="132.2" stroke="#000" stroke-width="0.9"/>
<line x1="49.0" y1="130.5" x2="49.0" y2="132.2" stroke="#000" stroke-width="0.9"/>
<line x1="87.7" y1="130.5" x2="87.7" y2="132.2" stroke="#000" stroke-width="0.9"/>
<text x="41.4" y="139.8" font-size="6.61" text-anchor="start" fill="#000" textLength="12.7" lengthAdjust="spacingAndGlyphs">-3.0</text>
<text x="57.9" y="139.8" font-size="6.61" text-anchor="start" fill="#000" textLength="21.8" lengthAdjust="spacingAndGlyphs">center</text>
<text x="83.5" y="139.8" font-size="6.61" text-anchor="start" fill="#000" textLength="19.9" lengthAdjust="spacingAndGlyphs">3.0 kb</text>
<text x="71.5" y="146.6" font-size="6.09" text-anchor="middle" fill="#000" textLength="63.0" lengthAdjust="spacingAndGlyphs">Gene distance (bp)</text>
<g filter="url(#fRCa)">
<linearGradient id="g739" x1="0" y1="0" x2="0" y2="1"><stop offset="0.000" stop-color="rgb(153,153,153)"/><stop offset="0.050" stop-color="rgb(115,115,115)"/><stop offset="0.300" stop-color="rgb(89,89,89)"/><stop offset="0.500" stop-color="rgb(61,61,61)"/><stop offset="0.700" stop-color="rgb(36,36,36)"/><stop offset="1.000" stop-color="rgb(20,20,20)"/></linearGradient>
<rect x="20.5" y="546.6" width="20.4" height="95.3" fill="url(#g739)"/>
<linearGradient id="g741" x1="0" y1="0" x2="1" y2="0"><stop offset="0.108" stop-color="#fff" stop-opacity="0"/><stop offset="0.500" stop-color="#fff" stop-opacity="0.20"/><stop offset="0.892" stop-color="#fff" stop-opacity="0"/></linearGradient>
<rect x="20.5" y="546.6" width="20.4" height="95.3" fill="url(#g741)"/>
<linearGradient id="g743" x1="0" y1="0" x2="0" y2="1"><stop offset="0.000" stop-color="rgb(153,153,153)"/><stop offset="0.050" stop-color="rgb(115,115,115)"/><stop offset="0.300" stop-color="rgb(89,89,89)"/><stop offset="0.500" stop-color="rgb(61,61,61)"/><stop offset="0.700" stop-color="rgb(36,36,36)"/><stop offset="1.000" stop-color="rgb(20,20,20)"/></linearGradient>
<rect x="42.2" y="546.6" width="20.9" height="95.3" fill="url(#g743)"/>
<linearGradient id="g745" x1="0" y1="0" x2="1" y2="0"><stop offset="0.117" stop-color="#fff" stop-opacity="0"/><stop offset="0.500" stop-color="#fff" stop-opacity="0.20"/><stop offset="0.883" stop-color="#fff" stop-opacity="0"/></linearGradient>
<rect x="42.2" y="546.6" width="20.9" height="95.3" fill="url(#g745)"/>
<linearGradient id="g747" x1="0" y1="0" x2="0" y2="1"><stop offset="0.000" stop-color="rgb(148,148,148)"/><stop offset="0.080" stop-color="rgb(107,107,107)"/><stop offset="0.250" stop-color="rgb(76,76,76)"/><stop offset="0.500" stop-color="rgb(46,46,46)"/><stop offset="1.000" stop-color="rgb(20,20,20)"/></linearGradient>
<rect x="64.9" y="546.6" width="20.9" height="95.3" fill="url(#g747)"/>
<path d="M68.4,546.6 L82.4,546.6 L78.4,571.6 L72.4,571.6 Z" fill="#fff" fill-opacity="0.15" filter="url(#blur1)"/>
<linearGradient id="g750" x1="0" y1="0" x2="1" y2="0"><stop offset="0.333" stop-color="#fff" stop-opacity="0"/><stop offset="0.452" stop-color="#fff" stop-opacity="0.30"/><stop offset="0.572" stop-color="#fff" stop-opacity="0"/></linearGradient>
<rect x="64.9" y="576.6" width="20.9" height="65.3" fill="url(#g750)"/>
<linearGradient id="g752" x1="0" y1="0" x2="0" y2="1"><stop offset="0.000" stop-color="rgb(148,148,148)"/><stop offset="0.080" stop-color="rgb(107,107,107)"/><stop offset="0.250" stop-color="rgb(76,76,76)"/><stop offset="0.500" stop-color="rgb(46,46,46)"/><stop offset="1.000" stop-color="rgb(20,20,20)"/></linearGradient>
<rect x="87.0" y="546.6" width="20.8" height="95.3" fill="url(#g752)"/>
<path d="M90.4,546.6 L104.4,546.6 L100.4,571.6 L94.4,571.6 Z" fill="#fff" fill-opacity="0.15" filter="url(#blur1)"/>
<linearGradient id="g755" x1="0" y1="0" x2="1" y2="0"><stop offset="0.332" stop-color="#fff" stop-opacity="0"/><stop offset="0.452" stop-color="#fff" stop-opacity="0.30"/><stop offset="0.572" stop-color="#fff" stop-opacity="0"/></linearGradient>
<rect x="87.0" y="576.6" width="20.8" height="65.3" fill="url(#g755)"/>
<linearGradient id="g757" x1="0" y1="0" x2="0" y2="1"><stop offset="0.000" stop-color="rgb(115,115,115)"/><stop offset="0.040" stop-color="rgb(51,51,51)"/><stop offset="0.300" stop-color="rgb(15,15,15)"/><stop offset="1.000" stop-color="rgb(10,10,10)"/></linearGradient>
<rect x="20.5" y="646.1" width="20.4" height="94.9" fill="url(#g757)"/>
<path d="M24.7,646.1 L36.7,646.1 L33.7,658.1 L32.2,686.1 L31.7,741.0 L29.7,741.0 L29.2,686.1 L27.7,658.1 Z" fill="#fff" fill-opacity="0.45" filter="url(#blur1)"/>
<linearGradient id="g760" x1="0" y1="0" x2="0" y2="1"><stop offset="0.000" stop-color="rgb(115,115,115)"/><stop offset="0.040" stop-color="rgb(51,51,51)"/><stop offset="0.300" stop-color="rgb(15,15,15)"/><stop offset="1.000" stop-color="rgb(10,10,10)"/></linearGradient>
<rect x="42.2" y="646.1" width="20.9" height="94.9" fill="url(#g760)"/>
<path d="M46.7,646.1 L58.7,646.1 L55.7,658.1 L54.2,686.1 L53.7,741.0 L51.7,741.0 L51.2,686.1 L49.7,658.1 Z" fill="#fff" fill-opacity="0.45" filter="url(#blur1)"/>
<linearGradient id="g763" x1="0" y1="0" x2="0" y2="1"><stop offset="0.000" stop-color="rgb(115,115,115)"/><stop offset="0.040" stop-color="rgb(51,51,51)"/><stop offset="0.300" stop-color="rgb(15,15,15)"/><stop offset="1.000" stop-color="rgb(10,10,10)"/></linearGradient>
<rect x="64.9" y="646.1" width="20.9" height="94.9" fill="url(#g763)"/>
<path d="M69.4,646.1 L81.4,646.1 L78.9,658.1 L77.6,696.1 L76.9,741.0 L73.9,741.0 L73.2,696.1 L71.9,658.1 Z" fill="#fff" fill-opacity="0.4" filter="url(#blur1)"/>
<linearGradient id="g766" x1="0" y1="0" x2="0" y2="1"><stop offset="0.000" stop-color="rgb(115,115,115)"/><stop offset="0.040" stop-color="rgb(51,51,51)"/><stop offset="0.300" stop-color="rgb(15,15,15)"/><stop offset="1.000" stop-color="rgb(10,10,10)"/></linearGradient>
<rect x="87.0" y="646.1" width="20.8" height="94.9" fill="url(#g766)"/>
<path d="M91.4,646.1 L103.4,646.1 L100.9,658.1 L99.6,696.1 L98.9,741.0 L95.9,741.0 L95.2,696.1 L93.9,658.1 Z" fill="#fff" fill-opacity="0.4" filter="url(#blur1)"/>
</g>
<g filter="url(#spk)">
<linearGradient id="g771" x1="0" y1="0" x2="0" y2="1"><stop offset="0.000" stop-color="rgb(173,173,173)"/><stop offset="0.100" stop-color="rgb(145,145,145)"/><stop offset="0.300" stop-color="rgb(128,128,128)"/><stop offset="0.500" stop-color="rgb(102,102,102)"/><stop offset="0.700" stop-color="rgb(76,76,76)"/><stop offset="1.000" stop-color="rgb(51,51,51)"/></linearGradient>
<rect x="20.5" y="546.6" width="20.4" height="95.3" fill="url(#g771)"/>
<linearGradient id="g773" x1="0" y1="0" x2="0" y2="1"><stop offset="0.000" stop-color="rgb(153,153,153)"/><stop offset="0.050" stop-color="rgb(89,89,89)"/><stop offset="0.200" stop-color="rgb(64,64,64)"/><stop offset="1.000" stop-color="rgb(46,46,46)"/></linearGradient>
<rect x="20.5" y="646.1" width="20.4" height="94.9" fill="url(#g773)"/>
<linearGradient id="g775" x1="0" y1="0" x2="0" y2="1"><stop offset="0.000" stop-color="rgb(173,173,173)"/><stop offset="0.100" stop-color="rgb(145,145,145)"/><stop offset="0.300" stop-color="rgb(128,128,128)"/><stop offset="0.500" stop-color="rgb(102,102,102)"/><stop offset="0.700" stop-color="rgb(76,76,76)"/><stop offset="1.000" stop-color="rgb(51,51,51)"/></linearGradient>
<rect x="42.2" y="546.6" width="20.9" height="95.3" fill="url(#g775)"/>
<linearGradient id="g777" x1="0" y1="0" x2="0" y2="1"><stop offset="0.000" stop-color="rgb(153,153,153)"/><stop offset="0.050" stop-color="rgb(89,89,89)"/><stop offset="0.200" stop-color="rgb(64,64,64)"/><stop offset="1.000" stop-color="rgb(46,46,46)"/></linearGradient>
<rect x="42.2" y="646.1" width="20.9" height="94.9" fill="url(#g777)"/>
<linearGradient id="g779" x1="0" y1="0" x2="0" y2="1"><stop offset="0.000" stop-color="rgb(184,184,184)"/><stop offset="0.100" stop-color="rgb(140,140,140)"/><stop offset="0.250" stop-color="rgb(115,115,115)"/><stop offset="0.500" stop-color="rgb(89,89,89)"/><stop offset="1.000" stop-color="rgb(56,56,56)"/></linearGradient>
<rect x="64.9" y="546.6" width="20.9" height="95.3" fill="url(#g779)"/>
<linearGradient id="g781" x1="0" y1="0" x2="0" y2="1"><stop offset="0.000" stop-color="rgb(153,153,153)"/><stop offset="0.050" stop-color="rgb(89,89,89)"/><stop offset="0.200" stop-color="rgb(64,64,64)"/><stop offset="1.000" stop-color="rgb(46,46,46)"/></linearGradient>
<rect x="64.9" y="646.1" width="20.9" height="94.9" fill="url(#g781)"/>
<linearGradient id="g783" x1="0" y1="0" x2="0" y2="1"><stop offset="0.000" stop-color="rgb(184,184,184)"/><stop offset="0.100" stop-color="rgb(140,140,140)"/><stop offset="0.250" stop-color="rgb(115,115,115)"/><stop offset="0.500" stop-color="rgb(89,89,89)"/><stop offset="1.000" stop-color="rgb(56,56,56)"/></linearGradient>
<rect x="87.0" y="546.6" width="20.8" height="95.3" fill="url(#g783)"/>
<linearGradient id="g785" x1="0" y1="0" x2="0" y2="1"><stop offset="0.000" stop-color="rgb(153,153,153)"/><stop offset="0.050" stop-color="rgb(89,89,89)"/><stop offset="0.200" stop-color="rgb(64,64,64)"/><stop offset="1.000" stop-color="rgb(46,46,46)"/></linearGradient>
<rect x="87.0" y="646.1" width="20.8" height="94.9" fill="url(#g785)"/>
</g>
<g filter="url(#rag)">
<path d="M28.1,547.1 L33.3,547.1 L32.0,564.6 L31.7,641.4 L29.7,641.4 L29.4,564.6 Z" fill="#ee2024" fill-opacity="0.85"/>
<path d="M50.7,547.1 L55.9,547.1 L54.6,564.6 L54.3,641.4 L52.3,641.4 L52.0,564.6 Z" fill="#ee2024" fill-opacity="0.85"/>
<path d="M70.4,646.6 L79.4,646.6 L77.4,658.1 L76.6,696.1 L76.1,738.0 L73.7,738.0 L73.2,696.1 L72.4,658.1 Z" fill="#ee2024" fill-opacity="0.7"/>
<path d="M92.4,646.6 L101.4,646.6 L99.4,658.1 L98.6,696.1 L98.1,738.0 L95.7,738.0 L95.2,696.1 L94.4,658.1 Z" fill="#ee2024" fill-opacity="0.7"/>
<path d="M26.7,646.6 L34.7,646.6 L32.0,660.1 L31.4,681.1 L30.0,681.1 L29.4,660.1 Z" fill="#ee2024" fill-opacity="0.4"/>
<path d="M48.7,646.6 L56.7,646.6 L54.0,660.1 L53.4,681.1 L52.0,681.1 L51.4,660.1 Z" fill="#ee2024" fill-opacity="0.4"/>
</g>
<rect x="20.5" y="546.6" width="20.4" height="95.3" fill="none" stroke="#a9bcbc" stroke-width="0.8"/>
<rect x="20.5" y="646.1" width="20.4" height="94.9" fill="none" stroke="#a9bcbc" stroke-width="0.8"/>
<rect x="42.2" y="546.6" width="20.9" height="95.3" fill="none" stroke="#a9bcbc" stroke-width="0.8"/>
<rect x="42.2" y="646.1" width="20.9" height="94.9" fill="none" stroke="#a9bcbc" stroke-width="0.8"/>
<rect x="64.9" y="546.6" width="20.9" height="95.3" fill="none" stroke="#a9bcbc" stroke-width="0.8"/>
<rect x="64.9" y="646.1" width="20.9" height="94.9" fill="none" stroke="#a9bcbc" stroke-width="0.8"/>
<rect x="87.0" y="546.6" width="20.8" height="95.3" fill="none" stroke="#a9bcbc" stroke-width="0.8"/>
<rect x="87.0" y="646.1" width="20.8" height="94.9" fill="none" stroke="#a9bcbc" stroke-width="0.8"/>
<rect x="109.8" y="585.6" width="2.3" height="52.2" fill="url(#cbRC)"/>
<rect x="109.8" y="686.0" width="2.3" height="52.0" fill="url(#cbRC)"/>
<text x="113.0" y="593.0" font-size="7.48" text-anchor="start" fill="#000" textLength="4.8" lengthAdjust="spacingAndGlyphs">5</text>
<text x="113.0" y="601.6" font-size="7.48" text-anchor="start" fill="#000" textLength="4.8" lengthAdjust="spacingAndGlyphs">4</text>
<text x="113.0" y="611.4" font-size="7.48" text-anchor="start" fill="#000" textLength="4.8" lengthAdjust="spacingAndGlyphs">3</text>
<text x="113.0" y="620.9" font-size="7.48" text-anchor="start" fill="#000" textLength="4.8" lengthAdjust="spacingAndGlyphs">2</text>
<text x="113.0" y="630.4" font-size="7.48" text-anchor="start" fill="#000" textLength="4.8" lengthAdjust="spacingAndGlyphs">1</text>
<text x="113.0" y="640.1" font-size="7.48" text-anchor="start" fill="#000" textLength="4.8" lengthAdjust="spacingAndGlyphs">0</text>
<text x="113.0" y="695.3" font-size="7.48" text-anchor="start" fill="#000" textLength="4.8" lengthAdjust="spacingAndGlyphs">8</text>
<text x="113.0" y="706.7" font-size="7.48" text-anchor="start" fill="#000" textLength="4.8" lengthAdjust="spacingAndGlyphs">6</text>
<text x="113.0" y="717.1" font-size="7.48" text-anchor="start" fill="#000" textLength="4.8" lengthAdjust="spacingAndGlyphs">4</text>
<text x="113.0" y="729.1" font-size="7.48" text-anchor="start" fill="#000" textLength="4.8" lengthAdjust="spacingAndGlyphs">2</text>
<text x="113.0" y="739.9" font-size="7.48" text-anchor="start" fill="#000" textLength="4.8" lengthAdjust="spacingAndGlyphs">0</text>
<text x="64.8" y="531.1" font-size="8.70" text-anchor="middle" fill="#000" textLength="45.6" lengthAdjust="spacingAndGlyphs">ATAC-seq</text>
<text x="34.7" y="543.0" font-size="8.70" text-anchor="start" fill="#000" textLength="19.9" lengthAdjust="spacingAndGlyphs">M3<tspan font-size="5.04" dy="-2.78" fill="#000">f/f</tspan></text>
<text x="74.1" y="543.0" font-size="8.70" text-anchor="start" fill="#000" textLength="22.9" lengthAdjust="spacingAndGlyphs">M3<tspan font-size="5.04" dy="-2.78" fill="#000">d/d</tspan></text>
<line x1="26.4" y1="544.4" x2="58.1" y2="544.4" stroke="#000" stroke-width="1.1"/>
<line x1="69.0" y1="544.4" x2="100.4" y2="544.4" stroke="#000" stroke-width="1.1"/>
<text x="15.2" y="603.5" font-size="9.60" text-anchor="middle" fill="#000" textLength="49.5" lengthAdjust="spacingAndGlyphs" transform="rotate(-90 15.2 600.0)">Closed sites</text>
<text x="14.8" y="698.0" font-size="9.60" text-anchor="middle" fill="#000" textLength="53.0" lengthAdjust="spacingAndGlyphs" transform="rotate(-90 14.8 694.5)">Opened sites</text>
<line x1="21.3" y1="744.8" x2="59.8" y2="744.8" stroke="#000" stroke-width="1.0"/>
<line x1="21.3" y1="743.0" x2="21.3" y2="744.8" stroke="#000" stroke-width="1.0"/>
<line x1="59.8" y1="743.0" x2="59.8" y2="744.8" stroke="#000" stroke-width="1.0"/>
<text x="14.2" y="755.6" font-size="7.13" text-anchor="start" fill="#000" textLength="12.4" lengthAdjust="spacingAndGlyphs">-3.0</text>
<text x="30.4" y="755.6" font-size="7.13" text-anchor="start" fill="#000" textLength="21.2" lengthAdjust="spacingAndGlyphs">center</text>
<text x="55.0" y="755.6" font-size="7.13" text-anchor="start" fill="#000" textLength="20.0" lengthAdjust="spacingAndGlyphs">3.0 kb</text>
<g filter="url(#fG)">
<rect x="15.5" y="271.7" width="24.1" height="3.7" fill="rgb(89,89,89)"/>
<linearGradient id="g832" x1="0" y1="0" x2="0" y2="1"><stop offset="0.000" stop-color="rgb(178,178,178)"/><stop offset="0.500" stop-color="rgb(153,153,153)"/><stop offset="1.000" stop-color="rgb(122,122,122)"/></linearGradient>
<rect x="15.5" y="275.4" width="24.1" height="30.0" fill="url(#g832)"/>
<linearGradient id="g834" x1="0" y1="0" x2="1" y2="0"><stop offset="0.168" stop-color="#fff" stop-opacity="0"/><stop offset="0.500" stop-color="#fff" stop-opacity="0.12"/><stop offset="0.832" stop-color="#fff" stop-opacity="0"/></linearGradient>
<rect x="15.5" y="275.4" width="24.1" height="30.0" fill="url(#g834)"/>
<rect x="15.5" y="305.4" width="24.1" height="14.9" fill="rgb(64,64,64)"/>
<rect x="15.5" y="320.3" width="24.1" height="36.3" fill="rgb(71,71,71)"/>
<linearGradient id="g838" x1="0" y1="0" x2="1" y2="0"><stop offset="0.355" stop-color="#fff" stop-opacity="0"/><stop offset="0.500" stop-color="#fff" stop-opacity="0.50"/><stop offset="0.645" stop-color="#fff" stop-opacity="0"/></linearGradient>
<rect x="15.5" y="320.3" width="24.1" height="36.3" fill="url(#g838)"/>
<linearGradient id="g840" x1="0" y1="0" x2="0" y2="1"><stop offset="0.000" stop-color="rgb(112,112,112)"/><stop offset="0.120" stop-color="rgb(87,87,87)"/><stop offset="0.500" stop-color="rgb(76,76,76)"/><stop offset="1.000" stop-color="rgb(56,56,56)"/></linearGradient>
<rect x="15.5" y="356.6" width="24.1" height="59.0" fill="url(#g840)"/>
<linearGradient id="g842" x1="0" y1="0" x2="0" y2="1"><stop offset="0.000" stop-color="rgb(54,54,54)"/><stop offset="0.400" stop-color="rgb(38,38,38)"/><stop offset="1.000" stop-color="rgb(0,0,0)"/></linearGradient>
<rect x="15.5" y="415.6" width="24.1" height="62.2" fill="url(#g842)"/>
<linearGradient id="g844" x1="0" y1="0" x2="1" y2="0"><stop offset="0.376" stop-color="#fff" stop-opacity="0"/><stop offset="0.500" stop-color="#fff" stop-opacity="0.08"/><stop offset="0.624" stop-color="#fff" stop-opacity="0"/></linearGradient>
<rect x="15.5" y="415.6" width="24.1" height="62.2" fill="url(#g844)"/>
<rect x="42.1" y="271.7" width="23.9" height="3.7" fill="rgb(76,76,76)"/>
<linearGradient id="g847" x1="0" y1="0" x2="0" y2="1"><stop offset="0.000" stop-color="rgb(166,166,166)"/><stop offset="0.500" stop-color="rgb(140,140,140)"/><stop offset="1.000" stop-color="rgb(110,110,110)"/></linearGradient>
<rect x="42.1" y="275.4" width="23.9" height="30.0" fill="url(#g847)"/>
<linearGradient id="g849" x1="0" y1="0" x2="1" y2="0"><stop offset="0.165" stop-color="#fff" stop-opacity="0"/><stop offset="0.500" stop-color="#fff" stop-opacity="0.12"/><stop offset="0.835" stop-color="#fff" stop-opacity="0"/></linearGradient>
<rect x="42.1" y="275.4" width="23.9" height="30.0" fill="url(#g849)"/>
<rect x="42.1" y="305.4" width="23.9" height="14.9" fill="rgb(56,56,56)"/>
<rect x="42.1" y="320.3" width="23.9" height="36.3" fill="rgb(64,64,64)"/>
<linearGradient id="g853" x1="0" y1="0" x2="1" y2="0"><stop offset="0.354" stop-color="#fff" stop-opacity="0"/><stop offset="0.500" stop-color="#fff" stop-opacity="0.42"/><stop offset="0.646" stop-color="#fff" stop-opacity="0"/></linearGradient>
<rect x="42.1" y="320.3" width="23.9" height="36.3" fill="url(#g853)"/>
<linearGradient id="g855" x1="0" y1="0" x2="0" y2="1"><stop offset="0.000" stop-color="rgb(107,107,107)"/><stop offset="0.120" stop-color="rgb(82,82,82)"/><stop offset="0.500" stop-color="rgb(71,71,71)"/><stop offset="1.000" stop-color="rgb(51,51,51)"/></linearGradient>
<rect x="42.1" y="356.6" width="23.9" height="59.0" fill="url(#g855)"/>
<linearGradient id="g857" x1="0" y1="0" x2="0" y2="1"><stop offset="0.000" stop-color="rgb(46,46,46)"/><stop offset="0.400" stop-color="rgb(31,31,31)"/><stop offset="1.000" stop-color="rgb(0,0,0)"/></linearGradient>
<rect x="42.1" y="415.6" width="23.9" height="62.2" fill="url(#g857)"/>
<rect x="119.8" y="271.7" width="23.9" height="3.7" fill="rgb(217,217,217)"/>
<linearGradient id="g860" x1="0" y1="0" x2="0" y2="1"><stop offset="0.000" stop-color="rgb(107,107,107)"/><stop offset="0.500" stop-color="rgb(82,82,82)"/><stop offset="1.000" stop-color="rgb(51,51,51)"/></linearGradient>
<rect x="119.8" y="275.4" width="23.9" height="30.0" fill="url(#g860)"/>
<rect x="119.8" y="305.4" width="23.9" height="14.9" fill="rgb(153,153,153)"/>
<rect x="119.8" y="320.3" width="23.9" height="36.3" fill="rgb(38,38,38)"/>
<linearGradient id="g864" x1="0" y1="0" x2="1" y2="0"><stop offset="0.354" stop-color="#fff" stop-opacity="0"/><stop offset="0.500" stop-color="#fff" stop-opacity="0.10"/><stop offset="0.646" stop-color="#fff" stop-opacity="0"/></linearGradient>
<rect x="119.8" y="320.3" width="23.9" height="36.3" fill="url(#g864)"/>
<linearGradient id="g866" x1="0" y1="0" x2="0" y2="1"><stop offset="0.000" stop-color="rgb(107,107,107)"/><stop offset="0.120" stop-color="rgb(82,82,82)"/><stop offset="0.500" stop-color="rgb(71,71,71)"/><stop offset="1.000" stop-color="rgb(51,51,51)"/></linearGradient>
<rect x="119.8" y="356.6" width="23.9" height="59.0" fill="url(#g866)"/>
<linearGradient id="g868" x1="0" y1="0" x2="0" y2="1"><stop offset="0.000" stop-color="rgb(41,41,41)"/><stop offset="0.400" stop-color="rgb(26,26,26)"/><stop offset="1.000" stop-color="rgb(0,0,0)"/></linearGradient>
<rect x="119.8" y="415.6" width="23.9" height="62.2" fill="url(#g868)"/>
<rect x="146.4" y="271.7" width="23.9" height="3.7" fill="rgb(178,178,178)"/>
<linearGradient id="g871" x1="0" y1="0" x2="0" y2="1"><stop offset="0.000" stop-color="rgb(102,102,102)"/><stop offset="0.500" stop-color="rgb(76,76,76)"/><stop offset="1.000" stop-color="rgb(46,46,46)"/></linearGradient>
<rect x="146.4" y="275.4" width="23.9" height="30.0" fill="url(#g871)"/>
<rect x="146.4" y="305.4" width="23.9" height="14.9" fill="rgb(122,122,122)"/>
<rect x="146.4" y="320.3" width="23.9" height="36.3" fill="rgb(33,33,33)"/>
<linearGradient id="g875" x1="0" y1="0" x2="1" y2="0"><stop offset="0.354" stop-color="#fff" stop-opacity="0"/><stop offset="0.500" stop-color="#fff" stop-opacity="0.08"/><stop offset="0.646" stop-color="#fff" stop-opacity="0"/></linearGradient>
<rect x="146.4" y="320.3" width="23.9" height="36.3" fill="url(#g875)"/>
<linearGradient id="g877" x1="0" y1="0" x2="0" y2="1"><stop offset="0.000" stop-color="rgb(99,99,99)"/><stop offset="0.120" stop-color="rgb(74,74,74)"/><stop offset="0.500" stop-color="rgb(64,64,64)"/><stop offset="1.000" stop-color="rgb(43,43,43)"/></linearGradient>
<rect x="146.4" y="356.6" width="23.9" height="59.0" fill="url(#g877)"/>
<linearGradient id="g879" x1="0" y1="0" x2="0" y2="1"><stop offset="0.000" stop-color="rgb(36,36,36)"/><stop offset="0.400" stop-color="rgb(20,20,20)"/><stop offset="1.000" stop-color="rgb(0,0,0)"/></linearGradient>
<rect x="146.4" y="415.6" width="23.9" height="62.2" fill="url(#g879)"/>
</g>
<g filter="url(#fO)">
<rect x="68.8" y="271.7" width="23.9" height="3.7" fill="rgb(76,76,76)"/>
<linearGradient id="g884" x1="0" y1="0" x2="0" y2="1"><stop offset="0.000" stop-color="rgb(189,189,189)"/><stop offset="0.500" stop-color="rgb(163,163,163)"/><stop offset="1.000" stop-color="rgb(133,133,133)"/></linearGradient>
<rect x="68.8" y="275.4" width="23.9" height="30.0" fill="url(#g884)"/>
<linearGradient id="g886" x1="0" y1="0" x2="1" y2="0"><stop offset="0.165" stop-color="#fff" stop-opacity="0"/><stop offset="0.500" stop-color="#fff" stop-opacity="0.12"/><stop offset="0.835" stop-color="#fff" stop-opacity="0"/></linearGradient>
<rect x="68.8" y="275.4" width="23.9" height="30.0" fill="url(#g886)"/>
<rect x="68.8" y="305.4" width="23.9" height="14.9" fill="rgb(76,76,76)"/>
<rect x="68.8" y="320.3" width="23.9" height="36.3" fill="rgb(84,84,84)"/>
<linearGradient id="g890" x1="0" y1="0" x2="1" y2="0"><stop offset="0.312" stop-color="#fff" stop-opacity="0"/><stop offset="0.500" stop-color="#fff" stop-opacity="0.62"/><stop offset="0.688" stop-color="#fff" stop-opacity="0"/></linearGradient>
<rect x="68.8" y="320.3" width="23.9" height="36.3" fill="url(#g890)"/>
<linearGradient id="g892" x1="0" y1="0" x2="0" y2="1"><stop offset="0.000" stop-color="rgb(138,138,138)"/><stop offset="0.120" stop-color="rgb(112,112,112)"/><stop offset="0.500" stop-color="rgb(102,102,102)"/><stop offset="1.000" stop-color="rgb(82,82,82)"/></linearGradient>
<rect x="68.8" y="356.6" width="23.9" height="59.0" fill="url(#g892)"/>
<linearGradient id="g894" x1="0" y1="0" x2="1" y2="0"><stop offset="0.291" stop-color="#fff" stop-opacity="0"/><stop offset="0.500" stop-color="#fff" stop-opacity="0.12"/><stop offset="0.709" stop-color="#fff" stop-opacity="0"/></linearGradient>
<rect x="68.8" y="356.6" width="23.9" height="59.0" fill="url(#g894)"/>
<linearGradient id="g896" x1="0" y1="0" x2="0" y2="1"><stop offset="0.000" stop-color="rgb(87,87,87)"/><stop offset="0.400" stop-color="rgb(71,71,71)"/><stop offset="1.000" stop-color="rgb(31,31,31)"/></linearGradient>
<rect x="68.8" y="415.6" width="23.9" height="62.2" fill="url(#g896)"/>
<linearGradient id="g898" x1="0" y1="0" x2="1" y2="0"><stop offset="0.374" stop-color="#fff" stop-opacity="0"/><stop offset="0.500" stop-color="#fff" stop-opacity="0.08"/><stop offset="0.626" stop-color="#fff" stop-opacity="0"/></linearGradient>
<rect x="68.8" y="415.6" width="23.9" height="62.2" fill="url(#g898)"/>
<rect x="95.2" y="271.7" width="23.6" height="3.7" fill="rgb(76,76,76)"/>
<linearGradient id="g901" x1="0" y1="0" x2="0" y2="1"><stop offset="0.000" stop-color="rgb(189,189,189)"/><stop offset="0.500" stop-color="rgb(163,163,163)"/><stop offset="1.000" stop-color="rgb(133,133,133)"/></linearGradient>
<rect x="95.2" y="275.4" width="23.6" height="30.0" fill="url(#g901)"/>
<linearGradient id="g903" x1="0" y1="0" x2="1" y2="0"><stop offset="0.161" stop-color="#fff" stop-opacity="0"/><stop offset="0.500" stop-color="#fff" stop-opacity="0.12"/><stop offset="0.839" stop-color="#fff" stop-opacity="0"/></linearGradient>
<rect x="95.2" y="275.4" width="23.6" height="30.0" fill="url(#g903)"/>
<rect x="95.2" y="305.4" width="23.6" height="14.9" fill="rgb(71,71,71)"/>
<rect x="95.2" y="320.3" width="23.6" height="36.3" fill="rgb(76,76,76)"/>
<linearGradient id="g907" x1="0" y1="0" x2="1" y2="0"><stop offset="0.309" stop-color="#fff" stop-opacity="0"/><stop offset="0.500" stop-color="#fff" stop-opacity="0.66"/><stop offset="0.691" stop-color="#fff" stop-opacity="0"/></linearGradient>
<rect x="95.2" y="320.3" width="23.6" height="36.3" fill="url(#g907)"/>
<linearGradient id="g909" x1="0" y1="0" x2="0" y2="1"><stop offset="0.000" stop-color="rgb(133,133,133)"/><stop offset="0.120" stop-color="rgb(107,107,107)"/><stop offset="0.500" stop-color="rgb(97,97,97)"/><stop offset="1.000" stop-color="rgb(76,76,76)"/></linearGradient>
<rect x="95.2" y="356.6" width="23.6" height="59.0" fill="url(#g909)"/>
<linearGradient id="g911" x1="0" y1="0" x2="1" y2="0"><stop offset="0.288" stop-color="#fff" stop-opacity="0"/><stop offset="0.500" stop-color="#fff" stop-opacity="0.12"/><stop offset="0.712" stop-color="#fff" stop-opacity="0"/></linearGradient>
<rect x="95.2" y="356.6" width="23.6" height="59.0" fill="url(#g911)"/>
<linearGradient id="g913" x1="0" y1="0" x2="0" y2="1"><stop offset="0.000" stop-color="rgb(82,82,82)"/><stop offset="0.400" stop-color="rgb(66,66,66)"/><stop offset="1.000" stop-color="rgb(26,26,26)"/></linearGradient>
<rect x="95.2" y="415.6" width="23.6" height="62.2" fill="url(#g913)"/>
<linearGradient id="g915" x1="0" y1="0" x2="1" y2="0"><stop offset="0.373" stop-color="#fff" stop-opacity="0"/><stop offset="0.500" stop-color="#fff" stop-opacity="0.08"/><stop offset="0.627" stop-color="#fff" stop-opacity="0"/></linearGradient>
<rect x="95.2" y="415.6" width="23.6" height="62.2" fill="url(#g915)"/>
<rect x="173.0" y="271.7" width="24.4" height="3.7" fill="rgb(230,230,230)"/>
<linearGradient id="g918" x1="0" y1="0" x2="0" y2="1"><stop offset="0.000" stop-color="rgb(133,133,133)"/><stop offset="0.500" stop-color="rgb(107,107,107)"/><stop offset="1.000" stop-color="rgb(76,76,76)"/></linearGradient>
<rect x="173.0" y="275.4" width="24.4" height="30.0" fill="url(#g918)"/>
<rect x="173.0" y="305.4" width="24.4" height="14.9" fill="rgb(168,168,168)"/>
<rect x="173.0" y="320.3" width="24.4" height="36.3" fill="rgb(51,51,51)"/>
<linearGradient id="g922" x1="0" y1="0" x2="1" y2="0"><stop offset="0.357" stop-color="#fff" stop-opacity="0"/><stop offset="0.500" stop-color="#fff" stop-opacity="0.12"/><stop offset="0.643" stop-color="#fff" stop-opacity="0"/></linearGradient>
<rect x="173.0" y="320.3" width="24.4" height="36.3" fill="url(#g922)"/>
<linearGradient id="g924" x1="0" y1="0" x2="0" y2="1"><stop offset="0.000" stop-color="rgb(125,125,125)"/><stop offset="0.120" stop-color="rgb(99,99,99)"/><stop offset="0.500" stop-color="rgb(89,89,89)"/><stop offset="1.000" stop-color="rgb(69,69,69)"/></linearGradient>
<rect x="173.0" y="356.6" width="24.4" height="59.0" fill="url(#g924)"/>
<linearGradient id="g926" x1="0" y1="0" x2="0" y2="1"><stop offset="0.000" stop-color="rgb(61,61,61)"/><stop offset="0.400" stop-color="rgb(46,46,46)"/><stop offset="1.000" stop-color="rgb(5,5,5)"/></linearGradient>
<rect x="173.0" y="415.6" width="24.4" height="62.2" fill="url(#g926)"/>
<rect x="199.3" y="271.7" width="24.1" height="3.7" fill="rgb(217,217,217)"/>
<linearGradient id="g929" x1="0" y1="0" x2="0" y2="1"><stop offset="0.000" stop-color="rgb(122,122,122)"/><stop offset="0.500" stop-color="rgb(97,97,97)"/><stop offset="1.000" stop-color="rgb(66,66,66)"/></linearGradient>
<rect x="199.3" y="275.4" width="24.1" height="30.0" fill="url(#g929)"/>
<rect x="199.3" y="305.4" width="24.1" height="14.9" fill="rgb(153,153,153)"/>
<rect x="199.3" y="320.3" width="24.1" height="36.3" fill="rgb(46,46,46)"/>
<linearGradient id="g933" x1="0" y1="0" x2="1" y2="0"><stop offset="0.355" stop-color="#fff" stop-opacity="0"/><stop offset="0.500" stop-color="#fff" stop-opacity="0.12"/><stop offset="0.645" stop-color="#fff" stop-opacity="0"/></linearGradient>
<rect x="199.3" y="320.3" width="24.1" height="36.3" fill="url(#g933)"/>
<linearGradient id="g935" x1="0" y1="0" x2="0" y2="1"><stop offset="0.000" stop-color="rgb(117,117,117)"/><stop offset="0.120" stop-color="rgb(92,92,92)"/><stop offset="0.500" stop-color="rgb(82,82,82)"/><stop offset="1.000" stop-color="rgb(61,61,61)"/></linearGradient>
<rect x="199.3" y="356.6" width="24.1" height="59.0" fill="url(#g935)"/>
<linearGradient id="g937" x1="0" y1="0" x2="0" y2="1"><stop offset="0.000" stop-color="rgb(54,54,54)"/><stop offset="0.400" stop-color="rgb(38,38,38)"/><stop offset="1.000" stop-color="rgb(0,0,0)"/></linearGradient>
<rect x="199.3" y="415.6" width="24.1" height="62.2" fill="url(#g937)"/>
</g>
<rect x="15.5" y="270.6" width="24.1" height="207.2" fill="none" stroke="#a0a0a0" stroke-width="0.8"/>
<rect x="15.5" y="271.0" width="24.1" height="1.3" fill="#8c8c8c"/>
<rect x="15.5" y="274.7" width="24.1" height="1.3" fill="#8c8c8c"/>
<rect x="15.5" y="304.7" width="24.1" height="1.3" fill="#8c8c8c"/>
<rect x="15.5" y="319.6" width="24.1" height="1.3" fill="#8c8c8c"/>
<rect x="15.5" y="355.9" width="24.1" height="1.3" fill="#8c8c8c"/>
<rect x="15.5" y="414.9" width="24.1" height="1.3" fill="#8c8c8c"/>
<rect x="15.5" y="270.2" width="24.1" height="1.6" fill="#8c8c8c"/>
<rect x="42.1" y="270.6" width="23.9" height="207.2" fill="none" stroke="#a0a0a0" stroke-width="0.8"/>
<rect x="42.1" y="271.0" width="23.9" height="1.3" fill="#8c8c8c"/>
<rect x="42.1" y="274.7" width="23.9" height="1.3" fill="#8c8c8c"/>
<rect x="42.1" y="304.7" width="23.9" height="1.3" fill="#8c8c8c"/>
<rect x="42.1" y="319.6" width="23.9" height="1.3" fill="#8c8c8c"/>
<rect x="42.1" y="355.9" width="23.9" height="1.3" fill="#8c8c8c"/>
<rect x="42.1" y="414.9" width="23.9" height="1.3" fill="#8c8c8c"/>
<rect x="42.1" y="270.2" width="23.9" height="1.6" fill="#8c8c8c"/>
<rect x="68.8" y="270.6" width="23.9" height="207.2" fill="none" stroke="#a0a0a0" stroke-width="0.8"/>
<rect x="68.8" y="271.0" width="23.9" height="1.3" fill="#8c8c8c"/>
<rect x="68.8" y="274.7" width="23.9" height="1.3" fill="#8c8c8c"/>
<rect x="68.8" y="304.7" width="23.9" height="1.3" fill="#8c8c8c"/>
<rect x="68.8" y="319.6" width="23.9" height="1.3" fill="#8c8c8c"/>
<rect x="68.8" y="355.9" width="23.9" height="1.3" fill="#8c8c8c"/>
<rect x="68.8" y="414.9" width="23.9" height="1.3" fill="#8c8c8c"/>
<rect x="68.8" y="270.2" width="23.9" height="1.6" fill="#8c8c8c"/>
<rect x="95.2" y="270.6" width="23.6" height="207.2" fill="none" stroke="#a0a0a0" stroke-width="0.8"/>
<rect x="95.2" y="271.0" width="23.6" height="1.3" fill="#8c8c8c"/>
<rect x="95.2" y="274.7" width="23.6" height="1.3" fill="#8c8c8c"/>
<rect x="95.2" y="304.7" width="23.6" height="1.3" fill="#8c8c8c"/>
<rect x="95.2" y="319.6" width="23.6" height="1.3" fill="#8c8c8c"/>
<rect x="95.2" y="355.9" width="23.6" height="1.3" fill="#8c8c8c"/>
<rect x="95.2" y="414.9" width="23.6" height="1.3" fill="#8c8c8c"/>
<rect x="95.2" y="270.2" width="23.6" height="1.6" fill="#8c8c8c"/>
<rect x="119.8" y="270.6" width="23.9" height="207.2" fill="none" stroke="#a0a0a0" stroke-width="0.8"/>
<rect x="119.8" y="271.0" width="23.9" height="1.3" fill="#8c8c8c"/>
<rect x="119.8" y="274.7" width="23.9" height="1.3" fill="#8c8c8c"/>
<rect x="119.8" y="304.7" width="23.9" height="1.3" fill="#8c8c8c"/>
<rect x="119.8" y="319.6" width="23.9" height="1.3" fill="#8c8c8c"/>
<rect x="119.8" y="355.9" width="23.9" height="1.3" fill="#8c8c8c"/>
<rect x="119.8" y="414.9" width="23.9" height="1.3" fill="#8c8c8c"/>
<rect x="119.8" y="270.2" width="23.9" height="1.6" fill="#8c8c8c"/>
<rect x="146.4" y="270.6" width="23.9" height="207.2" fill="none" stroke="#a0a0a0" stroke-width="0.8"/>
<rect x="146.4" y="271.0" width="23.9" height="1.3" fill="#8c8c8c"/>
<rect x="146.4" y="274.7" width="23.9" height="1.3" fill="#8c8c8c"/>
<rect x="146.4" y="304.7" width="23.9" height="1.3" fill="#8c8c8c"/>
<rect x="146.4" y="319.6" width="23.9" height="1.3" fill="#8c8c8c"/>
<rect x="146.4" y="355.9" width="23.9" height="1.3" fill="#8c8c8c"/>
<rect x="146.4" y="414.9" width="23.9" height="1.3" fill="#8c8c8c"/>
<rect x="146.4" y="270.2" width="23.9" height="1.6" fill="#8c8c8c"/>
<rect x="173.0" y="270.6" width="24.4" height="207.2" fill="none" stroke="#a0a0a0" stroke-width="0.8"/>
<rect x="173.0" y="271.0" width="24.4" height="1.3" fill="#8c8c8c"/>
<rect x="173.0" y="274.7" width="24.4" height="1.3" fill="#8c8c8c"/>
<rect x="173.0" y="304.7" width="24.4" height="1.3" fill="#8c8c8c"/>
<rect x="173.0" y="319.6" width="24.4" height="1.3" fill="#8c8c8c"/>
<rect x="173.0" y="355.9" width="24.4" height="1.3" fill="#8c8c8c"/>
<rect x="173.0" y="414.9" width="24.4" height="1.3" fill="#8c8c8c"/>
<rect x="173.0" y="270.2" width="24.4" height="1.6" fill="#8c8c8c"/>
<rect x="199.3" y="270.6" width="24.1" height="207.2" fill="none" stroke="#a0a0a0" stroke-width="0.8"/>
<rect x="199.3" y="271.0" width="24.1" height="1.3" fill="#8c8c8c"/>
<rect x="199.3" y="274.7" width="24.1" height="1.3" fill="#8c8c8c"/>
<rect x="199.3" y="304.7" width="24.1" height="1.3" fill="#8c8c8c"/>
<rect x="199.3" y="319.6" width="24.1" height="1.3" fill="#8c8c8c"/>
<rect x="199.3" y="355.9" width="24.1" height="1.3" fill="#8c8c8c"/>
<rect x="199.3" y="414.9" width="24.1" height="1.3" fill="#8c8c8c"/>
<rect x="199.3" y="270.2" width="24.1" height="1.6" fill="#8c8c8c"/>
<text x="69.0" y="256.7" font-size="8.70" text-anchor="middle" fill="#000" textLength="51.6" lengthAdjust="spacingAndGlyphs">H3K27me3</text>
<text x="173.0" y="257.1" font-size="8.70" text-anchor="middle" fill="#000" textLength="42.0" lengthAdjust="spacingAndGlyphs">H3K27ac</text>
<text x="34.0" y="266.1" font-size="8.70" text-anchor="start" fill="#000" textLength="22.5" lengthAdjust="spacingAndGlyphs">M3<tspan font-size="5.04" dy="-2.78" fill="#000">f/f</tspan></text>
<text x="83.5" y="266.1" font-size="8.70" text-anchor="start" fill="#000" textLength="23.5" lengthAdjust="spacingAndGlyphs">M3<tspan font-size="5.04" dy="-2.78" fill="#000">d/d</tspan></text>
<text x="138.0" y="266.1" font-size="8.70" text-anchor="start" fill="#000" textLength="22.0" lengthAdjust="spacingAndGlyphs">M3<tspan font-size="5.04" dy="-2.78" fill="#000">f/f</tspan></text>
<text x="187.0" y="266.1" font-size="8.70" text-anchor="start" fill="#000" textLength="23.0" lengthAdjust="spacingAndGlyphs">M3<tspan font-size="5.04" dy="-2.78" fill="#000">d/d</tspan></text>
<line x1="25.3" y1="267.7" x2="57.0" y2="267.7" stroke="#000" stroke-width="1.1"/>
<line x1="76.2" y1="267.7" x2="107.9" y2="267.7" stroke="#000" stroke-width="1.1"/>
<line x1="128.9" y1="267.7" x2="160.8" y2="267.7" stroke="#000" stroke-width="1.1"/>
<line x1="180.0" y1="267.7" x2="211.6" y2="267.7" stroke="#000" stroke-width="1.1"/>
<text x="10.2" y="303.9" font-size="9.60" text-anchor="middle" fill="#000" textLength="28.0" lengthAdjust="spacingAndGlyphs" transform="rotate(-90 10.2 300.4)">C1-C5</text>
<text x="10.5" y="343.4" font-size="9.60" text-anchor="middle" fill="#000" textLength="12.9" lengthAdjust="spacingAndGlyphs" transform="rotate(-90 10.5 339.9)">C6</text>
<text x="10.5" y="389.2" font-size="9.60" text-anchor="middle" fill="#000" textLength="13.1" lengthAdjust="spacingAndGlyphs" transform="rotate(-90 10.5 385.7)">C7</text>
<text x="10.5" y="449.1" font-size="9.60" text-anchor="middle" fill="#000" textLength="12.7" lengthAdjust="spacingAndGlyphs" transform="rotate(-90 10.5 445.6)">C8</text>
<line x1="22.6" y1="484.0" x2="61.3" y2="484.0" stroke="#000" stroke-width="1.0"/>
<line x1="22.6" y1="482.2" x2="22.6" y2="484.0" stroke="#000" stroke-width="1.0"/>
<line x1="61.3" y1="482.2" x2="61.3" y2="484.0" stroke="#000" stroke-width="1.0"/>
<text x="14.6" y="493.7" font-size="6.78" text-anchor="start" fill="#000" textLength="12.8" lengthAdjust="spacingAndGlyphs">-3.0</text>
<text x="31.0" y="493.7" font-size="6.78" text-anchor="start" fill="#000" textLength="21.9" lengthAdjust="spacingAndGlyphs">center</text>
<text x="55.8" y="493.7" font-size="6.78" text-anchor="start" fill="#000" textLength="20.8" lengthAdjust="spacingAndGlyphs">3.0 kb</text>
<text x="140.5" y="492.9" font-size="6.26" text-anchor="start" fill="#000" textLength="14.5" lengthAdjust="spacingAndGlyphs">Low</text>
<text x="205.0" y="492.9" font-size="6.26" text-anchor="start" fill="#000" textLength="15.8" lengthAdjust="spacingAndGlyphs">High</text>
<rect x="158.8" y="485.0" width="43.0" height="4.5" fill="url(#cbG)"/>
<rect x="158.8" y="493.5" width="43.0" height="4.5" fill="url(#cbO)"/>
<text x="157.7" y="507.9" font-size="6.26" text-anchor="start" fill="#000" textLength="43.0" lengthAdjust="spacingAndGlyphs">Peak density</text>
<linearGradient id="trap" x1="0" y1="0" x2="1" y2="0"><stop offset="0" stop-color="#62c4f0"/><stop offset="1" stop-color="#cdeefb"/></linearGradient>
<path d="M225.5,322.8 L258.0,329.3 L258.0,355.8 L225.5,355.5Z" fill="url(#trap)"/>
</svg>
</body></html>
